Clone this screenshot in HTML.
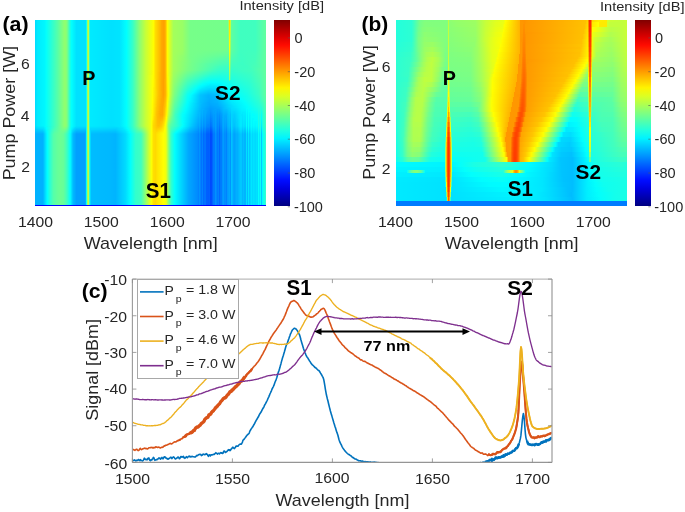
<!DOCTYPE html>
<html><head><meta charset="utf-8"><style>
html,body{margin:0;padding:0;background:#fff;}
body{width:685px;height:512px;position:relative;overflow:hidden;font-family:"Liberation Sans",sans-serif;}
.hm{position:absolute;overflow:hidden;}
.hm div{position:absolute;left:0;width:100%;}
.cb{position:absolute;background:linear-gradient(180deg,#800000 0.00%,#ae0000 4.55%,#dc0000 9.09%,#ff0c00 13.64%,#ff3a00 18.18%,#ff6800 22.73%,#ff9700 27.27%,#ffc500 31.82%,#fff300 36.36%,#dcff23 40.91%,#aeff51 45.45%,#80ff80 50.00%,#51ffae 54.55%,#23ffdc 59.09%,#00f3ff 63.64%,#00c5ff 68.18%,#0097ff 72.73%,#0068ff 77.27%,#003aff 81.82%,#000cff 86.36%,#0000dc 90.91%,#0000ae 95.45%,#000080 100.00%);}
svg{position:absolute;left:0;top:0;}
</style></head><body>
<div style="position:absolute;left:0;top:0;width:685px;height:512px;filter:blur(0.35px)">
<div class="hm" style="left:35px;top:20px;width:231px;height:186px">
<div style="top:0px;height:1px;background:linear-gradient(90deg,#00dcff 0px,#00ebff 2.5px,#00f7ff 9.5px,#06fff9 11.5px,#56ffa9 22.5px,#89ff76 28.5px,#8fff70 29.5px,#8dff72 30.5px,#84ff7b 31.5px,#6fff90 32.5px,#15ffea 35.5px,#03fffc 36.5px,#00e1ff 41.5px,#00e1ff 50.5px,#0bfff4 51.5px,#9dff62 52.5px,#c1ff3e 53.5px,#2effd1 54.5px,#00eaff 55.5px,#00e1ff 76.5px,#00e4ff 84.5px,#01fffe 91.5px,#35ffca 97.5px,#8bff74 104.5px,#c5ff3a 110.5px,#fffd00 118.5px,#ffdc00 120.5px,#ffb400 125.5px,#ffa900 126.5px,#ffa100 128.5px,#ffa500 129.5px,#ffb500 130.5px,#fffd00 132.5px,#ccff33 135.5px,#a4ff5b 138.5px,#99ff66 147.5px,#76ff89 155.5px,#74ff8b 191.5px,#6fff90 192.5px,#9fff60 193.5px,#ffd900 194.5px,#ccff33 195.5px,#5dffa2 196.5px,#3fffc0 205.5px,#40ffbf 220.5px,#62ff9d 231px)"></div>
<div style="top:1px;height:1px;background:linear-gradient(90deg,#00dcff 0px,#00ebff 2.5px,#00f7ff 9.5px,#06fff9 11.5px,#56ffa9 22.5px,#89ff76 28.5px,#8fff70 29.5px,#8dff72 30.5px,#84ff7b 31.5px,#6fff90 32.5px,#15ffea 35.5px,#03fffc 36.5px,#00e1ff 41.5px,#00e1ff 50.5px,#0bfff4 51.5px,#9dff62 52.5px,#c1ff3e 53.5px,#2effd1 54.5px,#00eaff 55.5px,#00e1ff 76.5px,#00e4ff 84.5px,#01fffe 91.5px,#35ffca 97.5px,#8bff74 104.5px,#c5ff3a 110.5px,#fffd00 118.5px,#ffdc00 120.5px,#ffb400 125.5px,#ffa900 126.5px,#ffa100 128.5px,#ffa500 129.5px,#ffb500 130.5px,#fffd00 132.5px,#ccff33 135.5px,#a4ff5b 138.5px,#99ff66 147.5px,#76ff89 155.5px,#74ff8b 191.5px,#6fff90 192.5px,#9dff62 193.5px,#ffdb00 194.5px,#caff35 195.5px,#5dffa2 196.5px,#3fffc0 205.5px,#40ffbf 220.5px,#62ff9d 231px)"></div>
<div style="top:2px;height:1px;background:linear-gradient(90deg,#00dcff 0px,#00ebff 2.5px,#00f7ff 9.5px,#06fff9 11.5px,#56ffa9 22.5px,#89ff76 28.5px,#8fff70 29.5px,#8dff72 30.5px,#84ff7b 31.5px,#6fff90 32.5px,#15ffea 35.5px,#03fffc 36.5px,#00e1ff 41.5px,#00e1ff 50.5px,#0bfff4 51.5px,#9dff62 52.5px,#c1ff3e 53.5px,#2effd1 54.5px,#00eaff 55.5px,#00e1ff 76.5px,#00e4ff 84.5px,#01fffe 91.5px,#35ffca 97.5px,#8bff74 104.5px,#c5ff3a 110.5px,#fffd00 118.5px,#ffdc00 120.5px,#ffb400 125.5px,#ffa900 126.5px,#ffa100 128.5px,#ffa500 129.5px,#ffb500 130.5px,#fffd00 132.5px,#ccff33 135.5px,#a4ff5b 138.5px,#99ff66 147.5px,#76ff89 155.5px,#74ff8b 191.5px,#6fff90 192.5px,#9cff63 193.5px,#ffdd00 194.5px,#c8ff37 195.5px,#5dffa2 196.5px,#3fffc0 205.5px,#40ffbf 220.5px,#62ff9d 231px)"></div>
<div style="top:3px;height:1px;background:linear-gradient(90deg,#00dcff 0px,#00ebff 2.5px,#00f7ff 9.5px,#06fff9 11.5px,#56ffa9 22.5px,#89ff76 28.5px,#8fff70 29.5px,#8dff72 30.5px,#84ff7b 31.5px,#6fff90 32.5px,#15ffea 35.5px,#03fffc 36.5px,#00e1ff 41.5px,#00e1ff 50.5px,#0bfff4 51.5px,#9dff62 52.5px,#c1ff3e 53.5px,#2effd1 54.5px,#00eaff 55.5px,#00e1ff 76.5px,#00e4ff 84.5px,#01fffe 91.5px,#35ffca 97.5px,#8bff74 104.5px,#c5ff3a 110.5px,#fffd00 118.5px,#ffdc00 120.5px,#ffb400 125.5px,#ffa900 126.5px,#ffa100 128.5px,#ffa500 129.5px,#ffb500 130.5px,#fffd00 132.5px,#ccff33 135.5px,#a4ff5b 138.5px,#99ff66 147.5px,#76ff89 155.5px,#74ff8b 191.5px,#6fff90 192.5px,#9aff65 193.5px,#ffde00 194.5px,#c7ff38 195.5px,#5dffa2 196.5px,#3fffc0 205.5px,#40ffbf 220.5px,#62ff9d 231px)"></div>
<div style="top:4px;height:1px;background:linear-gradient(90deg,#00dcff 0px,#00ebff 2.5px,#00f7ff 9.5px,#06fff9 11.5px,#56ffa9 22.5px,#89ff76 28.5px,#8fff70 29.5px,#8dff72 30.5px,#84ff7b 31.5px,#6fff90 32.5px,#15ffea 35.5px,#03fffc 36.5px,#00e1ff 41.5px,#00e1ff 50.5px,#0bfff4 51.5px,#9dff62 52.5px,#c1ff3e 53.5px,#2effd1 54.5px,#00eaff 55.5px,#00e1ff 76.5px,#00e4ff 84.5px,#01fffe 91.5px,#35ffca 97.5px,#8bff74 104.5px,#c5ff3a 110.5px,#fffd00 118.5px,#ffdc00 120.5px,#ffb400 125.5px,#ffa900 126.5px,#ffa100 128.5px,#ffa500 129.5px,#ffb500 130.5px,#fffd00 132.5px,#ccff33 135.5px,#a4ff5b 138.5px,#99ff66 147.5px,#76ff89 155.5px,#74ff8b 191.5px,#6fff90 192.5px,#99ff66 193.5px,#ffe000 194.5px,#c5ff3a 195.5px,#5dffa2 196.5px,#3fffc0 205.5px,#40ffbf 220.5px,#62ff9d 231px)"></div>
<div style="top:5px;height:1px;background:linear-gradient(90deg,#00dcff 0px,#00ebff 2.5px,#00f7ff 9.5px,#06fff9 11.5px,#56ffa9 22.5px,#89ff76 28.5px,#8fff70 29.5px,#8dff72 30.5px,#84ff7b 31.5px,#6fff90 32.5px,#15ffea 35.5px,#03fffc 36.5px,#00e1ff 41.5px,#00e1ff 50.5px,#0bfff4 51.5px,#9dff62 52.5px,#c1ff3e 53.5px,#2effd1 54.5px,#00eaff 55.5px,#00e1ff 76.5px,#00e4ff 84.5px,#01fffe 91.5px,#35ffca 97.5px,#8bff74 104.5px,#c5ff3a 110.5px,#fffd00 118.5px,#ffdc00 120.5px,#ffb400 125.5px,#ffa900 126.5px,#ffa100 128.5px,#ffa500 129.5px,#ffb500 130.5px,#fffd00 132.5px,#ccff33 135.5px,#a4ff5b 138.5px,#99ff66 147.5px,#76ff89 155.5px,#74ff8b 191.5px,#6fff90 192.5px,#97ff68 193.5px,#ffe100 194.5px,#c4ff3b 195.5px,#5dffa2 196.5px,#3fffc0 205.5px,#40ffbf 220.5px,#62ff9d 231px)"></div>
<div style="top:6px;height:1px;background:linear-gradient(90deg,#00dcff 0px,#00ebff 2.5px,#00f7ff 9.5px,#06fff9 11.5px,#56ffa9 22.5px,#89ff76 28.5px,#8fff70 29.5px,#8dff72 30.5px,#84ff7b 31.5px,#6fff90 32.5px,#15ffea 35.5px,#03fffc 36.5px,#00e1ff 41.5px,#00e1ff 50.5px,#0bfff4 51.5px,#9dff62 52.5px,#c1ff3e 53.5px,#2effd1 54.5px,#00eaff 55.5px,#00e1ff 76.5px,#00e4ff 84.5px,#01fffe 91.5px,#35ffca 97.5px,#8bff74 104.5px,#c5ff3a 110.5px,#fffd00 118.5px,#ffdc00 120.5px,#ffb400 125.5px,#ffa900 126.5px,#ffa100 128.5px,#ffa500 129.5px,#ffb500 130.5px,#fffd00 132.5px,#ccff33 135.5px,#a4ff5b 138.5px,#99ff66 147.5px,#76ff89 155.5px,#74ff8b 191.5px,#6fff90 192.5px,#96ff69 193.5px,#ffe300 194.5px,#c2ff3d 195.5px,#5dffa2 196.5px,#3fffc0 205.5px,#40ffbf 220.5px,#62ff9d 231px)"></div>
<div style="top:7px;height:1px;background:linear-gradient(90deg,#00dcff 0px,#00ebff 2.5px,#00f7ff 9.5px,#06fff9 11.5px,#56ffa9 22.5px,#89ff76 28.5px,#8fff70 29.5px,#8dff72 30.5px,#84ff7b 31.5px,#6fff90 32.5px,#15ffea 35.5px,#03fffc 36.5px,#00e1ff 41.5px,#00e1ff 50.5px,#0bfff4 51.5px,#9dff62 52.5px,#c1ff3e 53.5px,#2effd1 54.5px,#00eaff 55.5px,#00e1ff 76.5px,#00e4ff 84.5px,#01fffe 91.5px,#35ffca 97.5px,#8bff74 104.5px,#c5ff3a 110.5px,#fffd00 118.5px,#ffdc00 120.5px,#ffb400 125.5px,#ffa900 126.5px,#ffa100 128.5px,#ffa500 129.5px,#ffb500 130.5px,#fffd00 132.5px,#ccff33 135.5px,#a4ff5b 138.5px,#99ff66 147.5px,#76ff89 155.5px,#74ff8b 191.5px,#6fff90 192.5px,#94ff6b 193.5px,#ffe400 194.5px,#c1ff3e 195.5px,#5dffa2 196.5px,#3fffc0 205.5px,#40ffbf 220.5px,#62ff9d 231px)"></div>
<div style="top:8px;height:1px;background:linear-gradient(90deg,#00dcff 0px,#00ebff 2.5px,#00f7ff 9.5px,#06fff9 11.5px,#56ffa9 22.5px,#89ff76 28.5px,#8fff70 29.5px,#8dff72 30.5px,#84ff7b 31.5px,#6fff90 32.5px,#15ffea 35.5px,#03fffc 36.5px,#00e1ff 41.5px,#00e1ff 50.5px,#0bfff4 51.5px,#9dff62 52.5px,#c1ff3e 53.5px,#2effd1 54.5px,#00eaff 55.5px,#00e1ff 76.5px,#00e4ff 84.5px,#01fffe 91.5px,#35ffca 97.5px,#8bff74 104.5px,#c5ff3a 110.5px,#fffd00 118.5px,#ffdc00 120.5px,#ffb400 125.5px,#ffa900 126.5px,#ffa100 128.5px,#ffa500 129.5px,#ffb500 130.5px,#fffd00 132.5px,#ccff33 135.5px,#a4ff5b 138.5px,#99ff66 147.5px,#76ff89 155.5px,#74ff8b 191.5px,#6fff90 192.5px,#93ff6c 193.5px,#ffe600 194.5px,#bfff40 195.5px,#5dffa2 196.5px,#3fffc0 205.5px,#40ffbf 220.5px,#62ff9d 231px)"></div>
<div style="top:9px;height:1px;background:linear-gradient(90deg,#00dcff 0px,#00ebff 2.5px,#00f7ff 9.5px,#06fff9 11.5px,#56ffa9 22.5px,#89ff76 28.5px,#8fff70 29.5px,#8dff72 30.5px,#84ff7b 31.5px,#6fff90 32.5px,#15ffea 35.5px,#03fffc 36.5px,#00e1ff 41.5px,#00e1ff 50.5px,#0bfff4 51.5px,#9dff62 52.5px,#c1ff3e 53.5px,#2effd1 54.5px,#00eaff 55.5px,#00e1ff 76.5px,#00e4ff 84.5px,#01fffe 91.5px,#35ffca 97.5px,#8bff74 104.5px,#c5ff3a 110.5px,#fffd00 118.5px,#ffdc00 120.5px,#ffb400 125.5px,#ffa900 126.5px,#ffa100 128.5px,#ffa500 129.5px,#ffb500 130.5px,#fffd00 132.5px,#ccff33 135.5px,#a4ff5b 138.5px,#99ff66 147.5px,#76ff89 155.5px,#74ff8b 191.5px,#6fff90 192.5px,#91ff6e 193.5px,#ffe700 194.5px,#beff41 195.5px,#5dffa2 196.5px,#3fffc0 205.5px,#40ffbf 220.5px,#62ff9d 231px)"></div>
<div style="top:10px;height:1px;background:linear-gradient(90deg,#00dcff 0px,#00ebff 2.5px,#00f7ff 9.5px,#06fff9 11.5px,#56ffa9 22.5px,#89ff76 28.5px,#8fff70 29.5px,#8dff72 30.5px,#84ff7b 31.5px,#6fff90 32.5px,#15ffea 35.5px,#03fffc 36.5px,#00e1ff 41.5px,#00e1ff 50.5px,#0bfff4 51.5px,#9dff62 52.5px,#c1ff3e 53.5px,#2effd1 54.5px,#00eaff 55.5px,#00e1ff 76.5px,#00e4ff 84.5px,#01fffe 91.5px,#35ffca 97.5px,#8bff74 104.5px,#c5ff3a 110.5px,#fffd00 118.5px,#ffdc00 120.5px,#ffb400 125.5px,#ffa900 126.5px,#ffa100 128.5px,#ffa500 129.5px,#ffb500 130.5px,#fffd00 132.5px,#ccff33 135.5px,#a4ff5b 138.5px,#99ff66 147.5px,#76ff89 155.5px,#74ff8b 191.5px,#6fff90 192.5px,#90ff6f 193.5px,#ffe900 194.5px,#bcff43 195.5px,#5dffa2 196.5px,#3fffc0 205.5px,#40ffbf 220.5px,#62ff9d 231px)"></div>
<div style="top:11px;height:1px;background:linear-gradient(90deg,#00dcff 0px,#00ebff 2.5px,#00f7ff 9.5px,#06fff9 11.5px,#56ffa9 22.5px,#89ff76 28.5px,#8fff70 29.5px,#8dff72 30.5px,#84ff7b 31.5px,#6fff90 32.5px,#15ffea 35.5px,#03fffc 36.5px,#00e1ff 41.5px,#00e1ff 50.5px,#0bfff4 51.5px,#9dff62 52.5px,#c1ff3e 53.5px,#2effd1 54.5px,#00eaff 55.5px,#00e1ff 76.5px,#00e4ff 84.5px,#01fffe 91.5px,#35ffca 97.5px,#8bff74 104.5px,#c5ff3a 110.5px,#fffd00 118.5px,#ffdc00 120.5px,#ffb400 125.5px,#ffa900 126.5px,#ffa100 128.5px,#ffa500 129.5px,#ffb500 130.5px,#fffd00 132.5px,#ccff33 135.5px,#a4ff5b 138.5px,#99ff66 147.5px,#76ff89 155.5px,#74ff8b 191.5px,#6fff90 192.5px,#8eff71 193.5px,#ffea00 194.5px,#bbff44 195.5px,#5dffa2 196.5px,#3fffc0 205.5px,#40ffbf 220.5px,#62ff9d 231px)"></div>
<div style="top:12px;height:1px;background:linear-gradient(90deg,#00dcff 0px,#00ebff 2.5px,#00f7ff 9.5px,#06fff9 11.5px,#56ffa9 22.5px,#89ff76 28.5px,#8fff70 29.5px,#8dff72 30.5px,#84ff7b 31.5px,#6fff90 32.5px,#15ffea 35.5px,#03fffc 36.5px,#00e1ff 41.5px,#00e1ff 50.5px,#0bfff4 51.5px,#9dff62 52.5px,#c1ff3e 53.5px,#2effd1 54.5px,#00eaff 55.5px,#00e1ff 76.5px,#00e4ff 84.5px,#01fffe 91.5px,#35ffca 97.5px,#8bff74 104.5px,#c5ff3a 110.5px,#fffd00 118.5px,#ffdc00 120.5px,#ffb400 125.5px,#ffa900 126.5px,#ffa100 128.5px,#ffa500 129.5px,#ffb500 130.5px,#fffd00 132.5px,#ccff33 135.5px,#a4ff5b 138.5px,#99ff66 147.5px,#76ff89 155.5px,#74ff8b 191.5px,#6fff90 192.5px,#8cff73 193.5px,#ffec00 194.5px,#b9ff46 195.5px,#5dffa2 196.5px,#3fffc0 205.5px,#40ffbf 220.5px,#62ff9d 231px)"></div>
<div style="top:13px;height:1px;background:linear-gradient(90deg,#00dcff 0px,#00ebff 2.5px,#00f7ff 9.5px,#06fff9 11.5px,#56ffa9 22.5px,#89ff76 28.5px,#8fff70 29.5px,#8dff72 30.5px,#84ff7b 31.5px,#6fff90 32.5px,#15ffea 35.5px,#03fffc 36.5px,#00e1ff 41.5px,#00e1ff 50.5px,#0bfff4 51.5px,#9dff62 52.5px,#c1ff3e 53.5px,#2effd1 54.5px,#00eaff 55.5px,#00e1ff 76.5px,#00e4ff 84.5px,#01fffe 91.5px,#35ffca 97.5px,#8bff74 104.5px,#c5ff3a 110.5px,#fffd00 118.5px,#ffdc00 120.5px,#ffb400 125.5px,#ffa900 126.5px,#ffa100 128.5px,#ffa500 129.5px,#ffb500 130.5px,#fffd00 132.5px,#ccff33 135.5px,#a4ff5b 138.5px,#99ff66 147.5px,#76ff89 155.5px,#74ff8b 191.5px,#6fff90 192.5px,#8bff74 193.5px,#ffee00 194.5px,#b7ff48 195.5px,#5dffa2 196.5px,#3fffc0 205.5px,#40ffbf 220.5px,#62ff9d 231px)"></div>
<div style="top:14px;height:1px;background:linear-gradient(90deg,#00dcff 0px,#00ebff 2.5px,#00f7ff 9.5px,#06fff9 11.5px,#56ffa9 22.5px,#89ff76 28.5px,#8fff70 29.5px,#8dff72 30.5px,#84ff7b 31.5px,#6fff90 32.5px,#15ffea 35.5px,#03fffc 36.5px,#00e1ff 41.5px,#00e1ff 50.5px,#0bfff4 51.5px,#9dff62 52.5px,#c1ff3e 53.5px,#2effd1 54.5px,#00eaff 55.5px,#00e1ff 76.5px,#00e4ff 84.5px,#01fffe 91.5px,#35ffca 97.5px,#8bff74 104.5px,#c5ff3a 110.5px,#fffd00 118.5px,#ffdc00 120.5px,#ffb400 125.5px,#ffa900 126.5px,#ffa100 128.5px,#ffa500 129.5px,#ffb500 130.5px,#fffd00 132.5px,#ccff33 135.5px,#a4ff5b 138.5px,#99ff66 147.5px,#76ff89 155.5px,#74ff8b 191.5px,#6fff90 192.5px,#89ff76 193.5px,#ffef00 194.5px,#b6ff49 195.5px,#5dffa2 196.5px,#3fffc0 205.5px,#40ffbf 220.5px,#62ff9d 231px)"></div>
<div style="top:15px;height:1px;background:linear-gradient(90deg,#00dcff 0px,#00ebff 2.5px,#00f7ff 9.5px,#06fff9 11.5px,#56ffa9 22.5px,#89ff76 28.5px,#8fff70 29.5px,#8dff72 30.5px,#84ff7b 31.5px,#6fff90 32.5px,#15ffea 35.5px,#03fffc 36.5px,#00e1ff 41.5px,#00e1ff 50.5px,#0bfff4 51.5px,#9dff62 52.5px,#c1ff3e 53.5px,#2effd1 54.5px,#00eaff 55.5px,#00e1ff 76.5px,#00e4ff 84.5px,#01fffe 91.5px,#35ffca 97.5px,#8bff74 104.5px,#c5ff3a 110.5px,#fffd00 118.5px,#ffdc00 120.5px,#ffb400 125.5px,#ffa900 126.5px,#ffa100 128.5px,#ffa500 129.5px,#ffb500 130.5px,#fffd00 132.5px,#ccff33 135.5px,#a4ff5b 138.5px,#99ff66 147.5px,#76ff89 155.5px,#74ff8b 191.5px,#6fff90 192.5px,#88ff77 193.5px,#fff100 194.5px,#b4ff4b 195.5px,#5dffa2 196.5px,#3fffc0 205.5px,#40ffbf 220.5px,#62ff9d 231px)"></div>
<div style="top:16px;height:1px;background:linear-gradient(90deg,#00dcff 0px,#00ebff 2.5px,#00f7ff 9.5px,#06fff9 11.5px,#56ffa9 22.5px,#89ff76 28.5px,#8fff70 29.5px,#8dff72 30.5px,#84ff7b 31.5px,#6fff90 32.5px,#15ffea 35.5px,#03fffc 36.5px,#00e1ff 41.5px,#00e1ff 50.5px,#0bfff4 51.5px,#9dff62 52.5px,#c1ff3e 53.5px,#2effd1 54.5px,#00eaff 55.5px,#00e1ff 76.5px,#00e4ff 84.5px,#01fffe 91.5px,#35ffca 97.5px,#8bff74 104.5px,#c5ff3a 110.5px,#fffd00 118.5px,#ffdc00 120.5px,#ffb400 125.5px,#ffa900 126.5px,#ffa100 128.5px,#ffa500 129.5px,#ffb500 130.5px,#fffd00 132.5px,#ccff33 135.5px,#a4ff5b 138.5px,#99ff66 147.5px,#76ff89 155.5px,#74ff8b 191.5px,#6fff90 192.5px,#86ff79 193.5px,#fff200 194.5px,#b3ff4c 195.5px,#5dffa2 196.5px,#3fffc0 205.5px,#40ffbf 220.5px,#62ff9d 231px)"></div>
<div style="top:17px;height:1px;background:linear-gradient(90deg,#00dcff 0px,#00ebff 2.5px,#00f7ff 9.5px,#06fff9 11.5px,#56ffa9 22.5px,#89ff76 28.5px,#8fff70 29.5px,#8dff72 30.5px,#84ff7b 31.5px,#6fff90 32.5px,#15ffea 35.5px,#03fffc 36.5px,#00e1ff 41.5px,#00e1ff 50.5px,#0bfff4 51.5px,#9dff62 52.5px,#c1ff3e 53.5px,#2effd1 54.5px,#00eaff 55.5px,#00e1ff 76.5px,#00e4ff 84.5px,#01fffe 91.5px,#35ffca 97.5px,#8bff74 104.5px,#c5ff3a 110.5px,#fffd00 118.5px,#ffdc00 120.5px,#ffb400 125.5px,#ffa900 126.5px,#ffa100 128.5px,#ffa500 129.5px,#ffb500 130.5px,#fffd00 132.5px,#ccff33 135.5px,#a4ff5b 138.5px,#99ff66 147.5px,#76ff89 155.5px,#74ff8b 191.5px,#6fff90 192.5px,#85ff7a 193.5px,#fff400 194.5px,#b1ff4e 195.5px,#5dffa2 196.5px,#3fffc0 205.5px,#40ffbf 220.5px,#62ff9d 231px)"></div>
<div style="top:18px;height:1px;background:linear-gradient(90deg,#00dcff 0px,#00ebff 2.5px,#00f7ff 9.5px,#06fff9 11.5px,#56ffa9 22.5px,#89ff76 28.5px,#8fff70 29.5px,#8dff72 30.5px,#84ff7b 31.5px,#6fff90 32.5px,#15ffea 35.5px,#03fffc 36.5px,#00e1ff 41.5px,#00e1ff 50.5px,#0bfff4 51.5px,#9dff62 52.5px,#c1ff3e 53.5px,#2effd1 54.5px,#00eaff 55.5px,#00e1ff 76.5px,#00e4ff 84.5px,#01fffe 91.5px,#35ffca 97.5px,#8bff74 104.5px,#c5ff3a 110.5px,#fffd00 118.5px,#ffdc00 120.5px,#ffb400 125.5px,#ffa900 126.5px,#ffa100 128.5px,#ffa500 129.5px,#ffb500 130.5px,#fffd00 132.5px,#ccff33 135.5px,#a4ff5b 138.5px,#99ff66 147.5px,#76ff89 155.5px,#74ff8b 191.5px,#6fff90 192.5px,#83ff7c 193.5px,#fff500 194.5px,#b0ff4f 195.5px,#5dffa2 196.5px,#3fffc0 205.5px,#40ffbf 220.5px,#62ff9d 231px)"></div>
<div style="top:19px;height:1px;background:linear-gradient(90deg,#00dcff 0px,#00ebff 2.5px,#00f7ff 9.5px,#06fff9 11.5px,#56ffa9 22.5px,#89ff76 28.5px,#8fff70 29.5px,#8dff72 30.5px,#84ff7b 31.5px,#6fff90 32.5px,#15ffea 35.5px,#03fffc 36.5px,#00e1ff 41.5px,#00e1ff 50.5px,#0bfff4 51.5px,#9dff62 52.5px,#c1ff3e 53.5px,#2effd1 54.5px,#00eaff 55.5px,#00e1ff 76.5px,#00e4ff 84.5px,#01fffe 91.5px,#35ffca 97.5px,#8bff74 104.5px,#c5ff3a 110.5px,#fffd00 118.5px,#ffdc00 120.5px,#ffb400 125.5px,#ffa900 126.5px,#ffa100 128.5px,#ffa500 129.5px,#ffb500 130.5px,#fffd00 132.5px,#ccff33 135.5px,#a4ff5b 138.5px,#99ff66 147.5px,#76ff89 155.5px,#74ff8b 191.5px,#6fff90 192.5px,#82ff7d 193.5px,#fff700 194.5px,#aeff51 195.5px,#5dffa2 196.5px,#3fffc0 205.5px,#40ffbf 220.5px,#62ff9d 231px)"></div>
<div style="top:20px;height:1px;background:linear-gradient(90deg,#00dcff 0px,#00ebff 2.5px,#00f7ff 9.5px,#06fff9 11.5px,#56ffa9 22.5px,#89ff76 28.5px,#8fff70 29.5px,#8dff72 30.5px,#84ff7b 31.5px,#6fff90 32.5px,#15ffea 35.5px,#03fffc 36.5px,#00e1ff 41.5px,#00e1ff 50.5px,#0bfff4 51.5px,#9dff62 52.5px,#c1ff3e 53.5px,#2effd1 54.5px,#00eaff 55.5px,#00e1ff 76.5px,#00e4ff 84.5px,#01fffe 91.5px,#35ffca 97.5px,#8bff74 104.5px,#c5ff3a 110.5px,#fffd00 118.5px,#ffdc00 120.5px,#ffb400 125.5px,#ffa900 126.5px,#ffa100 128.5px,#ffa500 129.5px,#ffb500 130.5px,#fffd00 132.5px,#ccff33 135.5px,#a4ff5b 138.5px,#99ff66 147.5px,#76ff89 155.5px,#74ff8b 191.5px,#6fff90 192.5px,#80ff7f 193.5px,#fff800 194.5px,#adff52 195.5px,#5dffa2 196.5px,#3fffc0 205.5px,#40ffbf 220.5px,#62ff9d 231px)"></div>
<div style="top:21px;height:1px;background:linear-gradient(90deg,#00dcff 0px,#00ebff 2.5px,#00f7ff 9.5px,#06fff9 11.5px,#56ffa9 22.5px,#89ff76 28.5px,#8fff70 29.5px,#8dff72 30.5px,#84ff7b 31.5px,#6fff90 32.5px,#15ffea 35.5px,#03fffc 36.5px,#00e1ff 41.5px,#00e1ff 50.5px,#0bfff4 51.5px,#9dff62 52.5px,#c1ff3e 53.5px,#2effd1 54.5px,#00eaff 55.5px,#00e1ff 76.5px,#00e4ff 84.5px,#01fffe 91.5px,#35ffca 97.5px,#8bff74 104.5px,#c5ff3a 110.5px,#fffd00 118.5px,#ffdc00 120.5px,#ffb400 125.5px,#ffa900 126.5px,#ffa100 128.5px,#ffa500 129.5px,#ffb500 130.5px,#fffd00 132.5px,#ccff33 135.5px,#a4ff5b 138.5px,#99ff66 147.5px,#76ff89 155.5px,#74ff8b 191.5px,#6fff90 192.5px,#7fff80 193.5px,#fffa00 194.5px,#5dffa2 196.5px,#3fffc0 205.5px,#40ffbf 220.5px,#62ff9d 231px)"></div>
<div style="top:22px;height:1px;background:linear-gradient(90deg,#00dcff 0px,#00ebff 2.5px,#00f7ff 9.5px,#06fff9 11.5px,#56ffa9 22.5px,#89ff76 28.5px,#8fff70 29.5px,#8dff72 30.5px,#84ff7b 31.5px,#6fff90 32.5px,#15ffea 35.5px,#03fffc 36.5px,#00e1ff 41.5px,#00e1ff 50.5px,#0bfff4 51.5px,#9dff62 52.5px,#c1ff3e 53.5px,#2effd1 54.5px,#00eaff 55.5px,#00e1ff 76.5px,#00e4ff 84.5px,#01fffe 91.5px,#35ffca 97.5px,#8bff74 104.5px,#c5ff3a 110.5px,#fffd00 118.5px,#ffdc00 120.5px,#ffb400 125.5px,#ffa900 126.5px,#ffa100 128.5px,#ffa500 129.5px,#ffb500 130.5px,#fffd00 132.5px,#ccff33 135.5px,#a4ff5b 138.5px,#99ff66 147.5px,#76ff89 155.5px,#74ff8b 191.5px,#6fff90 192.5px,#7dff82 193.5px,#fffb00 194.5px,#aaff55 195.5px,#5dffa2 196.5px,#3fffc0 205.5px,#40ffbf 220.5px,#62ff9d 231px)"></div>
<div style="top:23px;height:1px;background:linear-gradient(90deg,#00dcff 0px,#00ebff 2.5px,#00f7ff 9.5px,#06fff9 11.5px,#56ffa9 22.5px,#89ff76 28.5px,#8fff70 29.5px,#8dff72 30.5px,#84ff7b 31.5px,#6fff90 32.5px,#15ffea 35.5px,#03fffc 36.5px,#00e1ff 41.5px,#00e1ff 50.5px,#0bfff4 51.5px,#9dff62 52.5px,#c1ff3e 53.5px,#2effd1 54.5px,#00eaff 55.5px,#00e1ff 76.5px,#00e4ff 84.5px,#01fffe 91.5px,#35ffca 97.5px,#8bff74 104.5px,#c5ff3a 110.5px,#fffd00 118.5px,#ffdc00 120.5px,#ffb400 125.5px,#ffa900 126.5px,#ffa100 128.5px,#ffa500 129.5px,#ffb500 130.5px,#fffd00 132.5px,#ccff33 135.5px,#a4ff5b 138.5px,#99ff66 147.5px,#76ff89 155.5px,#74ff8b 191.5px,#6fff90 192.5px,#7bff84 193.5px,#fffd00 194.5px,#a8ff57 195.5px,#5dffa2 196.5px,#3fffc0 205.5px,#40ffbf 220.5px,#62ff9d 231px)"></div>
<div style="top:24px;height:1px;background:linear-gradient(90deg,#00dcff 0px,#00ebff 2.5px,#00f7ff 9.5px,#06fff9 11.5px,#56ffa9 22.5px,#89ff76 28.5px,#8fff70 29.5px,#8dff72 30.5px,#84ff7b 31.5px,#6fff90 32.5px,#15ffea 35.5px,#03fffc 36.5px,#00e1ff 41.5px,#00e1ff 50.5px,#0bfff4 51.5px,#9dff62 52.5px,#c1ff3e 53.5px,#2effd1 54.5px,#00eaff 55.5px,#00e1ff 76.5px,#00e4ff 84.5px,#01fffe 91.5px,#35ffca 97.5px,#8bff74 104.5px,#c5ff3a 110.5px,#fffd00 118.5px,#ffdc00 120.5px,#ffb400 125.5px,#ffa900 126.5px,#ffa100 128.5px,#ffa500 129.5px,#ffb500 130.5px,#fffd00 132.5px,#ccff33 135.5px,#a4ff5b 138.5px,#99ff66 147.5px,#76ff89 155.5px,#74ff8b 191.5px,#6fff90 192.5px,#7aff85 193.5px,#ffff00 194.5px,#a6ff59 195.5px,#5dffa2 196.5px,#3fffc0 205.5px,#40ffbf 220.5px,#62ff9d 231px)"></div>
<div style="top:25px;height:1px;background:linear-gradient(90deg,#00dcff 0px,#00ebff 2.5px,#00f7ff 9.5px,#06fff9 11.5px,#56ffa9 22.5px,#89ff76 28.5px,#8fff70 29.5px,#8dff72 30.5px,#84ff7b 31.5px,#6fff90 32.5px,#15ffea 35.5px,#03fffc 36.5px,#00e1ff 41.5px,#00e1ff 50.5px,#0bfff4 51.5px,#9dff62 52.5px,#c1ff3e 53.5px,#2effd1 54.5px,#00eaff 55.5px,#00e1ff 76.5px,#00e4ff 84.5px,#01fffe 91.5px,#35ffca 97.5px,#8bff74 104.5px,#c5ff3a 110.5px,#fffd00 118.5px,#ffdc00 120.5px,#ffb400 125.5px,#ffa900 126.5px,#ffa100 128.5px,#ffa500 129.5px,#ffb500 130.5px,#fffd00 132.5px,#ccff33 135.5px,#a4ff5b 138.5px,#99ff66 147.5px,#76ff89 155.5px,#74ff8b 191.5px,#6fff90 192.5px,#78ff87 193.5px,#feff01 194.5px,#a5ff5a 195.5px,#5dffa2 196.5px,#3fffc0 205.5px,#40ffbf 220.5px,#62ff9d 231px)"></div>
<div style="top:26px;height:1px;background:linear-gradient(90deg,#00dcff 0px,#00ebff 2.5px,#00f7ff 9.5px,#06fff9 11.5px,#56ffa9 22.5px,#89ff76 28.5px,#8fff70 29.5px,#8dff72 30.5px,#84ff7b 31.5px,#6fff90 32.5px,#15ffea 35.5px,#03fffc 36.5px,#00e1ff 41.5px,#00e1ff 50.5px,#0bfff4 51.5px,#9dff62 52.5px,#c1ff3e 53.5px,#2effd1 54.5px,#00eaff 55.5px,#00e1ff 76.5px,#00e4ff 84.5px,#01fffe 91.5px,#35ffca 97.5px,#8bff74 104.5px,#c5ff3a 110.5px,#fffd00 118.5px,#ffdc00 120.5px,#ffb400 125.5px,#ffa900 126.5px,#ffa100 128.5px,#ffa500 129.5px,#ffb500 130.5px,#fffd00 132.5px,#ccff33 135.5px,#a4ff5b 138.5px,#99ff66 147.5px,#76ff89 155.5px,#74ff8b 191.5px,#6fff90 192.5px,#77ff88 193.5px,#fcff03 194.5px,#a3ff5c 195.5px,#5dffa2 196.5px,#3fffc0 205.5px,#40ffbf 220.5px,#62ff9d 231px)"></div>
<div style="top:27px;height:1px;background:linear-gradient(90deg,#00dcff 0px,#00ebff 2.5px,#00f7ff 9.5px,#06fff9 11.5px,#56ffa9 22.5px,#89ff76 28.5px,#8fff70 29.5px,#8dff72 30.5px,#84ff7b 31.5px,#6fff90 32.5px,#15ffea 35.5px,#03fffc 36.5px,#00e1ff 41.5px,#00e1ff 50.5px,#0bfff4 51.5px,#9dff62 52.5px,#c1ff3e 53.5px,#2effd1 54.5px,#00eaff 55.5px,#00e1ff 76.5px,#00e4ff 84.5px,#01fffe 91.5px,#35ffca 97.5px,#8bff74 104.5px,#c5ff3a 110.5px,#fffd00 118.5px,#ffdc00 120.5px,#ffb400 125.5px,#ffa900 126.5px,#ffa100 128.5px,#ffa500 129.5px,#ffb500 130.5px,#fffd00 132.5px,#ccff33 135.5px,#a4ff5b 138.5px,#99ff66 147.5px,#76ff89 155.5px,#74ff8b 191.5px,#6fff90 192.5px,#75ff8a 193.5px,#fbff04 194.5px,#a2ff5d 195.5px,#5dffa2 196.5px,#3fffc0 205.5px,#40ffbf 220.5px,#62ff9d 231px)"></div>
<div style="top:28px;height:1px;background:linear-gradient(90deg,#00dcff 0px,#00ebff 2.5px,#00f7ff 9.5px,#06fff9 11.5px,#56ffa9 22.5px,#89ff76 28.5px,#8fff70 29.5px,#8dff72 30.5px,#84ff7b 31.5px,#6fff90 32.5px,#15ffea 35.5px,#03fffc 36.5px,#00e1ff 41.5px,#00e1ff 50.5px,#0bfff4 51.5px,#9dff62 52.5px,#c1ff3e 53.5px,#2effd1 54.5px,#00eaff 55.5px,#00e1ff 76.5px,#00e4ff 84.5px,#01fffe 91.5px,#35ffca 97.5px,#8bff74 104.5px,#c5ff3a 110.5px,#fffd00 118.5px,#ffdc00 120.5px,#ffb400 125.5px,#ffa900 126.5px,#ffa100 128.5px,#ffa500 129.5px,#ffb500 130.5px,#fffd00 132.5px,#ccff33 135.5px,#a4ff5b 138.5px,#99ff66 147.5px,#76ff89 155.5px,#74ff8b 191.5px,#6fff90 192.5px,#74ff8b 193.5px,#f9ff06 194.5px,#a0ff5f 195.5px,#5dffa2 196.5px,#3fffc0 205.5px,#40ffbf 220.5px,#62ff9d 231px)"></div>
<div style="top:29px;height:1px;background:linear-gradient(90deg,#00dcff 0px,#00ebff 2.5px,#00f7ff 9.5px,#06fff9 11.5px,#56ffa9 22.5px,#89ff76 28.5px,#8fff70 29.5px,#8dff72 30.5px,#84ff7b 31.5px,#6fff90 32.5px,#15ffea 35.5px,#03fffc 36.5px,#00e1ff 41.5px,#00e1ff 50.5px,#0bfff4 51.5px,#9dff62 52.5px,#c1ff3e 53.5px,#2effd1 54.5px,#00eaff 55.5px,#00e1ff 76.5px,#00e4ff 84.5px,#01fffe 91.5px,#35ffca 97.5px,#8bff74 104.5px,#c5ff3a 110.5px,#fffd00 118.5px,#ffdc00 120.5px,#ffb400 125.5px,#ffa900 126.5px,#ffa100 128.5px,#ffa500 129.5px,#ffb500 130.5px,#fffd00 132.5px,#ccff33 135.5px,#a4ff5b 138.5px,#99ff66 147.5px,#76ff89 155.5px,#74ff8b 191.5px,#6fff90 192.5px,#72ff8d 193.5px,#f8ff07 194.5px,#9fff60 195.5px,#5dffa2 196.5px,#3fffc0 205.5px,#40ffbf 220.5px,#62ff9d 231px)"></div>
<div style="top:30px;height:1px;background:linear-gradient(90deg,#00dcff 0px,#00ebff 2.5px,#00f7ff 9.5px,#06fff9 11.5px,#56ffa9 22.5px,#89ff76 28.5px,#8fff70 29.5px,#8dff72 30.5px,#84ff7b 31.5px,#6fff90 32.5px,#15ffea 35.5px,#03fffc 36.5px,#00e1ff 41.5px,#00e1ff 50.5px,#0bfff4 51.5px,#9dff62 52.5px,#c1ff3e 53.5px,#2effd1 54.5px,#00eaff 55.5px,#00e1ff 76.5px,#00e4ff 84.5px,#01fffe 91.5px,#35ffca 97.5px,#8bff74 104.5px,#c5ff3a 110.5px,#fffd00 118.5px,#ffdc00 120.5px,#ffb400 125.5px,#ffa900 126.5px,#ffa100 128.5px,#ffa500 129.5px,#ffb500 130.5px,#fffd00 132.5px,#ccff33 135.5px,#a4ff5b 138.5px,#99ff66 147.5px,#76ff89 155.5px,#72ff8d 191.5px,#70ff8f 193.5px,#f5ff0a 194.5px,#9cff63 195.5px,#5cffa3 196.5px,#3effc1 205.5px,#40ffbf 220.5px,#62ff9d 231px)"></div>
<div style="top:31px;height:1px;background:linear-gradient(90deg,#00dcff 0px,#00ebff 2.5px,#00f7ff 9.5px,#06fff9 11.5px,#56ffa9 22.5px,#89ff76 28.5px,#8fff70 29.5px,#8dff72 30.5px,#84ff7b 31.5px,#6fff90 32.5px,#15ffea 35.5px,#03fffc 36.5px,#00e1ff 41.5px,#00e1ff 50.5px,#0bfff4 51.5px,#9dff62 52.5px,#c1ff3e 53.5px,#2effd1 54.5px,#00eaff 55.5px,#00e1ff 76.5px,#00e4ff 84.5px,#01fffe 91.5px,#35ffca 97.5px,#8bff74 104.5px,#c5ff3a 110.5px,#fffd00 118.5px,#ffdc00 120.5px,#ffb400 125.5px,#ffa900 126.5px,#ffa100 128.5px,#ffa500 129.5px,#ffb500 130.5px,#fffd00 132.5px,#ccff33 135.5px,#a4ff5b 138.5px,#98ff67 147.5px,#76ff89 155.5px,#6fff90 191.5px,#6dff92 193.5px,#f2ff0d 194.5px,#99ff66 195.5px,#5affa5 196.5px,#3effc1 205.5px,#41ffbe 220.5px,#62ff9d 231px)"></div>
<div style="top:32px;height:1px;background:linear-gradient(90deg,#00dcff 0px,#00ebff 2.5px,#00f7ff 9.5px,#06fff9 11.5px,#56ffa9 22.5px,#89ff76 28.5px,#8fff70 29.5px,#8dff72 30.5px,#84ff7b 31.5px,#6fff90 32.5px,#15ffea 35.5px,#03fffc 36.5px,#00e1ff 41.5px,#00e1ff 50.5px,#0bfff4 51.5px,#9dff62 52.5px,#c1ff3e 53.5px,#2effd1 54.5px,#00eaff 55.5px,#00e1ff 76.5px,#00e4ff 84.5px,#01fffe 91.5px,#35ffca 97.5px,#8bff74 104.5px,#c5ff3a 110.5px,#fffd00 118.5px,#ffdc00 120.5px,#ffb400 125.5px,#ffa900 126.5px,#ffa100 128.5px,#ffa500 129.5px,#ffb500 130.5px,#fffd00 132.5px,#ccff33 135.5px,#a4ff5b 138.5px,#97ff68 147.5px,#76ff89 155.5px,#6cff93 191.5px,#6aff95 193.5px,#efff10 194.5px,#96ff69 195.5px,#58ffa7 196.5px,#3effc1 205.5px,#41ffbe 220.5px,#62ff9d 231px)"></div>
<div style="top:33px;height:1px;background:linear-gradient(90deg,#00dcff 0px,#00ebff 2.5px,#00f7ff 9.5px,#06fff9 11.5px,#56ffa9 22.5px,#89ff76 28.5px,#8fff70 29.5px,#8dff72 30.5px,#84ff7b 31.5px,#6fff90 32.5px,#15ffea 35.5px,#03fffc 36.5px,#00e1ff 41.5px,#00e1ff 50.5px,#0bfff4 51.5px,#9dff62 52.5px,#c1ff3e 53.5px,#2effd1 54.5px,#00eaff 55.5px,#00e1ff 76.5px,#00e4ff 84.5px,#01fffe 91.5px,#35ffca 97.5px,#8bff74 104.5px,#c5ff3a 110.5px,#fffd00 118.5px,#ffdc00 120.5px,#ffb400 125.5px,#ffa900 126.5px,#ffa100 128.5px,#ffa500 129.5px,#ffb500 130.5px,#fffd00 132.5px,#ccff33 135.5px,#a4ff5b 138.5px,#96ff69 147.5px,#76ff89 155.5px,#69ff96 191.5px,#67ff98 193.5px,#ecff13 194.5px,#93ff6c 195.5px,#56ffa9 196.5px,#3effc1 205.5px,#42ffbd 220.5px,#62ff9d 231px)"></div>
<div style="top:34px;height:1px;background:linear-gradient(90deg,#00dcff 0px,#00ebff 2.5px,#00f7ff 9.5px,#06fff9 11.5px,#56ffa9 22.5px,#89ff76 28.5px,#8fff70 29.5px,#8dff72 30.5px,#84ff7b 31.5px,#6fff90 32.5px,#15ffea 35.5px,#03fffc 36.5px,#00e1ff 41.5px,#00e1ff 50.5px,#0bfff4 51.5px,#9dff62 52.5px,#c1ff3e 53.5px,#2effd1 54.5px,#00eaff 55.5px,#00e1ff 76.5px,#00e4ff 84.5px,#01fffe 91.5px,#35ffca 97.5px,#8bff74 104.5px,#c5ff3a 110.5px,#fffd00 118.5px,#ffdc00 120.5px,#ffb400 125.5px,#ffa900 126.5px,#ffa100 128.5px,#ffa500 129.5px,#ffb500 130.5px,#fffd00 132.5px,#ccff33 135.5px,#a4ff5b 138.5px,#95ff6a 147.5px,#76ff89 155.5px,#66ff99 191.5px,#63ff9c 193.5px,#e9ff16 194.5px,#90ff6f 195.5px,#54ffab 196.5px,#3dffc2 205.5px,#42ffbd 220.5px,#62ff9d 231px)"></div>
<div style="top:35px;height:1px;background:linear-gradient(90deg,#00dcff 0px,#00ebff 2.5px,#00f7ff 9.5px,#06fff9 11.5px,#56ffa9 22.5px,#89ff76 28.5px,#8fff70 29.5px,#8dff72 30.5px,#84ff7b 31.5px,#6fff90 32.5px,#15ffea 35.5px,#03fffc 36.5px,#00e1ff 41.5px,#00e1ff 50.5px,#0bfff4 51.5px,#9dff62 52.5px,#c1ff3e 53.5px,#2effd1 54.5px,#00eaff 55.5px,#00e1ff 76.5px,#00e4ff 84.5px,#01fffe 91.5px,#35ffca 97.5px,#8bff74 104.5px,#c5ff3a 110.5px,#fffd00 118.5px,#ffdc00 120.5px,#ffb400 125.5px,#ffa900 126.5px,#ffa100 128.5px,#ffa500 129.5px,#ffb500 130.5px,#fffd00 132.5px,#ccff33 135.5px,#a4ff5b 138.5px,#90ff6f 148.5px,#76ff89 155.5px,#63ff9c 191.5px,#60ff9f 193.5px,#e6ff19 194.5px,#8dff72 195.5px,#52ffad 196.5px,#3dffc2 205.5px,#43ffbc 220.5px,#62ff9d 231px)"></div>
<div style="top:36px;height:1px;background:linear-gradient(90deg,#00dcff 0px,#00ebff 2.5px,#00f7ff 9.5px,#06fff9 11.5px,#56ffa9 22.5px,#89ff76 28.5px,#8fff70 29.5px,#8dff72 30.5px,#84ff7b 31.5px,#6fff90 32.5px,#15ffea 35.5px,#03fffc 36.5px,#00e1ff 41.5px,#00e1ff 50.5px,#0bfff4 51.5px,#9dff62 52.5px,#c1ff3e 53.5px,#2effd1 54.5px,#00eaff 55.5px,#00e1ff 76.5px,#00e4ff 84.5px,#01fffe 91.5px,#35ffca 97.5px,#8bff74 104.5px,#c5ff3a 110.5px,#fffd00 118.5px,#ffdc00 120.5px,#ffb400 125.5px,#ffa900 126.5px,#ffa100 128.5px,#ffa500 129.5px,#ffb500 130.5px,#fffd00 132.5px,#ccff33 135.5px,#a4ff5b 138.5px,#8fff70 148.5px,#76ff89 155.5px,#61ff9e 188.5px,#5dffa2 193.5px,#e3ff1c 194.5px,#8aff75 195.5px,#50ffaf 196.5px,#3dffc2 206.5px,#43ffbc 220.5px,#62ff9d 231px)"></div>
<div style="top:37px;height:1px;background:linear-gradient(90deg,#00dcff 0px,#00ebff 2.5px,#00f7ff 9.5px,#06fff9 11.5px,#56ffa9 22.5px,#89ff76 28.5px,#8fff70 29.5px,#8dff72 30.5px,#84ff7b 31.5px,#6fff90 32.5px,#15ffea 35.5px,#03fffc 36.5px,#00e1ff 41.5px,#00e1ff 50.5px,#0bfff4 51.5px,#9dff62 52.5px,#c1ff3e 53.5px,#2effd1 54.5px,#00eaff 55.5px,#00e1ff 76.5px,#00e4ff 84.5px,#01fffe 91.5px,#35ffca 97.5px,#8bff74 104.5px,#c5ff3a 110.5px,#fffd00 118.5px,#ffdc00 120.5px,#ffb400 125.5px,#ffa900 126.5px,#ffa100 128.5px,#ffa500 129.5px,#ffb500 130.5px,#fffd00 132.5px,#ccff33 135.5px,#a4ff5b 138.5px,#8eff71 148.5px,#76ff89 155.5px,#5effa1 187.5px,#5affa5 193.5px,#e0ff1f 194.5px,#87ff78 195.5px,#4effb1 196.5px,#3cffc3 205.5px,#43ffbc 220.5px,#62ff9d 231px)"></div>
<div style="top:38px;height:1px;background:linear-gradient(90deg,#00dcff 0px,#00ebff 2.5px,#00f7ff 9.5px,#06fff9 11.5px,#56ffa9 22.5px,#89ff76 28.5px,#8fff70 29.5px,#8dff72 30.5px,#84ff7b 31.5px,#6fff90 32.5px,#15ffea 35.5px,#03fffc 36.5px,#00e1ff 41.5px,#00e1ff 50.5px,#0bfff4 51.5px,#9dff62 52.5px,#c1ff3e 53.5px,#2effd1 54.5px,#00eaff 55.5px,#00e1ff 76.5px,#00e4ff 84.5px,#01fffe 91.5px,#35ffca 97.5px,#8bff74 104.5px,#c5ff3a 110.5px,#fffd00 118.5px,#ffdc00 120.5px,#ffb400 125.5px,#ffa900 126.5px,#ffa100 128.5px,#ffa500 129.5px,#ffb500 130.5px,#fffd00 132.5px,#ccff33 135.5px,#a4ff5b 138.5px,#8eff71 148.5px,#76ff89 155.5px,#5bffa4 186.5px,#57ffa8 193.5px,#ddff22 194.5px,#84ff7b 195.5px,#4cffb3 196.5px,#3cffc3 206.5px,#44ffbb 220.5px,#62ff9d 231px)"></div>
<div style="top:39px;height:1px;background:linear-gradient(90deg,#00dcff 0px,#00ebff 2.5px,#00f7ff 9.5px,#06fff9 11.5px,#56ffa9 22.5px,#89ff76 28.5px,#8fff70 29.5px,#8dff72 30.5px,#84ff7b 31.5px,#6fff90 32.5px,#15ffea 35.5px,#03fffc 36.5px,#00e1ff 41.5px,#00e1ff 50.5px,#0bfff4 51.5px,#9dff62 52.5px,#c1ff3e 53.5px,#2effd1 54.5px,#00eaff 55.5px,#00e1ff 76.5px,#00e4ff 84.5px,#01fffe 91.5px,#35ffca 97.5px,#8bff74 104.5px,#c5ff3a 110.5px,#fffd00 118.5px,#ffdc00 120.5px,#ffb400 125.5px,#ffa900 126.5px,#ffa100 128.5px,#ffa500 129.5px,#ffb500 130.5px,#fffd00 132.5px,#ccff33 135.5px,#a4ff5b 138.5px,#8dff72 148.5px,#75ff8a 156.5px,#57ffa8 187.5px,#54ffab 193.5px,#daff25 194.5px,#81ff7e 195.5px,#4affb5 196.5px,#3cffc3 206.5px,#44ffbb 220.5px,#62ff9d 231px)"></div>
<div style="top:40px;height:1px;background:linear-gradient(90deg,#00dcff 0px,#00ebff 2.5px,#00f7ff 9.5px,#06fff9 11.5px,#56ffa9 22.5px,#89ff76 28.5px,#8fff70 29.5px,#8dff72 30.5px,#84ff7b 31.5px,#6fff90 32.5px,#15ffea 35.5px,#03fffc 36.5px,#00e1ff 41.5px,#00e1ff 50.5px,#0bfff4 51.5px,#9dff62 52.5px,#c1ff3e 53.5px,#2effd1 54.5px,#00eaff 55.5px,#00e1ff 76.5px,#00e4ff 84.5px,#01fffe 91.5px,#35ffca 97.5px,#8bff74 104.5px,#c5ff3a 110.5px,#fffd00 118.5px,#ffdc00 120.5px,#ffb400 125.5px,#ffa900 126.5px,#ffa100 128.5px,#ffa500 129.5px,#ffb500 130.5px,#fffd00 132.5px,#ccff33 135.5px,#a4ff5b 138.5px,#8cff73 148.5px,#75ff8a 156.5px,#54ffab 185.5px,#51ffae 193.5px,#d6ff29 194.5px,#7dff82 195.5px,#48ffb7 196.5px,#3cffc3 206.5px,#43ffbc 219.5px,#5fffa0 229.5px,#62ff9d 231px)"></div>
<div style="top:41px;height:1px;background:linear-gradient(90deg,#00dcff 0px,#00ebff 2.5px,#00f7ff 9.5px,#06fff9 11.5px,#56ffa9 22.5px,#89ff76 28.5px,#8fff70 29.5px,#8dff72 30.5px,#84ff7b 31.5px,#6fff90 32.5px,#15ffea 35.5px,#03fffc 36.5px,#00e1ff 41.5px,#00e1ff 50.5px,#0bfff4 51.5px,#9dff62 52.5px,#c1ff3e 53.5px,#2effd1 54.5px,#00eaff 55.5px,#00e1ff 76.5px,#00e4ff 84.5px,#01fffe 91.5px,#35ffca 97.5px,#8bff74 104.5px,#c5ff3a 110.5px,#fffd00 118.5px,#ffdc00 120.5px,#ffb400 125.5px,#ffa900 126.5px,#ffa100 128.5px,#ffa500 129.5px,#ffb500 130.5px,#fffd00 132.5px,#ccff33 135.5px,#a4ff5b 138.5px,#8bff74 148.5px,#75ff8a 156.5px,#51ffae 185.5px,#4effb1 193.5px,#d3ff2c 194.5px,#7aff85 195.5px,#46ffb9 196.5px,#3cffc3 207.5px,#45ffba 220.5px,#62ff9d 231px)"></div>
<div style="top:42px;height:1px;background:linear-gradient(90deg,#00dcff 0px,#00ebff 2.5px,#00f7ff 9.5px,#06fff9 11.5px,#56ffa9 22.5px,#89ff76 28.5px,#8fff70 29.5px,#8dff72 30.5px,#84ff7b 31.5px,#6fff90 32.5px,#15ffea 35.5px,#03fffc 36.5px,#00e1ff 41.5px,#00e1ff 50.5px,#0bfff4 51.5px,#9dff62 52.5px,#c1ff3e 53.5px,#2effd1 54.5px,#00eaff 55.5px,#00e1ff 76.5px,#00e4ff 84.5px,#01fffe 91.5px,#35ffca 97.5px,#8bff74 104.5px,#c5ff3a 110.5px,#fffd00 118.5px,#ffdc00 120.5px,#ffb400 125.5px,#ffa900 126.5px,#ffa100 128.5px,#ffa500 129.5px,#ffb500 130.5px,#fffd00 132.5px,#ccff33 135.5px,#a4ff5b 138.5px,#87ff78 149.5px,#73ff8c 157.5px,#4effb1 185.5px,#4bffb4 193.5px,#d0ff2f 194.5px,#77ff88 195.5px,#44ffbb 196.5px,#3bffc4 206.5px,#44ffbb 219.5px,#62ff9d 231px)"></div>
<div style="top:43px;height:1px;background:linear-gradient(90deg,#00dcff 0px,#00ebff 2.5px,#00f7ff 9.5px,#06fff9 11.5px,#56ffa9 22.5px,#89ff76 28.5px,#8fff70 29.5px,#8dff72 30.5px,#84ff7b 31.5px,#6fff90 32.5px,#15ffea 35.5px,#03fffc 36.5px,#00e1ff 41.5px,#00e1ff 50.5px,#0bfff4 51.5px,#9dff62 52.5px,#c1ff3e 53.5px,#2effd1 54.5px,#00eaff 55.5px,#00e1ff 76.5px,#00e4ff 84.5px,#01fffe 91.5px,#35ffca 97.5px,#8bff74 104.5px,#c5ff3a 110.5px,#fffd00 118.5px,#ffdc00 120.5px,#ffb400 125.5px,#ffa900 126.5px,#ffa100 128.5px,#ffa500 129.5px,#ffb500 130.5px,#fffd00 132.5px,#ccff33 135.5px,#a4ff5b 138.5px,#74ff8b 156.5px,#58ffa7 174.5px,#4affb5 188.5px,#48ffb7 193.5px,#cdff32 194.5px,#74ff8b 195.5px,#42ffbd 196.5px,#3bffc4 207.5px,#46ffb9 220.5px,#62ff9d 231px)"></div>
<div style="top:44px;height:1px;background:linear-gradient(90deg,#00dcff 0px,#00ebff 2.5px,#00f7ff 9.5px,#06fff9 11.5px,#56ffa9 22.5px,#89ff76 28.5px,#8fff70 29.5px,#8dff72 30.5px,#84ff7b 31.5px,#6fff90 32.5px,#15ffea 35.5px,#03fffc 36.5px,#00e1ff 41.5px,#00e1ff 50.5px,#0bfff4 51.5px,#9dff62 52.5px,#c1ff3e 53.5px,#2effd1 54.5px,#00eaff 55.5px,#00e1ff 76.5px,#00e4ff 84.5px,#01fffe 91.5px,#35ffca 97.5px,#8bff74 104.5px,#c5ff3a 110.5px,#fffd00 118.5px,#ffdc00 120.5px,#ffb400 125.5px,#ffa900 126.5px,#ffa100 128.5px,#ffa500 129.5px,#ffb500 130.5px,#fffd00 132.5px,#ccff33 135.5px,#a4ff5b 138.5px,#74ff8b 156.5px,#56ffa9 174.5px,#47ffb8 187.5px,#45ffba 193.5px,#caff35 194.5px,#71ff8e 195.5px,#40ffbf 196.5px,#3bffc4 207.5px,#46ffb9 220.5px,#62ff9d 231px)"></div>
<div style="top:45px;height:1px;background:linear-gradient(90deg,#00dcff 0px,#00ebff 2.5px,#00f7ff 9.5px,#06fff9 11.5px,#56ffa9 22.5px,#89ff76 28.5px,#8fff70 29.5px,#8dff72 30.5px,#84ff7b 31.5px,#6fff90 32.5px,#15ffea 35.5px,#03fffc 36.5px,#00e1ff 41.5px,#00e1ff 50.5px,#0bfff4 51.5px,#9dff62 52.5px,#c1ff3e 53.5px,#2effd1 54.5px,#00eaff 55.5px,#00e1ff 76.5px,#00e4ff 84.5px,#01fffe 91.5px,#35ffca 97.5px,#8bff74 104.5px,#c5ff3a 110.5px,#fffd00 118.5px,#ffdc00 120.5px,#ffb400 125.5px,#ffa900 126.5px,#ffa100 128.5px,#ffa500 129.5px,#ffb500 130.5px,#fffd00 132.5px,#ccff33 135.5px,#a4ff5b 138.5px,#74ff8b 156.5px,#58ffa7 172.5px,#44ffbb 186.5px,#41ffbe 193.5px,#c7ff38 194.5px,#6eff91 195.5px,#3effc1 196.5px,#3cffc3 210.5px,#49ffb6 221.5px,#62ff9d 231px)"></div>
<div style="top:46px;height:1px;background:linear-gradient(90deg,#00dcff 0px,#00ebff 2.5px,#00f7ff 9.5px,#06fff9 11.5px,#56ffa9 22.5px,#89ff76 28.5px,#8fff70 29.5px,#8dff72 30.5px,#84ff7b 31.5px,#6fff90 32.5px,#15ffea 35.5px,#03fffc 36.5px,#00e1ff 41.5px,#00e1ff 50.5px,#0bfff4 51.5px,#9dff62 52.5px,#c1ff3e 53.5px,#2effd1 54.5px,#00eaff 55.5px,#00e1ff 76.5px,#00e4ff 84.5px,#01fffe 91.5px,#35ffca 97.5px,#8bff74 104.5px,#c5ff3a 110.5px,#fffd00 118.5px,#ffdc00 120.5px,#ffb400 125.5px,#ffa900 126.5px,#ffa100 128.5px,#ffa500 129.5px,#ffb500 130.5px,#fffd00 132.5px,#ccff33 135.5px,#a4ff5b 138.5px,#75ff8a 155.5px,#5dffa2 169.5px,#41ffbe 184.5px,#3fffc0 193.5px,#c4ff3b 194.5px,#6bff94 195.5px,#3cffc3 196.5px,#3dffc2 212.5px,#4dffb2 223.5px,#62ff9d 231px)"></div>
<div style="top:47px;height:1px;background:linear-gradient(90deg,#00dcff 0px,#00ebff 2.5px,#00f7ff 9.5px,#06fff9 11.5px,#56ffa9 22.5px,#89ff76 28.5px,#8fff70 29.5px,#8dff72 30.5px,#84ff7b 31.5px,#6fff90 32.5px,#15ffea 35.5px,#03fffc 36.5px,#00e1ff 41.5px,#00e1ff 50.5px,#0bfff4 51.5px,#9dff62 52.5px,#c1ff3e 53.5px,#2effd1 54.5px,#00eaff 55.5px,#00e1ff 76.5px,#00e4ff 84.5px,#01fffe 91.5px,#35ffca 97.5px,#8bff74 104.5px,#c5ff3a 110.5px,#fffd00 118.5px,#ffdc00 120.5px,#ffb400 125.5px,#ffa900 126.5px,#ffa100 128.5px,#ffa500 129.5px,#ffb500 130.5px,#fffd00 132.5px,#ccff33 135.5px,#a4ff5b 138.5px,#75ff8a 155.5px,#59ffa6 170.5px,#3dffc2 185.5px,#3cffc3 193.5px,#c1ff3e 194.5px,#68ff97 195.5px,#3affc5 196.5px,#3dffc2 212.5px,#52ffad 225.5px,#62ff9d 231px)"></div>
<div style="top:48px;height:1px;background:linear-gradient(90deg,#00dcff 0px,#00ebff 2.5px,#00f7ff 9.5px,#06fff9 11.5px,#56ffa9 22.5px,#89ff76 28.5px,#8fff70 29.5px,#8dff72 30.5px,#84ff7b 31.5px,#6fff90 32.5px,#15ffea 35.5px,#03fffc 36.5px,#00e1ff 41.5px,#00e1ff 50.5px,#0bfff4 51.5px,#9dff62 52.5px,#c1ff3e 53.5px,#2effd1 54.5px,#00eaff 55.5px,#00e1ff 76.5px,#00e4ff 84.5px,#01fffe 91.5px,#35ffca 97.5px,#8bff74 104.5px,#c5ff3a 110.5px,#fffd00 118.5px,#ffdc00 120.5px,#ffb400 125.5px,#ffa900 126.5px,#ffa100 128.5px,#ffa500 129.5px,#ffb500 130.5px,#fffd00 132.5px,#ccff33 135.5px,#a4ff5b 138.5px,#79ff86 153.5px,#57ffa8 170.5px,#3bffc4 184.5px,#39ffc6 193.5px,#beff41 194.5px,#65ff9a 195.5px,#38ffc7 196.5px,#3fffc0 215.5px,#59ffa6 227.5px,#62ff9d 231px)"></div>
<div style="top:49px;height:1px;background:linear-gradient(90deg,#00dcff 0px,#00ebff 2.5px,#00f7ff 9.5px,#06fff9 11.5px,#56ffa9 22.5px,#89ff76 28.5px,#8fff70 29.5px,#8dff72 30.5px,#84ff7b 31.5px,#6fff90 32.5px,#15ffea 35.5px,#03fffc 36.5px,#00e1ff 41.5px,#00e1ff 50.5px,#0bfff4 51.5px,#9dff62 52.5px,#c1ff3e 53.5px,#2effd1 54.5px,#00eaff 55.5px,#00e1ff 76.5px,#00e4ff 84.5px,#01fffe 91.5px,#35ffca 97.5px,#8bff74 104.5px,#c5ff3a 110.5px,#fffd00 118.5px,#ffdc00 120.5px,#ffb400 125.5px,#ffa900 126.5px,#ffa100 128.5px,#ffa500 129.5px,#ffb500 130.5px,#fffd00 132.5px,#ccff33 135.5px,#a4ff5b 138.5px,#7bff84 152.5px,#58ffa7 169.5px,#3bffc4 182.5px,#37ffc8 193.5px,#bbff44 194.5px,#62ff9d 195.5px,#36ffc9 196.5px,#41ffbe 216.5px,#5cffa3 228.5px,#62ff9d 231px)"></div>
<div style="top:50px;height:1px;background:linear-gradient(90deg,#00dcff 0px,#00ebff 2.5px,#00f7ff 9.5px,#06fff9 11.5px,#56ffa9 22.5px,#89ff76 28.5px,#8fff70 29.5px,#8dff72 30.5px,#84ff7b 31.5px,#6fff90 32.5px,#15ffea 35.5px,#03fffc 36.5px,#00e1ff 41.5px,#00e1ff 50.5px,#0bfff4 51.5px,#9dff62 52.5px,#c1ff3e 53.5px,#2effd1 54.5px,#00eaff 55.5px,#00e1ff 76.5px,#00e4ff 84.5px,#01fffe 91.5px,#35ffca 97.5px,#8bff74 104.5px,#c5ff3a 110.5px,#fffd00 118.5px,#ffdc00 120.5px,#ffbe00 124.5px,#ffa900 126.5px,#ffa100 128.5px,#ffa500 129.5px,#ffb500 130.5px,#fffc00 132.5px,#ccff33 135.5px,#a4ff5b 138.5px,#7bff84 151.5px,#57ffa8 168.5px,#3bffc4 180.5px,#34ffcb 187.5px,#34ffcb 193.5px,#b8ff47 194.5px,#5fffa0 195.5px,#34ffcb 196.5px,#41ffbe 216.5px,#59ffa6 227.5px,#62ff9d 231px)"></div>
<div style="top:51px;height:1px;background:linear-gradient(90deg,#00dcff 0px,#00ebff 2.5px,#00f7ff 9.5px,#06fff9 11.5px,#56ffa9 22.5px,#89ff76 28.5px,#8fff70 29.5px,#8dff72 30.5px,#84ff7b 31.5px,#6fff90 32.5px,#15ffea 35.5px,#03fffc 36.5px,#00e1ff 41.5px,#00e1ff 50.5px,#0bfff4 51.5px,#9dff62 52.5px,#c1ff3e 53.5px,#2effd1 54.5px,#00eaff 55.5px,#00e1ff 76.5px,#00e4ff 84.5px,#01fffe 91.5px,#35ffca 97.5px,#8bff74 104.5px,#c5ff3a 110.5px,#fffc00 118.5px,#ffdd00 120.5px,#ffbd00 124.5px,#ffa900 126.5px,#ffa100 128.5px,#ffa500 129.5px,#ffb500 130.5px,#fffc00 132.5px,#cbff34 135.5px,#a3ff5c 138.5px,#74ff8b 152.5px,#4bffb4 170.5px,#31ffce 183.5px,#31ffce 193.5px,#b4ff4b 194.5px,#5bffa4 195.5px,#32ffcd 196.5px,#41ffbe 217.5px,#58ffa7 227.5px,#62ff9d 231px)"></div>
<div style="top:52px;height:1px;background:linear-gradient(90deg,#00dcff 0px,#00ebff 2.5px,#00f7ff 9.5px,#06fff9 11.5px,#56ffa9 22.5px,#89ff76 28.5px,#8fff70 29.5px,#8dff72 30.5px,#84ff7b 31.5px,#6fff90 32.5px,#15ffea 35.5px,#03fffc 36.5px,#00e1ff 41.5px,#00e1ff 50.5px,#0bfff4 51.5px,#9dff62 52.5px,#c1ff3e 53.5px,#2effd1 54.5px,#00eaff 55.5px,#00e1ff 76.5px,#00e4ff 84.5px,#01fffe 91.5px,#35ffca 97.5px,#8bff74 104.5px,#c5ff3a 110.5px,#fffc00 118.5px,#ffdd00 120.5px,#ffa900 126.5px,#ffa100 128.5px,#ffa500 129.5px,#ffb500 130.5px,#fffb00 132.5px,#caff35 135.5px,#a1ff5e 138.5px,#70ff8f 152.5px,#35ffca 177.5px,#2cffd3 187.5px,#2fffd0 193.5px,#b1ff4e 194.5px,#58ffa7 195.5px,#30ffcf 196.5px,#3effc1 216.5px,#58ffa7 227.5px,#62ff9d 231px)"></div>
<div style="top:53px;height:1px;background:linear-gradient(90deg,#00dcff 0px,#00ebff 2.5px,#00f7ff 9.5px,#06fff9 11.5px,#56ffa9 22.5px,#89ff76 28.5px,#8fff70 29.5px,#8dff72 30.5px,#84ff7b 31.5px,#6fff90 32.5px,#15ffea 35.5px,#03fffc 36.5px,#00e1ff 41.5px,#00e1ff 50.5px,#0bfff4 51.5px,#9dff62 52.5px,#c1ff3e 53.5px,#2effd1 54.5px,#00eaff 55.5px,#00e1ff 76.5px,#00e4ff 84.5px,#01fffe 91.5px,#35ffca 97.5px,#8bff74 104.5px,#c5ff3a 110.5px,#fffc00 118.5px,#ffdd00 120.5px,#ffa900 126.5px,#ffa100 128.5px,#ffa600 129.5px,#ffb400 130.5px,#fffb00 132.5px,#bbff44 136.5px,#a0ff5f 138.5px,#69ff96 153.5px,#30ffcf 177.5px,#28ffd7 186.5px,#2cffd3 193.5px,#aeff51 194.5px,#55ffaa 195.5px,#2dffd2 196.5px,#3dffc2 216.5px,#54ffab 226.5px,#62ff9d 231px)"></div>
<div style="top:54px;height:1px;background:linear-gradient(90deg,#00dcff 0px,#00ebff 2.5px,#00f7ff 9.5px,#06fff9 11.5px,#56ffa9 22.5px,#89ff76 28.5px,#8fff70 29.5px,#8dff72 30.5px,#84ff7b 31.5px,#6fff90 32.5px,#15ffea 35.5px,#03fffc 36.5px,#00e1ff 41.5px,#00e1ff 50.5px,#0bfff4 51.5px,#9dff62 52.5px,#c1ff3e 53.5px,#2effd1 54.5px,#00eaff 55.5px,#00e1ff 76.5px,#00e4ff 84.5px,#01fffe 91.5px,#35ffca 97.5px,#8bff74 104.5px,#c5ff3a 110.5px,#fffc00 118.5px,#ffdd00 120.5px,#ffa900 126.5px,#ffa100 128.5px,#ffa600 129.5px,#ffb400 130.5px,#fffa00 132.5px,#daff25 134.5px,#9fff60 138.5px,#67ff98 152.5px,#2cffd3 176.5px,#24ffdb 186.5px,#29ffd6 193.5px,#abff54 194.5px,#52ffad 195.5px,#2bffd4 196.5px,#3affc5 215.5px,#54ffab 226.5px,#62ff9d 231px)"></div>
<div style="top:55px;height:1px;background:linear-gradient(90deg,#00dcff 0px,#00ebff 2.5px,#00f7ff 9.5px,#06fff9 11.5px,#56ffa9 22.5px,#89ff76 28.5px,#8fff70 29.5px,#8dff72 30.5px,#84ff7b 31.5px,#6fff90 32.5px,#15ffea 35.5px,#03fffc 36.5px,#00e1ff 41.5px,#00e1ff 50.5px,#0bfff4 51.5px,#9dff62 52.5px,#c1ff3e 53.5px,#2effd1 54.5px,#00eaff 55.5px,#00e1ff 76.5px,#00e4ff 84.5px,#01fffe 91.5px,#35ffca 97.5px,#8bff74 104.5px,#c5ff3a 110.5px,#faff05 117.5px,#fffb00 118.5px,#ffdd00 120.5px,#ffa900 126.5px,#ffa100 128.5px,#ffa600 129.5px,#ffb400 130.5px,#fff900 132.5px,#daff25 134.5px,#9eff61 138.5px,#63ff9c 152.5px,#27ffd8 175.5px,#1fffe0 185.5px,#26ffd9 193.5px,#a8ff57 194.5px,#4fffb0 195.5px,#29ffd6 196.5px,#39ffc6 215.5px,#53ffac 226.5px,#62ff9d 231px)"></div>
<div style="top:56px;height:1px;background:linear-gradient(90deg,#00dcff 0px,#00ebff 2.5px,#00f7ff 9.5px,#06fff9 11.5px,#56ffa9 22.5px,#89ff76 28.5px,#8fff70 29.5px,#8dff72 30.5px,#84ff7b 31.5px,#6fff90 32.5px,#15ffea 35.5px,#03fffc 36.5px,#00e1ff 41.5px,#00e1ff 50.5px,#0bfff4 51.5px,#9dff62 52.5px,#c1ff3e 53.5px,#2effd1 54.5px,#00eaff 55.5px,#00e1ff 76.5px,#00e4ff 84.5px,#01fffe 91.5px,#35ffca 97.5px,#8bff74 104.5px,#c5ff3a 110.5px,#faff05 117.5px,#fffb00 118.5px,#ffdd00 120.5px,#ffa900 126.5px,#ffa100 128.5px,#ffa600 129.5px,#ffb400 130.5px,#fff900 132.5px,#f0ff0f 133.5px,#c8ff37 135.5px,#9dff62 138.5px,#5fffa0 152.5px,#21ffde 175.5px,#1bffe4 185.5px,#24ffdb 193.5px,#a5ff5a 194.5px,#4cffb3 195.5px,#26ffd9 196.5px,#39ffc6 216.5px,#53ffac 226.5px,#62ff9d 231px)"></div>
<div style="top:57px;height:1px;background:linear-gradient(90deg,#00dcff 0px,#00ebff 2.5px,#00f7ff 9.5px,#06fff9 11.5px,#56ffa9 22.5px,#89ff76 28.5px,#8fff70 29.5px,#8dff72 30.5px,#84ff7b 31.5px,#6fff90 32.5px,#15ffea 35.5px,#03fffc 36.5px,#00e1ff 41.5px,#00e1ff 50.5px,#0bfff4 51.5px,#9dff62 52.5px,#c1ff3e 53.5px,#2effd1 54.5px,#00eaff 55.5px,#00e1ff 76.5px,#00e4ff 84.5px,#01fffe 91.5px,#35ffca 97.5px,#8bff74 104.5px,#c5ff3a 110.5px,#faff05 117.5px,#fffb00 118.5px,#ffdd00 120.5px,#ffa900 126.5px,#ffa100 128.5px,#ffa600 129.5px,#ffb400 130.5px,#fff800 132.5px,#f0ff0f 133.5px,#c7ff38 135.5px,#9cff63 138.5px,#5affa5 152.5px,#1effe1 173.5px,#17ffe8 184.5px,#21ffde 193.5px,#a2ff5d 194.5px,#49ffb6 195.5px,#24ffdb 196.5px,#38ffc7 216.5px,#52ffad 226.5px,#62ff9d 231px)"></div>
<div style="top:58px;height:1px;background:linear-gradient(90deg,#00dcff 0px,#00ebff 2.5px,#00f7ff 9.5px,#06fff9 11.5px,#56ffa9 22.5px,#89ff76 28.5px,#8fff70 29.5px,#8dff72 30.5px,#84ff7b 31.5px,#6fff90 32.5px,#15ffea 35.5px,#03fffc 36.5px,#00e1ff 41.5px,#00e1ff 50.5px,#0bfff4 51.5px,#9dff62 52.5px,#c1ff3e 53.5px,#2effd1 54.5px,#00eaff 55.5px,#00e1ff 76.5px,#00e4ff 84.5px,#01fffe 91.5px,#35ffca 97.5px,#8bff74 104.5px,#c5ff3a 110.5px,#faff05 117.5px,#fffb00 118.5px,#ffdd00 120.5px,#ffa900 126.5px,#ffa100 128.5px,#ffa600 129.5px,#ffb400 130.5px,#fff700 132.5px,#f1ff0e 133.5px,#c7ff38 135.5px,#9aff65 138.5px,#56ffa9 152.5px,#18ffe7 173.5px,#12ffed 184.5px,#1effe1 193.5px,#9fff60 194.5px,#46ffb9 195.5px,#22ffdd 196.5px,#35ffca 215.5px,#4effb1 225.5px,#62ff9d 231px)"></div>
<div style="top:59px;height:1px;background:linear-gradient(90deg,#00dcff 0px,#00ebff 2.5px,#00f7ff 9.5px,#06fff9 11.5px,#56ffa9 22.5px,#89ff76 28.5px,#8fff70 29.5px,#8dff72 30.5px,#84ff7b 31.5px,#6fff90 32.5px,#15ffea 35.5px,#03fffc 36.5px,#00e1ff 41.5px,#00e1ff 50.5px,#0bfff4 51.5px,#9dff62 52.5px,#c1ff3e 53.5px,#2effd1 54.5px,#00eaff 55.5px,#00e1ff 76.5px,#00e4ff 84.5px,#01fffe 91.5px,#35ffca 97.5px,#8bff74 104.5px,#c5ff3a 110.5px,#fbff04 117.5px,#fffa00 118.5px,#ffd300 121.5px,#ffa900 126.5px,#ffa000 128.5px,#ffb400 130.5px,#fff700 132.5px,#f1ff0e 133.5px,#c6ff39 135.5px,#99ff66 138.5px,#51ffae 152.5px,#19ffe6 170.5px,#0dfff2 179.5px,#13ffec 187.5px,#1cffe3 193.5px,#9cff63 194.5px,#43ffbc 195.5px,#20ffdf 196.5px,#34ffcb 215.5px,#4dffb2 225.5px,#62ff9d 231px)"></div>
<div style="top:60px;height:1px;background:linear-gradient(90deg,#00dcff 0px,#00ebff 2.5px,#00f7ff 9.5px,#06fff9 11.5px,#56ffa9 22.5px,#89ff76 28.5px,#8fff70 29.5px,#8dff72 30.5px,#84ff7b 31.5px,#6fff90 32.5px,#15ffea 35.5px,#03fffc 36.5px,#00e1ff 41.5px,#00e1ff 50.5px,#0bfff4 51.5px,#9dff62 52.5px,#c1ff3e 53.5px,#2effd1 54.5px,#00eaff 55.5px,#00e1ff 76.5px,#00e4ff 84.5px,#01fffe 91.5px,#35ffca 97.5px,#8bff74 104.5px,#c5ff3a 110.5px,#fbff04 117.5px,#fffa00 118.5px,#ffd300 121.5px,#ffa900 126.5px,#ffa000 128.5px,#ffb400 130.5px,#fff600 132.5px,#f1ff0e 133.5px,#b4ff4b 136.5px,#98ff67 138.5px,#4dffb2 152.5px,#18ffe7 168.5px,#0afff5 175.5px,#0afff5 184.5px,#19ffe6 193.5px,#51ffae 194.5px,#1cffe3 195.5px,#32ffcd 215.5px,#4cffb3 225.5px,#62ff9d 231px)"></div>
<div style="top:61px;height:1px;background:linear-gradient(90deg,#00dcff 0px,#00ebff 2.5px,#00f7ff 9.5px,#06fff9 11.5px,#56ffa9 22.5px,#89ff76 28.5px,#8fff70 29.5px,#8dff72 30.5px,#84ff7b 31.5px,#6fff90 32.5px,#15ffea 35.5px,#03fffc 36.5px,#00e1ff 41.5px,#00e1ff 50.5px,#0bfff4 51.5px,#9dff62 52.5px,#c1ff3e 53.5px,#2effd1 54.5px,#00eaff 55.5px,#00e1ff 76.5px,#00e4ff 84.5px,#01fffe 91.5px,#35ffca 97.5px,#8bff74 104.5px,#c5ff3a 110.5px,#fbff04 117.5px,#fffa00 118.5px,#ffd300 121.5px,#ffa900 126.5px,#ffa000 128.5px,#ffb400 130.5px,#fff600 132.5px,#f2ff0d 133.5px,#b3ff4c 136.5px,#97ff68 138.5px,#49ffb6 152.5px,#12ffed 168.5px,#04fffb 175.5px,#05fffa 183.5px,#1effe1 200.5px,#31ffce 215.5px,#4cffb3 225.5px,#62ff9d 231px)"></div>
<div style="top:62px;height:1px;background:linear-gradient(90deg,#00dcff 0px,#00ebff 2.5px,#00f7ff 9.5px,#06fff9 11.5px,#56ffa9 22.5px,#89ff76 28.5px,#8fff70 29.5px,#8dff72 30.5px,#84ff7b 31.5px,#6fff90 32.5px,#15ffea 35.5px,#03fffc 36.5px,#00e1ff 41.5px,#00e1ff 50.5px,#0bfff4 51.5px,#9dff62 52.5px,#c1ff3e 53.5px,#2effd1 54.5px,#00eaff 55.5px,#00e1ff 76.5px,#00e4ff 84.5px,#01fffe 91.5px,#35ffca 97.5px,#8bff74 104.5px,#c5ff3a 110.5px,#fbff04 117.5px,#fffa00 118.5px,#ffd300 121.5px,#ffa900 126.5px,#ffa000 128.5px,#ffb400 130.5px,#fff500 132.5px,#f2ff0d 133.5px,#c4ff3b 135.5px,#96ff69 138.5px,#44ffbb 152.5px,#0cfff3 168.5px,#00feff 174.5px,#03fffc 185.5px,#1bffe4 198.5px,#2cffd3 213.5px,#47ffb8 224.5px,#61ff9e 231px)"></div>
<div style="top:63px;height:1px;background:linear-gradient(90deg,#00dcff 0px,#00ebff 2.5px,#00f7ff 9.5px,#06fff9 11.5px,#56ffa9 22.5px,#89ff76 28.5px,#8fff70 29.5px,#8dff72 30.5px,#84ff7b 31.5px,#6fff90 32.5px,#15ffea 35.5px,#03fffc 36.5px,#00e1ff 41.5px,#00e1ff 50.5px,#0bfff4 51.5px,#9dff62 52.5px,#c1ff3e 53.5px,#2effd1 54.5px,#00eaff 55.5px,#00e1ff 76.5px,#00e4ff 84.5px,#01fffe 91.5px,#35ffca 97.5px,#8bff74 104.5px,#c5ff3a 110.5px,#fbff04 117.5px,#fff900 118.5px,#ffd300 121.5px,#ffa900 126.5px,#ffa000 128.5px,#ffb400 130.5px,#fff400 132.5px,#f3ff0c 133.5px,#c4ff3b 135.5px,#a3ff5c 137.5px,#8dff72 139.5px,#40ffbf 152.5px,#08fff7 167.5px,#00f9ff 173.5px,#00f9ff 182.5px,#04fffb 187.5px,#19ffe6 199.5px,#2effd1 215.5px,#46ffb9 224.5px,#61ff9e 231px)"></div>
<div style="top:64px;height:1px;background:linear-gradient(90deg,#00dcff 0px,#00ebff 2.5px,#00f7ff 9.5px,#06fff9 11.5px,#56ffa9 22.5px,#89ff76 28.5px,#8fff70 29.5px,#8dff72 30.5px,#84ff7b 31.5px,#6fff90 32.5px,#15ffea 35.5px,#03fffc 36.5px,#00e1ff 41.5px,#00e1ff 50.5px,#0bfff4 51.5px,#9dff62 52.5px,#c1ff3e 53.5px,#2effd1 54.5px,#00eaff 55.5px,#00e1ff 76.5px,#00e4ff 84.5px,#01fffe 91.5px,#35ffca 97.5px,#8bff74 104.5px,#c5ff3a 110.5px,#fbff04 117.5px,#fff900 118.5px,#ffd300 121.5px,#ffa900 126.5px,#ffa000 128.5px,#ffb300 130.5px,#fff400 132.5px,#f3ff0c 133.5px,#c3ff3c 135.5px,#a2ff5d 137.5px,#93ff6c 138.5px,#3cffc3 152.5px,#02fffd 167.5px,#00f2ff 175.5px,#00f6ff 183.5px,#06fff9 189.5px,#19ffe6 201.5px,#2dffd2 215.5px,#46ffb9 224.5px,#61ff9e 231px)"></div>
<div style="top:65px;height:1px;background:linear-gradient(90deg,#00dcff 0px,#00ebff 2.5px,#00f7ff 9.5px,#06fff9 11.5px,#56ffa9 22.5px,#89ff76 28.5px,#8fff70 29.5px,#8dff72 30.5px,#84ff7b 31.5px,#6fff90 32.5px,#15ffea 35.5px,#03fffc 36.5px,#00e1ff 41.5px,#00e1ff 50.5px,#0bfff4 51.5px,#9dff62 52.5px,#c1ff3e 53.5px,#2effd1 54.5px,#00eaff 55.5px,#00e1ff 76.5px,#00e4ff 84.5px,#01fffe 91.5px,#35ffca 97.5px,#8bff74 104.5px,#c5ff3a 110.5px,#fbff04 117.5px,#fff900 118.5px,#ffd300 121.5px,#ffa900 126.5px,#ffa000 128.5px,#ffb300 130.5px,#fff300 132.5px,#f4ff0b 133.5px,#c2ff3d 135.5px,#92ff6d 138.5px,#37ffc8 152.5px,#0efff1 162.5px,#00fdff 166.5px,#00ecff 174.5px,#00f0ff 182.5px,#03fffc 189.5px,#16ffe9 200.5px,#2affd5 214.5px,#45ffba 224.5px,#61ff9e 231px)"></div>
<div style="top:66px;height:1px;background:linear-gradient(90deg,#00dcff 0px,#00ebff 2.5px,#00f7ff 9.5px,#06fff9 11.5px,#56ffa9 22.5px,#89ff76 28.5px,#8fff70 29.5px,#8dff72 30.5px,#84ff7b 31.5px,#6fff90 32.5px,#15ffea 35.5px,#03fffc 36.5px,#00e1ff 41.5px,#00e1ff 50.5px,#0bfff4 51.5px,#9dff62 52.5px,#c1ff3e 53.5px,#2effd1 54.5px,#00eaff 55.5px,#00e1ff 76.5px,#00e4ff 84.5px,#01fffe 91.5px,#35ffca 97.5px,#8bff74 104.5px,#c5ff3a 110.5px,#fcff03 117.5px,#fff900 118.5px,#ffd300 121.5px,#ffa900 126.5px,#ffa000 128.5px,#ffb300 130.5px,#fff200 132.5px,#f4ff0b 133.5px,#c2ff3d 135.5px,#a0ff5f 137.5px,#88ff77 139.5px,#33ffcc 152.5px,#12ffed 160.5px,#00fdff 164.5px,#00e7ff 173.5px,#00e8ff 181.5px,#02fffd 190.5px,#15ffea 201.5px,#28ffd7 214.5px,#44ffbb 224.5px,#61ff9e 231px)"></div>
<div style="top:67px;height:1px;background:linear-gradient(90deg,#00dcff 0px,#00ebff 2.5px,#00f7ff 9.5px,#06fff9 11.5px,#56ffa9 22.5px,#89ff76 28.5px,#8fff70 29.5px,#8dff72 30.5px,#84ff7b 31.5px,#6fff90 32.5px,#15ffea 35.5px,#03fffc 36.5px,#00e1ff 41.5px,#00e1ff 50.5px,#0bfff4 51.5px,#9dff62 52.5px,#c1ff3e 53.5px,#2effd1 54.5px,#00eaff 55.5px,#00e1ff 76.5px,#00e4ff 84.5px,#01fffe 91.5px,#35ffca 97.5px,#8bff74 104.5px,#c5ff3a 110.5px,#fcff03 117.5px,#ffeb00 119.5px,#ffd300 121.5px,#ffa900 126.5px,#ffa000 128.5px,#ffb300 130.5px,#fff200 132.5px,#f5ff0a 133.5px,#c1ff3e 135.5px,#9fff60 137.5px,#87ff78 139.5px,#2fffd0 152.5px,#08fff7 161.5px,#00fcff 163.5px,#00e4ff 171.5px,#00e4ff 181.5px,#01fffe 191.5px,#12ffed 200.5px,#27ffd8 214.5px,#43ffbc 224.5px,#61ff9e 231px)"></div>
<div style="top:68px;height:1px;background:linear-gradient(90deg,#00dcff 0px,#00ebff 2.5px,#00f7ff 9.5px,#06fff9 11.5px,#56ffa9 22.5px,#89ff76 28.5px,#8fff70 29.5px,#8dff72 30.5px,#84ff7b 31.5px,#6fff90 32.5px,#15ffea 35.5px,#03fffc 36.5px,#00e1ff 41.5px,#00e1ff 50.5px,#0bfff4 51.5px,#9dff62 52.5px,#c1ff3e 53.5px,#2effd1 54.5px,#00eaff 55.5px,#00e1ff 76.5px,#00e4ff 84.5px,#01fffe 91.5px,#35ffca 97.5px,#8bff74 104.5px,#c5ff3a 110.5px,#fcff03 117.5px,#ffeb00 119.5px,#ffd300 121.5px,#ffa900 126.5px,#ffa000 128.5px,#ffb300 130.5px,#fff100 132.5px,#f5ff0a 133.5px,#c1ff3e 135.5px,#9dff62 137.5px,#85ff7a 139.5px,#3fffc0 149.5px,#26ffd9 153.5px,#02fffd 161.5px,#00e8ff 167.5px,#00dbff 174.5px,#00e1ff 182.5px,#01fffe 192.5px,#10ffef 200.5px,#23ffdc 213.5px,#3effc1 223.5px,#61ff9e 231px)"></div>
<div style="top:69px;height:1px;background:linear-gradient(90deg,#00dcff 0px,#00ebff 2.5px,#00f7ff 9.5px,#06fff9 11.5px,#56ffa9 22.5px,#89ff76 28.5px,#8fff70 29.5px,#8dff72 30.5px,#84ff7b 31.5px,#6fff90 32.5px,#15ffea 35.5px,#03fffc 36.5px,#00e1ff 41.5px,#00e1ff 50.5px,#0bfff4 51.5px,#9dff62 52.5px,#c1ff3e 53.5px,#2effd1 54.5px,#00eaff 55.5px,#00e1ff 76.5px,#00e4ff 84.5px,#01fffe 91.5px,#35ffca 97.5px,#8bff74 104.5px,#c5ff3a 110.5px,#fcff03 117.5px,#ffeb00 119.5px,#ffca00 122.5px,#ffa900 126.5px,#ffa000 128.5px,#ffb300 130.5px,#fff100 132.5px,#f6ff09 133.5px,#c0ff3f 135.5px,#9cff63 137.5px,#84ff7b 139.5px,#3bffc4 149.5px,#22ffdd 153.5px,#02fffd 160.5px,#00e4ff 166.5px,#00d5ff 174.5px,#00ddff 182.5px,#00ffff 193.5px,#0efff1 200.5px,#22ffdd 213.5px,#3dffc2 223.5px,#61ff9e 231px)"></div>
<div style="top:70px;height:1px;background:linear-gradient(90deg,#00dcff 0px,#00ebff 2.5px,#00f7ff 9.5px,#06fff9 11.5px,#56ffa9 22.5px,#89ff76 28.5px,#8fff70 29.5px,#8dff72 30.5px,#84ff7b 31.5px,#6fff90 32.5px,#15ffea 35.5px,#03fffc 36.5px,#00e1ff 41.5px,#00e1ff 50.5px,#0bfff4 51.5px,#9dff62 52.5px,#c1ff3e 53.5px,#2effd1 54.5px,#00eaff 55.5px,#00e1ff 76.5px,#00e4ff 84.5px,#01fffe 91.5px,#35ffca 97.5px,#8bff74 104.5px,#c5ff3a 110.5px,#fcff03 117.5px,#ffeb00 119.5px,#ffca00 122.5px,#ffa900 126.5px,#ffa000 128.5px,#ffb300 130.5px,#fff000 132.5px,#f6ff09 133.5px,#bfff40 135.5px,#9bff64 137.5px,#82ff7d 139.5px,#38ffc7 149.5px,#1dffe2 153.5px,#02fffd 159.5px,#00e0ff 165.5px,#00ceff 173.5px,#00d5ff 181.5px,#01fffe 194.5px,#1effe1 212.5px,#3cffc3 223.5px,#61ff9e 231px)"></div>
<div style="top:71px;height:1px;background:linear-gradient(90deg,#00dcff 0px,#00ebff 2.5px,#00f7ff 9.5px,#06fff9 11.5px,#56ffa9 22.5px,#89ff76 28.5px,#8fff70 29.5px,#8dff72 30.5px,#84ff7b 31.5px,#6fff90 32.5px,#15ffea 35.5px,#03fffc 36.5px,#00e1ff 41.5px,#00e1ff 50.5px,#0bfff4 51.5px,#9dff62 52.5px,#c1ff3e 53.5px,#2effd1 54.5px,#00eaff 55.5px,#00e1ff 76.5px,#00e4ff 84.5px,#01fffe 91.5px,#35ffca 97.5px,#8bff74 104.5px,#c5ff3a 110.5px,#fcff03 117.5px,#ffc100 123.5px,#ffa500 127.5px,#ffa000 128.5px,#ffb300 130.5px,#ffef00 132.5px,#f6ff09 133.5px,#bfff40 135.5px,#9aff65 137.5px,#81ff7e 139.5px,#3cffc3 148.5px,#1dffe2 152.5px,#00fcff 159.5px,#00daff 165.5px,#00c8ff 173.5px,#00d0ff 181.5px,#00fdff 194.5px,#1fffe0 213.5px,#3bffc4 223.5px,#61ff9e 231px)"></div>
<div style="top:72px;height:1px;background:linear-gradient(90deg,#00dcff 0px,#00ebff 2.5px,#00f7ff 9.5px,#06fff9 11.5px,#56ffa9 22.5px,#89ff76 28.5px,#8fff70 29.5px,#8dff72 30.5px,#84ff7b 31.5px,#6fff90 32.5px,#15ffea 35.5px,#03fffc 36.5px,#00e1ff 41.5px,#00e1ff 50.5px,#0bfff4 51.5px,#9dff62 52.5px,#c1ff3e 53.5px,#2effd1 54.5px,#00eaff 55.5px,#00e1ff 76.5px,#00e4ff 84.5px,#01fffe 91.5px,#35ffca 97.5px,#8bff74 104.5px,#c5ff3a 110.5px,#fcff03 117.5px,#ffc100 123.5px,#ffa500 127.5px,#ffa000 128.5px,#ffb300 130.5px,#ffef00 132.5px,#f7ff08 133.5px,#beff41 135.5px,#99ff66 137.5px,#7fff80 139.5px,#39ffc6 148.5px,#19ffe6 152.5px,#00fdff 158.5px,#00d4ff 165.5px,#00c2ff 173.5px,#00cbff 181.5px,#00f7ff 193.5px,#04fffb 197.5px,#1bffe4 212.5px,#3affc5 223.5px,#61ff9e 231px)"></div>
<div style="top:73px;height:1px;background:linear-gradient(90deg,#00dcff 0px,#00ebff 2.5px,#00f7ff 9.5px,#06fff9 11.5px,#56ffa9 22.5px,#89ff76 28.5px,#8fff70 29.5px,#8dff72 30.5px,#84ff7b 31.5px,#6fff90 32.5px,#15ffea 35.5px,#03fffc 36.5px,#00e1ff 41.5px,#00e1ff 50.5px,#0bfff4 51.5px,#9dff62 52.5px,#c1ff3e 53.5px,#2effd1 54.5px,#00eaff 55.5px,#00e1ff 76.5px,#00e4ff 84.5px,#01fffe 91.5px,#35ffca 97.5px,#8bff74 104.5px,#c5ff3a 110.5px,#fcff03 117.5px,#ffc100 123.5px,#ffa500 127.5px,#ffa000 128.5px,#ffb300 130.5px,#ffee00 132.5px,#f7ff08 133.5px,#beff41 135.5px,#98ff67 137.5px,#7eff81 139.5px,#36ffc9 148.5px,#14ffeb 152.5px,#00fdff 157.5px,#00cdff 165.5px,#00bcff 173.5px,#00c6ff 181.5px,#00f5ff 193.5px,#03fffc 198.5px,#17ffe8 211.5px,#3affc5 223.5px,#61ff9e 231px)"></div>
<div style="top:74px;height:1px;background:linear-gradient(90deg,#00dcff 0px,#00ebff 2.5px,#00f7ff 9.5px,#06fff9 11.5px,#56ffa9 22.5px,#89ff76 28.5px,#8fff70 29.5px,#8dff72 30.5px,#84ff7b 31.5px,#6fff90 32.5px,#15ffea 35.5px,#03fffc 36.5px,#00e1ff 41.5px,#00e1ff 50.5px,#0bfff4 51.5px,#9dff62 52.5px,#c1ff3e 53.5px,#2effd1 54.5px,#00eaff 55.5px,#00e1ff 76.5px,#00e4ff 84.5px,#01fffe 91.5px,#35ffca 97.5px,#8bff74 104.5px,#c5ff3a 110.5px,#f3ff0c 116.5px,#fdff02 117.5px,#ffc100 123.5px,#ffa500 127.5px,#ffa000 128.5px,#ffb300 130.5px,#ffee00 132.5px,#f8ff07 133.5px,#bdff42 135.5px,#97ff68 137.5px,#7cff83 139.5px,#3cffc3 147.5px,#10ffef 152.5px,#00fdff 156.5px,#00c7ff 165.5px,#00b6ff 173.5px,#00c1ff 181.5px,#00f9ff 195.5px,#05fffa 201.5px,#18ffe7 212.5px,#39ffc6 223.5px,#61ff9e 231px)"></div>
<div style="top:75px;height:1px;background:linear-gradient(90deg,#00dcff 0px,#00ebff 2.5px,#00f7ff 9.5px,#06fff9 11.5px,#56ffa9 22.5px,#89ff76 28.5px,#8fff70 29.5px,#8dff72 30.5px,#84ff7b 31.5px,#6fff90 32.5px,#15ffea 35.5px,#03fffc 36.5px,#00e1ff 41.5px,#00e1ff 50.5px,#0bfff4 51.5px,#9dff62 52.5px,#c1ff3e 53.5px,#2effd1 54.5px,#00eaff 55.5px,#00e1ff 76.5px,#00e4ff 84.5px,#01fffe 91.5px,#35ffca 97.5px,#8bff74 104.5px,#c5ff3a 110.5px,#f3ff0c 116.5px,#fdff02 117.5px,#ffc000 123.5px,#ffa500 127.5px,#ffa100 128.5px,#ffb400 130.5px,#ffee00 132.5px,#f7ff08 133.5px,#bbff44 135.5px,#95ff6a 137.5px,#7aff85 139.5px,#39ffc6 147.5px,#0dfff2 152.5px,#00feff 155.5px,#00c3ff 165.5px,#00b2ff 173.5px,#00bdff 181.5px,#00efff 193.5px,#00ffff 199.5px,#16ffe9 212.5px,#37ffc8 223.5px,#60ff9f 231px)"></div>
<div style="top:76px;height:1px;background:linear-gradient(90deg,#00dcff 0px,#00ebff 2.5px,#00f7ff 9.5px,#06fff9 11.5px,#56ffa9 22.5px,#89ff76 28.5px,#8fff70 29.5px,#8dff72 30.5px,#84ff7b 31.5px,#6fff90 32.5px,#15ffea 35.5px,#03fffc 36.5px,#00e1ff 41.5px,#00e1ff 50.5px,#0bfff4 51.5px,#9dff62 52.5px,#c1ff3e 53.5px,#2effd1 54.5px,#00eaff 55.5px,#00e1ff 76.5px,#00e4ff 84.5px,#01fffe 91.5px,#35ffca 97.5px,#8bff74 104.5px,#c5ff3a 110.5px,#f4ff0b 116.5px,#fdff02 117.5px,#ffbf00 123.5px,#ffa500 127.5px,#ffa200 128.5px,#ffb600 130.5px,#fff000 132.5px,#f4ff0b 133.5px,#b9ff46 135.5px,#93ff6c 137.5px,#78ff87 139.5px,#24ffdb 149.5px,#0bfff4 152.5px,#00fdff 155.5px,#00c2ff 165.5px,#00b1ff 173.5px,#00bbff 181.5px,#00edff 193.5px,#00fdff 199.5px,#12ffed 211.5px,#35ffca 223.5px,#5fffa0 231px)"></div>
<div style="top:77px;height:1px;background:linear-gradient(90deg,#00dcff 0px,#00ebff 2.5px,#00f7ff 9.5px,#06fff9 11.5px,#56ffa9 22.5px,#89ff76 28.5px,#8fff70 29.5px,#8dff72 30.5px,#84ff7b 31.5px,#6fff90 32.5px,#15ffea 35.5px,#03fffc 36.5px,#00e1ff 41.5px,#00e1ff 50.5px,#0bfff4 51.5px,#9dff62 52.5px,#c1ff3e 53.5px,#2effd1 54.5px,#00eaff 55.5px,#00e1ff 76.5px,#00e4ff 84.5px,#01fffe 91.5px,#35ffca 97.5px,#8bff74 104.5px,#c5ff3a 110.5px,#f4ff0b 116.5px,#feff01 117.5px,#ffc800 122.5px,#ffa500 127.5px,#ffa300 128.5px,#ffb800 130.5px,#fff300 132.5px,#f1ff0e 133.5px,#b7ff48 135.5px,#a0ff5f 136.5px,#75ff8a 139.5px,#0afff5 152.5px,#00fbff 155.5px,#00c2ff 165.5px,#00b0ff 173.5px,#00b9ff 181.5px,#00f1ff 195.5px,#02fffd 203.5px,#18ffe7 214.5px,#33ffcc 223.5px,#5effa1 231px)"></div>
<div style="top:78px;height:1px;background:linear-gradient(90deg,#00dcff 0px,#00ebff 2.5px,#00f7ff 9.5px,#06fff9 11.5px,#56ffa9 22.5px,#89ff76 28.5px,#8fff70 29.5px,#8dff72 30.5px,#84ff7b 31.5px,#6fff90 32.5px,#15ffea 35.5px,#03fffc 36.5px,#00e1ff 41.5px,#00e1ff 50.5px,#0bfff4 51.5px,#9dff62 52.5px,#c1ff3e 53.5px,#2effd1 54.5px,#00eaff 55.5px,#00e1ff 76.5px,#00e4ff 84.5px,#01fffe 91.5px,#35ffca 97.5px,#8bff74 104.5px,#c5ff3a 110.5px,#f4ff0b 116.5px,#feff01 117.5px,#ffc700 122.5px,#ffa900 126.5px,#ffa400 128.5px,#ffba00 130.5px,#fff500 132.5px,#eeff11 133.5px,#b4ff4b 135.5px,#8eff71 137.5px,#72ff8d 139.5px,#08fff7 152.5px,#00f9ff 155.5px,#00d8ff 161.5px,#00c1ff 165.5px,#00afff 174.5px,#00bbff 182.5px,#00ebff 194.5px,#01fffe 204.5px,#19ffe6 215.5px,#36ffc9 224.5px,#5dffa2 231px)"></div>
<div style="top:79px;height:1px;background:linear-gradient(90deg,#00dcff 0px,#00ebff 2.5px,#00f7ff 9.5px,#06fff9 11.5px,#56ffa9 22.5px,#89ff76 28.5px,#8fff70 29.5px,#8dff72 30.5px,#84ff7b 31.5px,#6fff90 32.5px,#15ffea 35.5px,#03fffc 36.5px,#00e1ff 41.5px,#00e1ff 50.5px,#0bfff4 51.5px,#9dff62 52.5px,#c1ff3e 53.5px,#2effd1 54.5px,#00eaff 55.5px,#00e1ff 76.5px,#00e4ff 84.5px,#01fffe 91.5px,#35ffca 97.5px,#8bff74 104.5px,#c5ff3a 110.5px,#f4ff0b 116.5px,#ffff00 117.5px,#ffc600 122.5px,#ffa900 126.5px,#ffa500 128.5px,#ffbc00 130.5px,#fff700 132.5px,#ecff13 133.5px,#b2ff4d 135.5px,#8cff73 137.5px,#70ff8f 139.5px,#07fff8 152.5px,#00f8ff 155.5px,#00c0ff 165.5px,#00aeff 174.5px,#00b5ff 181.5px,#00ecff 195.5px,#01fffe 205.5px,#20ffdf 218.5px,#34ffcb 224.5px,#54ffab 229.5px,#5cffa3 231px)"></div>
<div style="top:80px;height:1px;background:linear-gradient(90deg,#00dcff 0px,#00ebff 2.5px,#00f7ff 9.5px,#06fff9 11.5px,#56ffa9 22.5px,#89ff76 28.5px,#8fff70 29.5px,#8dff72 30.5px,#84ff7b 31.5px,#6fff90 32.5px,#15ffea 35.5px,#03fffc 36.5px,#00e1ff 41.5px,#00e1ff 50.5px,#0bfff4 51.5px,#9dff62 52.5px,#c1ff3e 53.5px,#2effd1 54.5px,#00eaff 55.5px,#00e1ff 76.5px,#00e4ff 84.5px,#01fffe 91.5px,#35ffca 97.5px,#8bff74 104.5px,#c5ff3a 110.5px,#f4ff0b 116.5px,#ffff00 117.5px,#ffc500 122.5px,#ffa900 126.5px,#ffa600 128.5px,#ffbe00 130.5px,#fff900 132.5px,#e9ff16 133.5px,#afff50 135.5px,#99ff66 136.5px,#6dff92 139.5px,#05fffa 152.5px,#00fbff 154.5px,#00bfff 165.5px,#00acff 174.5px,#00b3ff 181.5px,#00edff 196.5px,#02fffd 207.5px,#2dffd2 223.5px,#4bffb4 228.5px,#5bffa4 231px)"></div>
<div style="top:81px;height:1px;background:linear-gradient(90deg,#00dcff 0px,#00ebff 2.5px,#00f7ff 9.5px,#06fff9 11.5px,#56ffa9 22.5px,#89ff76 28.5px,#8fff70 29.5px,#8dff72 30.5px,#84ff7b 31.5px,#6fff90 32.5px,#15ffea 35.5px,#03fffc 36.5px,#00e1ff 41.5px,#00e1ff 50.5px,#0bfff4 51.5px,#9dff62 52.5px,#c1ff3e 53.5px,#2effd1 54.5px,#00eaff 55.5px,#00e1ff 76.5px,#00e4ff 84.5px,#01fffe 91.5px,#35ffca 97.5px,#8bff74 104.5px,#c5ff3a 110.5px,#f4ff0b 116.5px,#fffe00 117.5px,#ffc400 122.5px,#ffa900 126.5px,#ffa700 128.5px,#ffc000 130.5px,#fffb00 132.5px,#adff52 135.5px,#87ff78 137.5px,#6aff95 139.5px,#03fffc 152.5px,#00ebff 157.5px,#00beff 165.5px,#00abff 174.5px,#00b4ff 182.5px,#00eaff 196.5px,#02fffd 208.5px,#2bffd4 223.5px,#49ffb6 228.5px,#59ffa6 231px)"></div>
<div style="top:82px;height:1px;background:linear-gradient(90deg,#00dcff 0px,#00ebff 2.5px,#00f7ff 9.5px,#06fff9 11.5px,#56ffa9 22.5px,#89ff76 28.5px,#8fff70 29.5px,#8dff72 30.5px,#84ff7b 31.5px,#6fff90 32.5px,#15ffea 35.5px,#03fffc 36.5px,#00e1ff 41.5px,#00e1ff 50.5px,#0bfff4 51.5px,#9dff62 52.5px,#c1ff3e 53.5px,#2effd1 54.5px,#00eaff 55.5px,#00e1ff 76.5px,#00e4ff 84.5px,#01fffe 91.5px,#35ffca 97.5px,#8bff74 104.5px,#c5ff3a 110.5px,#f5ff0a 116.5px,#fffe00 117.5px,#ffc300 122.5px,#ffa900 126.5px,#ffa900 128.5px,#ffc200 130.5px,#fffd00 132.5px,#abff54 135.5px,#85ff7a 137.5px,#5effa1 140.5px,#02fffd 152.5px,#00d9ff 160.5px,#00bdff 165.5px,#00aaff 173.5px,#00b2ff 182.5px,#00e7ff 196.5px,#02fffd 209.5px,#29ffd6 223.5px,#3effc1 227.5px,#58ffa7 231px)"></div>
<div style="top:83px;height:1px;background:linear-gradient(90deg,#00dcff 0px,#00ebff 2.5px,#00f7ff 9.5px,#06fff9 11.5px,#56ffa9 22.5px,#89ff76 28.5px,#8fff70 29.5px,#8dff72 30.5px,#84ff7b 31.5px,#6fff90 32.5px,#15ffea 35.5px,#03fffc 36.5px,#00e1ff 41.5px,#00e1ff 50.5px,#0bfff4 51.5px,#9dff62 52.5px,#c1ff3e 53.5px,#2effd1 54.5px,#00eaff 55.5px,#00e1ff 76.5px,#00e4ff 84.5px,#01fffe 91.5px,#35ffca 97.5px,#8bff74 104.5px,#c5ff3a 110.5px,#f5ff0a 116.5px,#fffd00 117.5px,#ffc200 122.5px,#ffa900 126.5px,#ffaa00 128.5px,#ffc400 130.5px,#feff01 132.5px,#a8ff57 135.5px,#82ff7d 137.5px,#65ff9a 139.5px,#06fff9 151.5px,#00faff 153.5px,#00c6ff 163.5px,#00b4ff 168.5px,#00a8ff 174.5px,#00b0ff 182.5px,#00e5ff 196.5px,#03fffc 210.5px,#27ffd8 223.5px,#3bffc4 227.5px,#57ffa8 231px)"></div>
<div style="top:84px;height:1px;background:linear-gradient(90deg,#00dcff 0px,#00ebff 2.5px,#00f7ff 9.5px,#06fff9 11.5px,#56ffa9 22.5px,#89ff76 28.5px,#8fff70 29.5px,#8dff72 30.5px,#84ff7b 31.5px,#6fff90 32.5px,#15ffea 35.5px,#03fffc 36.5px,#00e1ff 41.5px,#00e1ff 50.5px,#0bfff4 51.5px,#9dff62 52.5px,#c1ff3e 53.5px,#2effd1 54.5px,#00eaff 55.5px,#00e1ff 76.5px,#00e4ff 84.5px,#01fffe 91.5px,#35ffca 97.5px,#8bff74 104.5px,#c5ff3a 110.5px,#f5ff0a 116.5px,#fffd00 117.5px,#ffcb00 121.5px,#ffad00 125.5px,#ffa700 127.5px,#ffab00 128.5px,#ffc600 130.5px,#fcff03 132.5px,#a6ff59 135.5px,#80ff7f 137.5px,#62ff9d 139.5px,#0bfff4 150.5px,#00fdff 152.5px,#00b8ff 166.5px,#00a7ff 174.5px,#00aeff 182.5px,#00e5ff 197.5px,#01fffe 210.5px,#29ffd6 224.5px,#39ffc6 227.5px,#56ffa9 231px)"></div>
<div style="top:85px;height:1px;background:linear-gradient(90deg,#00dcff 0px,#00ebff 2.5px,#00f7ff 9.5px,#06fff9 11.5px,#56ffa9 22.5px,#89ff76 28.5px,#8fff70 29.5px,#8dff72 30.5px,#84ff7b 31.5px,#6fff90 32.5px,#15ffea 35.5px,#03fffc 36.5px,#00e1ff 41.5px,#00e1ff 50.5px,#0bfff4 51.5px,#9dff62 52.5px,#c1ff3e 53.5px,#2effd1 54.5px,#00eaff 55.5px,#00e1ff 76.5px,#00e4ff 84.5px,#01fffe 91.5px,#35ffca 97.5px,#8bff74 104.5px,#c5ff3a 110.5px,#f5ff0a 116.5px,#fffc00 117.5px,#ffc100 122.5px,#ffa900 126.5px,#ffa700 127.5px,#ffac00 128.5px,#ffc800 130.5px,#faff05 132.5px,#a3ff5c 135.5px,#7eff81 137.5px,#60ff9f 139.5px,#09fff6 150.5px,#00fcff 152.5px,#00b7ff 166.5px,#00a5ff 175.5px,#00afff 183.5px,#00e5ff 198.5px,#02fffd 211.5px,#27ffd8 224.5px,#37ffc8 227.5px,#55ffaa 231px)"></div>
<div style="top:86px;height:1px;background:linear-gradient(90deg,#00dcff 0px,#00ebff 2.5px,#00f7ff 9.5px,#06fff9 11.5px,#56ffa9 22.5px,#89ff76 28.5px,#8fff70 29.5px,#8dff72 30.5px,#84ff7b 31.5px,#6fff90 32.5px,#15ffea 35.5px,#03fffc 36.5px,#00e1ff 41.5px,#00e1ff 50.5px,#0bfff4 51.5px,#9dff62 52.5px,#c1ff3e 53.5px,#2effd1 54.5px,#00eaff 55.5px,#00e1ff 76.5px,#00e4ff 84.5px,#01fffe 91.5px,#35ffca 97.5px,#8bff74 104.5px,#c5ff3a 110.5px,#f5ff0a 116.5px,#fffc00 117.5px,#ffc000 122.5px,#ffac00 125.5px,#ffa700 127.5px,#ffb900 129.5px,#ffca00 130.5px,#ffe500 131.5px,#f8ff07 132.5px,#a1ff5e 135.5px,#7bff84 137.5px,#5dffa2 139.5px,#0efff1 149.5px,#01fffe 151.5px,#00b6ff 166.5px,#00a2ff 175.5px,#00acff 183.5px,#00d7ff 194.5px,#00f5ff 206.5px,#02fffd 212.5px,#25ffda 224.5px,#2bffd4 226.5px,#55ffaa 231px)"></div>
<div style="top:87px;height:1px;background:linear-gradient(90deg,#00dcff 0px,#00ebff 2.5px,#00f7ff 9.5px,#06fff9 11.5px,#56ffa9 22.5px,#89ff76 28.5px,#8fff70 29.5px,#8dff72 30.5px,#84ff7b 31.5px,#6fff90 32.5px,#15ffea 35.5px,#03fffc 36.5px,#00e1ff 41.5px,#00e1ff 50.5px,#0bfff4 51.5px,#9dff62 52.5px,#c1ff3e 53.5px,#2effd1 54.5px,#00eaff 55.5px,#00e1ff 76.5px,#00e4ff 84.5px,#01fffe 91.5px,#35ffca 97.5px,#8bff74 104.5px,#c5ff3a 110.5px,#f5ff0a 116.5px,#fffc00 117.5px,#ffc800 121.5px,#ffac00 125.5px,#ffa700 127.5px,#ffbb00 129.5px,#ffcd00 130.5px,#ffe700 131.5px,#f6ff09 132.5px,#baff45 134.5px,#89ff76 136.5px,#5bffa4 139.5px,#12ffed 148.5px,#00feff 151.5px,#00b5ff 166.5px,#00a0ff 175.5px,#00abff 184.5px,#00c5ff 190.5px,#00dfff 197.5px,#00f4ff 206.5px,#00ffff 212.5px,#06fff9 213.5px,#0efff1 217.5px,#23ffdc 224.5px,#29ffd6 225.5px,#27ffd8 226.5px,#54ffab 231px)"></div>
<div style="top:88px;height:1px;background:linear-gradient(90deg,#00dcff 0px,#00ebff 2.5px,#00f7ff 9.5px,#06fff9 11.5px,#56ffa9 22.5px,#89ff76 28.5px,#8fff70 29.5px,#8dff72 30.5px,#84ff7b 31.5px,#6fff90 32.5px,#15ffea 35.5px,#03fffc 36.5px,#00e1ff 41.5px,#00e1ff 50.5px,#0bfff4 51.5px,#9dff62 52.5px,#c1ff3e 53.5px,#2effd1 54.5px,#00eaff 55.5px,#00e1ff 76.5px,#00e4ff 84.5px,#01fffe 91.5px,#35ffca 97.5px,#8bff74 104.5px,#c5ff3a 110.5px,#f5ff0a 116.5px,#fffb00 117.5px,#ffc700 121.5px,#ffac00 125.5px,#ffa800 127.5px,#ffbc00 129.5px,#ffe800 131.5px,#f4ff0b 132.5px,#d2ff2d 133.5px,#9cff63 135.5px,#77ff88 137.5px,#4dffb2 140.5px,#10ffef 148.5px,#00fcff 151.5px,#00b3ff 166.5px,#009dff 175.5px,#00a5ff 181.5px,#00a8ff 184.5px,#00bdff 188.5px,#00caff 192.5px,#00d3ff 195.5px,#00dcff 196.5px,#00e1ff 200.5px,#00f3ff 206.5px,#00f8ff 210.5px,#00ffff 211.5px,#06fff9 213.5px,#03fffc 214.5px,#18ffe7 222.5px,#20ffdf 223.5px,#20ffdf 224.5px,#28ffd7 225.5px,#23ffdc 226.5px,#54ffab 231px)"></div>
<div style="top:89px;height:1px;background:linear-gradient(90deg,#00dcff 0px,#00ebff 2.5px,#00f7ff 9.5px,#06fff9 11.5px,#56ffa9 22.5px,#89ff76 28.5px,#8fff70 29.5px,#8dff72 30.5px,#84ff7b 31.5px,#6fff90 32.5px,#15ffea 35.5px,#03fffc 36.5px,#00e1ff 41.5px,#00e1ff 50.5px,#0bfff4 51.5px,#9dff62 52.5px,#c1ff3e 53.5px,#2effd1 54.5px,#00eaff 55.5px,#00e1ff 76.5px,#00e4ff 84.5px,#01fffe 91.5px,#35ffca 97.5px,#8bff74 104.5px,#c5ff3a 110.5px,#eaff15 115.5px,#fffb00 117.5px,#ffc700 121.5px,#ffab00 125.5px,#ffa800 127.5px,#ffbd00 129.5px,#ffea00 131.5px,#f1ff0e 132.5px,#b5ff4a 134.5px,#84ff7b 136.5px,#55ffaa 139.5px,#0dfff2 148.5px,#00fbff 151.5px,#00b2ff 166.5px,#00b3ff 167.5px,#00acff 169.5px,#009bff 175.5px,#00a5ff 180.5px,#00a1ff 182.5px,#00a4ff 184.5px,#00bbff 188.5px,#00c0ff 191.5px,#00d0ff 194.5px,#00d0ff 195.5px,#00daff 196.5px,#00dfff 200.5px,#00f2ff 206.5px,#00f6ff 210.5px,#00ffff 211.5px,#00fbff 212.5px,#05fffa 213.5px,#01fffe 214.5px,#0afff5 216.5px,#16ffe9 222.5px,#1fffe0 223.5px,#1effe1 224.5px,#27ffd8 225.5px,#1fffe0 226.5px,#3bffc4 228.5px,#53ffac 231px)"></div>
<div style="top:90px;height:1px;background:linear-gradient(90deg,#00dcff 0px,#00ebff 2.5px,#00f7ff 9.5px,#06fff9 11.5px,#56ffa9 22.5px,#89ff76 28.5px,#8fff70 29.5px,#8dff72 30.5px,#84ff7b 31.5px,#6fff90 32.5px,#15ffea 35.5px,#03fffc 36.5px,#00e1ff 41.5px,#00e1ff 50.5px,#0bfff4 51.5px,#9dff62 52.5px,#c1ff3e 53.5px,#2effd1 54.5px,#00eaff 55.5px,#00e1ff 76.5px,#00e4ff 84.5px,#01fffe 91.5px,#35ffca 97.5px,#8bff74 104.5px,#c5ff3a 110.5px,#eaff15 115.5px,#fffa00 117.5px,#ffc600 121.5px,#ffab00 125.5px,#ffa800 127.5px,#ffbf00 129.5px,#ffec00 131.5px,#efff10 132.5px,#cdff32 133.5px,#97ff68 135.5px,#72ff8d 137.5px,#48ffb7 140.5px,#0bfff4 148.5px,#00ffff 150.5px,#00bdff 163.5px,#00b1ff 166.5px,#00b2ff 167.5px,#00abff 168.5px,#00aaff 170.5px,#0098ff 175.5px,#00a2ff 178.5px,#00a2ff 181.5px,#009fff 182.5px,#00a3ff 183.5px,#00a0ff 184.5px,#00b9ff 188.5px,#00bdff 191.5px,#00cdff 194.5px,#00cdff 195.5px,#00d9ff 196.5px,#00dcff 200.5px,#00f1ff 206.5px,#00f4ff 210.5px,#00feff 211.5px,#00f9ff 212.5px,#04fffb 213.5px,#00feff 214.5px,#09fff6 216.5px,#14ffeb 222.5px,#1effe1 223.5px,#1cffe3 224.5px,#25ffda 225.5px,#1affe5 226.5px,#39ffc6 228.5px,#42ffbd 229.5px,#53ffac 231px)"></div>
<div style="top:91px;height:1px;background:linear-gradient(90deg,#00dcff 0px,#00ebff 2.5px,#00f7ff 9.5px,#06fff9 11.5px,#56ffa9 22.5px,#89ff76 28.5px,#8fff70 29.5px,#8dff72 30.5px,#84ff7b 31.5px,#6fff90 32.5px,#15ffea 35.5px,#03fffc 36.5px,#00e1ff 41.5px,#00e1ff 50.5px,#0bfff4 51.5px,#9dff62 52.5px,#c1ff3e 53.5px,#2effd1 54.5px,#00eaff 55.5px,#00e1ff 76.5px,#00e4ff 84.5px,#01fffe 91.5px,#35ffca 97.5px,#8bff74 104.5px,#c5ff3a 110.5px,#eaff15 115.5px,#fffa00 117.5px,#ffc500 121.5px,#ffae00 124.5px,#ffa800 127.5px,#ffc000 129.5px,#ffed00 131.5px,#edff12 132.5px,#caff35 133.5px,#95ff6a 135.5px,#5fffa0 138.5px,#45ffba 140.5px,#09fff6 148.5px,#00fdff 150.5px,#00bcff 163.5px,#00b4ff 165.5px,#00afff 166.5px,#00b2ff 167.5px,#00aaff 168.5px,#00a9ff 170.5px,#009dff 173.5px,#009dff 174.5px,#0096ff 175.5px,#00a1ff 178.5px,#009fff 179.5px,#00a4ff 180.5px,#009cff 182.5px,#00a0ff 183.5px,#009dff 184.5px,#00b7ff 188.5px,#00b9ff 191.5px,#00cbff 194.5px,#00caff 195.5px,#00d7ff 196.5px,#00d6ff 199.5px,#00efff 206.5px,#00f1ff 210.5px,#00feff 211.5px,#00f7ff 212.5px,#04fffb 213.5px,#02fffd 215.5px,#11ffee 222.5px,#1dffe2 223.5px,#1affe5 224.5px,#24ffdb 225.5px,#16ffe9 226.5px,#37ffc8 228.5px,#41ffbe 229.5px,#52ffad 231px)"></div>
<div style="top:92px;height:1px;background:linear-gradient(90deg,#00dcff 0px,#00ebff 2.5px,#00f7ff 9.5px,#06fff9 11.5px,#56ffa9 22.5px,#89ff76 28.5px,#8fff70 29.5px,#8dff72 30.5px,#84ff7b 31.5px,#6fff90 32.5px,#15ffea 35.5px,#03fffc 36.5px,#00e1ff 41.5px,#00e1ff 50.5px,#0bfff4 51.5px,#9dff62 52.5px,#c1ff3e 53.5px,#2effd1 54.5px,#00eaff 55.5px,#00e1ff 76.5px,#00e4ff 84.5px,#01fffe 91.5px,#35ffca 97.5px,#8bff74 104.5px,#c5ff3a 110.5px,#eaff15 115.5px,#fff900 117.5px,#ffc400 121.5px,#ffaa00 125.5px,#ffa900 127.5px,#ffc200 129.5px,#ffef00 131.5px,#ebff14 132.5px,#c7ff38 133.5px,#7dff82 136.5px,#4dffb2 139.5px,#0bfff4 147.5px,#00fbff 150.5px,#00bbff 163.5px,#00bbff 164.5px,#00aeff 166.5px,#00b1ff 167.5px,#00a9ff 168.5px,#00a9ff 170.5px,#009fff 172.5px,#009bff 174.5px,#0093ff 175.5px,#00a0ff 178.5px,#009eff 179.5px,#00a3ff 180.5px,#009aff 182.5px,#009eff 183.5px,#0099ff 184.5px,#00b4ff 188.5px,#00b6ff 191.5px,#00c5ff 193.5px,#00c7ff 195.5px,#00d6ff 196.5px,#00d4ff 199.5px,#00eeff 206.5px,#00ebff 207.5px,#00efff 210.5px,#00fdff 211.5px,#00f5ff 212.5px,#03fffc 213.5px,#00faff 214.5px,#06fff9 216.5px,#0afff5 220.5px,#0ffff0 222.5px,#1cffe3 223.5px,#17ffe8 224.5px,#23ffdc 225.5px,#12ffed 226.5px,#36ffc9 228.5px,#3fffc0 229.5px,#52ffad 231px)"></div>
<div style="top:93px;height:1px;background:linear-gradient(90deg,#00dcff 0px,#00ebff 2.5px,#00f7ff 9.5px,#06fff9 11.5px,#56ffa9 22.5px,#89ff76 28.5px,#8fff70 29.5px,#8dff72 30.5px,#84ff7b 31.5px,#6fff90 32.5px,#15ffea 35.5px,#03fffc 36.5px,#00e1ff 41.5px,#00e1ff 50.5px,#0bfff4 51.5px,#9dff62 52.5px,#c1ff3e 53.5px,#2effd1 54.5px,#00eaff 55.5px,#00e1ff 76.5px,#00e4ff 84.5px,#01fffe 91.5px,#35ffca 97.5px,#8bff74 104.5px,#c5ff3a 110.5px,#eaff15 115.5px,#fff900 117.5px,#ffc300 121.5px,#ffad00 124.5px,#ffa900 127.5px,#ffc300 129.5px,#fff100 131.5px,#e9ff16 132.5px,#c5ff3a 133.5px,#90ff6f 135.5px,#6bff94 137.5px,#3fffc0 140.5px,#09fff6 147.5px,#00feff 149.5px,#00baff 163.5px,#00baff 164.5px,#00adff 166.5px,#00b1ff 167.5px,#00a7ff 168.5px,#00a8ff 170.5px,#009dff 172.5px,#009aff 174.5px,#0091ff 175.5px,#009eff 178.5px,#00a2ff 180.5px,#0097ff 182.5px,#009bff 183.5px,#0096ff 184.5px,#00a2ff 186.5px,#00b2ff 188.5px,#00b2ff 191.5px,#00c2ff 193.5px,#00c7ff 194.5px,#00c3ff 195.5px,#00d5ff 196.5px,#00d1ff 199.5px,#00edff 206.5px,#00e9ff 207.5px,#00eeff 208.5px,#00edff 210.5px,#00fcff 211.5px,#00f3ff 212.5px,#02fffd 213.5px,#00f8ff 214.5px,#05fffa 216.5px,#02fffd 217.5px,#0dfff2 222.5px,#1bffe4 223.5px,#15ffea 224.5px,#22ffdd 225.5px,#0efff1 226.5px,#34ffcb 228.5px,#3dffc2 229.5px,#51ffae 231px)"></div>
<div style="top:94px;height:1px;background:linear-gradient(90deg,#00dcff 0px,#00ebff 2.5px,#00f7ff 9.5px,#06fff9 11.5px,#56ffa9 22.5px,#89ff76 28.5px,#8fff70 29.5px,#8dff72 30.5px,#84ff7b 31.5px,#6fff90 32.5px,#15ffea 35.5px,#03fffc 36.5px,#00e1ff 41.5px,#00e1ff 50.5px,#0bfff4 51.5px,#9dff62 52.5px,#c1ff3e 53.5px,#2effd1 54.5px,#00eaff 55.5px,#00e1ff 76.5px,#00e4ff 84.5px,#01fffe 91.5px,#35ffca 97.5px,#8bff74 104.5px,#c5ff3a 110.5px,#eaff15 115.5px,#f6ff09 116.5px,#fff800 117.5px,#ffc200 121.5px,#ffa900 125.5px,#ffa900 127.5px,#ffc400 129.5px,#fff300 131.5px,#e7ff18 132.5px,#c2ff3d 133.5px,#8eff71 135.5px,#58ffa7 138.5px,#3cffc3 140.5px,#06fff9 147.5px,#00f7ff 150.5px,#00b8ff 163.5px,#00baff 164.5px,#00abff 166.5px,#00b0ff 167.5px,#00a6ff 168.5px,#00a7ff 170.5px,#009eff 171.5px,#0098ff 174.5px,#008eff 175.5px,#009dff 178.5px,#009bff 179.5px,#00a1ff 180.5px,#0095ff 182.5px,#0099ff 183.5px,#0092ff 184.5px,#009cff 185.5px,#009fff 186.5px,#00b0ff 188.5px,#00afff 191.5px,#00c0ff 193.5px,#00c4ff 194.5px,#00c0ff 195.5px,#00d3ff 196.5px,#00ceff 199.5px,#00ebff 205.5px,#00e7ff 207.5px,#00ecff 208.5px,#00ebff 210.5px,#00fcff 211.5px,#00f1ff 212.5px,#02fffd 213.5px,#00f6ff 214.5px,#04fffb 216.5px,#00ffff 217.5px,#04fffb 219.5px,#0afff5 222.5px,#1affe5 223.5px,#13ffec 224.5px,#20ffdf 225.5px,#0afff5 226.5px,#22ffdd 227.5px,#33ffcc 228.5px,#3bffc4 229.5px,#51ffae 231px)"></div>
<div style="top:95px;height:1px;background:linear-gradient(90deg,#00dcff 0px,#00ebff 2.5px,#00f7ff 9.5px,#06fff9 11.5px,#56ffa9 22.5px,#89ff76 28.5px,#8fff70 29.5px,#8dff72 30.5px,#84ff7b 31.5px,#6fff90 32.5px,#15ffea 35.5px,#03fffc 36.5px,#00e1ff 41.5px,#00e1ff 50.5px,#0bfff4 51.5px,#9dff62 52.5px,#c1ff3e 53.5px,#2effd1 54.5px,#00eaff 55.5px,#00e1ff 76.5px,#00e4ff 84.5px,#01fffe 91.5px,#35ffca 97.5px,#8bff74 104.5px,#c5ff3a 110.5px,#eaff15 115.5px,#f7ff08 116.5px,#fff800 117.5px,#ffc200 121.5px,#ffaa00 125.5px,#ffab00 127.5px,#ffc700 129.5px,#fff600 131.5px,#e3ff1c 132.5px,#bdff42 133.5px,#8aff75 135.5px,#46ffb9 139.5px,#05fffa 147.5px,#00faff 149.5px,#00b7ff 163.5px,#00b9ff 164.5px,#00a9ff 166.5px,#00afff 167.5px,#00a4ff 168.5px,#00a6ff 170.5px,#009cff 171.5px,#0096ff 174.5px,#008cff 175.5px,#0095ff 177.5px,#009cff 178.5px,#009aff 179.5px,#00a1ff 180.5px,#0093ff 182.5px,#0097ff 183.5px,#008fff 184.5px,#009aff 185.5px,#009dff 186.5px,#00afff 188.5px,#00abff 189.5px,#00acff 191.5px,#00b9ff 192.5px,#00c3ff 194.5px,#00beff 195.5px,#00d3ff 196.5px,#00ccff 199.5px,#00eaff 205.5px,#00e6ff 207.5px,#00ebff 208.5px,#00eaff 210.5px,#00fbff 211.5px,#00efff 212.5px,#02fffd 213.5px,#00f4ff 214.5px,#03fffc 216.5px,#00feff 217.5px,#09fff6 222.5px,#1affe5 223.5px,#11ffee 224.5px,#20ffdf 225.5px,#07fff8 226.5px,#20ffdf 227.5px,#31ffce 228.5px,#3affc5 229.5px,#51ffae 231px)"></div>
<div style="top:96px;height:1px;background:linear-gradient(90deg,#00dcff 0px,#00ebff 2.5px,#00f7ff 9.5px,#06fff9 11.5px,#56ffa9 22.5px,#89ff76 28.5px,#8fff70 29.5px,#8dff72 30.5px,#84ff7b 31.5px,#6fff90 32.5px,#15ffea 35.5px,#03fffc 36.5px,#00e1ff 41.5px,#00e1ff 50.5px,#0bfff4 51.5px,#9dff62 52.5px,#c1ff3e 53.5px,#2effd1 54.5px,#00eaff 55.5px,#00e1ff 76.5px,#00e4ff 84.5px,#01fffe 91.5px,#35ffca 97.5px,#8bff74 104.5px,#c5ff3a 110.5px,#eaff15 115.5px,#f7ff08 116.5px,#fff700 117.5px,#ffd900 119.5px,#ffba00 122.5px,#ffad00 125.5px,#ffaf00 127.5px,#ffcb00 129.5px,#fffa00 131.5px,#b8ff47 133.5px,#86ff79 135.5px,#63ff9c 137.5px,#3bffc4 140.5px,#04fffb 147.5px,#00faff 149.5px,#00b5ff 163.5px,#00b8ff 164.5px,#00a7ff 166.5px,#00aeff 167.5px,#00a2ff 168.5px,#00a5ff 170.5px,#009aff 171.5px,#0095ff 174.5px,#0089ff 175.5px,#0094ff 177.5px,#009cff 178.5px,#0099ff 179.5px,#00a1ff 180.5px,#0092ff 182.5px,#0096ff 183.5px,#008dff 184.5px,#0098ff 185.5px,#009bff 186.5px,#00a8ff 187.5px,#00aeff 188.5px,#00aaff 189.5px,#00aaff 191.5px,#00b8ff 192.5px,#00c2ff 194.5px,#00bdff 195.5px,#00d3ff 196.5px,#00cbff 199.5px,#00eaff 205.5px,#00ebff 206.5px,#00e5ff 207.5px,#00eaff 208.5px,#00e8ff 210.5px,#00fcff 211.5px,#00eeff 212.5px,#02fffd 213.5px,#00f3ff 214.5px,#03fffc 216.5px,#03fffc 220.5px,#07fff8 222.5px,#1affe5 223.5px,#10ffef 224.5px,#20ffdf 225.5px,#05fffa 226.5px,#1fffe0 227.5px,#31ffce 228.5px,#39ffc6 229.5px,#50ffaf 231px)"></div>
<div style="top:97px;height:1px;background:linear-gradient(90deg,#00dcff 0px,#00ebff 2.5px,#00f7ff 9.5px,#06fff9 11.5px,#56ffa9 22.5px,#89ff76 28.5px,#8fff70 29.5px,#8dff72 30.5px,#84ff7b 31.5px,#6fff90 32.5px,#15ffea 35.5px,#03fffc 36.5px,#00e1ff 41.5px,#00e1ff 50.5px,#0bfff4 51.5px,#9dff62 52.5px,#c1ff3e 53.5px,#2effd1 54.5px,#00eaff 55.5px,#00e1ff 76.5px,#00e4ff 84.5px,#01fffe 91.5px,#35ffca 97.5px,#8bff74 104.5px,#c5ff3a 110.5px,#eaff15 115.5px,#f7ff08 116.5px,#fff600 117.5px,#ffd800 119.5px,#ffba00 122.5px,#ffaf00 125.5px,#ffb300 127.5px,#ffd000 129.5px,#ffff00 131.5px,#b2ff4d 133.5px,#81ff7e 135.5px,#61ff9e 137.5px,#3bffc4 140.5px,#04fffb 147.5px,#00efff 151.5px,#00b3ff 163.5px,#00b7ff 164.5px,#00a5ff 166.5px,#00adff 167.5px,#00a0ff 168.5px,#00a3ff 170.5px,#0099ff 171.5px,#0093ff 174.5px,#0087ff 175.5px,#0092ff 177.5px,#009bff 178.5px,#0098ff 179.5px,#00a1ff 180.5px,#0091ff 182.5px,#0096ff 183.5px,#008bff 184.5px,#0097ff 185.5px,#009aff 186.5px,#00aeff 188.5px,#00a9ff 189.5px,#00a9ff 191.5px,#00b7ff 192.5px,#00c2ff 194.5px,#00bcff 195.5px,#00d3ff 196.5px,#00caff 199.5px,#00eaff 205.5px,#00ebff 206.5px,#00e4ff 207.5px,#00eaff 208.5px,#00e7ff 210.5px,#00fcff 211.5px,#00edff 212.5px,#02fffd 213.5px,#00f2ff 214.5px,#02fffd 216.5px,#03fffc 218.5px,#02fffd 220.5px,#06fff9 222.5px,#1affe5 223.5px,#0ffff0 224.5px,#20ffdf 225.5px,#02fffd 226.5px,#1effe1 227.5px,#30ffcf 228.5px,#38ffc7 229.5px,#50ffaf 231px)"></div>
<div style="top:98px;height:1px;background:linear-gradient(90deg,#00dcff 0px,#00ebff 2.5px,#00f7ff 9.5px,#06fff9 11.5px,#56ffa9 22.5px,#89ff76 28.5px,#8fff70 29.5px,#8dff72 30.5px,#84ff7b 31.5px,#6fff90 32.5px,#15ffea 35.5px,#03fffc 36.5px,#00e1ff 41.5px,#00e1ff 50.5px,#0bfff4 51.5px,#9dff62 52.5px,#c1ff3e 53.5px,#2effd1 54.5px,#00eaff 55.5px,#00e1ff 76.5px,#00e4ff 84.5px,#01fffe 91.5px,#35ffca 97.5px,#8bff74 104.5px,#c5ff3a 110.5px,#eaff15 115.5px,#f8ff07 116.5px,#fff500 117.5px,#ffd700 119.5px,#ffbb00 122.5px,#ffb100 125.5px,#ffb700 127.5px,#ffd400 129.5px,#fbff04 131.5px,#acff53 133.5px,#6aff95 136.5px,#3bffc4 140.5px,#04fffb 147.5px,#00f3ff 150.5px,#00b1ff 163.5px,#00b5ff 164.5px,#00a3ff 166.5px,#00abff 167.5px,#009eff 168.5px,#00a2ff 170.5px,#0097ff 171.5px,#0091ff 174.5px,#0084ff 175.5px,#0087ff 176.5px,#009aff 178.5px,#0098ff 179.5px,#00a1ff 180.5px,#008fff 182.5px,#0095ff 183.5px,#0089ff 184.5px,#0095ff 185.5px,#0099ff 186.5px,#00a7ff 187.5px,#00adff 188.5px,#00a7ff 189.5px,#00abff 190.5px,#00a7ff 191.5px,#00b6ff 192.5px,#00c1ff 194.5px,#00baff 195.5px,#00d4ff 196.5px,#00c9ff 198.5px,#00cdff 200.5px,#00eaff 205.5px,#00ebff 206.5px,#00e3ff 207.5px,#00e9ff 208.5px,#00e6ff 210.5px,#00fcff 211.5px,#00ecff 212.5px,#03fffc 213.5px,#00f1ff 214.5px,#02fffd 216.5px,#00fbff 217.5px,#01fffe 220.5px,#05fffa 222.5px,#1affe5 223.5px,#0efff1 224.5px,#20ffdf 225.5px,#00ffff 226.5px,#1effe1 227.5px,#30ffcf 228.5px,#37ffc8 229.5px,#50ffaf 231px)"></div>
<div style="top:99px;height:1px;background:linear-gradient(90deg,#00dcff 0px,#00ebff 2.5px,#00f7ff 9.5px,#06fff9 11.5px,#56ffa9 22.5px,#89ff76 28.5px,#8fff70 29.5px,#8dff72 30.5px,#84ff7b 31.5px,#6fff90 32.5px,#15ffea 35.5px,#03fffc 36.5px,#00e1ff 41.5px,#00e1ff 50.5px,#0bfff4 51.5px,#9dff62 52.5px,#c1ff3e 53.5px,#2effd1 54.5px,#00eaff 55.5px,#00e1ff 76.5px,#00e4ff 84.5px,#01fffe 91.5px,#35ffca 97.5px,#8bff74 104.5px,#c5ff3a 110.5px,#eaff15 115.5px,#f8ff07 116.5px,#fff400 117.5px,#ffd600 119.5px,#ffbb00 122.5px,#ffb400 125.5px,#ffbb00 127.5px,#ffd800 129.5px,#ffed00 130.5px,#f6ff09 131.5px,#a6ff59 133.5px,#78ff87 135.5px,#5bffa4 137.5px,#33ffcc 141.5px,#04fffb 147.5px,#00f8ff 149.5px,#00afff 163.5px,#00b4ff 164.5px,#00a1ff 166.5px,#00aaff 167.5px,#009cff 168.5px,#00a1ff 170.5px,#0095ff 171.5px,#008fff 174.5px,#0081ff 175.5px,#008fff 177.5px,#009aff 178.5px,#0097ff 179.5px,#00a1ff 180.5px,#008eff 182.5px,#0094ff 183.5px,#0087ff 184.5px,#0094ff 185.5px,#0097ff 186.5px,#00a6ff 187.5px,#00adff 188.5px,#00a6ff 189.5px,#00aaff 190.5px,#00a5ff 191.5px,#00b5ff 192.5px,#00c0ff 194.5px,#00b9ff 195.5px,#00d4ff 196.5px,#00c8ff 198.5px,#00ccff 200.5px,#00d4ff 201.5px,#00d5ff 202.5px,#00eaff 205.5px,#00eaff 206.5px,#00e2ff 207.5px,#00e9ff 208.5px,#00e5ff 210.5px,#00fdff 211.5px,#00eaff 212.5px,#03fffc 213.5px,#00f0ff 214.5px,#02fffd 216.5px,#00faff 217.5px,#00feff 219.5px,#04fffb 222.5px,#1affe5 223.5px,#0dfff2 224.5px,#20ffdf 225.5px,#00fcff 226.5px,#1dffe2 227.5px,#2fffd0 228.5px,#36ffc9 229.5px,#50ffaf 231px)"></div>
<div style="top:100px;height:1px;background:linear-gradient(90deg,#00dcff 0px,#00ebff 2.5px,#00f7ff 9.5px,#06fff9 11.5px,#56ffa9 22.5px,#89ff76 28.5px,#8fff70 29.5px,#8dff72 30.5px,#84ff7b 31.5px,#6fff90 32.5px,#15ffea 35.5px,#03fffc 36.5px,#00e1ff 41.5px,#00e1ff 50.5px,#0bfff4 51.5px,#9dff62 52.5px,#c1ff3e 53.5px,#2effd1 54.5px,#00eaff 55.5px,#00e1ff 76.5px,#00e4ff 84.5px,#01fffe 91.5px,#35ffca 97.5px,#8bff74 104.5px,#c5ff3a 110.5px,#eaff15 115.5px,#f8ff07 116.5px,#fff300 117.5px,#ffe000 118.5px,#ffbc00 122.5px,#ffb600 125.5px,#ffbf00 127.5px,#ffdc00 129.5px,#fff100 130.5px,#f2ff0d 131.5px,#a0ff5f 133.5px,#73ff8c 135.5px,#59ffa6 137.5px,#2bffd4 142.5px,#04fffb 147.5px,#00ecff 151.5px,#00adff 163.5px,#00b3ff 164.5px,#009fff 166.5px,#00a9ff 167.5px,#009aff 168.5px,#009fff 170.5px,#0093ff 171.5px,#008eff 174.5px,#007fff 175.5px,#0083ff 176.5px,#0099ff 178.5px,#0096ff 179.5px,#00a1ff 180.5px,#008dff 182.5px,#0093ff 183.5px,#0085ff 184.5px,#0092ff 185.5px,#0096ff 186.5px,#00a5ff 187.5px,#00acff 188.5px,#00a5ff 189.5px,#00a8ff 190.5px,#00a3ff 191.5px,#00b4ff 192.5px,#00c0ff 194.5px,#00b8ff 195.5px,#00d4ff 196.5px,#00c7ff 198.5px,#00cbff 200.5px,#00d3ff 201.5px,#00d4ff 202.5px,#00eaff 205.5px,#00eaff 206.5px,#00e1ff 207.5px,#00e8ff 208.5px,#00e4ff 210.5px,#00fdff 211.5px,#00e9ff 212.5px,#03fffc 213.5px,#00efff 214.5px,#02fffd 216.5px,#00faff 217.5px,#01fffe 218.5px,#02fffd 222.5px,#1affe5 223.5px,#0cfff3 224.5px,#21ffde 225.5px,#00faff 226.5px,#1cffe3 227.5px,#2fffd0 228.5px,#35ffca 229.5px,#50ffaf 231px)"></div>
<div style="top:101px;height:1px;background:linear-gradient(90deg,#00dcff 0px,#00ebff 2.5px,#00f7ff 9.5px,#06fff9 11.5px,#56ffa9 22.5px,#89ff76 28.5px,#8fff70 29.5px,#8dff72 30.5px,#84ff7b 31.5px,#6fff90 32.5px,#15ffea 35.5px,#03fffc 36.5px,#00e1ff 41.5px,#00e1ff 50.5px,#0bfff4 51.5px,#9dff62 52.5px,#c1ff3e 53.5px,#2effd1 54.5px,#00eaff 55.5px,#00e1ff 76.5px,#00e4ff 84.5px,#01fffe 91.5px,#35ffca 97.5px,#8bff74 104.5px,#c5ff3a 110.5px,#eaff15 115.5px,#f9ff06 116.5px,#ffdf00 118.5px,#ffbd00 122.5px,#ffb800 124.5px,#ffc400 127.5px,#ffe000 129.5px,#fff500 130.5px,#edff12 131.5px,#9aff65 133.5px,#6fff90 135.5px,#5fffa0 136.5px,#0bfff4 146.5px,#00fdff 148.5px,#00c6ff 158.5px,#00acff 163.5px,#00b2ff 164.5px,#009dff 166.5px,#00a7ff 167.5px,#0098ff 168.5px,#009eff 170.5px,#0091ff 171.5px,#008cff 174.5px,#007cff 175.5px,#008cff 177.5px,#0098ff 178.5px,#0095ff 179.5px,#00a0ff 180.5px,#008cff 182.5px,#0092ff 183.5px,#0083ff 184.5px,#0091ff 185.5px,#0094ff 186.5px,#00a5ff 187.5px,#00acff 188.5px,#00a4ff 189.5px,#00a7ff 190.5px,#00a2ff 191.5px,#00b3ff 192.5px,#00bfff 194.5px,#00b6ff 195.5px,#00d5ff 196.5px,#00c6ff 198.5px,#00caff 200.5px,#00d2ff 201.5px,#00d3ff 202.5px,#00eaff 205.5px,#00eaff 206.5px,#00e0ff 207.5px,#00e7ff 208.5px,#00e2ff 210.5px,#00fdff 211.5px,#00e8ff 212.5px,#04fffb 213.5px,#00eeff 214.5px,#02fffd 216.5px,#00f9ff 217.5px,#00ffff 218.5px,#00fcff 220.5px,#01fffe 222.5px,#1affe5 223.5px,#0bfff4 224.5px,#21ffde 225.5px,#00f7ff 226.5px,#1bffe4 227.5px,#2effd1 228.5px,#34ffcb 229.5px,#4fffb0 231px)"></div>
<div style="top:102px;height:1px;background:linear-gradient(90deg,#00dcff 0px,#00ebff 2.5px,#00f7ff 9.5px,#06fff9 11.5px,#56ffa9 22.5px,#89ff76 28.5px,#8fff70 29.5px,#8dff72 30.5px,#84ff7b 31.5px,#6fff90 32.5px,#15ffea 35.5px,#03fffc 36.5px,#00e1ff 41.5px,#00e1ff 50.5px,#0bfff4 51.5px,#9dff62 52.5px,#c1ff3e 53.5px,#2effd1 54.5px,#00eaff 55.5px,#00e1ff 76.5px,#00e4ff 84.5px,#01fffe 91.5px,#35ffca 97.5px,#8bff74 104.5px,#c5ff3a 110.5px,#eaff15 115.5px,#f9ff06 116.5px,#ffdd00 118.5px,#ffbd00 122.5px,#ffb900 124.5px,#ffc800 127.5px,#ffe500 129.5px,#fff900 130.5px,#e8ff17 131.5px,#94ff6b 133.5px,#6aff95 135.5px,#53ffac 137.5px,#04fffb 147.5px,#00f0ff 150.5px,#00c4ff 158.5px,#00aaff 163.5px,#00b1ff 164.5px,#009bff 166.5px,#00a6ff 167.5px,#0096ff 168.5px,#009dff 170.5px,#008fff 171.5px,#008aff 174.5px,#007aff 175.5px,#007eff 176.5px,#0098ff 178.5px,#0094ff 179.5px,#00a0ff 180.5px,#008bff 182.5px,#0091ff 183.5px,#0081ff 184.5px,#0090ff 185.5px,#0093ff 186.5px,#00a4ff 187.5px,#00abff 188.5px,#00a3ff 189.5px,#00a6ff 190.5px,#00a0ff 191.5px,#00b2ff 192.5px,#00bfff 194.5px,#00b5ff 195.5px,#00d5ff 196.5px,#00c5ff 198.5px,#00c9ff 200.5px,#00e1ff 204.5px,#00eaff 205.5px,#00eaff 206.5px,#00dfff 207.5px,#00e7ff 208.5px,#00e1ff 210.5px,#00fdff 211.5px,#00e7ff 212.5px,#04fffb 213.5px,#00edff 214.5px,#02fffd 216.5px,#00f8ff 217.5px,#00ffff 218.5px,#00fbff 220.5px,#00ffff 222.5px,#1affe5 223.5px,#0afff5 224.5px,#21ffde 225.5px,#00f5ff 226.5px,#1affe5 227.5px,#2effd1 228.5px,#33ffcc 229.5px,#4fffb0 231px)"></div>
<div style="top:103px;height:1px;background:linear-gradient(90deg,#00dcff 0px,#00ebff 2.5px,#00f7ff 9.5px,#06fff9 11.5px,#56ffa9 22.5px,#89ff76 28.5px,#8fff70 29.5px,#8dff72 30.5px,#84ff7b 31.5px,#6fff90 32.5px,#15ffea 35.5px,#03fffc 36.5px,#00e1ff 41.5px,#00e1ff 50.5px,#0bfff4 51.5px,#9dff62 52.5px,#c1ff3e 53.5px,#2effd1 54.5px,#00eaff 55.5px,#00e1ff 76.5px,#00e4ff 84.5px,#01fffe 91.5px,#35ffca 97.5px,#8bff74 104.5px,#c5ff3a 110.5px,#eaff15 115.5px,#f9ff06 116.5px,#ffdb00 118.5px,#ffbe00 122.5px,#ffbb00 124.5px,#ffc300 126.5px,#ffd700 128.5px,#fffc00 130.5px,#e4ff1b 131.5px,#8eff71 133.5px,#66ff99 135.5px,#58ffa7 136.5px,#04fffb 147.5px,#00e9ff 151.5px,#00c2ff 158.5px,#00a8ff 163.5px,#00afff 164.5px,#0099ff 166.5px,#00a5ff 167.5px,#0094ff 168.5px,#009cff 170.5px,#008dff 171.5px,#0088ff 174.5px,#0077ff 175.5px,#007cff 176.5px,#0097ff 178.5px,#0093ff 179.5px,#00a0ff 180.5px,#0089ff 182.5px,#0090ff 183.5px,#007fff 184.5px,#008eff 185.5px,#0091ff 186.5px,#00a3ff 187.5px,#00abff 188.5px,#00a1ff 189.5px,#00a5ff 190.5px,#009eff 191.5px,#00b1ff 192.5px,#00beff 194.5px,#00b4ff 195.5px,#00d5ff 196.5px,#00c5ff 198.5px,#00c3ff 199.5px,#00d1ff 201.5px,#00d2ff 202.5px,#00eaff 205.5px,#00eaff 206.5px,#00deff 207.5px,#00e6ff 208.5px,#00e0ff 210.5px,#00feff 211.5px,#00e6ff 212.5px,#04fffb 213.5px,#00ecff 214.5px,#01fffe 216.5px,#00f7ff 217.5px,#00feff 218.5px,#00faff 220.5px,#00feff 222.5px,#1bffe4 223.5px,#0afff5 224.5px,#21ffde 225.5px,#00f2ff 226.5px,#19ffe6 227.5px,#2dffd2 228.5px,#32ffcd 229.5px,#4fffb0 231px)"></div>
<div style="top:104px;height:1px;background:linear-gradient(90deg,#00dcff 0px,#00ebff 2.5px,#00f7ff 9.5px,#06fff9 11.5px,#56ffa9 22.5px,#89ff76 28.5px,#8fff70 29.5px,#8dff72 30.5px,#84ff7b 31.5px,#6fff90 32.5px,#15ffea 35.5px,#03fffc 36.5px,#00e1ff 41.5px,#00e1ff 50.5px,#0bfff4 51.5px,#9dff62 52.5px,#c1ff3e 53.5px,#2effd1 54.5px,#00eaff 55.5px,#00e1ff 76.5px,#00e4ff 84.5px,#01fffe 91.5px,#35ffca 97.5px,#8bff74 104.5px,#c5ff3a 110.5px,#eaff15 115.5px,#f9ff06 116.5px,#ffda00 118.5px,#ffbf00 122.5px,#ffbd00 124.5px,#ffc600 126.5px,#ffdb00 128.5px,#feff01 130.5px,#dfff20 131.5px,#88ff77 133.5px,#61ff9e 135.5px,#54ffab 136.5px,#23ffdc 143.5px,#00fcff 148.5px,#00caff 156.5px,#00a6ff 163.5px,#00aeff 164.5px,#0097ff 166.5px,#00a4ff 167.5px,#0092ff 168.5px,#009aff 170.5px,#008bff 171.5px,#0085ff 173.5px,#0087ff 174.5px,#0074ff 175.5px,#007aff 176.5px,#0096ff 178.5px,#0092ff 179.5px,#00a0ff 180.5px,#0088ff 182.5px,#008fff 183.5px,#007dff 184.5px,#008dff 185.5px,#0090ff 186.5px,#00a2ff 187.5px,#00abff 188.5px,#00a0ff 189.5px,#00a4ff 190.5px,#009cff 191.5px,#00b0ff 192.5px,#00beff 194.5px,#00b2ff 195.5px,#00d6ff 196.5px,#00c4ff 198.5px,#00c2ff 199.5px,#00d0ff 201.5px,#00d1ff 202.5px,#00eaff 205.5px,#00eaff 206.5px,#00ddff 207.5px,#00e5ff 208.5px,#00dfff 210.5px,#00feff 211.5px,#00e5ff 212.5px,#05fffa 213.5px,#00ebff 214.5px,#01fffe 216.5px,#00f6ff 217.5px,#00fdff 218.5px,#00f9ff 220.5px,#00ffff 221.5px,#00fcff 222.5px,#1bffe4 223.5px,#09fff6 224.5px,#21ffde 225.5px,#00f0ff 226.5px,#19ffe6 227.5px,#2dffd2 228.5px,#31ffce 229.5px,#4fffb0 231px)"></div>
<div style="top:105px;height:1px;background:linear-gradient(90deg,#00dcff 0px,#00ebff 2.5px,#00f7ff 9.5px,#06fff9 11.5px,#56ffa9 22.5px,#89ff76 28.5px,#8fff70 29.5px,#8dff72 30.5px,#84ff7b 31.5px,#6fff90 32.5px,#15ffea 35.5px,#03fffc 36.5px,#00e1ff 41.5px,#00e1ff 50.5px,#0bfff4 51.5px,#9dff62 52.5px,#c1ff3e 53.5px,#2effd1 54.5px,#00eaff 55.5px,#00e1ff 76.5px,#00e4ff 84.5px,#01fffe 91.5px,#35ffca 97.5px,#8bff74 104.5px,#c5ff3a 110.5px,#eaff15 115.5px,#faff05 116.5px,#ffd800 118.5px,#ffbf00 122.5px,#ffbb00 123.5px,#ffc900 126.5px,#ffdf00 128.5px,#faff05 130.5px,#dbff24 131.5px,#82ff7d 133.5px,#5dffa2 135.5px,#4bffb4 137.5px,#33ffcc 141.5px,#04fffb 147.5px,#00e7ff 151.5px,#00c4ff 157.5px,#00a4ff 163.5px,#00adff 164.5px,#0095ff 166.5px,#00a2ff 167.5px,#0090ff 168.5px,#0099ff 170.5px,#0089ff 171.5px,#0083ff 173.5px,#0085ff 174.5px,#0072ff 175.5px,#0078ff 176.5px,#0095ff 178.5px,#0092ff 179.5px,#00a0ff 180.5px,#0087ff 182.5px,#008eff 183.5px,#007bff 184.5px,#008bff 185.5px,#008eff 186.5px,#00a2ff 187.5px,#00aaff 188.5px,#009fff 189.5px,#00a2ff 190.5px,#009bff 191.5px,#00b0ff 192.5px,#00bdff 194.5px,#00b1ff 195.5px,#00d6ff 196.5px,#00c3ff 198.5px,#00c1ff 199.5px,#00cfff 201.5px,#00d0ff 202.5px,#00eaff 205.5px,#00e9ff 206.5px,#00dcff 207.5px,#00e5ff 208.5px,#00deff 209.5px,#00deff 210.5px,#00feff 211.5px,#00e4ff 212.5px,#05fffa 213.5px,#00eaff 214.5px,#01fffe 216.5px,#00f6ff 217.5px,#00fdff 218.5px,#00f8ff 220.5px,#00feff 221.5px,#00fbff 222.5px,#1bffe4 223.5px,#08fff7 224.5px,#21ffde 225.5px,#00eeff 226.5px,#18ffe7 227.5px,#2cffd3 228.5px,#30ffcf 229.5px,#4fffb0 231px)"></div>
<div style="top:106px;height:1px;background:linear-gradient(90deg,#00daff 0px,#00e9ff 3.5px,#00efff 8.5px,#00fcff 10.5px,#60ff9f 23.5px,#87ff78 28.5px,#8cff73 29.5px,#8aff75 30.5px,#80ff7f 31.5px,#6cff93 32.5px,#13ffec 35.5px,#01fffe 36.5px,#00ddff 41.5px,#00ddff 50.5px,#0bfff4 51.5px,#9dff62 52.5px,#c1ff3e 53.5px,#2effd1 54.5px,#00e7ff 55.5px,#00deff 78.5px,#00e5ff 85.5px,#00feff 91.5px,#33ffcc 97.5px,#86ff79 104.5px,#c2ff3d 110.5px,#eaff15 115.5px,#faff05 116.5px,#ffd800 118.5px,#ffc200 122.5px,#ffc200 124.5px,#ffcd00 126.5px,#ffe300 128.5px,#fff500 129.5px,#f8ff07 130.5px,#d9ff26 131.5px,#80ff7f 133.5px,#59ffa6 135.5px,#4dffb2 136.5px,#2fffd0 141.5px,#00ffff 147.5px,#00c5ff 156.5px,#00a1ff 163.5px,#00abff 164.5px,#0092ff 166.5px,#00a0ff 167.5px,#008cff 168.5px,#0096ff 170.5px,#0085ff 171.5px,#0082ff 174.5px,#006eff 175.5px,#0074ff 176.5px,#0094ff 178.5px,#0090ff 179.5px,#009fff 180.5px,#0085ff 182.5px,#008dff 183.5px,#0078ff 184.5px,#008aff 185.5px,#008cff 186.5px,#00a1ff 187.5px,#00a9ff 188.5px,#009dff 189.5px,#00a1ff 190.5px,#0098ff 191.5px,#00aeff 192.5px,#00bbff 194.5px,#00afff 195.5px,#00d5ff 196.5px,#00c1ff 198.5px,#00beff 199.5px,#00cdff 201.5px,#00ceff 202.5px,#00e8ff 205.5px,#00e7ff 206.5px,#00daff 207.5px,#00e2ff 208.5px,#00daff 210.5px,#00fdff 211.5px,#00e1ff 212.5px,#04fffb 213.5px,#00e7ff 214.5px,#00feff 216.5px,#00f3ff 217.5px,#00fbff 218.5px,#00f5ff 220.5px,#00fcff 221.5px,#00f9ff 222.5px,#1affe5 223.5px,#05fffa 224.5px,#20ffdf 225.5px,#00eaff 226.5px,#16ffe9 227.5px,#2bffd4 228.5px,#2effd1 229.5px,#4effb1 231px)"></div>
<div style="top:107px;height:1px;background:linear-gradient(90deg,#00d4ff 0px,#00e0ff 2.5px,#00e8ff 8.5px,#02fffd 11.5px,#4bffb4 20.5px,#7dff82 27.5px,#86ff79 29.5px,#78ff87 31.5px,#64ff9b 32.5px,#10ffef 35.5px,#00fcff 36.5px,#00d9ff 40.5px,#00d5ff 44.5px,#00d5ff 50.5px,#0bfff4 51.5px,#9dff62 52.5px,#c1ff3e 53.5px,#2effd1 54.5px,#00e1ff 55.5px,#00d9ff 81.5px,#00e7ff 87.5px,#00fbff 91.5px,#15ffea 94.5px,#3bffc4 98.5px,#7cff83 104.5px,#ceff31 112.5px,#eaff15 115.5px,#faff05 116.5px,#ffd900 118.5px,#ffc800 121.5px,#ffc500 123.5px,#ffd300 126.5px,#ffe700 128.5px,#fff700 129.5px,#f7ff08 130.5px,#d9ff26 131.5px,#82ff7d 133.5px,#57ffa8 135.5px,#49ffb6 136.5px,#01fffe 146.5px,#00c4ff 155.5px,#00a5ff 162.5px,#009dff 163.5px,#00a8ff 164.5px,#008dff 166.5px,#009cff 167.5px,#0088ff 168.5px,#0092ff 170.5px,#0080ff 171.5px,#007dff 174.5px,#0068ff 175.5px,#006eff 176.5px,#0090ff 178.5px,#008dff 179.5px,#009eff 180.5px,#0084ff 182.5px,#008bff 183.5px,#0075ff 184.5px,#0087ff 185.5px,#008aff 186.5px,#009fff 187.5px,#00a8ff 188.5px,#009bff 189.5px,#009eff 190.5px,#0095ff 191.5px,#00abff 192.5px,#00b9ff 194.5px,#00abff 195.5px,#00d3ff 196.5px,#00bdff 198.5px,#00baff 199.5px,#00c9ff 201.5px,#00c9ff 202.5px,#00e4ff 205.5px,#00e3ff 206.5px,#00d5ff 207.5px,#00deff 208.5px,#00d6ff 209.5px,#00d5ff 210.5px,#00f9ff 211.5px,#00dcff 212.5px,#01fffe 213.5px,#00e3ff 214.5px,#00fbff 216.5px,#00f0ff 217.5px,#00f8ff 218.5px,#00f2ff 220.5px,#00f8ff 221.5px,#00f5ff 222.5px,#17ffe8 223.5px,#02fffd 224.5px,#1effe1 225.5px,#00e5ff 226.5px,#12ffed 227.5px,#28ffd7 228.5px,#2bffd4 229.5px,#4cffb3 231px)"></div>
<div style="top:108px;height:1px;background:linear-gradient(90deg,#00cfff 0px,#00d9ff 2.5px,#00e2ff 8.5px,#00ffff 11.5px,#48ffb7 19.5px,#7aff85 27.5px,#80ff80 29.5px,#7bff84 30.5px,#70ff8f 31.5px,#5dffa2 32.5px,#0dfff2 35.5px,#00f8ff 36.5px,#00d9ff 39.5px,#00cdff 41.5px,#00cdff 50.5px,#0bfff4 51.5px,#9dff62 52.5px,#c1ff3e 53.5px,#2effd1 54.5px,#00dbff 55.5px,#00d4ff 81.5px,#00e3ff 87.5px,#00ffff 92.5px,#37ffc8 98.5px,#6aff95 103.5px,#84ff7b 106.5px,#cbff34 112.5px,#e9ff16 115.5px,#faff05 116.5px,#ffda00 118.5px,#ffcb00 121.5px,#ffcf00 124.5px,#ffd900 126.5px,#ffeb00 128.5px,#fff900 129.5px,#f6ff09 130.5px,#d9ff26 131.5px,#83ff7c 133.5px,#54ffab 135.5px,#45ffba 136.5px,#02fffd 145.5px,#00bfff 155.5px,#00a1ff 162.5px,#0099ff 163.5px,#00a5ff 164.5px,#0089ff 166.5px,#0099ff 167.5px,#0083ff 168.5px,#008dff 170.5px,#007bff 171.5px,#0076ff 173.5px,#0079ff 174.5px,#0063ff 175.5px,#0069ff 176.5px,#008dff 178.5px,#008aff 179.5px,#009dff 180.5px,#0082ff 182.5px,#008aff 183.5px,#0073ff 184.5px,#0085ff 185.5px,#0088ff 186.5px,#009dff 187.5px,#00a6ff 188.5px,#0099ff 189.5px,#009cff 190.5px,#0091ff 191.5px,#00a8ff 192.5px,#00b6ff 194.5px,#00a8ff 195.5px,#00d1ff 196.5px,#00c9ff 197.5px,#00baff 198.5px,#00b6ff 199.5px,#00c5ff 201.5px,#00c5ff 202.5px,#00e0ff 205.5px,#00dfff 206.5px,#00d0ff 207.5px,#00d9ff 208.5px,#00d0ff 209.5px,#00d0ff 210.5px,#00f6ff 211.5px,#00d8ff 212.5px,#00fdff 213.5px,#00dfff 214.5px,#00f8ff 216.5px,#00ecff 217.5px,#00f4ff 218.5px,#00eeff 220.5px,#00f5ff 221.5px,#00f1ff 222.5px,#15ffea 223.5px,#00fdff 224.5px,#1bffe4 225.5px,#00e0ff 226.5px,#0ffff0 227.5px,#25ffda 228.5px,#28ffd7 229.5px,#4affb5 231px)"></div>
<div style="top:109px;height:1px;background:linear-gradient(90deg,#00caff 0px,#00d4ff 4.5px,#00d6ff 7.5px,#00e5ff 9.5px,#00fdff 11.5px,#44ffbb 18.5px,#73ff8c 26.5px,#79ff86 29.5px,#68ff97 31.5px,#56ffa9 32.5px,#09fff6 35.5px,#00f4ff 36.5px,#00d9ff 38.5px,#00c4ff 41.5px,#00c4ff 50.5px,#0bfff4 51.5px,#9dff62 52.5px,#c1ff3e 53.5px,#2effd1 54.5px,#00d8ff 55.5px,#00cdff 80.5px,#00e8ff 89.5px,#04fffb 93.5px,#3dffc2 99.5px,#62ff9d 103.5px,#79ff86 106.5px,#c7ff38 112.5px,#e9ff16 115.5px,#faff05 116.5px,#ffdb00 118.5px,#ffce00 121.5px,#ffd800 125.5px,#ffee00 128.5px,#fffc00 129.5px,#f5ff0a 130.5px,#d9ff26 131.5px,#84ff7b 133.5px,#52ffad 135.5px,#41ffbe 136.5px,#02fffd 144.5px,#00beff 154.5px,#009dff 162.5px,#0095ff 163.5px,#00a1ff 164.5px,#0085ff 166.5px,#0095ff 167.5px,#007eff 168.5px,#0087ff 169.5px,#0089ff 170.5px,#0076ff 171.5px,#0072ff 173.5px,#0075ff 174.5px,#005eff 175.5px,#0063ff 176.5px,#008aff 178.5px,#0088ff 179.5px,#009bff 180.5px,#0080ff 182.5px,#0088ff 183.5px,#0070ff 184.5px,#0083ff 185.5px,#0085ff 186.5px,#009bff 187.5px,#00a4ff 188.5px,#0096ff 189.5px,#0099ff 190.5px,#008eff 191.5px,#00a6ff 192.5px,#00b3ff 194.5px,#00a4ff 195.5px,#00cfff 196.5px,#00c6ff 197.5px,#00b6ff 198.5px,#00b2ff 199.5px,#00c1ff 201.5px,#00c1ff 202.5px,#00ddff 205.5px,#00dbff 206.5px,#00cbff 207.5px,#00d5ff 208.5px,#00cbff 209.5px,#00cbff 210.5px,#00f2ff 211.5px,#00d3ff 212.5px,#00faff 213.5px,#00dbff 214.5px,#00f6ff 216.5px,#00e9ff 217.5px,#00f1ff 218.5px,#00eaff 220.5px,#00f1ff 221.5px,#00edff 222.5px,#12ffed 223.5px,#00faff 224.5px,#19ffe6 225.5px,#00dbff 226.5px,#0cfff3 227.5px,#23ffdc 228.5px,#25ffda 229.5px,#48ffb7 231px)"></div>
<div style="top:110px;height:1px;background:linear-gradient(90deg,#00c5ff 0px,#00cdff 5.5px,#00ceff 7.5px,#00e0ff 9.5px,#00faff 11.5px,#14ffeb 13.5px,#48ffb7 18.5px,#6eff91 25.5px,#75ff8a 28.5px,#6cff93 30.5px,#4fffb0 32.5px,#06fff9 35.5px,#00deff 37.5px,#00c1ff 40.5px,#00bcff 42.5px,#00bcff 50.5px,#0bfff4 51.5px,#9dff62 52.5px,#c1ff3e 53.5px,#2effd1 54.5px,#00d8ff 55.5px,#00d0ff 56.5px,#00c8ff 80.5px,#00e4ff 89.5px,#00ffff 93.5px,#38ffc7 99.5px,#52ffad 102.5px,#6eff91 106.5px,#d0ff2f 113.5px,#e8ff17 115.5px,#faff05 116.5px,#ffdc00 118.5px,#ffd100 121.5px,#ffe400 126.5px,#fff200 128.5px,#fffe00 129.5px,#f5ff0a 130.5px,#d9ff26 131.5px,#86ff79 133.5px,#4fffb0 135.5px,#3dffc2 136.5px,#10ffef 141.5px,#02fffd 143.5px,#00b8ff 154.5px,#0099ff 162.5px,#0091ff 163.5px,#009eff 164.5px,#0081ff 166.5px,#0091ff 167.5px,#007aff 168.5px,#0083ff 169.5px,#0084ff 170.5px,#0071ff 171.5px,#006dff 173.5px,#0070ff 174.5px,#0059ff 175.5px,#005eff 176.5px,#0086ff 178.5px,#0085ff 179.5px,#0099ff 180.5px,#007eff 182.5px,#0086ff 183.5px,#006dff 184.5px,#0081ff 185.5px,#0083ff 186.5px,#009aff 187.5px,#00a3ff 188.5px,#0094ff 189.5px,#0097ff 190.5px,#008bff 191.5px,#00a3ff 192.5px,#00b1ff 194.5px,#00a1ff 195.5px,#00cdff 196.5px,#00b3ff 198.5px,#00afff 199.5px,#00bdff 201.5px,#00bdff 202.5px,#00d8ff 205.5px,#00d7ff 206.5px,#00c6ff 207.5px,#00d0ff 208.5px,#00c6ff 209.5px,#00c6ff 210.5px,#00eeff 211.5px,#00ceff 212.5px,#00f6ff 213.5px,#00d6ff 214.5px,#00f2ff 216.5px,#00e6ff 217.5px,#00eeff 218.5px,#00e6ff 220.5px,#00eeff 221.5px,#00e9ff 222.5px,#0ffff0 223.5px,#00f6ff 224.5px,#16ffe9 225.5px,#00d6ff 226.5px,#08fff7 227.5px,#20ffdf 228.5px,#22ffdd 229.5px,#46ffb9 231px)"></div>
<div style="top:111px;height:1px;background:linear-gradient(90deg,#00c0ff 0px,#00c6ff 7.5px,#00cdff 8.5px,#00f8ff 11.5px,#06fff9 12.5px,#37ffc8 16.5px,#53ffac 19.5px,#6fff90 26.5px,#6dff92 29.5px,#59ffa6 31.5px,#1affe5 34.5px,#03fffc 35.5px,#00d8ff 37.5px,#00c1ff 39.5px,#00b4ff 41.5px,#00b4ff 50.5px,#0bfff4 51.5px,#9dff62 52.5px,#c1ff3e 53.5px,#2effd1 54.5px,#00d8ff 55.5px,#00caff 56.5px,#00c2ff 80.5px,#00e5ff 90.5px,#04fffb 94.5px,#46ffb9 101.5px,#59ffa6 105.5px,#73ff8c 107.5px,#dbff24 114.5px,#faff05 116.5px,#ffdd00 118.5px,#ffd400 121.5px,#ffef00 127.5px,#feff01 129.5px,#f4ff0b 130.5px,#d9ff26 131.5px,#87ff78 133.5px,#4dffb2 135.5px,#39ffc6 136.5px,#0ffff0 140.5px,#01fffe 142.5px,#00b3ff 154.5px,#008eff 163.5px,#009bff 164.5px,#007dff 166.5px,#008dff 167.5px,#0076ff 168.5px,#007eff 169.5px,#007fff 170.5px,#006cff 171.5px,#0068ff 173.5px,#006cff 174.5px,#0054ff 175.5px,#0059ff 176.5px,#0082ff 178.5px,#0082ff 179.5px,#0097ff 180.5px,#007cff 182.5px,#0085ff 183.5px,#006cff 184.5px,#007fff 185.5px,#0081ff 186.5px,#0098ff 187.5px,#00a1ff 188.5px,#0092ff 189.5px,#0094ff 190.5px,#0089ff 191.5px,#00a0ff 192.5px,#00aeff 194.5px,#009eff 195.5px,#00c9ff 196.5px,#00c0ff 197.5px,#00afff 198.5px,#00abff 199.5px,#00b9ff 201.5px,#00b9ff 202.5px,#00d4ff 205.5px,#00d3ff 206.5px,#00c2ff 207.5px,#00cbff 208.5px,#00c1ff 209.5px,#00c1ff 210.5px,#00eaff 211.5px,#00caff 212.5px,#00f2ff 213.5px,#00d2ff 214.5px,#00efff 216.5px,#00e2ff 217.5px,#00eaff 218.5px,#00e3ff 220.5px,#00eaff 221.5px,#00e6ff 222.5px,#0cfff3 223.5px,#00f3ff 224.5px,#12ffed 225.5px,#00d3ff 226.5px,#05fffa 227.5px,#1dffe2 228.5px,#20ffdf 229.5px,#44ffbb 231px)"></div>
<div style="top:112px;height:1px;background:linear-gradient(90deg,#00baff 0px,#00beff 7.5px,#00c6ff 8.5px,#00f6ff 11.5px,#05fffa 12.5px,#3affc5 16.5px,#56ffa9 19.5px,#6dff92 25.5px,#6cff93 28.5px,#5cffa3 30.5px,#40ffbf 32.5px,#00ffff 35.5px,#00d2ff 37.5px,#00c2ff 38.5px,#00acff 41.5px,#00aeff 50.5px,#0bfff4 51.5px,#9dff62 52.5px,#c1ff3e 53.5px,#2effd1 54.5px,#00d8ff 55.5px,#00c4ff 56.5px,#00beff 76.5px,#00bdff 80.5px,#00e1ff 90.5px,#00ffff 94.5px,#40ffbf 101.5px,#4effb1 105.5px,#58ffa7 106.5px,#daff25 114.5px,#faff05 116.5px,#ffde00 118.5px,#ffd600 120.5px,#fcff03 129.5px,#f3ff0c 130.5px,#daff25 131.5px,#88ff77 133.5px,#4affb5 135.5px,#34ffcb 136.5px,#07fff8 140.5px,#00ffff 141.5px,#00b1ff 153.5px,#0091ff 162.5px,#008aff 163.5px,#0097ff 164.5px,#0079ff 166.5px,#0089ff 167.5px,#0071ff 168.5px,#007aff 169.5px,#007bff 170.5px,#0067ff 171.5px,#0064ff 173.5px,#0068ff 174.5px,#0050ff 175.5px,#0055ff 176.5px,#007fff 178.5px,#007eff 179.5px,#0095ff 180.5px,#007aff 182.5px,#0083ff 183.5px,#006aff 184.5px,#007dff 185.5px,#007fff 186.5px,#0096ff 187.5px,#009fff 188.5px,#0090ff 189.5px,#0092ff 190.5px,#0086ff 191.5px,#009eff 192.5px,#00abff 194.5px,#009bff 195.5px,#00c6ff 196.5px,#00bdff 197.5px,#00acff 198.5px,#00a8ff 199.5px,#00b6ff 201.5px,#00b5ff 202.5px,#00cfff 205.5px,#00ceff 206.5px,#00bdff 207.5px,#00c6ff 208.5px,#00bdff 209.5px,#00bcff 210.5px,#00e5ff 211.5px,#00c5ff 212.5px,#00eeff 213.5px,#00ceff 214.5px,#00ebff 216.5px,#00dfff 217.5px,#00e7ff 218.5px,#00dfff 220.5px,#00e7ff 221.5px,#00e2ff 222.5px,#08fff7 223.5px,#00efff 224.5px,#0ffff0 225.5px,#00cfff 226.5px,#02fffd 227.5px,#1affe5 228.5px,#1dffe2 229.5px,#41ffbe 231px)"></div>
<div style="top:113px;height:1px;background:linear-gradient(90deg,#00b5ff 0px,#00b6ff 7.5px,#00bfff 8.5px,#00f3ff 11.5px,#04fffb 12.5px,#3cffc3 16.5px,#5affa5 19.5px,#6cff93 25.5px,#67ff98 28.5px,#55ffaa 30.5px,#39ffc6 32.5px,#00fbff 35.5px,#00cbff 37.5px,#00bbff 38.5px,#00a4ff 41.5px,#00a4ff 49.5px,#00aeff 50.5px,#0bfff4 51.5px,#9dff62 52.5px,#c1ff3e 53.5px,#2effd1 54.5px,#00d8ff 55.5px,#00bfff 56.5px,#00baff 74.5px,#00b7ff 80.5px,#00ddff 90.5px,#00fbff 94.5px,#0efff1 96.5px,#39ffc6 101.5px,#43ffbc 105.5px,#4dffb2 106.5px,#c9ff36 113.5px,#faff05 116.5px,#ffdf00 118.5px,#ffd800 120.5px,#fffe00 128.5px,#f2ff0d 130.5px,#daff25 131.5px,#8aff75 133.5px,#48ffb7 135.5px,#30ffcf 136.5px,#08fff7 139.5px,#00feff 140.5px,#00abff 153.5px,#008dff 162.5px,#0086ff 163.5px,#0093ff 164.5px,#0076ff 166.5px,#0085ff 167.5px,#006dff 168.5px,#0075ff 169.5px,#0076ff 170.5px,#0063ff 171.5px,#005fff 173.5px,#0063ff 174.5px,#004cff 175.5px,#0050ff 176.5px,#007bff 178.5px,#007bff 179.5px,#0092ff 180.5px,#0079ff 182.5px,#0082ff 183.5px,#0068ff 184.5px,#007bff 185.5px,#007eff 186.5px,#0094ff 187.5px,#009dff 188.5px,#008eff 189.5px,#0090ff 190.5px,#0084ff 191.5px,#009bff 192.5px,#00a8ff 194.5px,#0098ff 195.5px,#00c3ff 196.5px,#00baff 197.5px,#00a8ff 198.5px,#00a4ff 199.5px,#00b2ff 201.5px,#00b1ff 202.5px,#00cbff 205.5px,#00c9ff 206.5px,#00b8ff 207.5px,#00c1ff 208.5px,#00b8ff 209.5px,#00b7ff 210.5px,#00e0ff 211.5px,#00c1ff 212.5px,#00e9ff 213.5px,#00caff 214.5px,#00e8ff 216.5px,#00dbff 217.5px,#00e3ff 218.5px,#00dcff 220.5px,#00e3ff 221.5px,#00dfff 222.5px,#05fffa 223.5px,#00ecff 224.5px,#0cfff3 225.5px,#00ccff 226.5px,#00fdff 227.5px,#17ffe8 228.5px,#1affe5 229.5px,#3fffc0 231px)"></div>
<div style="top:114px;height:1px;background:linear-gradient(90deg,#00b2ff 0px,#00b2ff 7.5px,#00bcff 8.5px,#00f2ff 11.5px,#03fffc 12.5px,#32ffcd 15.5px,#55ffaa 18.5px,#65ff9a 22.5px,#6cff93 25.5px,#65ff9a 28.5px,#51ffae 30.5px,#35ffca 32.5px,#10ffef 34.5px,#00faff 35.5px,#00c8ff 37.5px,#00b7ff 38.5px,#00a0ff 41.5px,#00a0ff 49.5px,#00aeff 50.5px,#0bfff4 51.5px,#9dff62 52.5px,#c1ff3e 53.5px,#2effd1 54.5px,#00d8ff 55.5px,#00bcff 56.5px,#00b8ff 74.5px,#00b4ff 80.5px,#00dbff 90.5px,#02fffd 95.5px,#31ffce 100.5px,#3effc1 105.5px,#48ffb7 106.5px,#d8ff27 114.5px,#faff05 116.5px,#ffdf00 118.5px,#ffd900 120.5px,#ffe500 122.5px,#feff01 128.5px,#f2ff0d 130.5px,#daff25 131.5px,#8aff75 133.5px,#46ffb9 135.5px,#2effd1 136.5px,#05fffa 139.5px,#00f3ff 141.5px,#00a8ff 153.5px,#008bff 162.5px,#0084ff 163.5px,#0092ff 164.5px,#0074ff 166.5px,#0083ff 167.5px,#006bff 168.5px,#0073ff 169.5px,#0074ff 170.5px,#0060ff 171.5px,#005dff 173.5px,#0061ff 174.5px,#0049ff 175.5px,#004dff 176.5px,#0079ff 178.5px,#007aff 179.5px,#0091ff 180.5px,#0078ff 182.5px,#0081ff 183.5px,#0068ff 184.5px,#007bff 185.5px,#007dff 186.5px,#0093ff 187.5px,#009cff 188.5px,#008dff 189.5px,#008fff 190.5px,#0083ff 191.5px,#009aff 192.5px,#00a7ff 194.5px,#0096ff 195.5px,#00c2ff 196.5px,#00b8ff 197.5px,#00a7ff 198.5px,#00a2ff 199.5px,#00b0ff 201.5px,#00afff 202.5px,#00c8ff 205.5px,#00c7ff 206.5px,#00b6ff 207.5px,#00bfff 208.5px,#00b5ff 209.5px,#00b5ff 210.5px,#00deff 211.5px,#00bfff 212.5px,#00e7ff 213.5px,#00c8ff 214.5px,#00e6ff 216.5px,#00d9ff 217.5px,#00e2ff 218.5px,#00daff 220.5px,#00e2ff 221.5px,#00ddff 222.5px,#03fffc 223.5px,#00eaff 224.5px,#0afff5 225.5px,#00caff 226.5px,#00fcff 227.5px,#15ffea 228.5px,#19ffe6 229.5px,#3dffc2 231px)"></div>
<div style="top:115px;height:1px;background:linear-gradient(90deg,#00b3ff 0px,#00b3ff 7.5px,#00bcff 8.5px,#00f2ff 11.5px,#03fffc 12.5px,#32ffcd 15.5px,#55ffaa 18.5px,#65ff9a 22.5px,#6cff93 25.5px,#65ff9a 28.5px,#51ffae 30.5px,#35ffca 32.5px,#10ffef 34.5px,#00faff 35.5px,#00c8ff 37.5px,#00b7ff 38.5px,#00a0ff 41.5px,#00a0ff 49.5px,#00aeff 50.5px,#0bfff4 51.5px,#9dff62 52.5px,#c1ff3e 53.5px,#2effd1 54.5px,#00d8ff 55.5px,#00bcff 56.5px,#00b8ff 74.5px,#00b4ff 80.5px,#00dbff 90.5px,#02fffd 95.5px,#31ffce 100.5px,#3effc1 105.5px,#48ffb7 106.5px,#d8ff27 114.5px,#faff05 116.5px,#ffdf00 118.5px,#ffd900 120.5px,#ffe500 122.5px,#feff01 128.5px,#f2ff0d 130.5px,#daff25 131.5px,#8aff75 133.5px,#46ffb9 135.5px,#2effd1 136.5px,#05fffa 139.5px,#00f3ff 141.5px,#00a8ff 153.5px,#008bff 162.5px,#0084ff 163.5px,#0092ff 164.5px,#0074ff 166.5px,#0083ff 167.5px,#006bff 168.5px,#0073ff 169.5px,#0074ff 170.5px,#0060ff 171.5px,#005dff 173.5px,#0061ff 174.5px,#0049ff 175.5px,#004dff 176.5px,#0079ff 178.5px,#007aff 179.5px,#0091ff 180.5px,#0078ff 182.5px,#0081ff 183.5px,#0068ff 184.5px,#007bff 185.5px,#007dff 186.5px,#0093ff 187.5px,#009cff 188.5px,#008dff 189.5px,#008fff 190.5px,#0083ff 191.5px,#009aff 192.5px,#00a7ff 194.5px,#0096ff 195.5px,#00c2ff 196.5px,#00b8ff 197.5px,#00a7ff 198.5px,#00a2ff 199.5px,#00b0ff 201.5px,#00afff 202.5px,#00c8ff 205.5px,#00c7ff 206.5px,#00b6ff 207.5px,#00bfff 208.5px,#00b5ff 209.5px,#00b5ff 210.5px,#00deff 211.5px,#00bfff 212.5px,#00e7ff 213.5px,#00c8ff 214.5px,#00e6ff 216.5px,#00d9ff 217.5px,#00e2ff 218.5px,#00daff 220.5px,#00e2ff 221.5px,#00ddff 222.5px,#03fffc 223.5px,#00eaff 224.5px,#0afff5 225.5px,#00caff 226.5px,#00fcff 227.5px,#15ffea 228.5px,#19ffe6 229.5px,#3dffc2 231px)"></div>
<div style="top:116px;height:3px;background:linear-gradient(90deg,#00b2ff 0px,#00b2ff 7.5px,#00bcff 8.5px,#00f2ff 11.5px,#03fffc 12.5px,#32ffcd 15.5px,#55ffaa 18.5px,#65ff9a 22.5px,#6cff93 25.5px,#65ff9a 28.5px,#51ffae 30.5px,#35ffca 32.5px,#10ffef 34.5px,#00faff 35.5px,#00c8ff 37.5px,#00b7ff 38.5px,#00a0ff 41.5px,#00a0ff 49.5px,#00aeff 50.5px,#0bfff4 51.5px,#9dff62 52.5px,#c1ff3e 53.5px,#2effd1 54.5px,#00d8ff 55.5px,#00bcff 56.5px,#00b8ff 74.5px,#00b4ff 80.5px,#00dbff 90.5px,#02fffd 95.5px,#31ffce 100.5px,#3effc1 105.5px,#48ffb7 106.5px,#d8ff27 114.5px,#faff05 116.5px,#ffdf00 118.5px,#ffd900 120.5px,#ffe500 122.5px,#feff01 128.5px,#f2ff0d 130.5px,#daff25 131.5px,#8aff75 133.5px,#46ffb9 135.5px,#2effd1 136.5px,#05fffa 139.5px,#00f3ff 141.5px,#00a8ff 153.5px,#008bff 162.5px,#0084ff 163.5px,#0092ff 164.5px,#0074ff 166.5px,#0083ff 167.5px,#006bff 168.5px,#0073ff 169.5px,#0074ff 170.5px,#0060ff 171.5px,#005dff 173.5px,#0061ff 174.5px,#0049ff 175.5px,#004dff 176.5px,#0079ff 178.5px,#007aff 179.5px,#0091ff 180.5px,#0078ff 182.5px,#0081ff 183.5px,#0068ff 184.5px,#007bff 185.5px,#007dff 186.5px,#0093ff 187.5px,#009cff 188.5px,#008dff 189.5px,#008fff 190.5px,#0083ff 191.5px,#009aff 192.5px,#00a7ff 194.5px,#0096ff 195.5px,#00c2ff 196.5px,#00b8ff 197.5px,#00a7ff 198.5px,#00a2ff 199.5px,#00b0ff 201.5px,#00afff 202.5px,#00c8ff 205.5px,#00c7ff 206.5px,#00b6ff 207.5px,#00bfff 208.5px,#00b5ff 209.5px,#00b5ff 210.5px,#00deff 211.5px,#00bfff 212.5px,#00e7ff 213.5px,#00c8ff 214.5px,#00e6ff 216.5px,#00d9ff 217.5px,#00e2ff 218.5px,#00daff 220.5px,#00e2ff 221.5px,#00ddff 222.5px,#03fffc 223.5px,#00eaff 224.5px,#0afff5 225.5px,#00caff 226.5px,#00fcff 227.5px,#15ffea 228.5px,#19ffe6 229.5px,#3dffc2 231px)"></div>
<div style="top:119px;height:1px;background:linear-gradient(90deg,#00b2ff 0px,#00b2ff 7.5px,#00bcff 8.5px,#00f2ff 11.5px,#03fffc 12.5px,#32ffcd 15.5px,#55ffaa 18.5px,#65ff9a 22.5px,#6cff93 25.5px,#65ff9a 28.5px,#45ffba 31.5px,#10ffef 34.5px,#00faff 35.5px,#00c8ff 37.5px,#00b7ff 38.5px,#00a0ff 41.5px,#00a0ff 49.5px,#00aeff 50.5px,#0bfff4 51.5px,#9dff62 52.5px,#c1ff3e 53.5px,#2effd1 54.5px,#00d8ff 55.5px,#00bcff 56.5px,#00b8ff 74.5px,#00b4ff 80.5px,#00dbff 90.5px,#02fffd 95.5px,#31ffce 100.5px,#3effc1 105.5px,#48ffb7 106.5px,#d8ff27 114.5px,#faff05 116.5px,#ffdf00 118.5px,#ffd900 120.5px,#ffe500 122.5px,#feff01 128.5px,#f2ff0d 130.5px,#daff25 131.5px,#8aff75 133.5px,#46ffb9 135.5px,#2effd1 136.5px,#05fffa 139.5px,#00f3ff 141.5px,#00a8ff 153.5px,#008bff 162.5px,#0084ff 163.5px,#0092ff 164.5px,#0074ff 166.5px,#0083ff 167.5px,#006bff 168.5px,#0073ff 169.5px,#0074ff 170.5px,#0060ff 171.5px,#005dff 173.5px,#0061ff 174.5px,#0049ff 175.5px,#004dff 176.5px,#0079ff 178.5px,#007aff 179.5px,#0091ff 180.5px,#0078ff 182.5px,#0081ff 183.5px,#0068ff 184.5px,#007bff 185.5px,#007dff 186.5px,#0093ff 187.5px,#009cff 188.5px,#008dff 189.5px,#008fff 190.5px,#0083ff 191.5px,#009aff 192.5px,#00a7ff 194.5px,#0096ff 195.5px,#00c2ff 196.5px,#00b8ff 197.5px,#00a7ff 198.5px,#00a2ff 199.5px,#00b0ff 201.5px,#00afff 202.5px,#00c8ff 205.5px,#00c7ff 206.5px,#00b6ff 207.5px,#00bfff 208.5px,#00b5ff 209.5px,#00b5ff 210.5px,#00deff 211.5px,#00bfff 212.5px,#00e7ff 213.5px,#00c8ff 214.5px,#00e6ff 216.5px,#00d9ff 217.5px,#00e2ff 218.5px,#00daff 220.5px,#00e2ff 221.5px,#00ddff 222.5px,#03fffc 223.5px,#00eaff 224.5px,#0afff5 225.5px,#00caff 226.5px,#00fcff 227.5px,#15ffea 228.5px,#19ffe6 229.5px,#3dffc2 231px)"></div>
<div style="top:120px;height:2px;background:linear-gradient(90deg,#00b2ff 0px,#00b2ff 7.5px,#00bcff 8.5px,#00f2ff 11.5px,#03fffc 12.5px,#32ffcd 15.5px,#55ffaa 18.5px,#65ff9a 22.5px,#6cff93 25.5px,#65ff9a 28.5px,#51ffae 30.5px,#35ffca 32.5px,#10ffef 34.5px,#00faff 35.5px,#00c8ff 37.5px,#00b7ff 38.5px,#00a0ff 41.5px,#00a0ff 49.5px,#00aeff 50.5px,#0bfff4 51.5px,#9dff62 52.5px,#c1ff3e 53.5px,#2effd1 54.5px,#00d8ff 55.5px,#00bcff 56.5px,#00b8ff 74.5px,#00b4ff 80.5px,#00dbff 90.5px,#02fffd 95.5px,#31ffce 100.5px,#3effc1 105.5px,#48ffb7 106.5px,#d8ff27 114.5px,#faff05 116.5px,#ffdf00 118.5px,#ffd900 120.5px,#ffe500 122.5px,#feff01 128.5px,#f2ff0d 130.5px,#daff25 131.5px,#8aff75 133.5px,#46ffb9 135.5px,#2effd1 136.5px,#05fffa 139.5px,#00f3ff 141.5px,#00a8ff 153.5px,#008bff 162.5px,#0084ff 163.5px,#0092ff 164.5px,#0074ff 166.5px,#0083ff 167.5px,#006bff 168.5px,#0073ff 169.5px,#0074ff 170.5px,#0060ff 171.5px,#005dff 173.5px,#0061ff 174.5px,#0049ff 175.5px,#004dff 176.5px,#0079ff 178.5px,#007aff 179.5px,#0091ff 180.5px,#0078ff 182.5px,#0081ff 183.5px,#0068ff 184.5px,#007bff 185.5px,#007dff 186.5px,#0093ff 187.5px,#009cff 188.5px,#008dff 189.5px,#008fff 190.5px,#0083ff 191.5px,#009aff 192.5px,#00a7ff 194.5px,#0096ff 195.5px,#00c2ff 196.5px,#00b8ff 197.5px,#00a7ff 198.5px,#00a2ff 199.5px,#00b0ff 201.5px,#00afff 202.5px,#00c8ff 205.5px,#00c7ff 206.5px,#00b6ff 207.5px,#00bfff 208.5px,#00b5ff 209.5px,#00b5ff 210.5px,#00deff 211.5px,#00bfff 212.5px,#00e7ff 213.5px,#00c8ff 214.5px,#00e6ff 216.5px,#00d9ff 217.5px,#00e2ff 218.5px,#00daff 220.5px,#00e2ff 221.5px,#00ddff 222.5px,#03fffc 223.5px,#00eaff 224.5px,#0afff5 225.5px,#00caff 226.5px,#00fcff 227.5px,#15ffea 228.5px,#19ffe6 229.5px,#3dffc2 231px)"></div>
<div style="top:122px;height:1px;background:linear-gradient(90deg,#00b2ff 0px,#00b2ff 7.5px,#00bcff 8.5px,#00f2ff 11.5px,#03fffc 12.5px,#32ffcd 15.5px,#55ffaa 18.5px,#65ff9a 22.5px,#6cff93 25.5px,#65ff9a 28.5px,#51ffae 30.5px,#35ffca 32.5px,#10ffef 34.5px,#00faff 35.5px,#00c8ff 37.5px,#00b7ff 38.5px,#00a0ff 41.5px,#00a0ff 49.5px,#00aeff 50.5px,#0bfff4 51.5px,#9dff62 52.5px,#c1ff3e 53.5px,#2effd1 54.5px,#00d8ff 55.5px,#00bcff 56.5px,#00b8ff 74.5px,#00b4ff 80.5px,#00dbff 90.5px,#02fffd 95.5px,#31ffce 100.5px,#3effc1 105.5px,#48ffb7 106.5px,#d8ff27 114.5px,#faff05 116.5px,#ffdf00 118.5px,#ffd900 120.5px,#ffe500 122.5px,#feff01 128.5px,#f2ff0d 130.5px,#daff25 131.5px,#8aff75 133.5px,#46ffb9 135.5px,#2effd1 136.5px,#05fffa 139.5px,#00f3ff 141.5px,#00a8ff 153.5px,#008bff 162.5px,#0084ff 163.5px,#0092ff 164.5px,#0074ff 166.5px,#0083ff 167.5px,#006bff 168.5px,#0073ff 169.5px,#0074ff 170.5px,#0060ff 171.5px,#005dff 173.5px,#0061ff 174.5px,#0049ff 175.5px,#004dff 176.5px,#0079ff 178.5px,#007aff 179.5px,#0091ff 180.5px,#0078ff 182.5px,#0081ff 183.5px,#0068ff 184.5px,#007bff 185.5px,#007dff 186.5px,#0093ff 187.5px,#009cff 188.5px,#008dff 189.5px,#008fff 190.5px,#0083ff 191.5px,#009aff 192.5px,#00a7ff 194.5px,#0096ff 195.5px,#00c2ff 196.5px,#00b8ff 197.5px,#00a7ff 198.5px,#00a2ff 199.5px,#00b0ff 201.5px,#00afff 202.5px,#00c8ff 205.5px,#00c7ff 206.5px,#00b6ff 207.5px,#00bfff 208.5px,#00b5ff 209.5px,#00b5ff 210.5px,#00deff 211.5px,#00bfff 212.5px,#00e7ff 213.5px,#00c8ff 214.5px,#00e6ff 216.5px,#00d9ff 217.5px,#00e2ff 218.5px,#00daff 220.5px,#00e2ff 221.5px,#00ddff 222.5px,#03fffc 223.5px,#00eaff 224.5px,#0afff5 225.5px,#00caff 226.5px,#00fcff 227.5px,#15ffea 228.5px,#19ffe6 229.5px,#3dffc2 231px)"></div>
<div style="top:123px;height:3px;background:linear-gradient(90deg,#00b2ff 0px,#00b2ff 7.5px,#00bcff 8.5px,#00f2ff 11.5px,#03fffc 12.5px,#32ffcd 15.5px,#55ffaa 18.5px,#65ff9a 22.5px,#6cff93 25.5px,#65ff9a 28.5px,#51ffae 30.5px,#35ffca 32.5px,#10ffef 34.5px,#00faff 35.5px,#00c8ff 37.5px,#00b7ff 38.5px,#00a0ff 41.5px,#00a0ff 49.5px,#00aeff 50.5px,#0bfff4 51.5px,#9dff62 52.5px,#c1ff3e 53.5px,#2effd1 54.5px,#00d8ff 55.5px,#00bcff 56.5px,#00b8ff 74.5px,#00b4ff 80.5px,#00dbff 90.5px,#02fffd 95.5px,#31ffce 100.5px,#3effc1 105.5px,#48ffb7 106.5px,#d8ff27 114.5px,#faff05 116.5px,#ffdf00 118.5px,#ffd900 120.5px,#ffe500 122.5px,#feff01 128.5px,#f2ff0d 130.5px,#daff25 131.5px,#8aff75 133.5px,#46ffb9 135.5px,#2effd1 136.5px,#05fffa 139.5px,#00f3ff 141.5px,#00a8ff 153.5px,#008bff 162.5px,#0084ff 163.5px,#0092ff 164.5px,#0074ff 166.5px,#0083ff 167.5px,#006bff 168.5px,#0073ff 169.5px,#0074ff 170.5px,#0060ff 171.5px,#005dff 173.5px,#0061ff 174.5px,#0049ff 175.5px,#004dff 176.5px,#0079ff 178.5px,#007aff 179.5px,#0091ff 180.5px,#0078ff 182.5px,#0081ff 183.5px,#0068ff 184.5px,#007bff 185.5px,#007dff 186.5px,#0093ff 187.5px,#009cff 188.5px,#008dff 189.5px,#008fff 190.5px,#0083ff 191.5px,#009aff 192.5px,#00a7ff 194.5px,#0096ff 195.5px,#00c2ff 196.5px,#00b8ff 197.5px,#00a7ff 198.5px,#00a2ff 199.5px,#00b0ff 201.5px,#00afff 202.5px,#00c8ff 205.5px,#00c7ff 206.5px,#00b6ff 207.5px,#00bfff 208.5px,#00b5ff 209.5px,#00b5ff 210.5px,#00deff 211.5px,#00bfff 212.5px,#00e7ff 213.5px,#00c8ff 214.5px,#00e6ff 216.5px,#00d9ff 217.5px,#00e2ff 218.5px,#00daff 220.5px,#00e2ff 221.5px,#00ddff 222.5px,#03fffc 223.5px,#00eaff 224.5px,#0afff5 225.5px,#00caff 226.5px,#00fcff 227.5px,#15ffea 228.5px,#19ffe6 229.5px,#3dffc2 231px)"></div>
<div style="top:126px;height:1px;background:linear-gradient(90deg,#00b2ff 0px,#00b2ff 7.5px,#00bcff 8.5px,#00f2ff 11.5px,#03fffc 12.5px,#32ffcd 15.5px,#55ffaa 18.5px,#65ff9a 22.5px,#6cff93 25.5px,#65ff9a 28.5px,#51ffae 30.5px,#35ffca 32.5px,#10ffef 34.5px,#00faff 35.5px,#00c8ff 37.5px,#00b7ff 38.5px,#00a0ff 41.5px,#00a0ff 49.5px,#00aeff 50.5px,#0bfff4 51.5px,#9dff62 52.5px,#c1ff3e 53.5px,#2effd1 54.5px,#00d8ff 55.5px,#00bcff 56.5px,#00b8ff 74.5px,#00b4ff 80.5px,#00dbff 90.5px,#02fffd 95.5px,#31ffce 100.5px,#3effc1 105.5px,#48ffb7 106.5px,#d8ff27 114.5px,#faff05 116.5px,#ffdf00 118.5px,#ffd900 120.5px,#ffe500 122.5px,#feff01 128.5px,#f2ff0d 130.5px,#daff25 131.5px,#8aff75 133.5px,#46ffb9 135.5px,#2effd1 136.5px,#05fffa 139.5px,#00f3ff 141.5px,#00a8ff 153.5px,#008bff 162.5px,#0084ff 163.5px,#0092ff 164.5px,#0074ff 166.5px,#0083ff 167.5px,#006bff 168.5px,#0073ff 169.5px,#0074ff 170.5px,#0060ff 171.5px,#005dff 173.5px,#0061ff 174.5px,#0049ff 175.5px,#004dff 176.5px,#0079ff 178.5px,#007aff 179.5px,#0091ff 180.5px,#0078ff 182.5px,#0081ff 183.5px,#0068ff 184.5px,#007bff 185.5px,#007dff 186.5px,#0093ff 187.5px,#009cff 188.5px,#008dff 189.5px,#008fff 190.5px,#0083ff 191.5px,#009aff 192.5px,#00a7ff 194.5px,#0096ff 195.5px,#00c2ff 196.5px,#00b8ff 197.5px,#00a7ff 198.5px,#00a2ff 199.5px,#00b0ff 201.5px,#00afff 202.5px,#00c8ff 205.5px,#00c7ff 206.5px,#00b6ff 207.5px,#00bfff 208.5px,#00b5ff 209.5px,#00b5ff 210.5px,#00deff 211.5px,#00bfff 212.5px,#00e7ff 213.5px,#00c8ff 214.5px,#00e6ff 216.5px,#00d9ff 217.5px,#00e2ff 218.5px,#00daff 220.5px,#00e2ff 221.5px,#00ddff 222.5px,#03fffc 223.5px,#00eaff 224.5px,#0afff5 225.5px,#00caff 226.5px,#00fcff 227.5px,#15ffea 228.5px,#19ffe6 229.5px,#3dffc2 231px)"></div>
<div style="top:127px;height:2px;background:linear-gradient(90deg,#00b2ff 0px,#00b2ff 7.5px,#00bcff 8.5px,#00f2ff 11.5px,#03fffc 12.5px,#32ffcd 15.5px,#55ffaa 18.5px,#65ff9a 22.5px,#6cff93 25.5px,#65ff9a 28.5px,#51ffae 30.5px,#35ffca 32.5px,#10ffef 34.5px,#00faff 35.5px,#00c8ff 37.5px,#00b7ff 38.5px,#00a0ff 41.5px,#00a0ff 49.5px,#00aeff 50.5px,#0bfff4 51.5px,#9dff62 52.5px,#c1ff3e 53.5px,#2effd1 54.5px,#00d8ff 55.5px,#00bcff 56.5px,#00b8ff 74.5px,#00b4ff 80.5px,#00dbff 90.5px,#02fffd 95.5px,#31ffce 100.5px,#3effc1 105.5px,#48ffb7 106.5px,#d8ff27 114.5px,#faff05 116.5px,#ffdf00 118.5px,#ffd900 120.5px,#ffe500 122.5px,#feff01 128.5px,#f2ff0d 130.5px,#daff25 131.5px,#8aff75 133.5px,#46ffb9 135.5px,#2effd1 136.5px,#05fffa 139.5px,#00f3ff 141.5px,#00a8ff 153.5px,#008bff 162.5px,#0084ff 163.5px,#0092ff 164.5px,#0074ff 166.5px,#0083ff 167.5px,#006bff 168.5px,#0073ff 169.5px,#0074ff 170.5px,#0060ff 171.5px,#005dff 173.5px,#0061ff 174.5px,#0049ff 175.5px,#004dff 176.5px,#0079ff 178.5px,#007aff 179.5px,#0091ff 180.5px,#0078ff 182.5px,#0081ff 183.5px,#0068ff 184.5px,#007bff 185.5px,#007dff 186.5px,#0093ff 187.5px,#009cff 188.5px,#008dff 189.5px,#008fff 190.5px,#0083ff 191.5px,#009aff 192.5px,#00a7ff 194.5px,#0096ff 195.5px,#00c2ff 196.5px,#00b8ff 197.5px,#00a7ff 198.5px,#00a2ff 199.5px,#00b0ff 201.5px,#00afff 202.5px,#00c8ff 205.5px,#00c7ff 206.5px,#00b6ff 207.5px,#00bfff 208.5px,#00b5ff 209.5px,#00b5ff 210.5px,#00deff 211.5px,#00bfff 212.5px,#00e7ff 213.5px,#00c8ff 214.5px,#00e6ff 216.5px,#00d9ff 217.5px,#00e2ff 218.5px,#00daff 220.5px,#00e2ff 221.5px,#00ddff 222.5px,#03fffc 223.5px,#00eaff 224.5px,#0afff5 225.5px,#00caff 226.5px,#00fcff 227.5px,#15ffea 228.5px,#19ffe6 229.5px,#3dffc2 231px)"></div>
<div style="top:129px;height:1px;background:linear-gradient(90deg,#00b2ff 0px,#00b2ff 7.5px,#00bcff 8.5px,#00f2ff 11.5px,#03fffc 12.5px,#32ffcd 15.5px,#55ffaa 18.5px,#65ff9a 22.5px,#6cff93 25.5px,#65ff9a 28.5px,#51ffae 30.5px,#35ffca 32.5px,#10ffef 34.5px,#00faff 35.5px,#00c8ff 37.5px,#00b7ff 38.5px,#00a0ff 41.5px,#00a0ff 49.5px,#00aeff 50.5px,#0bfff4 51.5px,#9dff62 52.5px,#c1ff3e 53.5px,#2effd1 54.5px,#00d8ff 55.5px,#00bcff 56.5px,#00b8ff 74.5px,#00b4ff 80.5px,#00dbff 90.5px,#02fffd 95.5px,#31ffce 100.5px,#3effc1 105.5px,#48ffb7 106.5px,#d8ff27 114.5px,#faff05 116.5px,#ffdf00 118.5px,#ffd900 120.5px,#ffe500 122.5px,#feff01 128.5px,#f2ff0d 130.5px,#daff25 131.5px,#8aff75 133.5px,#46ffb9 135.5px,#2effd1 136.5px,#05fffa 139.5px,#00f3ff 141.5px,#00a8ff 153.5px,#008bff 162.5px,#0084ff 163.5px,#0092ff 164.5px,#0074ff 166.5px,#0083ff 167.5px,#006bff 168.5px,#0073ff 169.5px,#0074ff 170.5px,#0060ff 171.5px,#005dff 173.5px,#0061ff 174.5px,#0049ff 175.5px,#004dff 176.5px,#0079ff 178.5px,#007aff 179.5px,#0091ff 180.5px,#0078ff 182.5px,#0081ff 183.5px,#0068ff 184.5px,#007bff 185.5px,#007dff 186.5px,#0093ff 187.5px,#009cff 188.5px,#008dff 189.5px,#008fff 190.5px,#0083ff 191.5px,#009aff 192.5px,#00a7ff 194.5px,#0096ff 195.5px,#00c2ff 196.5px,#00b8ff 197.5px,#00a7ff 198.5px,#00a2ff 199.5px,#00b0ff 201.5px,#00afff 202.5px,#00c8ff 205.5px,#00c7ff 206.5px,#00b6ff 207.5px,#00bfff 208.5px,#00b5ff 209.5px,#00b5ff 210.5px,#00deff 211.5px,#00bfff 212.5px,#00e7ff 213.5px,#00c8ff 214.5px,#00e6ff 216.5px,#00d9ff 217.5px,#00e2ff 218.5px,#00daff 220.5px,#00e2ff 221.5px,#00ddff 222.5px,#03fffc 223.5px,#00eaff 224.5px,#0afff5 225.5px,#00caff 226.5px,#00fcff 227.5px,#15ffea 228.5px,#19ffe6 229.5px,#3dffc2 231px)"></div>
<div style="top:130px;height:3px;background:linear-gradient(90deg,#00b2ff 0px,#00b2ff 7.5px,#00bcff 8.5px,#00f2ff 11.5px,#03fffc 12.5px,#32ffcd 15.5px,#55ffaa 18.5px,#65ff9a 22.5px,#6cff93 25.5px,#65ff9a 28.5px,#51ffae 30.5px,#35ffca 32.5px,#10ffef 34.5px,#00faff 35.5px,#00c8ff 37.5px,#00b7ff 38.5px,#00a0ff 41.5px,#00a0ff 49.5px,#00aeff 50.5px,#0bfff4 51.5px,#9dff62 52.5px,#c1ff3e 53.5px,#2effd1 54.5px,#00d8ff 55.5px,#00bcff 56.5px,#00b8ff 74.5px,#00b4ff 80.5px,#00dbff 90.5px,#02fffd 95.5px,#31ffce 100.5px,#3effc1 105.5px,#48ffb7 106.5px,#d8ff27 114.5px,#faff05 116.5px,#ffdf00 118.5px,#ffd900 120.5px,#ffe500 122.5px,#feff01 128.5px,#f2ff0d 130.5px,#daff25 131.5px,#8aff75 133.5px,#46ffb9 135.5px,#2effd1 136.5px,#05fffa 139.5px,#00f3ff 141.5px,#00a8ff 153.5px,#008bff 162.5px,#0084ff 163.5px,#0092ff 164.5px,#0074ff 166.5px,#0083ff 167.5px,#006bff 168.5px,#0073ff 169.5px,#0074ff 170.5px,#0060ff 171.5px,#005dff 173.5px,#0061ff 174.5px,#0049ff 175.5px,#004dff 176.5px,#0079ff 178.5px,#007aff 179.5px,#0091ff 180.5px,#0078ff 182.5px,#0081ff 183.5px,#0068ff 184.5px,#007bff 185.5px,#007dff 186.5px,#0093ff 187.5px,#009cff 188.5px,#008dff 189.5px,#008fff 190.5px,#0083ff 191.5px,#009aff 192.5px,#00a7ff 194.5px,#0096ff 195.5px,#00c2ff 196.5px,#00b8ff 197.5px,#00a7ff 198.5px,#00a2ff 199.5px,#00b0ff 201.5px,#00afff 202.5px,#00c8ff 205.5px,#00c7ff 206.5px,#00b6ff 207.5px,#00bfff 208.5px,#00b5ff 209.5px,#00b5ff 210.5px,#00deff 211.5px,#00bfff 212.5px,#00e7ff 213.5px,#00c8ff 214.5px,#00e6ff 216.5px,#00d9ff 217.5px,#00e2ff 218.5px,#00daff 220.5px,#00e2ff 221.5px,#00ddff 222.5px,#03fffc 223.5px,#00eaff 224.5px,#0afff5 225.5px,#00caff 226.5px,#00fcff 227.5px,#15ffea 228.5px,#19ffe6 229.5px,#3dffc2 231px)"></div>
<div style="top:133px;height:1px;background:linear-gradient(90deg,#00b2ff 0px,#00b2ff 7.5px,#00bcff 8.5px,#00f2ff 11.5px,#03fffc 12.5px,#32ffcd 15.5px,#55ffaa 18.5px,#65ff9a 22.5px,#6cff93 25.5px,#65ff9a 28.5px,#45ffba 31.5px,#10ffef 34.5px,#00faff 35.5px,#00c8ff 37.5px,#00b7ff 38.5px,#00a0ff 41.5px,#00a0ff 49.5px,#00aeff 50.5px,#0bfff4 51.5px,#9dff62 52.5px,#c1ff3e 53.5px,#2effd1 54.5px,#00d8ff 55.5px,#00bcff 56.5px,#00b8ff 74.5px,#00b4ff 80.5px,#00dbff 90.5px,#02fffd 95.5px,#31ffce 100.5px,#3effc1 105.5px,#48ffb7 106.5px,#d8ff27 114.5px,#faff05 116.5px,#ffdf00 118.5px,#ffd900 120.5px,#ffe500 122.5px,#feff01 128.5px,#f2ff0d 130.5px,#daff25 131.5px,#8aff75 133.5px,#46ffb9 135.5px,#2effd1 136.5px,#05fffa 139.5px,#00f3ff 141.5px,#00a8ff 153.5px,#008bff 162.5px,#0084ff 163.5px,#0092ff 164.5px,#0074ff 166.5px,#0083ff 167.5px,#006bff 168.5px,#0073ff 169.5px,#0074ff 170.5px,#0060ff 171.5px,#005dff 173.5px,#0061ff 174.5px,#0049ff 175.5px,#004dff 176.5px,#0079ff 178.5px,#007aff 179.5px,#0091ff 180.5px,#0078ff 182.5px,#0081ff 183.5px,#0068ff 184.5px,#007bff 185.5px,#007dff 186.5px,#0093ff 187.5px,#009cff 188.5px,#008dff 189.5px,#008fff 190.5px,#0083ff 191.5px,#009aff 192.5px,#00a7ff 194.5px,#0096ff 195.5px,#00c2ff 196.5px,#00b8ff 197.5px,#00a7ff 198.5px,#00a2ff 199.5px,#00b0ff 201.5px,#00afff 202.5px,#00c8ff 205.5px,#00c7ff 206.5px,#00b6ff 207.5px,#00bfff 208.5px,#00b5ff 209.5px,#00b5ff 210.5px,#00deff 211.5px,#00bfff 212.5px,#00e7ff 213.5px,#00c8ff 214.5px,#00e6ff 216.5px,#00d9ff 217.5px,#00e2ff 218.5px,#00daff 220.5px,#00e2ff 221.5px,#00ddff 222.5px,#03fffc 223.5px,#00eaff 224.5px,#0afff5 225.5px,#00caff 226.5px,#00fcff 227.5px,#15ffea 228.5px,#19ffe6 229.5px,#3dffc2 231px)"></div>
<div style="top:134px;height:1px;background:linear-gradient(90deg,#00b2ff 0px,#00b2ff 7.5px,#00bcff 8.5px,#00f2ff 11.5px,#03fffc 12.5px,#32ffcd 15.5px,#55ffaa 18.5px,#65ff9a 22.5px,#6cff93 25.5px,#65ff9a 28.5px,#51ffae 30.5px,#35ffca 32.5px,#10ffef 34.5px,#00faff 35.5px,#00c8ff 37.5px,#00b7ff 38.5px,#00a0ff 41.5px,#00a0ff 49.5px,#00aeff 50.5px,#0bfff4 51.5px,#9dff62 52.5px,#c1ff3e 53.5px,#2effd1 54.5px,#00d8ff 55.5px,#00bcff 56.5px,#00b8ff 74.5px,#00b4ff 80.5px,#00dbff 90.5px,#02fffd 95.5px,#31ffce 100.5px,#3effc1 105.5px,#48ffb7 106.5px,#d8ff27 114.5px,#faff05 116.5px,#ffdf00 118.5px,#ffd900 120.5px,#ffe500 122.5px,#feff01 128.5px,#f2ff0d 130.5px,#daff25 131.5px,#8aff75 133.5px,#46ffb9 135.5px,#2effd1 136.5px,#05fffa 139.5px,#00f3ff 141.5px,#00a8ff 153.5px,#008bff 162.5px,#0084ff 163.5px,#0092ff 164.5px,#0074ff 166.5px,#0083ff 167.5px,#006bff 168.5px,#0073ff 169.5px,#0074ff 170.5px,#0060ff 171.5px,#005dff 173.5px,#0061ff 174.5px,#0049ff 175.5px,#004dff 176.5px,#0079ff 178.5px,#007aff 179.5px,#0091ff 180.5px,#0078ff 182.5px,#0081ff 183.5px,#0068ff 184.5px,#007bff 185.5px,#007dff 186.5px,#0093ff 187.5px,#009cff 188.5px,#008dff 189.5px,#008fff 190.5px,#0083ff 191.5px,#009aff 192.5px,#00a7ff 194.5px,#0096ff 195.5px,#00c2ff 196.5px,#00b8ff 197.5px,#00a7ff 198.5px,#00a2ff 199.5px,#00b0ff 201.5px,#00afff 202.5px,#00c8ff 205.5px,#00c7ff 206.5px,#00b6ff 207.5px,#00bfff 208.5px,#00b5ff 209.5px,#00b5ff 210.5px,#00deff 211.5px,#00bfff 212.5px,#00e7ff 213.5px,#00c8ff 214.5px,#00e6ff 216.5px,#00d9ff 217.5px,#00e2ff 218.5px,#00daff 220.5px,#00e2ff 221.5px,#00ddff 222.5px,#03fffc 223.5px,#00eaff 224.5px,#0afff5 225.5px,#00caff 226.5px,#00fcff 227.5px,#15ffea 228.5px,#19ffe6 229.5px,#3dffc2 231px)"></div>
<div style="top:135px;height:2px;background:linear-gradient(90deg,#00b2ff 0px,#00b2ff 7.5px,#00bcff 8.5px,#00f2ff 11.5px,#03fffc 12.5px,#32ffcd 15.5px,#55ffaa 18.5px,#65ff9a 22.5px,#6cff93 25.5px,#65ff9a 28.5px,#51ffae 30.5px,#35ffca 32.5px,#10ffef 34.5px,#00faff 35.5px,#00c8ff 37.5px,#00b7ff 38.5px,#00a0ff 41.5px,#00a0ff 49.5px,#00aeff 50.5px,#0bfff4 51.5px,#9dff62 52.5px,#c1ff3e 53.5px,#2effd1 54.5px,#00d8ff 55.5px,#00bcff 56.5px,#00b8ff 74.5px,#00b4ff 80.5px,#00dbff 90.5px,#02fffd 95.5px,#31ffce 100.5px,#3effc1 105.5px,#48ffb7 106.5px,#d8ff27 114.5px,#faff05 116.5px,#ffdf00 118.5px,#ffd900 120.5px,#ffe500 122.5px,#feff01 128.5px,#f2ff0d 130.5px,#daff25 131.5px,#8aff75 133.5px,#46ffb9 135.5px,#2effd1 136.5px,#05fffa 139.5px,#00f3ff 141.5px,#00a8ff 153.5px,#008bff 162.5px,#0084ff 163.5px,#0092ff 164.5px,#0074ff 166.5px,#0083ff 167.5px,#006bff 168.5px,#0073ff 169.5px,#0074ff 170.5px,#0060ff 171.5px,#005dff 173.5px,#0061ff 174.5px,#0049ff 175.5px,#004dff 176.5px,#0079ff 178.5px,#007aff 179.5px,#0091ff 180.5px,#0078ff 182.5px,#0081ff 183.5px,#0068ff 184.5px,#007bff 185.5px,#007dff 186.5px,#0093ff 187.5px,#009cff 188.5px,#008dff 189.5px,#008fff 190.5px,#0083ff 191.5px,#009aff 192.5px,#00a7ff 194.5px,#0096ff 195.5px,#00c2ff 196.5px,#00b8ff 197.5px,#00a7ff 198.5px,#00a2ff 199.5px,#00b0ff 201.5px,#00afff 202.5px,#00c8ff 205.5px,#00c7ff 206.5px,#00b6ff 207.5px,#00bfff 208.5px,#00b5ff 209.5px,#00b5ff 210.5px,#00deff 211.5px,#00bfff 212.5px,#00e7ff 213.5px,#00c8ff 214.5px,#00e6ff 216.5px,#00d9ff 217.5px,#00e2ff 218.5px,#00daff 220.5px,#00e2ff 221.5px,#00ddff 222.5px,#03fffc 223.5px,#00eaff 224.5px,#0afff5 225.5px,#00caff 226.5px,#00fcff 227.5px,#15ffea 228.5px,#19ffe6 229.5px,#3dffc2 231px)"></div>
<div style="top:137px;height:2px;background:linear-gradient(90deg,#00b2ff 0px,#00b2ff 7.5px,#00bcff 8.5px,#00f2ff 11.5px,#03fffc 12.5px,#32ffcd 15.5px,#55ffaa 18.5px,#65ff9a 22.5px,#6cff93 25.5px,#65ff9a 28.5px,#51ffae 30.5px,#35ffca 32.5px,#10ffef 34.5px,#00faff 35.5px,#00c8ff 37.5px,#00b7ff 38.5px,#00a0ff 41.5px,#00a0ff 49.5px,#00aeff 50.5px,#0bfff4 51.5px,#9dff62 52.5px,#c1ff3e 53.5px,#2effd1 54.5px,#00d8ff 55.5px,#00bcff 56.5px,#00b8ff 74.5px,#00b4ff 80.5px,#00dbff 90.5px,#02fffd 95.5px,#31ffce 100.5px,#3effc1 105.5px,#48ffb7 106.5px,#d8ff27 114.5px,#faff05 116.5px,#ffdf00 118.5px,#ffd900 120.5px,#ffe500 122.5px,#feff01 128.5px,#f2ff0d 130.5px,#daff25 131.5px,#8aff75 133.5px,#46ffb9 135.5px,#2effd1 136.5px,#05fffa 139.5px,#00f3ff 141.5px,#00a8ff 153.5px,#008bff 162.5px,#0084ff 163.5px,#0092ff 164.5px,#0074ff 166.5px,#0083ff 167.5px,#006bff 168.5px,#0073ff 169.5px,#0074ff 170.5px,#0060ff 171.5px,#005dff 173.5px,#0061ff 174.5px,#0049ff 175.5px,#004dff 176.5px,#0079ff 178.5px,#007aff 179.5px,#0091ff 180.5px,#0078ff 182.5px,#0081ff 183.5px,#0068ff 184.5px,#007bff 185.5px,#007dff 186.5px,#0093ff 187.5px,#009cff 188.5px,#008dff 189.5px,#008fff 190.5px,#0083ff 191.5px,#009aff 192.5px,#00a7ff 194.5px,#0096ff 195.5px,#00c2ff 196.5px,#00b8ff 197.5px,#00a7ff 198.5px,#00a2ff 199.5px,#00b0ff 201.5px,#00afff 202.5px,#00c8ff 205.5px,#00c7ff 206.5px,#00b6ff 207.5px,#00bfff 208.5px,#00b5ff 209.5px,#00b5ff 210.5px,#00deff 211.5px,#00bfff 212.5px,#00e7ff 213.5px,#00c8ff 214.5px,#00e6ff 216.5px,#00d9ff 217.5px,#00e2ff 218.5px,#00daff 220.5px,#00e2ff 221.5px,#00ddff 222.5px,#03fffc 223.5px,#00eaff 224.5px,#0afff5 225.5px,#00caff 226.5px,#00fcff 227.5px,#15ffea 228.5px,#19ffe6 229.5px,#3dffc2 231px)"></div>
<div style="top:139px;height:1px;background:linear-gradient(90deg,#00b2ff 0px,#00b2ff 7.5px,#00bcff 8.5px,#00f2ff 11.5px,#03fffc 12.5px,#32ffcd 15.5px,#55ffaa 18.5px,#65ff9a 22.5px,#6cff93 25.5px,#65ff9a 28.5px,#51ffae 30.5px,#35ffca 32.5px,#10ffef 34.5px,#00faff 35.5px,#00c8ff 37.5px,#00b7ff 38.5px,#00a0ff 41.5px,#00a0ff 49.5px,#00aeff 50.5px,#0bfff4 51.5px,#9dff62 52.5px,#c1ff3e 53.5px,#2effd1 54.5px,#00d8ff 55.5px,#00bcff 56.5px,#00b8ff 74.5px,#00b4ff 80.5px,#00dbff 90.5px,#02fffd 95.5px,#31ffce 100.5px,#3effc1 105.5px,#48ffb7 106.5px,#d8ff27 114.5px,#faff05 116.5px,#ffdf00 118.5px,#ffd900 120.5px,#ffe500 122.5px,#feff01 128.5px,#f2ff0d 130.5px,#daff25 131.5px,#8aff75 133.5px,#46ffb9 135.5px,#2effd1 136.5px,#05fffa 139.5px,#00f3ff 141.5px,#00a8ff 153.5px,#008bff 162.5px,#0084ff 163.5px,#0092ff 164.5px,#0074ff 166.5px,#0083ff 167.5px,#006bff 168.5px,#0073ff 169.5px,#0074ff 170.5px,#0060ff 171.5px,#005dff 173.5px,#0061ff 174.5px,#0049ff 175.5px,#004dff 176.5px,#0079ff 178.5px,#007aff 179.5px,#0091ff 180.5px,#0078ff 182.5px,#0081ff 183.5px,#0068ff 184.5px,#007bff 185.5px,#007dff 186.5px,#0093ff 187.5px,#009cff 188.5px,#008dff 189.5px,#008fff 190.5px,#0083ff 191.5px,#009aff 192.5px,#00a7ff 194.5px,#0096ff 195.5px,#00c2ff 196.5px,#00b8ff 197.5px,#00a7ff 198.5px,#00a2ff 199.5px,#00b0ff 201.5px,#00afff 202.5px,#00c8ff 205.5px,#00c7ff 206.5px,#00b6ff 207.5px,#00bfff 208.5px,#00b5ff 209.5px,#00b5ff 210.5px,#00deff 211.5px,#00bfff 212.5px,#00e7ff 213.5px,#00c8ff 214.5px,#00e6ff 216.5px,#00d9ff 217.5px,#00e2ff 218.5px,#00daff 220.5px,#00e2ff 221.5px,#00ddff 222.5px,#03fffc 223.5px,#00eaff 224.5px,#0afff5 225.5px,#00caff 226.5px,#00fcff 227.5px,#15ffea 228.5px,#19ffe6 229.5px,#3dffc2 231px)"></div>
<div style="top:140px;height:6px;background:linear-gradient(90deg,#00b2ff 0px,#00b2ff 7.5px,#00bcff 8.5px,#00f2ff 11.5px,#03fffc 12.5px,#32ffcd 15.5px,#55ffaa 18.5px,#65ff9a 22.5px,#6cff93 25.5px,#65ff9a 28.5px,#51ffae 30.5px,#35ffca 32.5px,#10ffef 34.5px,#00faff 35.5px,#00c8ff 37.5px,#00b7ff 38.5px,#00a0ff 41.5px,#00a0ff 49.5px,#00aeff 50.5px,#0bfff4 51.5px,#9dff62 52.5px,#c1ff3e 53.5px,#2effd1 54.5px,#00d8ff 55.5px,#00bcff 56.5px,#00b8ff 74.5px,#00b4ff 80.5px,#00dbff 90.5px,#02fffd 95.5px,#31ffce 100.5px,#3effc1 105.5px,#48ffb7 106.5px,#d8ff27 114.5px,#faff05 116.5px,#ffdf00 118.5px,#ffd900 120.5px,#ffe500 122.5px,#feff01 128.5px,#f2ff0d 130.5px,#daff25 131.5px,#8aff75 133.5px,#46ffb9 135.5px,#2effd1 136.5px,#05fffa 139.5px,#00f3ff 141.5px,#00a8ff 153.5px,#008bff 162.5px,#0084ff 163.5px,#0092ff 164.5px,#0074ff 166.5px,#0083ff 167.5px,#006bff 168.5px,#0073ff 169.5px,#0074ff 170.5px,#0060ff 171.5px,#005dff 173.5px,#0061ff 174.5px,#0049ff 175.5px,#004dff 176.5px,#0079ff 178.5px,#007aff 179.5px,#0091ff 180.5px,#0078ff 182.5px,#0081ff 183.5px,#0068ff 184.5px,#007bff 185.5px,#007dff 186.5px,#0093ff 187.5px,#009cff 188.5px,#008dff 189.5px,#008fff 190.5px,#0083ff 191.5px,#009aff 192.5px,#00a7ff 194.5px,#0096ff 195.5px,#00c2ff 196.5px,#00b8ff 197.5px,#00a7ff 198.5px,#00a2ff 199.5px,#00b0ff 201.5px,#00afff 202.5px,#00c8ff 205.5px,#00c7ff 206.5px,#00b6ff 207.5px,#00bfff 208.5px,#00b5ff 209.5px,#00b5ff 210.5px,#00deff 211.5px,#00bfff 212.5px,#00e7ff 213.5px,#00c8ff 214.5px,#00e6ff 216.5px,#00d9ff 217.5px,#00e2ff 218.5px,#00daff 220.5px,#00e2ff 221.5px,#00ddff 222.5px,#03fffc 223.5px,#00eaff 224.5px,#0afff5 225.5px,#00caff 226.5px,#00fcff 227.5px,#15ffea 228.5px,#19ffe6 229.5px,#3dffc2 231px)"></div>
<div style="top:146px;height:1px;background:linear-gradient(90deg,#00b2ff 0px,#00b2ff 7.5px,#00bcff 8.5px,#00f2ff 11.5px,#03fffc 12.5px,#32ffcd 15.5px,#55ffaa 18.5px,#65ff9a 22.5px,#6cff93 25.5px,#65ff9a 28.5px,#45ffba 31.5px,#10ffef 34.5px,#00faff 35.5px,#00c8ff 37.5px,#00b7ff 38.5px,#00a0ff 41.5px,#00a0ff 49.5px,#00aeff 50.5px,#0bfff4 51.5px,#9dff62 52.5px,#c1ff3e 53.5px,#2effd1 54.5px,#00d8ff 55.5px,#00bcff 56.5px,#00b8ff 74.5px,#00b4ff 80.5px,#00dbff 90.5px,#02fffd 95.5px,#31ffce 100.5px,#3effc1 105.5px,#48ffb7 106.5px,#d8ff27 114.5px,#faff05 116.5px,#ffdf00 118.5px,#ffd900 120.5px,#ffe500 122.5px,#feff01 128.5px,#f2ff0d 130.5px,#daff25 131.5px,#8aff75 133.5px,#46ffb9 135.5px,#2effd1 136.5px,#05fffa 139.5px,#00f3ff 141.5px,#00a8ff 153.5px,#008bff 162.5px,#0084ff 163.5px,#0092ff 164.5px,#0074ff 166.5px,#0083ff 167.5px,#006bff 168.5px,#0073ff 169.5px,#0074ff 170.5px,#0060ff 171.5px,#005dff 173.5px,#0061ff 174.5px,#0049ff 175.5px,#004dff 176.5px,#0079ff 178.5px,#007aff 179.5px,#0091ff 180.5px,#0078ff 182.5px,#0081ff 183.5px,#0068ff 184.5px,#007bff 185.5px,#007dff 186.5px,#0093ff 187.5px,#009cff 188.5px,#008dff 189.5px,#008fff 190.5px,#0083ff 191.5px,#009aff 192.5px,#00a7ff 194.5px,#0096ff 195.5px,#00c2ff 196.5px,#00b8ff 197.5px,#00a7ff 198.5px,#00a2ff 199.5px,#00b0ff 201.5px,#00afff 202.5px,#00c8ff 205.5px,#00c7ff 206.5px,#00b6ff 207.5px,#00bfff 208.5px,#00b5ff 209.5px,#00b5ff 210.5px,#00deff 211.5px,#00bfff 212.5px,#00e7ff 213.5px,#00c8ff 214.5px,#00e6ff 216.5px,#00d9ff 217.5px,#00e2ff 218.5px,#00daff 220.5px,#00e2ff 221.5px,#00ddff 222.5px,#03fffc 223.5px,#00eaff 224.5px,#0afff5 225.5px,#00caff 226.5px,#00fcff 227.5px,#15ffea 228.5px,#19ffe6 229.5px,#3dffc2 231px)"></div>
<div style="top:147px;height:1px;background:linear-gradient(90deg,#00b2ff 0px,#00b2ff 7.5px,#00bcff 8.5px,#00f2ff 11.5px,#03fffc 12.5px,#32ffcd 15.5px,#55ffaa 18.5px,#65ff9a 22.5px,#6cff93 25.5px,#65ff9a 28.5px,#51ffae 30.5px,#35ffca 32.5px,#10ffef 34.5px,#00faff 35.5px,#00c8ff 37.5px,#00b7ff 38.5px,#00a0ff 41.5px,#00a0ff 49.5px,#00aeff 50.5px,#0bfff4 51.5px,#9dff62 52.5px,#c1ff3e 53.5px,#2effd1 54.5px,#00d8ff 55.5px,#00bcff 56.5px,#00b8ff 74.5px,#00b4ff 80.5px,#00dbff 90.5px,#02fffd 95.5px,#31ffce 100.5px,#3effc1 105.5px,#48ffb7 106.5px,#d8ff27 114.5px,#faff05 116.5px,#ffdf00 118.5px,#ffd900 120.5px,#ffe500 122.5px,#feff01 128.5px,#f2ff0d 130.5px,#daff25 131.5px,#8aff75 133.5px,#46ffb9 135.5px,#2effd1 136.5px,#05fffa 139.5px,#00f3ff 141.5px,#00a8ff 153.5px,#008bff 162.5px,#0084ff 163.5px,#0092ff 164.5px,#0074ff 166.5px,#0083ff 167.5px,#006bff 168.5px,#0073ff 169.5px,#0074ff 170.5px,#0060ff 171.5px,#005dff 173.5px,#0061ff 174.5px,#0049ff 175.5px,#004dff 176.5px,#0079ff 178.5px,#007aff 179.5px,#0091ff 180.5px,#0078ff 182.5px,#0081ff 183.5px,#0068ff 184.5px,#007bff 185.5px,#007dff 186.5px,#0093ff 187.5px,#009cff 188.5px,#008dff 189.5px,#008fff 190.5px,#0083ff 191.5px,#009aff 192.5px,#00a7ff 194.5px,#0096ff 195.5px,#00c2ff 196.5px,#00b8ff 197.5px,#00a7ff 198.5px,#00a2ff 199.5px,#00b0ff 201.5px,#00afff 202.5px,#00c8ff 205.5px,#00c7ff 206.5px,#00b6ff 207.5px,#00bfff 208.5px,#00b5ff 209.5px,#00b5ff 210.5px,#00deff 211.5px,#00bfff 212.5px,#00e7ff 213.5px,#00c8ff 214.5px,#00e6ff 216.5px,#00d9ff 217.5px,#00e2ff 218.5px,#00daff 220.5px,#00e2ff 221.5px,#00ddff 222.5px,#03fffc 223.5px,#00eaff 224.5px,#0afff5 225.5px,#00caff 226.5px,#00fcff 227.5px,#15ffea 228.5px,#19ffe6 229.5px,#3dffc2 231px)"></div>
<div style="top:148px;height:1px;background:linear-gradient(90deg,#00b2ff 0px,#00b2ff 7.5px,#00bcff 8.5px,#00f2ff 11.5px,#03fffc 12.5px,#32ffcd 15.5px,#55ffaa 18.5px,#65ff9a 22.5px,#6cff93 25.5px,#65ff9a 28.5px,#51ffae 30.5px,#35ffca 32.5px,#10ffef 34.5px,#00faff 35.5px,#00c8ff 37.5px,#00b7ff 38.5px,#00a0ff 41.5px,#00a0ff 49.5px,#00aeff 50.5px,#0bfff4 51.5px,#9dff62 52.5px,#c1ff3e 53.5px,#2effd1 54.5px,#00d8ff 55.5px,#00bcff 56.5px,#00b8ff 74.5px,#00b4ff 80.5px,#00dbff 90.5px,#02fffd 95.5px,#31ffce 100.5px,#3effc1 105.5px,#48ffb7 106.5px,#d8ff27 114.5px,#faff05 116.5px,#ffdf00 118.5px,#ffd900 120.5px,#ffe500 122.5px,#feff01 128.5px,#f2ff0d 130.5px,#daff25 131.5px,#8aff75 133.5px,#46ffb9 135.5px,#2effd1 136.5px,#05fffa 139.5px,#00f3ff 141.5px,#00a8ff 153.5px,#008bff 162.5px,#0084ff 163.5px,#0092ff 164.5px,#0074ff 166.5px,#0083ff 167.5px,#006bff 168.5px,#0073ff 169.5px,#0074ff 170.5px,#0060ff 171.5px,#005dff 173.5px,#0061ff 174.5px,#0049ff 175.5px,#004dff 176.5px,#0079ff 178.5px,#007aff 179.5px,#0091ff 180.5px,#0078ff 182.5px,#0081ff 183.5px,#0068ff 184.5px,#007bff 185.5px,#007dff 186.5px,#0093ff 187.5px,#009cff 188.5px,#008dff 189.5px,#008fff 190.5px,#0083ff 191.5px,#009aff 192.5px,#00a7ff 194.5px,#0096ff 195.5px,#00c2ff 196.5px,#00b8ff 197.5px,#00a7ff 198.5px,#00a2ff 199.5px,#00b0ff 201.5px,#00afff 202.5px,#00c8ff 205.5px,#00c7ff 206.5px,#00b6ff 207.5px,#00bfff 208.5px,#00b5ff 209.5px,#00b5ff 210.5px,#00deff 211.5px,#00bfff 212.5px,#00e7ff 213.5px,#00c8ff 214.5px,#00e6ff 216.5px,#00d9ff 217.5px,#00e2ff 218.5px,#00daff 220.5px,#00e2ff 221.5px,#00ddff 222.5px,#03fffc 223.5px,#00eaff 224.5px,#0afff5 225.5px,#00caff 226.5px,#00fcff 227.5px,#15ffea 228.5px,#19ffe6 229.5px,#3dffc2 231px)"></div>
<div style="top:149px;height:13px;background:linear-gradient(90deg,#00b2ff 0px,#00b2ff 7.5px,#00bcff 8.5px,#00f2ff 11.5px,#03fffc 12.5px,#32ffcd 15.5px,#55ffaa 18.5px,#65ff9a 22.5px,#6cff93 25.5px,#65ff9a 28.5px,#51ffae 30.5px,#35ffca 32.5px,#10ffef 34.5px,#00faff 35.5px,#00c8ff 37.5px,#00b7ff 38.5px,#00a0ff 41.5px,#00a0ff 49.5px,#00aeff 50.5px,#0bfff4 51.5px,#9dff62 52.5px,#c1ff3e 53.5px,#2effd1 54.5px,#00d8ff 55.5px,#00bcff 56.5px,#00b8ff 74.5px,#00b4ff 80.5px,#00dbff 90.5px,#02fffd 95.5px,#31ffce 100.5px,#3effc1 105.5px,#48ffb7 106.5px,#d8ff27 114.5px,#faff05 116.5px,#ffdf00 118.5px,#ffd900 120.5px,#ffe500 122.5px,#feff01 128.5px,#f2ff0d 130.5px,#daff25 131.5px,#8aff75 133.5px,#46ffb9 135.5px,#2effd1 136.5px,#05fffa 139.5px,#00f3ff 141.5px,#00a8ff 153.5px,#008bff 162.5px,#0084ff 163.5px,#0092ff 164.5px,#0074ff 166.5px,#0083ff 167.5px,#006bff 168.5px,#0073ff 169.5px,#0074ff 170.5px,#0060ff 171.5px,#005dff 173.5px,#0061ff 174.5px,#0049ff 175.5px,#004dff 176.5px,#0079ff 178.5px,#007aff 179.5px,#0091ff 180.5px,#0078ff 182.5px,#0081ff 183.5px,#0068ff 184.5px,#007bff 185.5px,#007dff 186.5px,#0093ff 187.5px,#009cff 188.5px,#008dff 189.5px,#008fff 190.5px,#0083ff 191.5px,#009aff 192.5px,#00a7ff 194.5px,#0096ff 195.5px,#00c2ff 196.5px,#00b8ff 197.5px,#00a7ff 198.5px,#00a2ff 199.5px,#00b0ff 201.5px,#00afff 202.5px,#00c8ff 205.5px,#00c7ff 206.5px,#00b6ff 207.5px,#00bfff 208.5px,#00b5ff 209.5px,#00b5ff 210.5px,#00deff 211.5px,#00bfff 212.5px,#00e7ff 213.5px,#00c8ff 214.5px,#00e6ff 216.5px,#00d9ff 217.5px,#00e2ff 218.5px,#00daff 220.5px,#00e2ff 221.5px,#00ddff 222.5px,#03fffc 223.5px,#00eaff 224.5px,#0afff5 225.5px,#00caff 226.5px,#00fcff 227.5px,#15ffea 228.5px,#19ffe6 229.5px,#3dffc2 231px)"></div>
<div style="top:162px;height:3px;background:linear-gradient(90deg,#00b2ff 0px,#00b2ff 7.5px,#00bcff 8.5px,#00f2ff 11.5px,#03fffc 12.5px,#32ffcd 15.5px,#55ffaa 18.5px,#65ff9a 22.5px,#6cff93 25.5px,#65ff9a 28.5px,#51ffae 30.5px,#35ffca 32.5px,#10ffef 34.5px,#00faff 35.5px,#00c8ff 37.5px,#00b7ff 38.5px,#00a0ff 41.5px,#00a0ff 49.5px,#00aeff 50.5px,#0bfff4 51.5px,#9dff62 52.5px,#c1ff3e 53.5px,#2effd1 54.5px,#00d8ff 55.5px,#00bcff 56.5px,#00b8ff 74.5px,#00b4ff 80.5px,#00dbff 90.5px,#02fffd 95.5px,#31ffce 100.5px,#3effc1 105.5px,#48ffb7 106.5px,#d8ff27 114.5px,#faff05 116.5px,#ffdf00 118.5px,#ffd900 120.5px,#ffe500 122.5px,#feff01 128.5px,#f2ff0d 130.5px,#daff25 131.5px,#8aff75 133.5px,#46ffb9 135.5px,#2effd1 136.5px,#05fffa 139.5px,#00f3ff 141.5px,#00a8ff 153.5px,#008bff 162.5px,#0084ff 163.5px,#0092ff 164.5px,#0074ff 166.5px,#0083ff 167.5px,#006bff 168.5px,#0073ff 169.5px,#0074ff 170.5px,#0060ff 171.5px,#005dff 173.5px,#0061ff 174.5px,#0049ff 175.5px,#004dff 176.5px,#0079ff 178.5px,#007aff 179.5px,#0091ff 180.5px,#0078ff 182.5px,#0081ff 183.5px,#0068ff 184.5px,#007bff 185.5px,#007dff 186.5px,#0093ff 187.5px,#009cff 188.5px,#008dff 189.5px,#008fff 190.5px,#0083ff 191.5px,#009aff 192.5px,#00a7ff 194.5px,#0096ff 195.5px,#00c2ff 196.5px,#00b8ff 197.5px,#00a7ff 198.5px,#00a2ff 199.5px,#00b0ff 201.5px,#00afff 202.5px,#00c8ff 205.5px,#00c7ff 206.5px,#00b6ff 207.5px,#00bfff 208.5px,#00b5ff 209.5px,#00b5ff 210.5px,#00deff 211.5px,#00bfff 212.5px,#00e7ff 213.5px,#00c8ff 214.5px,#00e6ff 216.5px,#00d9ff 217.5px,#00e2ff 218.5px,#00daff 220.5px,#00e2ff 221.5px,#00ddff 222.5px,#03fffc 223.5px,#00eaff 224.5px,#0afff5 225.5px,#00caff 226.5px,#00fcff 227.5px,#15ffea 228.5px,#19ffe6 229.5px,#3dffc2 231px)"></div>
<div style="top:165px;height:4px;background:linear-gradient(90deg,#00b2ff 0px,#00b2ff 7.5px,#00bcff 8.5px,#00f2ff 11.5px,#03fffc 12.5px,#32ffcd 15.5px,#55ffaa 18.5px,#65ff9a 22.5px,#6cff93 25.5px,#65ff9a 28.5px,#51ffae 30.5px,#35ffca 32.5px,#10ffef 34.5px,#00faff 35.5px,#00c8ff 37.5px,#00b7ff 38.5px,#00a0ff 41.5px,#00a0ff 49.5px,#00aeff 50.5px,#0bfff4 51.5px,#9dff62 52.5px,#c1ff3e 53.5px,#2effd1 54.5px,#00d8ff 55.5px,#00bcff 56.5px,#00b8ff 74.5px,#00b4ff 80.5px,#00dbff 90.5px,#02fffd 95.5px,#31ffce 100.5px,#3effc1 105.5px,#48ffb7 106.5px,#d8ff27 114.5px,#faff05 116.5px,#ffdf00 118.5px,#ffd900 120.5px,#ffe500 122.5px,#feff01 128.5px,#f2ff0d 130.5px,#daff25 131.5px,#8aff75 133.5px,#46ffb9 135.5px,#2effd1 136.5px,#05fffa 139.5px,#00f3ff 141.5px,#00a8ff 153.5px,#008bff 162.5px,#0084ff 163.5px,#0092ff 164.5px,#0074ff 166.5px,#0083ff 167.5px,#006bff 168.5px,#0073ff 169.5px,#0074ff 170.5px,#0060ff 171.5px,#005dff 173.5px,#0061ff 174.5px,#0049ff 175.5px,#004dff 176.5px,#0079ff 178.5px,#007aff 179.5px,#0091ff 180.5px,#0078ff 182.5px,#0081ff 183.5px,#0068ff 184.5px,#007bff 185.5px,#007dff 186.5px,#0093ff 187.5px,#009cff 188.5px,#008dff 189.5px,#008fff 190.5px,#0083ff 191.5px,#009aff 192.5px,#00a7ff 194.5px,#0096ff 195.5px,#00c2ff 196.5px,#00b8ff 197.5px,#00a7ff 198.5px,#00a2ff 199.5px,#00b0ff 201.5px,#00afff 202.5px,#00c8ff 205.5px,#00c7ff 206.5px,#00b6ff 207.5px,#00bfff 208.5px,#00b5ff 209.5px,#00b5ff 210.5px,#00deff 211.5px,#00bfff 212.5px,#00e7ff 213.5px,#00c8ff 214.5px,#00e6ff 216.5px,#00d9ff 217.5px,#00e2ff 218.5px,#00daff 220.5px,#00e2ff 221.5px,#00ddff 222.5px,#03fffc 223.5px,#00eaff 224.5px,#0afff5 225.5px,#00caff 226.5px,#00fcff 227.5px,#15ffea 228.5px,#19ffe6 229.5px,#3dffc2 231px)"></div>
<div style="top:169px;height:2px;background:linear-gradient(90deg,#00b2ff 0px,#00b2ff 7.5px,#00bcff 8.5px,#00f2ff 11.5px,#03fffc 12.5px,#32ffcd 15.5px,#55ffaa 18.5px,#65ff9a 22.5px,#6cff93 25.5px,#65ff9a 28.5px,#51ffae 30.5px,#35ffca 32.5px,#10ffef 34.5px,#00faff 35.5px,#00c8ff 37.5px,#00b7ff 38.5px,#00a0ff 41.5px,#00a0ff 49.5px,#00aeff 50.5px,#0bfff4 51.5px,#9dff62 52.5px,#c1ff3e 53.5px,#2effd1 54.5px,#00d8ff 55.5px,#00bcff 56.5px,#00b8ff 74.5px,#00b4ff 80.5px,#00dbff 90.5px,#02fffd 95.5px,#31ffce 100.5px,#3effc1 105.5px,#48ffb7 106.5px,#d8ff27 114.5px,#faff05 116.5px,#ffdf00 118.5px,#ffd900 120.5px,#ffe500 122.5px,#feff01 128.5px,#f2ff0d 130.5px,#daff25 131.5px,#8aff75 133.5px,#46ffb9 135.5px,#2effd1 136.5px,#05fffa 139.5px,#00f3ff 141.5px,#00a8ff 153.5px,#008bff 162.5px,#0084ff 163.5px,#0092ff 164.5px,#0074ff 166.5px,#0083ff 167.5px,#006bff 168.5px,#0073ff 169.5px,#0074ff 170.5px,#0060ff 171.5px,#005dff 173.5px,#0061ff 174.5px,#0049ff 175.5px,#004dff 176.5px,#0079ff 178.5px,#007aff 179.5px,#0091ff 180.5px,#0078ff 182.5px,#0081ff 183.5px,#0068ff 184.5px,#007bff 185.5px,#007dff 186.5px,#0093ff 187.5px,#009cff 188.5px,#008dff 189.5px,#008fff 190.5px,#0083ff 191.5px,#009aff 192.5px,#00a7ff 194.5px,#0096ff 195.5px,#00c2ff 196.5px,#00b8ff 197.5px,#00a7ff 198.5px,#00a2ff 199.5px,#00b0ff 201.5px,#00afff 202.5px,#00c8ff 205.5px,#00c7ff 206.5px,#00b6ff 207.5px,#00bfff 208.5px,#00b5ff 209.5px,#00b5ff 210.5px,#00deff 211.5px,#00bfff 212.5px,#00e7ff 213.5px,#00c8ff 214.5px,#00e6ff 216.5px,#00d9ff 217.5px,#00e2ff 218.5px,#00daff 220.5px,#00e2ff 221.5px,#00ddff 222.5px,#03fffc 223.5px,#00eaff 224.5px,#0afff5 225.5px,#00caff 226.5px,#00fcff 227.5px,#15ffea 228.5px,#19ffe6 229.5px,#3dffc2 231px)"></div>
<div style="top:171px;height:14px;background:linear-gradient(90deg,#00b2ff 0px,#00b2ff 7.5px,#00bcff 8.5px,#00f2ff 11.5px,#03fffc 12.5px,#32ffcd 15.5px,#55ffaa 18.5px,#65ff9a 22.5px,#6cff93 25.5px,#65ff9a 28.5px,#51ffae 30.5px,#35ffca 32.5px,#10ffef 34.5px,#00faff 35.5px,#00c8ff 37.5px,#00b7ff 38.5px,#00a0ff 41.5px,#00a0ff 49.5px,#00aeff 50.5px,#0bfff4 51.5px,#9dff62 52.5px,#c1ff3e 53.5px,#2effd1 54.5px,#00d8ff 55.5px,#00bcff 56.5px,#00b8ff 74.5px,#00b4ff 80.5px,#00dbff 90.5px,#02fffd 95.5px,#31ffce 100.5px,#3effc1 105.5px,#48ffb7 106.5px,#d8ff27 114.5px,#faff05 116.5px,#ffdf00 118.5px,#ffd900 120.5px,#ffe500 122.5px,#feff01 128.5px,#f2ff0d 130.5px,#daff25 131.5px,#8aff75 133.5px,#46ffb9 135.5px,#2effd1 136.5px,#05fffa 139.5px,#00f3ff 141.5px,#00a8ff 153.5px,#008bff 162.5px,#0084ff 163.5px,#0092ff 164.5px,#0074ff 166.5px,#0083ff 167.5px,#006bff 168.5px,#0073ff 169.5px,#0074ff 170.5px,#0060ff 171.5px,#005dff 173.5px,#0061ff 174.5px,#0049ff 175.5px,#004dff 176.5px,#0079ff 178.5px,#007aff 179.5px,#0091ff 180.5px,#0078ff 182.5px,#0081ff 183.5px,#0068ff 184.5px,#007bff 185.5px,#007dff 186.5px,#0093ff 187.5px,#009cff 188.5px,#008dff 189.5px,#008fff 190.5px,#0083ff 191.5px,#009aff 192.5px,#00a7ff 194.5px,#0096ff 195.5px,#00c2ff 196.5px,#00b8ff 197.5px,#00a7ff 198.5px,#00a2ff 199.5px,#00b0ff 201.5px,#00afff 202.5px,#00c8ff 205.5px,#00c7ff 206.5px,#00b6ff 207.5px,#00bfff 208.5px,#00b5ff 209.5px,#00b5ff 210.5px,#00deff 211.5px,#00bfff 212.5px,#00e7ff 213.5px,#00c8ff 214.5px,#00e6ff 216.5px,#00d9ff 217.5px,#00e2ff 218.5px,#00daff 220.5px,#00e2ff 221.5px,#00ddff 222.5px,#03fffc 223.5px,#00eaff 224.5px,#0afff5 225.5px,#00caff 226.5px,#00fcff 227.5px,#15ffea 228.5px,#19ffe6 229.5px,#3dffc2 231px)"></div>
<div style="top:185px;height:1px;background:linear-gradient(90deg,#0002ff 0px,#0002ff 231px)"></div>
</div>
<div class="hm" style="left:396px;top:20px;width:231px;height:186px">
<div style="top:0px;height:2px;background:linear-gradient(90deg,#23ffdc 0px,#2cffd3 15.5px,#43ffbc 18.5px,#72ff8d 23.5px,#80ff80 28.5px,#81ff7e 50.5px,#85ff7a 51.5px,#bfff40 52.5px,#8cff73 53.5px,#93ff6c 57.5px,#9eff61 79.5px,#c2ff3d 88.5px,#dbff24 98.5px,#e7ff18 106.5px,#e7ff18 107.5px,#fdff02 109.5px,#ffb500 123.5px,#ff9700 124.5px,#ff9300 128.5px,#ff9900 131.5px,#ffc000 189.5px,#ffd000 191.5px,#ff8000 192.5px,#ff2900 193.5px,#ff2900 194.5px,#ffd900 196.5px,#ffed00 202.5px,#ffea00 210.5px,#d9ff26 211.5px,#c9ff36 214.5px,#c2ff3d 225.5px,#c9ff36 231px)"></div>
<div style="top:2px;height:2px;background:linear-gradient(90deg,#23ffdc 0px,#2cffd3 15.5px,#3bffc4 17.5px,#74ff8b 23.5px,#83ff7c 28.5px,#81ff7e 50.5px,#84ff7b 51.5px,#c0ff3f 52.5px,#8bff74 53.5px,#93ff6c 61.5px,#9cff63 79.5px,#c6ff39 89.5px,#e1ff1e 99.5px,#ecff13 107.5px,#fffc00 109.5px,#ffb500 123.5px,#ff9700 124.5px,#ff9700 126.5px,#ff9200 128.5px,#ff9800 130.5px,#ffc100 189.5px,#ffd400 191.5px,#ff8600 192.5px,#ff2c00 193.5px,#ff2c00 194.5px,#ff8600 195.5px,#ffea00 196.5px,#ffff00 202.5px,#ffea00 203.5px,#ffea00 210.5px,#cfff30 211.5px,#c2ff3d 214.5px,#c2ff3d 226.5px,#c9ff36 231px)"></div>
<div style="top:4px;height:3px;background:linear-gradient(90deg,#23ffdc 0px,#2cffd3 15.5px,#3bffc4 17.5px,#74ff8b 23.5px,#83ff7c 28.5px,#81ff7e 50.5px,#84ff7b 51.5px,#c0ff3f 52.5px,#8bff74 53.5px,#93ff6c 61.5px,#9cff63 79.5px,#c6ff39 89.5px,#e1ff1e 99.5px,#eaff15 106.5px,#fdff02 108.5px,#ffb500 123.5px,#ff9700 124.5px,#ff9700 126.5px,#ff9000 127.5px,#ff9000 128.5px,#ff9800 129.5px,#ffc000 188.5px,#ffd700 191.5px,#ff8600 192.5px,#ff2c00 193.5px,#ff2c00 194.5px,#ff8600 195.5px,#ffea00 196.5px,#ffff00 202.5px,#ffea00 203.5px,#ffea00 210.5px,#cfff30 211.5px,#c2ff3d 214.5px,#c2ff3d 226.5px,#c9ff36 231px)"></div>
<div style="top:7px;height:2px;background:linear-gradient(90deg,#23ffdc 0px,#2cffd3 15.5px,#3cffc3 17.5px,#70ff8f 22.5px,#83ff7c 26.5px,#88ff77 31.5px,#81ff7e 50.5px,#84ff7b 51.5px,#c2ff3d 52.5px,#8aff75 53.5px,#9aff65 79.5px,#c8ff37 89.5px,#e5ff1a 99.5px,#eeff11 106.5px,#fffc00 108.5px,#ffb500 123.5px,#ff9700 124.5px,#ff9700 126.5px,#ff8f00 127.5px,#ff8f00 128.5px,#ff9800 129.5px,#ffc100 188.5px,#ffda00 191.5px,#ff8c00 192.5px,#ff3000 193.5px,#ff3000 194.5px,#ff8c00 195.5px,#ffff00 196.5px,#bfff40 212.5px,#b9ff46 215.5px,#c1ff3e 226.5px,#c9ff36 231px)"></div>
<div style="top:9px;height:3px;background:linear-gradient(90deg,#23ffdc 0px,#2cffd3 15.5px,#3cffc3 17.5px,#70ff8f 22.5px,#83ff7c 26.5px,#88ff77 31.5px,#81ff7e 50.5px,#84ff7b 51.5px,#c2ff3d 52.5px,#8aff75 53.5px,#9aff65 79.5px,#c8ff37 89.5px,#e5ff1a 99.5px,#f2ff0d 106.5px,#fdff02 107.5px,#ffb500 123.5px,#ff9700 124.5px,#ff9700 126.5px,#ff8d00 127.5px,#ff8d00 128.5px,#ff9800 129.5px,#ffc000 187.5px,#ffdd00 191.5px,#ff8c00 192.5px,#ff3000 193.5px,#ff3000 194.5px,#ff8c00 195.5px,#ffff00 196.5px,#bfff40 212.5px,#b9ff46 215.5px,#c1ff3e 226.5px,#c9ff36 231px)"></div>
<div style="top:12px;height:2px;background:linear-gradient(90deg,#23ffdc 0px,#2cffd3 15.5px,#3dffc2 17.5px,#74ff8b 22.5px,#8dff72 28.5px,#88ff77 40.5px,#81ff7e 50.5px,#83ff7c 51.5px,#c3ff3c 52.5px,#88ff77 53.5px,#98ff67 79.5px,#c9ff36 89.5px,#e9ff16 99.5px,#f8ff07 106.5px,#fffc00 107.5px,#ffb500 123.5px,#ff9700 124.5px,#ff9600 126.5px,#ff8b00 127.5px,#ff8b00 128.5px,#ff9600 129.5px,#ffc000 187.5px,#ffdf00 191.5px,#ff9400 192.5px,#ff3400 193.5px,#ff3400 194.5px,#ff9400 195.5px,#f0ff0f 196.5px,#e3ff1c 198.5px,#b0ff4f 214.5px,#c0ff3f 226.5px,#c9ff36 231px)"></div>
<div style="top:14px;height:3px;background:linear-gradient(90deg,#23ffdc 0px,#2cffd3 15.5px,#3dffc2 17.5px,#74ff8b 22.5px,#8dff72 28.5px,#88ff77 40.5px,#81ff7e 50.5px,#83ff7c 51.5px,#c3ff3c 52.5px,#88ff77 53.5px,#98ff67 79.5px,#c9ff36 89.5px,#e9ff16 99.5px,#f3ff0c 105.5px,#feff01 106.5px,#ffb500 123.5px,#ff9700 124.5px,#ff9400 126.5px,#ff8a00 127.5px,#ff8a00 128.5px,#ff9800 130.5px,#ffc000 186.5px,#ffe200 191.5px,#ff9400 192.5px,#ff3400 193.5px,#ff3400 194.5px,#ff9400 195.5px,#efff10 196.5px,#e0ff1f 199.5px,#b0ff4f 214.5px,#c0ff3f 226.5px,#c9ff36 231px)"></div>
<div style="top:17px;height:2px;background:linear-gradient(90deg,#23ffdc 0px,#2cffd3 15.5px,#3effc1 17.5px,#78ff87 22.5px,#91ff6e 28.5px,#8dff72 39.5px,#80ff7f 50.5px,#82ff7d 51.5px,#c4ff3b 52.5px,#86ff79 53.5px,#95ff6a 79.5px,#c6ff39 88.5px,#e8ff17 97.5px,#f8ff07 105.5px,#fffc00 106.5px,#ffb500 123.5px,#ff9700 124.5px,#ff9300 126.5px,#ff8800 127.5px,#ff8800 128.5px,#ff9800 130.5px,#ffc000 186.5px,#ffe400 191.5px,#ff9b00 192.5px,#ff3900 193.5px,#ff3900 194.5px,#ff9b00 195.5px,#edff12 196.5px,#d1ff2e 198.5px,#b8ff47 205.5px,#a7ff58 214.5px,#c8ff37 231px)"></div>
<div style="top:19px;height:3px;background:linear-gradient(90deg,#23ffdc 0px,#2cffd3 15.5px,#3effc1 17.5px,#78ff87 22.5px,#91ff6e 28.5px,#8dff72 39.5px,#80ff7f 50.5px,#82ff7d 51.5px,#c4ff3b 52.5px,#86ff79 53.5px,#95ff6a 79.5px,#c6ff39 88.5px,#e8ff17 97.5px,#f7ff08 104.5px,#fffa00 106.5px,#ffb500 123.5px,#ff9700 124.5px,#ff9100 126.5px,#ff8700 127.5px,#ff8700 128.5px,#ff9800 130.5px,#ffc000 185.5px,#ffe600 191.5px,#ff9b00 192.5px,#ff3900 193.5px,#ff3900 194.5px,#ff9b00 195.5px,#ebff14 196.5px,#cfff30 198.5px,#b4ff4b 207.5px,#a7ff58 214.5px,#c8ff37 231px)"></div>
<div style="top:22px;height:2px;background:linear-gradient(90deg,#25ffda 0px,#30ffcf 15.5px,#41ffbe 17.5px,#77ff88 22.5px,#95ff6a 28.5px,#9bff64 36.5px,#7fff80 50.5px,#80ff7f 51.5px,#c5ff3a 52.5px,#84ff7b 53.5px,#91ff6e 78.5px,#dbff24 93.5px,#edff12 99.5px,#f9ff06 104.5px,#fff800 106.5px,#ffb400 123.5px,#ff9700 124.5px,#ff9700 125.5px,#ff8500 127.5px,#ff8500 128.5px,#ff9800 130.5px,#ffc000 185.5px,#ffe700 191.5px,#ffa200 192.5px,#ff3d00 193.5px,#ff3d00 194.5px,#ffa200 195.5px,#e9ff16 196.5px,#bfff40 199.5px,#a8ff57 209.5px,#a3ff5c 215.5px,#c6ff39 231px)"></div>
<div style="top:24px;height:3px;background:linear-gradient(90deg,#25ffda 0px,#30ffcf 15.5px,#41ffbe 17.5px,#77ff88 22.5px,#95ff6a 28.5px,#9bff64 36.5px,#7fff80 50.5px,#80ff7f 51.5px,#c5ff3a 52.5px,#84ff7b 53.5px,#91ff6e 78.5px,#dbff24 93.5px,#edff12 99.5px,#f5ff0a 103.5px,#feff01 104.5px,#ffb400 123.5px,#ff9700 124.5px,#ff9700 125.5px,#ff8400 127.5px,#ff8400 128.5px,#ff9900 130.5px,#ffc300 185.5px,#ffe900 191.5px,#ffa200 192.5px,#ff3d00 193.5px,#ff3d00 194.5px,#ffa200 195.5px,#e7ff18 196.5px,#bfff40 199.5px,#a8ff57 209.5px,#a3ff5c 215.5px,#c6ff39 231px)"></div>
<div style="top:27px;height:2px;background:linear-gradient(90deg,#27ffd8 0px,#31ffce 14.5px,#3bffc4 16.5px,#75ff8a 22.5px,#9aff65 28.5px,#a6ff59 36.5px,#90ff6f 44.5px,#7cff83 50.5px,#7eff81 51.5px,#c6ff39 52.5px,#82ff7d 53.5px,#8bff74 75.5px,#9dff62 81.5px,#e3ff1c 95.5px,#f1ff0e 102.5px,#fffc00 104.5px,#ffb400 123.5px,#ff9700 124.5px,#ff9700 125.5px,#ff8200 127.5px,#ff8200 128.5px,#ff9900 130.5px,#ffc000 184.5px,#ffeb00 191.5px,#ffac00 192.5px,#ff4300 193.5px,#ff4300 194.5px,#ffac00 195.5px,#e5ff1a 196.5px,#bbff44 199.5px,#b1ff4e 201.5px,#9dff62 214.5px,#c4ff3b 231px)"></div>
<div style="top:29px;height:3px;background:linear-gradient(90deg,#27ffd8 0px,#31ffce 14.5px,#3bffc4 16.5px,#75ff8a 22.5px,#9aff65 28.5px,#a6ff59 36.5px,#90ff6f 44.5px,#7cff83 50.5px,#7eff81 51.5px,#c6ff39 52.5px,#82ff7d 53.5px,#8bff74 75.5px,#9dff62 81.5px,#e3ff1c 95.5px,#f4ff0b 102.5px,#ffff00 103.5px,#ffb400 123.5px,#ff9700 124.5px,#ff9700 125.5px,#ff8100 127.5px,#ff8100 128.5px,#ff9900 130.5px,#ffc300 184.5px,#ffec00 191.5px,#ffac00 192.5px,#ff4300 193.5px,#ff4300 194.5px,#ffac00 195.5px,#e3ff1c 196.5px,#b9ff46 199.5px,#aaff55 204.5px,#9eff61 215.5px,#c4ff3b 231px)"></div>
<div style="top:32px;height:2px;background:linear-gradient(90deg,#2affd5 0px,#35ffca 14.5px,#4fffb0 18.5px,#8bff74 25.5px,#a7ff58 30.5px,#b1ff4e 36.5px,#a1ff5e 42.5px,#7bff84 49.5px,#7cff83 51.5px,#c7ff38 52.5px,#7fff80 53.5px,#86ff79 74.5px,#9cff63 81.5px,#e6ff19 96.5px,#f0ff0f 101.5px,#fbff04 102.5px,#fff000 106.5px,#ffb300 123.5px,#ff9700 124.5px,#ff9700 125.5px,#ff7f00 127.5px,#ff7f00 128.5px,#ff9900 130.5px,#ffc000 183.5px,#ffed00 191.5px,#ffb600 192.5px,#ff4a00 193.5px,#ff4a00 194.5px,#ffb600 195.5px,#e1ff1e 196.5px,#aaff55 200.5px,#99ff66 215.5px,#c2ff3d 231px)"></div>
<div style="top:34px;height:3px;background:linear-gradient(90deg,#2affd5 0px,#35ffca 14.5px,#4fffb0 18.5px,#8bff74 25.5px,#a7ff58 30.5px,#b1ff4e 36.5px,#a1ff5e 42.5px,#7bff84 49.5px,#7cff83 51.5px,#c7ff38 52.5px,#7fff80 53.5px,#86ff79 74.5px,#9cff63 81.5px,#e6ff19 96.5px,#ecff13 100.5px,#fffd00 102.5px,#ffb600 122.5px,#ff9700 123.5px,#ff9700 125.5px,#ff7d00 127.5px,#ff7d00 128.5px,#ff8700 129.5px,#ff9900 130.5px,#ffc200 183.5px,#ffef00 191.5px,#ffb600 192.5px,#ff4a00 193.5px,#ff4a00 194.5px,#ffb600 195.5px,#dfff20 196.5px,#aaff55 200.5px,#99ff66 215.5px,#c2ff3d 231px)"></div>
<div style="top:37px;height:2px;background:linear-gradient(90deg,#2cffd3 0px,#38ffc7 14.5px,#5fffa0 20.5px,#9bff64 27.5px,#b1ff4e 31.5px,#bdff42 36.5px,#a9ff56 42.5px,#7aff85 49.5px,#79ff86 51.5px,#c9ff36 52.5px,#7dff82 53.5px,#82ff7d 74.5px,#a4ff5b 83.5px,#e6ff19 96.5px,#eaff15 99.5px,#fdff02 101.5px,#ffb500 122.5px,#ff9700 123.5px,#ff9700 125.5px,#ff8500 126.5px,#ff7b00 127.5px,#ff7b00 128.5px,#ff8500 129.5px,#ff9900 130.5px,#ffc000 181.5px,#fff500 191.5px,#ffc100 192.5px,#ff5000 193.5px,#ff5000 194.5px,#ffc100 195.5px,#cfff30 196.5px,#a6ff59 199.5px,#9cff63 204.5px,#95ff6a 216.5px,#c0ff3f 231px)"></div>
<div style="top:39px;height:3px;background:linear-gradient(90deg,#2cffd3 0px,#38ffc7 14.5px,#5fffa0 20.5px,#9bff64 27.5px,#b1ff4e 31.5px,#bdff42 36.5px,#a9ff56 42.5px,#7aff85 49.5px,#79ff86 51.5px,#c9ff36 52.5px,#7dff82 53.5px,#82ff7d 74.5px,#a4ff5b 83.5px,#e6ff19 96.5px,#edff12 99.5px,#fffc00 101.5px,#ffb400 122.5px,#ff9700 123.5px,#ff9700 125.5px,#ff8300 126.5px,#ff7900 127.5px,#ff7900 128.5px,#ff8300 129.5px,#ff9700 130.5px,#ffc100 180.5px,#fffe00 191.5px,#ffc100 192.5px,#ff5000 193.5px,#ff5000 194.5px,#ffc100 195.5px,#bbff44 196.5px,#a4ff5b 198.5px,#93ff6c 215.5px,#c0ff3f 231px)"></div>
<div style="top:42px;height:2px;background:linear-gradient(90deg,#2cffd3 0px,#38ffc7 13.5px,#6aff95 20.5px,#a2ff5d 27.5px,#b3ff4c 30.5px,#bfff40 35.5px,#a4ff5b 42.5px,#7bff84 48.5px,#74ff8b 50.5px,#76ff89 51.5px,#ceff31 52.5px,#81ff7e 53.5px,#7cff83 54.5px,#7fff80 74.5px,#a6ff59 84.5px,#e4ff1b 96.5px,#e9ff16 98.5px,#ffff00 100.5px,#ffb300 122.5px,#ff9700 123.5px,#ff9500 125.5px,#ff8100 126.5px,#ff7700 127.5px,#ff7700 128.5px,#ff8100 129.5px,#ff9500 130.5px,#ff9b00 133.5px,#ffc000 178.5px,#fffa00 189.5px,#f9ff06 190.5px,#ebff14 191.5px,#ffce00 192.5px,#ff5700 193.5px,#ff5700 194.5px,#ffce00 195.5px,#a6ff59 196.5px,#9bff64 197.5px,#8eff71 216.5px,#b9ff46 229.5px,#bbff44 231px)"></div>
<div style="top:44px;height:3px;background:linear-gradient(90deg,#2cffd3 0px,#38ffc7 13.5px,#6aff95 20.5px,#a2ff5d 27.5px,#b3ff4c 30.5px,#bfff40 35.5px,#a4ff5b 42.5px,#7bff84 48.5px,#74ff8b 50.5px,#76ff89 51.5px,#ceff31 52.5px,#81ff7e 53.5px,#7cff83 54.5px,#7fff80 74.5px,#a6ff59 84.5px,#e4ff1b 96.5px,#e5ff1a 97.5px,#faff05 99.5px,#fff800 101.5px,#ffb500 121.5px,#ff9700 122.5px,#ff9300 125.5px,#ff7f00 126.5px,#ff7500 127.5px,#ff7500 128.5px,#ff7f00 129.5px,#ff9300 130.5px,#ff9a00 131.5px,#ffc100 177.5px,#fffe00 188.5px,#d7ff28 191.5px,#ffce00 192.5px,#ff5700 193.5px,#ff5700 194.5px,#ffce00 195.5px,#9cff63 196.5px,#8eff71 216.5px,#b9ff46 229.5px,#bbff44 231px)"></div>
<div style="top:47px;height:2px;background:linear-gradient(90deg,#2cffd3 0px,#37ffc8 12.5px,#77ff88 20.5px,#9fff60 25.5px,#b7ff48 30.5px,#beff41 35.5px,#9dff62 42.5px,#7eff81 46.5px,#6fff90 50.5px,#72ff8d 51.5px,#d4ff2b 52.5px,#88ff77 53.5px,#7aff85 54.5px,#7dff82 74.5px,#a4ff5b 84.5px,#e2ff1d 96.5px,#fffd00 99.5px,#ffb400 121.5px,#ff9700 122.5px,#ff9700 124.5px,#ff9100 125.5px,#ff7d00 126.5px,#ff7300 127.5px,#ff7300 128.5px,#ff7d00 129.5px,#ff9100 130.5px,#ff9a00 131.5px,#ffc300 176.5px,#fffa00 186.5px,#faff05 187.5px,#c2ff3d 191.5px,#ffdc00 192.5px,#ff5e00 193.5px,#ff5e00 194.5px,#ffdc00 195.5px,#93ff6c 196.5px,#87ff78 216.5px,#afff50 227.5px,#b7ff48 231px)"></div>
<div style="top:49px;height:3px;background:linear-gradient(90deg,#2cffd3 0px,#37ffc8 12.5px,#77ff88 20.5px,#9fff60 25.5px,#b7ff48 30.5px,#beff41 35.5px,#9dff62 42.5px,#7eff81 46.5px,#6fff90 50.5px,#72ff8d 51.5px,#d4ff2b 52.5px,#88ff77 53.5px,#7aff85 54.5px,#7dff82 74.5px,#a4ff5b 84.5px,#e6ff19 96.5px,#fcff03 98.5px,#ffb400 121.5px,#ff9700 122.5px,#ff9700 124.5px,#ff8e00 125.5px,#ff7b00 126.5px,#ff7100 127.5px,#ff7100 128.5px,#ff7b00 129.5px,#ff8e00 130.5px,#ff9a00 131.5px,#ffc100 174.5px,#fffd00 185.5px,#adff52 191.5px,#ffdc00 192.5px,#ff5e00 193.5px,#ff5e00 194.5px,#ffdc00 195.5px,#93ff6c 196.5px,#87ff78 216.5px,#afff50 227.5px,#b7ff48 231px)"></div>
<div style="top:52px;height:2px;background:linear-gradient(90deg,#2cffd3 0px,#39ffc6 12.5px,#97ff68 22.5px,#b8ff47 28.5px,#beff41 35.5px,#96ff69 42.5px,#75ff8a 46.5px,#6bff94 50.5px,#6eff91 51.5px,#daff25 52.5px,#8eff71 53.5px,#77ff88 54.5px,#7bff84 74.5px,#a7ff58 85.5px,#d8ff27 94.5px,#fffc00 98.5px,#ffb300 121.5px,#ff9700 122.5px,#ff9700 124.5px,#ff8c00 125.5px,#ff7900 126.5px,#ff6f00 127.5px,#ff6f00 128.5px,#ff7900 129.5px,#ff9a00 131.5px,#ffc300 173.5px,#fffa00 183.5px,#faff05 184.5px,#99ff66 191.5px,#ffea00 192.5px,#ff6500 193.5px,#ff6500 194.5px,#ffea00 195.5px,#8aff75 196.5px,#81ff7e 216.5px,#a5ff5a 225.5px,#b2ff4d 231px)"></div>
<div style="top:54px;height:3px;background:linear-gradient(90deg,#2cffd3 0px,#39ffc6 12.5px,#97ff68 22.5px,#b8ff47 28.5px,#beff41 35.5px,#96ff69 42.5px,#75ff8a 46.5px,#6bff94 50.5px,#6eff91 51.5px,#daff25 52.5px,#8eff71 53.5px,#77ff88 54.5px,#7bff84 74.5px,#a7ff58 85.5px,#d3ff2c 93.5px,#feff01 97.5px,#ffb500 120.5px,#ff9700 121.5px,#ff9700 124.5px,#ff7700 126.5px,#ff6d00 127.5px,#ff6d00 128.5px,#ff7700 129.5px,#ff9a00 131.5px,#ffc000 171.5px,#fffd00 182.5px,#92ff6d 190.5px,#90ff6f 191.5px,#ffea00 192.5px,#ff6500 193.5px,#ff6500 194.5px,#ffea00 195.5px,#8aff75 196.5px,#81ff7e 216.5px,#a5ff5a 225.5px,#b2ff4d 231px)"></div>
<div style="top:57px;height:2px;background:linear-gradient(90deg,#2cffd3 0px,#35ffca 11.5px,#50ffaf 14.5px,#a5ff5a 22.5px,#bfff40 28.5px,#bdff42 35.5px,#8fff70 42.5px,#6dff92 46.5px,#66ff99 50.5px,#6fff90 51.5px,#e0ff1f 52.5px,#95ff6a 53.5px,#75ff8a 54.5px,#78ff87 74.5px,#a5ff5a 85.5px,#cdff32 92.5px,#faff05 96.5px,#fff900 98.5px,#ffb400 120.5px,#ff9700 121.5px,#ff9700 124.5px,#ff7500 126.5px,#ff6b00 127.5px,#ff6b00 128.5px,#ff7500 129.5px,#ff9a00 131.5px,#ffc300 170.5px,#fffa00 180.5px,#faff05 181.5px,#8bff74 189.5px,#85ff7a 191.5px,#fffe00 192.5px,#ff7100 193.5px,#ff7100 194.5px,#fffe00 195.5px,#81ff7e 196.5px,#7aff85 216.5px,#a0ff5f 225.5px,#adff52 231px)"></div>
<div style="top:59px;height:3px;background:linear-gradient(90deg,#2cffd3 0px,#35ffca 11.5px,#50ffaf 14.5px,#a5ff5a 22.5px,#bfff40 28.5px,#bdff42 35.5px,#8fff70 42.5px,#6dff92 46.5px,#66ff99 50.5px,#6fff90 51.5px,#e0ff1f 52.5px,#95ff6a 53.5px,#75ff8a 54.5px,#78ff87 74.5px,#a5ff5a 85.5px,#d0ff2f 92.5px,#fcff03 96.5px,#ffb300 120.5px,#ff9700 121.5px,#ff9700 124.5px,#ff7100 126.5px,#ff6900 127.5px,#ff6a00 128.5px,#ff7500 129.5px,#ff9a00 131.5px,#ffc000 168.5px,#fffd00 179.5px,#87ff78 188.5px,#85ff7a 191.5px,#fffe00 192.5px,#ff7100 193.5px,#ff7100 194.5px,#fffe00 195.5px,#81ff7e 196.5px,#7aff85 216.5px,#a0ff5f 225.5px,#adff52 231px)"></div>
<div style="top:62px;height:2px;background:linear-gradient(90deg,#2dffd2 0px,#38ffc7 10.5px,#43ffbc 12.5px,#9bff64 20.5px,#aeff51 23.5px,#bcff43 28.5px,#adff52 35.5px,#66ff99 46.5px,#62ff9d 50.5px,#76ff89 51.5px,#e7ff18 52.5px,#9cff63 53.5px,#71ff8e 54.5px,#74ff8b 74.5px,#99ff66 84.5px,#c6ff39 91.5px,#fdff02 96.5px,#ffb500 119.5px,#ff9700 120.5px,#ff9700 124.5px,#ff7e00 125.5px,#ff6e00 126.5px,#ff6600 127.5px,#ff6900 128.5px,#ff7400 129.5px,#ff9b00 131.5px,#ffc300 167.5px,#fffa00 177.5px,#fbff04 178.5px,#7eff81 187.5px,#78ff87 189.5px,#77ff88 191.5px,#eaff15 192.5px,#ff7e00 193.5px,#ff7e00 194.5px,#eaff15 195.5px,#76ff89 196.5px,#73ff8c 216.5px,#9bff64 225.5px,#a9ff56 231px)"></div>
<div style="top:64px;height:3px;background:linear-gradient(90deg,#2dffd2 0px,#38ffc7 10.5px,#43ffbc 12.5px,#9bff64 20.5px,#aeff51 23.5px,#bcff43 28.5px,#adff52 35.5px,#66ff99 46.5px,#62ff9d 50.5px,#76ff89 51.5px,#e7ff18 52.5px,#9cff63 53.5px,#71ff8e 54.5px,#74ff8b 74.5px,#99ff66 84.5px,#c7ff38 91.5px,#feff01 96.5px,#ffb300 119.5px,#ff9700 120.5px,#ff9700 123.5px,#ff9100 124.5px,#ff7900 125.5px,#ff6a00 126.5px,#ff6400 127.5px,#ff6800 128.5px,#ff7400 129.5px,#ff9b00 131.5px,#ffc000 165.5px,#fffc00 176.5px,#79ff86 186.5px,#77ff88 191.5px,#eaff15 192.5px,#ff7e00 193.5px,#ff7e00 194.5px,#eaff15 195.5px,#76ff89 196.5px,#73ff8c 216.5px,#9bff64 225.5px,#a9ff56 231px)"></div>
<div style="top:67px;height:2px;background:linear-gradient(90deg,#2dffd2 0px,#3cffc3 10.5px,#5affa5 13.5px,#9cff63 19.5px,#aeff51 22.5px,#b9ff46 27.5px,#93ff6c 36.5px,#63ff9c 45.5px,#5dffa2 50.5px,#7dff82 51.5px,#edff12 52.5px,#a2ff5d 53.5px,#6cff93 54.5px,#6fff90 74.5px,#92ff6d 84.5px,#bcff43 90.5px,#ffff00 96.5px,#ffb500 118.5px,#ff9700 119.5px,#ff9700 123.5px,#ff8b00 124.5px,#ff7400 125.5px,#ff6700 126.5px,#ff6200 127.5px,#ff6700 128.5px,#ff7400 129.5px,#ff8b00 130.5px,#ff9b00 131.5px,#ffc300 164.5px,#fffa00 174.5px,#fbff04 175.5px,#70ff8f 185.5px,#67ff98 186.5px,#69ff96 191.5px,#d3ff2c 192.5px,#ff8b00 193.5px,#ff8b00 194.5px,#d3ff2c 195.5px,#6aff95 196.5px,#6cff93 216.5px,#97ff68 225.5px,#a4ff5b 231px)"></div>
<div style="top:69px;height:3px;background:linear-gradient(90deg,#2dffd2 0px,#3cffc3 10.5px,#5affa5 13.5px,#9cff63 19.5px,#aeff51 22.5px,#b9ff46 27.5px,#93ff6c 36.5px,#63ff9c 45.5px,#5dffa2 50.5px,#7dff82 51.5px,#edff12 52.5px,#a2ff5d 53.5px,#6cff93 54.5px,#6fff90 74.5px,#92ff6d 84.5px,#bdff42 90.5px,#fffe00 96.5px,#ffb300 118.5px,#ff9700 119.5px,#ff9700 123.5px,#ff7000 125.5px,#ff6400 126.5px,#ff6000 127.5px,#ff6600 128.5px,#ff7400 129.5px,#ff9c00 131.5px,#ffc000 162.5px,#fffc00 173.5px,#93ff6c 181.5px,#69ff96 184.5px,#69ff96 191.5px,#d3ff2c 192.5px,#ff8b00 193.5px,#ff8b00 194.5px,#d3ff2c 195.5px,#6aff95 196.5px,#6cff93 216.5px,#97ff68 225.5px,#a4ff5b 231px)"></div>
<div style="top:72px;height:2px;background:linear-gradient(90deg,#2dffd2 0px,#3bffc4 9.5px,#4bffb4 11.5px,#89ff76 16.5px,#adff52 20.5px,#b8ff47 26.5px,#aaff55 29.5px,#68ff97 40.5px,#58ffa7 48.5px,#58ffa7 50.5px,#8eff71 51.5px,#fdff02 52.5px,#67ff98 54.5px,#6bff94 74.5px,#8bff74 84.5px,#b3ff4c 89.5px,#fffd00 96.5px,#ffb500 117.5px,#ff9700 118.5px,#ff9700 123.5px,#ff6c00 125.5px,#ff6100 126.5px,#ff5f00 127.5px,#ff6500 128.5px,#ff7400 129.5px,#ff8c00 130.5px,#ff9c00 131.5px,#ffc300 161.5px,#fcff03 172.5px,#55ffaa 184.5px,#5bffa4 191.5px,#bbff44 192.5px,#ff9900 193.5px,#ff9900 194.5px,#bbff44 195.5px,#5fffa0 196.5px,#65ff9a 216.5px,#90ff6f 224.5px,#9fff60 231px)"></div>
<div style="top:74px;height:3px;background:linear-gradient(90deg,#2dffd2 0px,#3bffc4 9.5px,#4bffb4 11.5px,#89ff76 16.5px,#adff52 20.5px,#b8ff47 26.5px,#aaff55 29.5px,#68ff97 40.5px,#58ffa7 48.5px,#58ffa7 50.5px,#8eff71 51.5px,#fdff02 52.5px,#67ff98 54.5px,#6bff94 74.5px,#8bff74 84.5px,#b4ff4b 89.5px,#fffc00 96.5px,#ffb300 117.5px,#ff9700 118.5px,#ff9400 123.5px,#ff7a00 124.5px,#ff6800 125.5px,#ff5e00 126.5px,#ff5d00 127.5px,#ff6400 128.5px,#ff7400 129.5px,#ff8c00 130.5px,#ff9c00 131.5px,#ffc000 159.5px,#fffc00 170.5px,#5bffa4 182.5px,#53ffac 183.5px,#5bffa4 191.5px,#bbff44 192.5px,#ff9900 193.5px,#ff9900 194.5px,#bbff44 195.5px,#5fffa0 196.5px,#65ff9a 216.5px,#90ff6f 224.5px,#9fff60 231px)"></div>
<div style="top:77px;height:2px;background:linear-gradient(90deg,#2dffd2 0px,#3dffc2 9.5px,#53ffac 11.5px,#8bff74 15.5px,#b1ff4e 19.5px,#b6ff49 21.5px,#b7ff48 26.5px,#aaff55 28.5px,#72ff8d 35.5px,#55ffaa 40.5px,#54ffab 50.5px,#a1ff5e 51.5px,#ffee00 52.5px,#c6ff39 53.5px,#63ff9c 54.5px,#66ff99 74.5px,#85ff7a 84.5px,#9fff60 87.5px,#f8ff07 95.5px,#fffc00 96.5px,#ffb500 116.5px,#ff9700 117.5px,#ff9700 122.5px,#ff8d00 123.5px,#ff7500 124.5px,#ff6400 125.5px,#ff5c00 126.5px,#ff5c00 127.5px,#ff6400 128.5px,#ff7400 129.5px,#ff8d00 130.5px,#ff9d00 131.5px,#ffc300 158.5px,#fffa00 168.5px,#fbff04 169.5px,#46ffb9 182.5px,#40ffbf 183.5px,#4cffb3 191.5px,#a2ff5d 192.5px,#ffa600 193.5px,#ffa600 194.5px,#a2ff5d 195.5px,#53ffac 196.5px,#5bffa4 215.5px,#8bff74 224.5px,#9bff64 231px)"></div>
<div style="top:79px;height:3px;background:linear-gradient(90deg,#2dffd2 0px,#3dffc2 9.5px,#53ffac 11.5px,#8bff74 15.5px,#b1ff4e 19.5px,#b6ff49 21.5px,#b7ff48 26.5px,#aaff55 28.5px,#72ff8d 35.5px,#55ffaa 40.5px,#54ffab 50.5px,#a1ff5e 51.5px,#ffee00 52.5px,#c6ff39 53.5px,#63ff9c 54.5px,#66ff99 74.5px,#85ff7a 84.5px,#abff54 88.5px,#f9ff06 95.5px,#fff800 97.5px,#ffb300 116.5px,#ff9700 117.5px,#ff9700 122.5px,#ff8700 123.5px,#ff7000 124.5px,#ff6000 125.5px,#ff5900 126.5px,#ff5a00 127.5px,#ff6300 128.5px,#ff7400 129.5px,#ff8e00 130.5px,#ff9d00 131.5px,#ffc000 156.5px,#fffd00 167.5px,#3fffc0 181.5px,#4cffb3 191.5px,#a2ff5d 192.5px,#ffa600 193.5px,#ffa600 194.5px,#a2ff5d 195.5px,#53ffac 196.5px,#5bffa4 215.5px,#8bff74 224.5px,#9bff64 231px)"></div>
<div style="top:82px;height:2px;background:linear-gradient(90deg,#2bffd4 0px,#42ffbd 9.5px,#5bffa4 11.5px,#91ff6e 15.5px,#b3ff4c 19.5px,#b7ff48 23.5px,#b4ff4b 26.5px,#71ff8e 34.5px,#52ffad 39.5px,#4fffb0 50.5px,#bdff42 51.5px,#ffdc00 52.5px,#dfff20 53.5px,#5bffa4 54.5px,#5cffa3 74.5px,#74ff8b 83.5px,#faff05 95.5px,#fff800 97.5px,#ffb500 115.5px,#ff9700 116.5px,#ff9700 122.5px,#ff6b00 124.5px,#ff5d00 125.5px,#ff5700 126.5px,#ff5900 127.5px,#ff6300 128.5px,#ff7500 129.5px,#ff8e00 130.5px,#ff9e00 131.5px,#ffc300 155.5px,#fffa00 165.5px,#faff05 166.5px,#37ffc8 180.5px,#2fffd0 181.5px,#41ffbe 191.5px,#89ff76 192.5px,#ffb300 193.5px,#ffb300 194.5px,#89ff76 195.5px,#4bffb4 196.5px,#59ffa6 216.5px,#84ff7b 224.5px,#94ff6b 231px)"></div>
<div style="top:84px;height:3px;background:linear-gradient(90deg,#2bffd4 0px,#42ffbd 9.5px,#5bffa4 11.5px,#91ff6e 15.5px,#b3ff4c 19.5px,#b7ff48 23.5px,#b4ff4b 26.5px,#71ff8e 34.5px,#52ffad 39.5px,#4fffb0 50.5px,#bdff42 51.5px,#ffdc00 52.5px,#dfff20 53.5px,#5bffa4 54.5px,#5cffa3 74.5px,#75ff8a 83.5px,#fbff04 95.5px,#fff000 99.5px,#ffb300 115.5px,#ff9700 116.5px,#ff9700 122.5px,#ff7b00 123.5px,#ff6600 124.5px,#ff5a00 125.5px,#ff5500 126.5px,#ff5800 127.5px,#ff6200 128.5px,#ff7500 129.5px,#ff8f00 130.5px,#ff9e00 131.5px,#ffc100 153.5px,#fffd00 164.5px,#30ffcf 179.5px,#2fffd0 181.5px,#41ffbe 191.5px,#89ff76 192.5px,#ffb300 193.5px,#ffb300 194.5px,#89ff76 195.5px,#4bffb4 196.5px,#59ffa6 216.5px,#84ff7b 224.5px,#94ff6b 231px)"></div>
<div style="top:87px;height:5px;background:linear-gradient(90deg,#29ffd6 0px,#40ffbf 8.5px,#54ffab 10.5px,#8bff74 14.5px,#b0ff4f 18.5px,#b7ff48 21.5px,#b5ff4a 25.5px,#9eff61 28.5px,#72ff8d 33.5px,#4effb1 39.5px,#4affb5 50.5px,#e3ff1c 51.5px,#ffc000 52.5px,#fffd00 53.5px,#52ffad 54.5px,#52ffad 75.5px,#61ff9e 81.5px,#89ff76 85.5px,#f8ff07 95.5px,#fffc00 96.5px,#ffb400 114.5px,#ff9700 115.5px,#ff9700 121.5px,#ff8700 122.5px,#ff6e00 123.5px,#ff5d00 124.5px,#ff5400 125.5px,#ff5200 126.5px,#ff5800 127.5px,#ff6500 128.5px,#ff7a00 129.5px,#ff9700 130.5px,#ffa100 132.5px,#ffc200 151.5px,#fdff02 162.5px,#1effe1 178.5px,#37ffc8 191.5px,#6fff90 192.5px,#ffc100 193.5px,#ffc100 194.5px,#6fff90 195.5px,#42ffbd 196.5px,#50ffaf 206.5px,#55ffaa 216.5px,#80ff7f 225.5px,#8dff72 231px)"></div>
<div style="top:92px;height:5px;background:linear-gradient(90deg,#27ffd8 0px,#3cffc3 7.5px,#4effb1 9.5px,#85ff7a 13.5px,#adff52 17.5px,#b7ff48 20.5px,#b7ff48 24.5px,#a3ff5c 27.5px,#73ff8c 32.5px,#4dffb2 38.5px,#45ffba 50.5px,#fff300 51.5px,#ffa300 52.5px,#ffd800 53.5px,#6aff95 54.5px,#49ffb6 55.5px,#44ffbb 74.5px,#58ffa7 82.5px,#ffff00 97.5px,#ffb400 113.5px,#ff9700 114.5px,#ff9700 120.5px,#ff6600 122.5px,#ff5700 123.5px,#ff4f00 124.5px,#ff4f00 125.5px,#ff5600 126.5px,#ff7a00 128.5px,#ff9700 129.5px,#ffa100 130.5px,#ffc400 148.5px,#fcff03 159.5px,#0ffff0 176.5px,#14ffeb 181.5px,#2dffd2 191.5px,#53ffac 192.5px,#ffcf00 193.5px,#ffcf00 194.5px,#53ffac 195.5px,#3affc5 196.5px,#4cffb3 205.5px,#50ffaf 216.5px,#76ff89 224.5px,#86ff79 231px)"></div>
<div style="top:97px;height:5px;background:linear-gradient(90deg,#25ffda 0px,#3dffc2 7.5px,#54ffab 9.5px,#8cff73 13.5px,#b2ff4d 17.5px,#b7ff48 19.5px,#b7ff48 24.5px,#a8ff57 26.5px,#74ff8b 31.5px,#48ffb7 38.5px,#40ffbf 49.5px,#75ff8a 50.5px,#ffcd00 51.5px,#ff8700 52.5px,#ffb500 53.5px,#a4ff5b 54.5px,#40ffbf 55.5px,#38ffc7 74.5px,#4affb5 82.5px,#fbff04 98.5px,#ffea00 102.5px,#ffb400 112.5px,#ff9700 113.5px,#ff9700 118.5px,#ff8c00 119.5px,#ff7100 120.5px,#ff5100 122.5px,#ff4b00 123.5px,#ff4c00 124.5px,#ff6400 126.5px,#ff7a00 127.5px,#ff9700 128.5px,#ffa200 129.5px,#ffc600 145.5px,#fffa00 155.5px,#fbff04 156.5px,#01fffe 174.5px,#04fffb 180.5px,#23ffdc 191.5px,#35ffca 192.5px,#ffde00 193.5px,#ffde00 194.5px,#35ffca 195.5px,#35ffca 197.5px,#48ffb7 204.5px,#4bffb4 216.5px,#72ff8d 225.5px,#7fff80 231px)"></div>
<div style="top:102px;height:5px;background:linear-gradient(90deg,#23ffdc 0px,#3fffc0 7.5px,#58ffa7 9.5px,#8fff70 13.5px,#b2ff4d 17.5px,#b4ff4b 24.5px,#a3ff5c 26.5px,#6fff90 31.5px,#45ffba 38.5px,#39ffc6 49.5px,#afff50 50.5px,#ffaa00 51.5px,#ff6b00 52.5px,#ff9500 53.5px,#d8ff27 54.5px,#39ffc6 55.5px,#31ffce 74.5px,#3fffc0 82.5px,#50ffaf 84.5px,#fffc00 100.5px,#ffb400 111.5px,#ff9700 112.5px,#ff9700 117.5px,#ff5700 120.5px,#ff4700 122.5px,#ff4a00 123.5px,#ff5400 124.5px,#ff6500 125.5px,#ff7d00 126.5px,#ff9c00 127.5px,#ffa600 129.5px,#ffc300 141.5px,#fffa00 152.5px,#faff05 153.5px,#00ffff 171.5px,#00f3ff 172.5px,#00fcff 180.5px,#23ffdc 192.5px,#ffed00 193.5px,#ffed00 194.5px,#2cffd3 195.5px,#43ffbc 205.5px,#48ffb7 216.5px,#6dff92 225.5px,#79ff86 231px)"></div>
<div style="top:107px;height:5px;background:linear-gradient(90deg,#21ffde 0px,#41ffbe 7.5px,#86ff79 12.5px,#b0ff4f 17.5px,#b0ff4f 24.5px,#88ff77 28.5px,#64ff9b 32.5px,#44ffbb 37.5px,#33ffcc 49.5px,#e0ff1f 50.5px,#ff8a00 51.5px,#ff5300 52.5px,#ff7800 53.5px,#fff900 54.5px,#32ffcd 55.5px,#29ffd6 74.5px,#36ffc9 83.5px,#feff01 101.5px,#ffb400 110.5px,#ff9700 111.5px,#ff9700 116.5px,#ff6300 118.5px,#ff5100 119.5px,#ff4700 120.5px,#ff4400 121.5px,#ff4800 122.5px,#ff5400 123.5px,#ff6700 124.5px,#ff8100 125.5px,#ffa200 126.5px,#ffc500 138.5px,#fffb00 149.5px,#faff05 150.5px,#00feff 168.5px,#00f0ff 169.5px,#00e9ff 170.5px,#00ecff 176.5px,#03fffc 184.5px,#20ffdf 192.5px,#fffc00 193.5px,#fffc00 194.5px,#2affd5 195.5px,#3effc1 205.5px,#46ffb9 216.5px,#68ff97 225.5px,#72ff8d 231px)"></div>
<div style="top:112px;height:5px;background:linear-gradient(90deg,#1fffe0 0px,#43ffbc 7.5px,#89ff76 12.5px,#afff50 17.5px,#b1ff4e 23.5px,#a4ff5b 25.5px,#6fff90 30.5px,#44ffbb 36.5px,#2cffd3 49.5px,#fffa00 50.5px,#ff7500 51.5px,#ff4300 52.5px,#ff6500 53.5px,#ffd900 54.5px,#5dffa2 55.5px,#2affd5 56.5px,#23ffdc 75.5px,#2cffd3 83.5px,#3cffc3 85.5px,#faff05 102.5px,#ffee00 104.5px,#ffb400 109.5px,#ff9700 110.5px,#ff9400 115.5px,#ff7500 116.5px,#ff5d00 117.5px,#ff4d00 118.5px,#ff4400 119.5px,#ff4200 120.5px,#ff4800 121.5px,#ff5600 122.5px,#ff6b00 123.5px,#ffa500 125.5px,#ffc500 136.5px,#fffa00 146.5px,#fbff04 147.5px,#00ffff 165.5px,#00e4ff 167.5px,#00ddff 174.5px,#02fffd 185.5px,#1effe1 192.5px,#f5ff0a 193.5px,#f5ff0a 194.5px,#27ffd8 195.5px,#3cffc3 209.5px,#43ffbc 216.5px,#62ff9d 225.5px,#6bff94 231px)"></div>
<div style="top:117px;height:5px;background:linear-gradient(90deg,#1dffe2 0px,#3cffc3 6.5px,#63ff9c 9.5px,#8cff73 12.5px,#aeff51 17.5px,#aeff51 23.5px,#9fff60 25.5px,#6aff95 30.5px,#43ffbc 35.5px,#27ffd8 48.5px,#60ff9f 49.5px,#ffda00 50.5px,#ff6100 51.5px,#ff3400 52.5px,#ff5200 53.5px,#ffbc00 54.5px,#8eff71 55.5px,#23ffdc 56.5px,#1cffe3 76.5px,#22ffdd 84.5px,#fffd00 104.5px,#ffbe00 108.5px,#ff9700 109.5px,#ff9700 114.5px,#ff6200 116.5px,#ff4f00 117.5px,#ff4400 118.5px,#ff4000 119.5px,#ff4500 120.5px,#ff5100 121.5px,#ff6400 122.5px,#ff7f00 123.5px,#ffa200 124.5px,#ffae00 127.5px,#ffc600 134.5px,#fcff03 144.5px,#02fffd 162.5px,#00d8ff 165.5px,#00d2ff 174.5px,#01fffe 186.5px,#1cffe3 192.5px,#e8ff17 193.5px,#e8ff17 194.5px,#25ffda 195.5px,#41ffbe 216.5px,#5fffa0 226.5px,#64ff9b 231px)"></div>
<div style="top:122px;height:5px;background:linear-gradient(90deg,#1affe5 0px,#3affc5 6.5px,#87ff78 12.5px,#a5ff5a 17.5px,#a2ff5d 23.5px,#87ff78 26.5px,#4fffb0 32.5px,#35ffca 36.5px,#20ffdf 48.5px,#84ff7b 49.5px,#ffc800 50.5px,#ff5a00 51.5px,#ff3100 52.5px,#ff4c00 53.5px,#ffac00 54.5px,#adff52 55.5px,#1cffe3 56.5px,#18ffe7 77.5px,#20ffdf 85.5px,#feff01 105.5px,#ffb600 109.5px,#ff9700 110.5px,#ff9700 114.5px,#ff5e00 116.5px,#ff4c00 117.5px,#ff4200 118.5px,#ff3f00 119.5px,#ff4400 120.5px,#ff5200 121.5px,#ff6700 122.5px,#ff8400 123.5px,#ffa800 124.5px,#ffc600 132.5px,#fdff02 141.5px,#03fffc 159.5px,#00d8ff 162.5px,#00cbff 173.5px,#00ddff 179.5px,#03fffc 188.5px,#17ffe8 192.5px,#dbff24 193.5px,#dbff24 194.5px,#21ffde 195.5px,#41ffbe 217.5px,#56ffa9 225.5px,#5bffa4 231px)"></div>
<div style="top:127px;height:5px;background:linear-gradient(90deg,#17ffe8 0px,#37ffc8 6.5px,#78ff87 11.5px,#99ff66 16.5px,#94ff6b 23.5px,#43ffbc 32.5px,#2bffd4 36.5px,#19ffe6 48.5px,#a0ff5f 49.5px,#ffbb00 50.5px,#ff5700 51.5px,#ff3100 52.5px,#ff4a00 53.5px,#ffa200 54.5px,#c6ff39 55.5px,#15ffea 56.5px,#15ffea 81.5px,#17ffe8 85.5px,#28ffd7 87.5px,#fbff04 106.5px,#fff200 107.5px,#ffc300 109.5px,#ff9700 110.5px,#ff9700 114.5px,#ff7500 115.5px,#ff5b00 116.5px,#ff4900 117.5px,#ff3f00 118.5px,#ff3e00 119.5px,#ff4400 120.5px,#ff5300 121.5px,#ff6900 122.5px,#ffab00 124.5px,#ffc500 130.5px,#fffe00 138.5px,#05fffa 156.5px,#00e8ff 158.5px,#00ddff 159.5px,#00cdff 165.5px,#00c8ff 175.5px,#00f6ff 187.5px,#01fffe 189.5px,#11ffee 192.5px,#cfff30 193.5px,#cfff30 194.5px,#1effe1 195.5px,#3fffc0 218.5px,#4effb1 226.5px,#51ffae 231px)"></div>
<div style="top:132px;height:5px;background:linear-gradient(90deg,#15ffea 0px,#35ffca 6.5px,#74ff8b 11.5px,#8fff70 16.5px,#86ff79 23.5px,#3effc1 31.5px,#22ffdd 35.5px,#12ffed 48.5px,#a5ff5a 49.5px,#ffb900 50.5px,#ff5600 51.5px,#ff3100 52.5px,#ff4a00 53.5px,#ffa000 54.5px,#caff35 55.5px,#0dfff2 56.5px,#12ffed 86.5px,#e2ff1d 105.5px,#f9ff06 107.5px,#fff600 108.5px,#ff9700 111.5px,#ff9300 114.5px,#ff7100 115.5px,#ff5700 116.5px,#ff4600 117.5px,#ff3d00 118.5px,#ff3d00 119.5px,#ff4400 120.5px,#ff5400 121.5px,#ff6d00 122.5px,#ffae00 124.5px,#ffc700 129.5px,#fffb00 135.5px,#e8ff17 137.5px,#0afff5 153.5px,#00fbff 154.5px,#00e3ff 156.5px,#00c8ff 165.5px,#00c1ff 175.5px,#00efff 187.5px,#00ffff 190.5px,#0bfff4 192.5px,#9fff60 193.5px,#9fff60 194.5px,#1affe5 195.5px,#45ffba 225.5px,#46ffb9 231px)"></div>
<div style="top:137px;height:5px;background:linear-gradient(90deg,#0efff1 0px,#27ffd8 6.5px,#56ffa9 11.5px,#69ff96 16.5px,#63ff9c 22.5px,#15ffea 34.5px,#08fff7 48.5px,#a5ff5a 49.5px,#ffb900 50.5px,#ff5600 51.5px,#ff3100 52.5px,#ff4a00 53.5px,#ffa000 54.5px,#caff35 55.5px,#04fffb 56.5px,#13ffec 88.5px,#17ffe8 89.5px,#fffe00 110.5px,#ffce00 111.5px,#ff9700 112.5px,#ff9100 114.5px,#ff6f00 115.5px,#ff5500 116.5px,#ff4400 117.5px,#ff3b00 118.5px,#ff3b00 119.5px,#ff4400 120.5px,#ff5500 121.5px,#ff6f00 122.5px,#ffb200 124.5px,#ffc100 127.5px,#fff700 132.5px,#fbff04 133.5px,#00ffff 151.5px,#00e9ff 153.5px,#00c5ff 164.5px,#00beff 176.5px,#00edff 188.5px,#04fffb 192.5px,#67ff98 193.5px,#67ff98 194.5px,#14ffeb 195.5px,#23ffdc 204.5px,#3affc5 225.5px,#39ffc6 231px)"></div>
<div style="top:142px;height:5px;background:linear-gradient(90deg,#00fbff 0px,#00f3ff 48.5px,#a5ff5a 49.5px,#ffb900 50.5px,#ff5600 51.5px,#ff3100 52.5px,#ff4a00 53.5px,#ffa000 54.5px,#caff35 55.5px,#00f7ff 56.5px,#03fffc 63.5px,#1affe5 77.5px,#31ffce 105.5px,#26ffd9 115.5px,#00fdff 133.5px,#00dcff 155.5px,#00c4ff 165.5px,#00beff 176.5px,#00faff 192.5px,#08fff7 195.5px,#19ffe6 199.5px,#29ffd6 225.5px,#23ffdc 231px)"></div>
<div style="top:147px;height:3px;background:linear-gradient(90deg,#00f6ff 0px,#00eeff 48.5px,#a5ff5a 49.5px,#ffb900 50.5px,#ff5600 51.5px,#ff3100 52.5px,#ff4a00 53.5px,#ffa000 54.5px,#caff35 55.5px,#00f7ff 56.5px,#00f1ff 57.5px,#03fffc 68.5px,#11ffee 80.5px,#23ffdc 105.5px,#13ffec 118.5px,#00fcff 131.5px,#00daff 155.5px,#00c4ff 165.5px,#00beff 176.5px,#00ffff 194.5px,#14ffeb 200.5px,#23ffdc 225.5px,#20ffdf 231px)"></div>
<div style="top:150px;height:2px;background:linear-gradient(90deg,#00f6ff 0px,#00f4ff 10.5px,#0bfff4 11.5px,#3fffc0 13.5px,#66ff99 15.5px,#7eff81 17.5px,#88ff77 19.5px,#85ff7a 21.5px,#73ff8c 23.5px,#54ffab 25.5px,#27ffd8 27.5px,#0bfff4 28.5px,#00f1ff 29.5px,#00eeff 48.5px,#a5ff5a 49.5px,#ffb900 50.5px,#ff5600 51.5px,#ff3100 52.5px,#ff4a00 53.5px,#ffa000 54.5px,#caff35 55.5px,#00f7ff 56.5px,#00f1ff 57.5px,#03fffc 68.5px,#11ffee 80.5px,#23ffdc 105.5px,#26ffd9 107.5px,#68ff97 109.5px,#9cff63 111.5px,#c2ff3d 113.5px,#ebff14 116.5px,#ffd100 117.5px,#ffa600 118.5px,#ff9000 119.5px,#ff9000 120.5px,#ffa600 121.5px,#ffd100 122.5px,#ebff14 123.5px,#9cff63 124.5px,#68ff97 126.5px,#26ffd9 128.5px,#00ffff 129.5px,#00daff 155.5px,#00c4ff 165.5px,#00beff 176.5px,#00ffff 194.5px,#14ffeb 200.5px,#23ffdc 225.5px,#20ffdf 231px)"></div>
<div style="top:152px;height:1px;background:linear-gradient(90deg,#00f0ff 0px,#00efff 10.5px,#0bfff4 11.5px,#3fffc0 13.5px,#66ff99 15.5px,#7eff81 17.5px,#88ff77 19.5px,#85ff7a 21.5px,#73ff8c 23.5px,#54ffab 25.5px,#27ffd8 27.5px,#0bfff4 28.5px,#00ecff 29.5px,#00e8ff 48.5px,#82ff7d 49.5px,#ffc900 50.5px,#ff5a00 51.5px,#ff3100 52.5px,#ff4d00 53.5px,#ffad00 54.5px,#acff53 55.5px,#00e9ff 56.5px,#02fffd 75.5px,#16ffe9 105.5px,#15ffea 106.5px,#26ffd9 107.5px,#68ff97 109.5px,#9cff63 111.5px,#c2ff3d 113.5px,#ebff14 116.5px,#ffd100 117.5px,#ffa600 118.5px,#ff9000 119.5px,#ff9000 120.5px,#ffa600 121.5px,#ffd100 122.5px,#ebff14 123.5px,#9cff63 124.5px,#68ff97 126.5px,#26ffd9 128.5px,#00ffff 129.5px,#00f7ff 130.5px,#00e4ff 148.5px,#00c3ff 166.5px,#00beff 176.5px,#00ffff 195.5px,#14ffeb 203.5px,#1effe1 227.5px,#1dffe2 231px)"></div>
<div style="top:153px;height:4px;background:linear-gradient(90deg,#00f0ff 0px,#00e8ff 48.5px,#82ff7d 49.5px,#ffc900 50.5px,#ff5a00 51.5px,#ff3100 52.5px,#ff4d00 53.5px,#ffad00 54.5px,#acff53 55.5px,#00e9ff 56.5px,#02fffd 75.5px,#16ffe9 105.5px,#00fdff 125.5px,#00e4ff 148.5px,#00c3ff 166.5px,#00beff 176.5px,#00ffff 195.5px,#14ffeb 203.5px,#1effe1 227.5px,#1dffe2 231px)"></div>
<div style="top:157px;height:5px;background:linear-gradient(90deg,#00ebff 0px,#00e3ff 48.5px,#4fffb0 49.5px,#ffe000 50.5px,#ff6100 51.5px,#ff3100 52.5px,#ff5100 53.5px,#ffc000 54.5px,#7fff80 55.5px,#00e3ff 56.5px,#00fdff 85.5px,#07fff8 106.5px,#00fbff 118.5px,#00e6ff 146.5px,#00c2ff 167.5px,#00beff 176.5px,#00f6ff 193.5px,#04fffb 198.5px,#11ffee 205.5px,#1affe5 231px)"></div>
<div style="top:162px;height:5px;background:linear-gradient(90deg,#00eaff 0px,#00e2ff 48.5px,#0ffff0 49.5px,#fffe00 50.5px,#ff6900 51.5px,#ff3100 52.5px,#ff5600 53.5px,#ffd800 54.5px,#47ffb8 55.5px,#00e2ff 56.5px,#00fbff 93.5px,#00fdff 109.5px,#00e6ff 146.5px,#00c4ff 167.5px,#00beff 176.5px,#00f0ff 191.5px,#03fffc 199.5px,#0ffff0 207.5px,#19ffe6 231px)"></div>
<div style="top:167px;height:5px;background:linear-gradient(90deg,#00eaff 0px,#00e2ff 49.5px,#cfff30 50.5px,#ff7f00 51.5px,#ff3d00 52.5px,#ff6900 53.5px,#fbff04 54.5px,#00f2ff 55.5px,#00e2ff 56.5px,#00f9ff 106.5px,#00e8ff 145.5px,#00c1ff 171.5px,#00beff 176.5px,#00edff 190.5px,#02fffd 200.5px,#11ffee 212.5px,#19ffe6 231px)"></div>
<div style="top:172px;height:5px;background:linear-gradient(90deg,#00eaff 0px,#00e2ff 49.5px,#79ff86 50.5px,#ffa100 51.5px,#ff4c00 52.5px,#ff8500 53.5px,#b2ff4d 54.5px,#00e1ff 55.5px,#00f3ff 114.5px,#00edff 138.5px,#00dcff 153.5px,#00bcff 175.5px,#00efff 191.5px,#03fffc 202.5px,#14ffeb 219.5px,#19ffe6 231px)"></div>
<div style="top:177px;height:4px;background:linear-gradient(90deg,#00eaff 0px,#00e2ff 49.5px,#00f6ff 50.5px,#ffcf00 51.5px,#ff5b00 52.5px,#ffa800 53.5px,#45ffba 54.5px,#00e1ff 55.5px,#00f2ff 127.5px,#00e4ff 148.5px,#00beff 176.5px,#00ecff 190.5px,#03fffc 204.5px,#13ffec 218.5px,#19ffe6 231px)"></div>
<div style="top:181px;height:5px;background:linear-gradient(90deg,#007bff 0px,#007bff 231px)"></div>
</div>
<div class="cb" style="left:274px;top:20px;width:16px;height:186px"></div>
<div class="cb" style="left:635px;top:20px;width:15.5px;height:186px"></div>
<svg width="685" height="512" font-family="Liberation Sans, sans-serif">
<defs><clipPath id="cc"><rect x="132.4" y="279.1" width="419.6" height="183.3"/></clipPath></defs>
<polyline points="132.4,460.8 132.9,460.6 133.4,460.5 133.9,460.3 134.4,459.9 134.9,460.3 135.4,460.5 135.9,461.0 136.4,460.4 136.9,460.3 137.4,460.5 137.9,460.4 138.4,459.5 138.9,459.8 139.4,460.0 139.9,460.7 140.4,459.7 140.9,460.4 141.4,460.3 141.9,460.7 142.4,460.9 142.9,460.7 143.4,460.2 143.9,459.1 144.4,458.1 144.9,459.2 145.4,459.1 145.9,459.8 146.4,459.7 146.9,459.2 147.4,459.7 147.9,458.3 148.4,458.7 148.9,457.9 149.4,459.4 149.9,460.4 150.4,460.7 150.9,460.4 151.4,459.5 151.9,459.9 152.4,459.1 152.9,458.4 153.4,457.4 153.9,457.8 154.4,459.5 154.9,460.3 155.4,459.9 155.9,459.7 156.4,459.6 156.9,459.9 157.4,459.1 157.9,458.9 158.4,458.7 158.9,457.9 159.4,458.1 159.9,458.1 160.4,459.2 160.9,458.8 161.4,458.0 161.9,457.4 162.4,458.2 162.9,458.8 163.4,458.5 163.9,457.2 164.4,456.8 164.9,457.1 165.4,457.0 165.9,458.1 166.4,458.1 166.9,458.6 167.4,458.5 167.9,459.3 168.4,459.1 168.9,458.6 169.4,458.2 169.9,458.2 170.4,457.3 170.9,457.2 171.4,457.6 171.9,458.6 172.4,457.8 172.9,457.3 173.4,456.9 173.9,457.1 174.4,457.8 174.9,458.6 175.4,459.0 175.9,458.7 176.4,458.3 176.9,458.0 177.4,457.7 177.9,457.1 178.4,457.0 178.9,458.0 179.4,458.7 179.9,458.5 180.4,457.3 180.9,456.5 181.4,456.8 181.9,457.2 182.4,456.9 182.9,456.9 183.4,456.4 183.9,457.7 184.4,457.5 184.9,458.4 185.4,457.6 185.9,457.4 186.4,456.7 186.9,457.3 187.4,457.7 187.9,457.0 188.4,456.5 188.9,456.3 189.4,456.6 189.9,456.2 190.4,456.9 190.9,456.9 191.4,456.7 191.9,456.2 192.4,456.4 192.9,456.7 193.4,456.7 193.9,456.8 194.4,457.0 194.9,457.0 195.4,456.9 195.9,456.4 196.4,455.8 196.9,455.4 197.4,455.7 197.9,455.3 198.4,454.7 198.9,454.6 199.4,454.5 199.9,454.3 200.4,454.4 200.9,454.6 201.4,455.6 201.9,455.2 202.4,455.0 202.9,454.2 203.4,454.1 203.9,454.4 204.4,454.6 204.9,454.6 205.4,454.0 205.9,454.3 206.4,453.6 206.9,454.1 207.4,454.4 207.9,455.6 208.4,456.3 208.9,455.3 209.4,455.1 209.9,454.8 210.4,455.9 210.9,455.1 211.4,454.7 211.9,455.0 212.4,454.7 212.9,454.6 213.4,454.3 213.9,454.5 214.4,454.5 214.9,453.5 215.4,453.4 215.9,452.7 216.4,453.2 216.9,453.4 217.4,454.1 217.9,453.5 218.4,453.4 218.9,453.3 219.4,453.9 219.9,453.3 220.4,453.1 220.9,452.5 221.4,453.1 221.9,452.9 222.4,453.5 222.9,453.3 223.4,452.2 223.9,451.0 224.4,451.1 224.9,451.6 225.4,452.5 225.9,452.2 226.4,451.8 226.9,451.5 227.4,450.9 227.9,450.1 228.4,450.3 228.9,449.6 229.4,450.5 229.9,449.8 230.4,450.5 230.9,449.2 231.4,449.0 231.9,448.1 232.4,448.0 232.9,447.1 233.4,447.8 233.9,448.3 234.4,448.6 234.9,447.8 235.4,447.4 235.9,446.3 236.4,446.1 236.9,446.1 237.4,446.2 237.9,446.3 238.4,445.5 238.9,445.0 239.4,444.5 239.9,444.3 240.4,444.3 240.9,443.9 241.4,444.2 241.9,443.2 242.4,442.4 242.9,440.4 243.4,439.8 243.9,439.5 244.4,438.8 244.9,438.1 245.4,437.3 245.9,436.9 246.4,436.0 246.9,435.4 247.4,434.8 247.9,434.5 248.4,433.9 248.9,433.6 249.4,432.6 249.9,431.1 250.4,430.2 250.9,429.5 251.4,428.5 251.9,427.9 252.4,427.1 252.9,426.6 253.4,425.5 253.9,424.8 254.4,423.8 254.9,423.0 255.4,421.8 255.9,421.0 256.4,420.0 256.9,419.3 257.4,418.4 257.9,417.5 258.4,416.8 258.9,415.7 259.4,414.7 259.9,413.7 260.4,413.0 260.9,412.3 261.4,411.5 261.9,410.4 262.4,409.4 262.9,408.5 263.4,407.8 263.9,406.8 264.4,405.7 264.9,404.7 265.4,403.9 265.9,402.8 266.4,402.0 266.9,401.0 267.4,399.9 267.9,398.7 268.4,397.7 268.9,396.6 269.4,395.4 269.9,394.0 270.4,393.0 270.9,391.9 271.4,390.8 271.9,389.4 272.4,388.3 272.9,387.5 273.4,386.5 273.9,385.4 274.4,383.9 274.9,382.5 275.4,381.3 275.9,380.1 276.4,378.8 276.9,377.3 277.4,375.5 277.9,373.8 278.4,372.1 278.9,370.8 279.4,369.2 279.9,367.6 280.4,365.6 280.9,363.9 281.4,361.9 281.9,360.1 282.4,358.3 282.9,356.7 283.4,355.2 283.9,353.4 284.4,351.8 284.9,350.0 285.4,348.2 285.9,346.4 286.4,345.0 286.9,343.9 287.4,342.7 287.9,341.4 288.4,339.8 288.9,338.6 289.4,337.1 289.9,335.7 290.4,334.1 290.9,333.1 291.4,332.0 291.9,330.9 292.4,330.0 292.9,329.5 293.4,329.0 293.9,328.5 294.4,328.3 294.9,328.3 295.4,328.7 295.9,328.9 296.4,329.4 296.9,330.1 297.4,330.8 297.9,331.7 298.4,332.5 298.9,333.6 299.4,334.5 299.9,336.1 300.4,337.7 300.9,339.8 301.4,341.5 301.9,343.2 302.4,344.8 302.9,346.5 303.4,348.2 303.9,349.7 304.4,351.1 304.9,352.5 305.4,353.5 305.9,354.8 306.4,355.9 306.9,357.0 307.4,357.4 307.9,358.1 308.4,359.0 308.9,359.8 309.4,360.7 309.9,361.4 310.4,362.2 310.9,363.0 311.4,363.7 311.9,364.4 312.4,364.9 312.9,365.2 313.4,365.7 313.9,366.2 314.4,366.9 314.9,367.4 315.4,367.6 315.9,368.1 316.4,368.3 316.9,369.0 317.4,369.5 317.9,370.1 318.4,370.4 318.9,370.5 319.4,371.2 319.9,372.0 320.4,372.9 320.9,373.7 321.4,374.5 321.9,375.4 322.4,376.3 322.9,377.1 323.4,378.4 323.9,380.3 324.4,383.1 324.9,386.2 325.4,389.3 325.9,392.2 326.4,394.8 326.9,396.9 327.4,399.0 327.9,400.8 328.4,403.0 328.9,405.0 329.4,407.1 329.9,409.0 330.4,411.0 330.9,412.8 331.4,414.6 331.9,416.1 332.4,417.9 332.9,419.6 333.4,421.2 333.9,423.0 334.4,424.5 334.9,426.3 335.4,427.6 335.9,429.3 336.4,430.9 336.9,432.4 337.4,433.7 337.9,435.3 338.4,437.3 338.9,439.2 339.4,440.8 339.9,442.2 340.4,443.1 340.9,444.2 341.4,445.0 341.9,446.3 342.4,447.2 342.9,448.1 343.4,448.8 343.9,449.4 344.4,450.2 344.9,450.8 345.4,451.5 345.9,451.9 346.4,452.5 346.9,453.0 347.4,453.5 347.9,453.9 348.4,454.2 348.9,454.5 349.4,454.8 349.9,455.3 350.4,455.5 350.9,455.8 351.4,456.2 351.9,456.9 352.4,457.2 352.9,457.6 353.4,457.6 353.9,458.2 354.4,458.5 354.9,459.0 355.4,459.0 355.9,459.1 356.4,459.2 356.9,459.8 357.4,460.0 357.9,460.2 358.4,460.5 358.9,460.9 359.4,460.8 359.9,460.8 360.4,460.7 360.9,461.1 361.4,461.2 361.9,461.1 362.4,461.1 362.9,461.3 363.4,461.6 363.9,461.8 364.4,461.7 364.9,461.6 365.4,461.6 365.9,461.9 366.4,461.9 366.9,461.9 367.4,461.9 367.9,461.8 368.4,462.0 368.9,462.1 369.4,462.1 369.9,462.1 370.4,461.9 370.9,462.2 371.4,462.2 371.9,462.3 372.4,462.4 372.9,462.2 373.4,462.2 373.9,462.1 374.4,462.1 374.9,462.2 375.4,462.3 375.9,462.3 376.4,462.5 376.9,462.6 377.4,462.7 377.9,462.6 378.4,462.6 378.9,462.9 379.4,463.2 379.9,463.1 380.4,463.1 380.9,463.4 381.4,463.4 381.9,463.6 382.4,463.5 382.9,463.8 383.4,463.9 383.9,463.9 384.4,464.1 384.9,464.3 385.4,464.6 385.9,464.6 386.4,464.3 386.9,464.2 387.4,464.2 387.9,464.6 388.4,464.8 388.9,465.0 389.4,464.8 389.9,464.8 390.4,464.9 390.9,465.0 391.4,465.4 391.9,465.5 392.4,465.6 392.9,465.5 393.4,465.9 393.9,466.2 394.4,466.2 394.9,466.1 395.4,466.1 395.9,466.3 396.4,466.4 396.9,466.3 397.4,466.2 397.9,466.3 398.4,466.4 398.9,466.7 399.4,466.8 399.9,466.9 400.4,466.8 400.9,466.8 401.4,467.0 401.9,467.2 402.4,467.2 402.9,467.1 403.4,467.1 403.9,467.3 404.4,467.6 404.9,467.7 405.4,467.8 405.9,468.0 406.4,467.9 406.9,468.0 407.4,467.9 407.9,467.9 408.4,468.1 408.9,468.3 409.4,468.3 409.9,468.1 410.4,468.2 410.9,468.6 411.4,468.7 411.9,468.7 412.4,468.5 412.9,468.9 413.4,469.1 413.9,469.4 414.4,469.2 414.9,469.4 415.4,469.4 415.9,469.3 416.4,469.3 416.9,469.3 417.4,469.6 417.9,469.5 418.4,469.4 418.9,469.4 419.4,469.7 419.9,469.8 420.4,469.7 420.9,469.6 421.4,469.5 421.9,469.9 422.4,470.0 422.9,470.2 423.4,470.1 423.9,469.9 424.4,470.0 424.9,470.1 425.4,470.3 425.9,470.2 426.4,470.1 426.9,470.0 427.4,470.1 427.9,469.9 428.4,469.9 428.9,469.9 429.4,470.0 429.9,470.3 430.4,470.2 430.9,470.2 431.4,469.8 431.9,469.6 432.4,469.4 432.9,469.6 433.4,469.7 433.9,470.0 434.4,470.1 434.9,470.2 435.4,470.2 435.9,470.1 436.4,470.2 436.9,470.0 437.4,470.0 437.9,469.8 438.4,469.8 438.9,469.7 439.4,469.7 439.9,469.7 440.4,469.7 440.9,469.7 441.4,469.7 441.9,469.7 442.4,469.5 442.9,469.5 443.4,469.4 443.9,469.4 444.4,469.4 444.9,469.1 445.4,469.3 445.9,469.2 446.4,469.3 446.9,469.2 447.4,469.2 447.9,469.2 448.4,468.9 448.9,468.8 449.4,468.5 449.9,468.6 450.4,468.7 450.9,468.8 451.4,468.9 451.9,468.6 452.4,468.4 452.9,468.2 453.4,468.3 453.9,468.4 454.4,468.4 454.9,468.3 455.4,468.2 455.9,468.1 456.4,468.2 456.9,468.0 457.4,468.0 457.9,468.0 458.4,468.0 458.9,468.0 459.4,467.6 459.9,467.8 460.4,467.4 460.9,467.2 461.4,466.8 461.9,467.2 462.4,467.3 462.9,467.3 463.4,466.9 463.9,466.8 464.4,466.8 464.9,466.8 465.4,466.5 465.9,466.3 466.4,466.3 466.9,466.4 467.4,466.5 467.9,466.4 468.4,466.0 468.9,466.0 469.4,465.8 469.9,465.9 470.4,465.9 470.9,465.8 471.4,465.6 471.9,465.6 472.4,465.6 472.9,465.5 473.4,464.9 473.9,464.7 474.4,464.7 474.9,465.0 475.4,464.8 475.9,464.5 476.4,464.2 476.9,464.2 477.4,464.0 477.9,463.9 478.4,463.5 478.9,463.5 479.4,463.2 479.9,463.2 480.4,462.5 480.9,462.8 481.4,462.7 481.9,463.1 482.4,462.4 482.9,462.5 483.4,462.1 483.9,462.4 484.4,462.4 484.9,462.2 485.4,462.6 485.9,461.7 486.4,461.2 486.9,461.1 487.4,461.9 487.9,462.3 488.4,462.0 488.9,461.0 489.4,460.2 489.9,459.7 490.4,460.2 490.9,459.9 491.4,459.7 491.9,458.3 492.4,458.9 492.9,459.2 493.4,459.3 493.9,459.0 494.4,459.0 494.9,459.3 495.4,458.8 495.9,457.8 496.4,457.0 496.9,457.5 497.4,457.5 497.9,458.4 498.4,458.3 498.9,458.2 499.4,457.5 499.9,457.3 500.4,457.4 500.9,457.5 501.4,456.4 501.9,456.5 502.4,455.9 502.9,455.5 503.4,454.8 503.9,455.0 504.4,456.3 504.9,456.2 505.4,455.4 505.9,455.2 506.4,455.2 506.9,455.3 507.4,454.0 507.9,453.3 508.4,453.7 508.9,453.7 509.4,453.6 509.9,452.6 510.4,453.0 510.9,452.7 511.4,452.7 511.9,452.0 512.4,451.9 512.9,451.1 513.4,450.9 513.9,451.0 514.4,450.9 514.9,449.9 515.4,448.5 515.9,448.1 516.4,447.8 516.9,447.6 517.4,446.8 517.9,445.6 518.4,445.0 518.9,443.7 519.4,442.5 519.9,440.4 520.4,438.4 520.9,435.4 521.4,430.3 521.9,425.0 522.4,419.7 522.9,415.9 523.4,413.5 523.9,415.8 524.4,420.9 524.9,427.8 525.4,433.8 525.9,437.6 526.4,439.6 526.9,440.9 527.4,441.9 527.9,442.5 528.4,443.0 528.9,444.1 529.4,444.7 529.9,444.9 530.4,445.1 530.9,445.1 531.4,445.0 531.9,444.2 532.4,444.3 532.9,444.5 533.4,445.0 533.9,444.7 534.4,444.2 534.9,444.1 535.4,444.3 535.9,444.5 536.4,444.4 536.9,444.1 537.4,444.1 537.9,444.1 538.4,443.9 538.9,443.9 539.4,443.9 539.9,444.2 540.4,443.7 540.9,443.2 541.4,442.3 541.9,442.4 542.4,441.5 542.9,441.6 543.4,441.0 543.9,441.8 544.4,441.7 544.9,441.3 545.4,440.3 545.9,439.8 546.4,439.9 546.9,440.2 547.4,440.1 547.9,439.6 548.4,439.3 548.9,439.4 549.4,439.0 549.9,438.8 550.4,438.7 550.9,439.0 551.4,438.6 551.9,437.9" fill="none" stroke="#0072bd" stroke-width="1.6" stroke-linejoin="round" clip-path="url(#cc)"/>
<polyline points="485.0,462.1 485.5,461.8 486.0,461.7 486.5,461.8 487.0,461.6 487.5,461.3 488.0,461.2 488.5,461.1 489.0,460.6 489.5,460.1 490.0,459.9 490.5,459.7 491.0,460.4 491.5,460.7 492.0,460.8 492.5,460.3 493.0,459.7 493.5,459.5 494.0,459.7 494.5,459.0 495.0,458.5 495.5,457.6 496.0,458.0 496.5,458.1 497.0,458.3 497.5,457.8 498.0,457.5 498.5,457.3 499.0,457.2 499.5,457.1 500.0,457.5 500.5,457.5 501.0,457.2 501.5,456.5 502.0,456.6 502.5,456.7 503.0,456.7 503.5,456.4 504.0,456.5 504.5,455.9 505.0,455.3 505.5,454.3 506.0,454.5 506.5,454.4 507.0,454.4 507.5,453.8 508.0,453.9 508.5,453.8 509.0,453.6 509.5,453.4 510.0,452.9 510.5,452.5 511.0,452.5 511.5,452.4 512.0,452.2 512.5,451.1 513.0,450.8 513.5,450.8 514.0,450.8 514.5,450.6 515.0,449.9 515.5,448.9 516.0,448.3 516.5,448.2 517.0,448.2 517.5,447.4 518.0,446.4 518.5,445.0 519.0,443.7" fill="none" stroke="#0072bd" stroke-width="2.4" stroke-linejoin="round" clip-path="url(#cc)"/>
<polyline points="527.0,440.8 527.5,442.5 528.0,443.8 528.5,444.4 529.0,444.3 529.5,444.2 530.0,444.3 530.5,444.5 531.0,444.8 531.5,445.0 532.0,445.1 532.5,445.0 533.0,444.8 533.5,444.6 534.0,444.9 534.5,445.2 535.0,445.1 535.5,444.4 536.0,443.9 536.5,444.1 537.0,444.5 537.5,444.8 538.0,444.9 538.5,444.7 539.0,444.6 539.5,444.3 540.0,444.0 540.5,443.4 541.0,442.6 541.5,442.2 542.0,442.5 542.5,442.7 543.0,442.3 543.5,441.9 544.0,441.9 544.5,441.7 545.0,441.6 545.5,441.5 546.0,441.6 546.5,440.8 547.0,440.5 547.5,440.2 548.0,440.3 548.5,440.2 549.0,440.1 549.5,439.7 550.0,439.3 550.5,438.4 551.0,438.2 551.5,437.9 552.0,437.8" fill="none" stroke="#0072bd" stroke-width="2.4" stroke-linejoin="round" clip-path="url(#cc)"/>
<polyline points="132.4,449.6 132.9,449.6 133.4,449.5 133.9,449.7 134.4,450.1 134.9,450.4 135.4,450.0 135.9,449.6 136.4,449.2 136.9,449.3 137.4,450.0 137.9,450.4 138.4,450.6 138.9,450.3 139.4,449.4 139.9,448.9 140.4,448.4 140.9,449.1 141.4,449.6 141.9,449.4 142.4,449.1 142.9,448.7 143.4,448.7 143.9,448.5 144.4,448.1 144.9,448.4 145.4,448.3 145.9,448.7 146.4,448.5 146.9,448.8 147.4,448.9 147.9,448.7 148.4,448.2 148.9,447.8 149.4,447.7 149.9,447.7 150.4,447.5 150.9,447.7 151.4,447.5 151.9,447.4 152.4,447.5 152.9,448.1 153.4,447.6 153.9,447.8 154.4,447.6 154.9,447.8 155.4,447.0 155.9,446.9 156.4,447.0 156.9,447.3 157.4,447.4 157.9,447.4 158.4,447.3 158.9,447.1 159.4,447.4 159.9,447.8 160.4,448.0 160.9,447.8 161.4,447.2 161.9,447.3 162.4,447.3 162.9,447.4 163.4,446.4 163.9,446.3 164.4,445.9 164.9,446.0 165.4,445.3 165.9,445.2 166.4,445.2 166.9,445.0 167.4,444.7 167.9,444.5 168.4,444.4 168.9,444.1 169.4,443.7 169.9,443.5 170.4,443.8 170.9,443.5 171.4,443.9 171.9,443.7 172.4,443.4 172.9,443.0 173.4,442.4 173.9,442.2 174.4,441.9 174.9,441.7 175.4,441.9 175.9,442.0 176.4,441.6 176.9,441.0 177.4,440.6 177.9,441.0 178.4,440.2 178.9,440.2 179.4,439.5 179.9,440.3 180.4,439.6 180.9,439.2 181.4,438.5 181.9,438.6 182.4,438.6 182.9,437.6 183.4,437.2 183.9,436.5 184.4,436.5 184.9,435.7 185.4,435.0 185.9,434.6 186.4,434.3 186.9,434.4 187.4,434.5 187.9,434.4 188.4,433.7 188.9,433.3 189.4,433.4 189.9,433.9 190.4,433.6 190.9,433.2 191.4,432.8 191.9,432.8 192.4,432.8 192.9,432.0 193.4,431.0 193.9,430.6 194.4,430.8 194.9,431.1 195.4,429.3 195.9,428.3 196.4,426.2 196.9,426.8 197.4,426.5 197.9,427.2 198.4,426.4 198.9,426.4 199.4,425.8 199.9,425.7 200.4,424.9 200.9,424.6 201.4,423.9 201.9,423.3 202.4,422.2 202.9,421.8 203.4,421.5 203.9,421.3 204.4,420.7 204.9,420.3 205.4,419.3 205.9,418.5 206.4,417.5 206.9,417.1 207.4,416.7 207.9,416.0 208.4,415.7 208.9,415.1 209.4,415.0 209.9,414.7 210.4,414.9 210.9,414.0 211.4,413.5 211.9,411.7 212.4,411.5 212.9,411.3 213.4,411.6 213.9,410.6 214.4,409.6 214.9,409.0 215.4,408.7 215.9,408.5 216.4,407.2 216.9,407.1 217.4,406.6 217.9,406.5 218.4,405.2 218.9,404.2 219.4,403.5 219.9,403.3 220.4,402.8 220.9,402.1 221.4,401.5 221.9,401.5 222.4,400.3 222.9,399.2 223.4,397.6 223.9,397.5 224.4,396.9 224.9,397.1 225.4,396.8 225.9,396.8 226.4,395.8 226.9,395.3 227.4,394.9 227.9,394.8 228.4,394.0 228.9,393.6 229.4,392.5 229.9,392.7 230.4,390.9 230.9,390.7 231.4,389.4 231.9,390.3 232.4,389.5 232.9,390.0 233.4,388.7 233.9,389.5 234.4,388.5 234.9,388.5 235.4,387.5 235.9,387.6 236.4,387.4 236.9,386.0 237.4,385.1 237.9,384.4 238.4,384.1 238.9,383.4 239.4,382.4 239.9,382.5 240.4,381.8 240.9,381.4 241.4,381.0 241.9,380.0 242.4,379.7 242.9,378.8 243.4,378.5 243.9,378.5 244.4,378.2 244.9,377.3 245.4,376.0 245.9,375.1 246.4,374.9 246.9,374.4 247.4,374.1 247.9,373.6 248.4,372.8 248.9,372.3 249.4,371.8 249.9,371.2 250.4,370.6 250.9,369.9 251.4,369.5 251.9,369.1 252.4,368.5 252.9,367.8 253.4,367.1 253.9,366.6 254.4,366.0 254.9,365.6 255.4,365.1 255.9,364.5 256.4,363.8 256.9,363.1 257.4,362.5 257.9,361.9 258.4,361.2 258.9,360.5 259.4,359.7 259.9,359.0 260.4,358.0 260.9,357.2 261.4,356.2 261.9,355.3 262.4,354.5 262.9,353.6 263.4,352.6 263.9,351.6 264.4,350.7 264.9,349.9 265.4,348.8 265.9,347.7 266.4,346.6 266.9,345.5 267.4,344.5 267.9,343.4 268.4,342.4 268.9,341.2 269.4,340.4 269.9,339.5 270.4,338.6 270.9,337.6 271.4,336.8 271.9,336.1 272.4,335.2 272.9,334.5 273.4,333.7 273.9,333.1 274.4,332.3 274.9,331.7 275.4,331.1 275.9,330.4 276.4,329.7 276.9,328.8 277.4,328.1 277.9,327.4 278.4,326.6 278.9,325.9 279.4,325.1 279.9,324.4 280.4,323.7 280.9,323.0 281.4,322.2 281.9,321.4 282.4,320.5 282.9,319.8 283.4,318.8 283.9,317.8 284.4,316.6 284.9,315.6 285.4,314.4 285.9,313.1 286.4,311.8 286.9,310.4 287.4,309.1 287.9,307.9 288.4,306.9 288.9,305.8 289.4,304.6 289.9,303.6 290.4,302.6 290.9,302.0 291.4,301.7 291.9,301.4 292.4,301.3 292.9,301.0 293.4,300.8 293.9,300.5 294.4,300.7 294.9,301.0 295.4,301.4 295.9,301.7 296.4,302.2 296.9,302.7 297.4,303.1 297.9,303.7 298.4,304.4 298.9,305.3 299.4,306.1 299.9,306.9 300.4,307.7 300.9,308.6 301.4,309.4 301.9,310.1 302.4,310.7 302.9,311.3 303.4,312.1 303.9,312.7 304.4,313.5 304.9,313.9 305.4,314.6 305.9,315.1 306.4,315.4 306.9,315.6 307.4,315.6 307.9,316.0 308.4,316.2 308.9,316.4 309.4,316.4 309.9,316.7 310.4,317.0 310.9,317.2 311.4,317.1 311.9,317.0 312.4,317.0 312.9,316.9 313.4,316.6 313.9,316.1 314.4,315.7 314.9,315.4 315.4,315.0 315.9,314.7 316.4,314.1 316.9,313.7 317.4,313.4 317.9,313.0 318.4,312.4 318.9,311.7 319.4,311.3 319.9,310.7 320.4,310.2 320.9,309.6 321.4,309.2 321.9,309.0 322.4,308.8 322.9,308.5 323.4,308.4 323.9,308.5 324.4,309.0 324.9,310.0 325.4,311.1 325.9,312.4 326.4,313.5 326.9,314.5 327.4,315.8 327.9,317.1 328.4,318.7 328.9,320.1 329.4,321.5 329.9,322.8 330.4,324.1 330.9,325.4 331.4,326.8 331.9,328.1 332.4,329.3 332.9,330.4 333.4,331.4 333.9,332.3 334.4,333.3 334.9,334.1 335.4,334.9 335.9,335.7 336.4,336.5 336.9,337.4 337.4,338.0 337.9,338.8 338.4,339.5 338.9,340.4 339.4,341.1 339.9,341.6 340.4,342.2 340.9,342.7 341.4,343.6 341.9,344.2 342.4,344.9 342.9,345.2 343.4,345.7 343.9,346.1 344.4,346.8 344.9,347.5 345.4,348.0 345.9,348.3 346.4,348.8 346.9,349.2 347.4,349.9 347.9,350.3 348.4,350.9 348.9,351.2 349.4,351.4 349.9,351.9 350.4,352.3 350.9,352.8 351.4,352.9 351.9,353.3 352.4,353.5 352.9,353.9 353.4,354.3 353.9,354.8 354.4,355.3 354.9,355.7 355.4,356.0 355.9,356.3 356.4,356.8 356.9,357.1 357.4,357.5 357.9,357.6 358.4,357.9 358.9,358.2 359.4,358.6 359.9,359.2 360.4,359.7 360.9,359.9 361.4,359.9 361.9,360.0 362.4,360.5 362.9,360.9 363.4,361.2 363.9,361.2 364.4,361.4 364.9,361.4 365.4,361.6 365.9,362.0 366.4,362.5 366.9,362.7 367.4,362.9 367.9,363.2 368.4,363.6 368.9,363.8 369.4,364.0 369.9,364.3 370.4,364.5 370.9,364.7 371.4,364.9 371.9,365.1 372.4,365.3 372.9,365.7 373.4,366.0 373.9,366.3 374.4,366.6 374.9,366.9 375.4,367.2 375.9,367.4 376.4,367.5 376.9,367.9 377.4,368.1 377.9,368.4 378.4,368.5 378.9,368.9 379.4,369.3 379.9,369.8 380.4,370.1 380.9,370.3 381.4,370.7 381.9,371.1 382.4,371.6 382.9,371.9 383.4,372.3 383.9,372.7 384.4,373.0 384.9,373.2 385.4,373.4 385.9,373.7 386.4,374.0 386.9,374.4 387.4,374.7 387.9,375.1 388.4,375.4 388.9,375.7 389.4,376.1 389.9,376.3 390.4,376.6 390.9,376.8 391.4,377.2 391.9,377.5 392.4,377.7 392.9,378.0 393.4,378.4 393.9,378.9 394.4,379.1 394.9,379.4 395.4,379.5 395.9,379.7 396.4,380.0 396.9,380.4 397.4,380.7 397.9,381.0 398.4,381.1 398.9,381.6 399.4,381.9 399.9,382.3 400.4,382.5 400.9,382.9 401.4,383.1 401.9,383.3 402.4,383.6 402.9,384.0 403.4,384.3 403.9,384.6 404.4,384.8 404.9,385.2 405.4,385.5 405.9,385.7 406.4,386.1 406.9,386.6 407.4,386.9 407.9,387.2 408.4,387.5 408.9,387.9 409.4,388.2 409.9,388.4 410.4,388.7 410.9,389.0 411.4,389.4 411.9,389.6 412.4,390.0 412.9,390.2 413.4,390.7 413.9,390.8 414.4,391.1 414.9,391.3 415.4,391.6 415.9,391.9 416.4,392.3 416.9,392.8 417.4,393.1 417.9,393.3 418.4,393.5 418.9,393.9 419.4,394.3 419.9,394.6 420.4,394.9 420.9,395.1 421.4,395.4 421.9,395.8 422.4,396.0 422.9,396.3 423.4,396.6 423.9,396.9 424.4,397.3 424.9,397.6 425.4,398.1 425.9,398.4 426.4,398.9 426.9,399.2 427.4,399.6 427.9,399.9 428.4,400.3 428.9,400.8 429.4,401.1 429.9,401.3 430.4,401.7 430.9,402.0 431.4,402.6 431.9,402.9 432.4,403.3 432.9,403.8 433.4,404.2 433.9,404.7 434.4,405.1 434.9,405.4 435.4,405.8 435.9,406.1 436.4,406.7 436.9,407.5 437.4,408.1 437.9,408.5 438.4,408.7 438.9,409.3 439.4,409.8 439.9,410.2 440.4,410.7 440.9,411.2 441.4,411.8 441.9,412.1 442.4,412.5 442.9,413.1 443.4,413.6 443.9,414.3 444.4,414.8 444.9,415.5 445.4,416.0 445.9,416.6 446.4,417.2 446.9,417.7 447.4,418.2 447.9,419.0 448.4,419.6 448.9,420.2 449.4,420.6 449.9,421.1 450.4,421.6 450.9,422.1 451.4,422.8 451.9,423.2 452.4,423.6 452.9,424.1 453.4,424.7 453.9,425.6 454.4,426.2 454.9,426.6 455.4,427.0 455.9,427.4 456.4,428.0 456.9,428.5 457.4,429.0 457.9,429.6 458.4,430.2 458.9,430.8 459.4,431.4 459.9,432.1 460.4,432.7 460.9,433.2 461.4,433.7 461.9,434.2 462.4,434.9 462.9,435.5 463.4,436.2 463.9,436.9 464.4,437.8 464.9,438.5 465.4,439.3 465.9,439.9 466.4,440.6 466.9,441.3 467.4,442.0 467.9,442.7 468.4,443.2 468.9,443.9 469.4,444.6 469.9,445.2 470.4,446.0 470.9,446.5 471.4,446.9 471.9,447.2 472.4,447.6 472.9,447.9 473.4,448.2 473.9,448.5 474.4,449.1 474.9,449.6 475.4,450.0 475.9,450.3 476.4,450.5 476.9,450.8 477.4,451.0 477.9,451.5 478.4,451.8 478.9,452.1 479.4,452.3 479.9,452.6 480.4,453.0 480.9,453.2 481.4,453.1 481.9,452.9 482.4,453.0 482.9,453.6 483.4,454.3 483.9,454.3 484.4,454.3 484.9,454.0 485.4,454.3 485.9,454.1 486.4,454.4 486.9,454.8 487.4,455.2 487.9,455.6 488.4,455.0 488.9,454.7 489.4,454.4 489.9,454.8 490.4,454.9 490.9,455.1 491.4,454.8 491.9,455.1 492.4,455.0 492.9,454.7 493.4,454.4 493.9,454.0 494.4,454.3 494.9,453.8 495.4,453.8 495.9,453.5 496.4,452.7 496.9,452.0 497.4,451.7 497.9,452.1 498.4,452.6 498.9,452.4 499.4,451.9 499.9,451.5 500.4,451.1 500.9,451.0 501.4,450.6 501.9,450.6 502.4,450.0 502.9,449.6 503.4,448.6 503.9,449.1 504.4,448.8 504.9,448.8 505.4,447.6 505.9,447.3 506.4,446.9 506.9,446.9 507.4,446.6 507.9,446.3 508.4,445.4 508.9,444.7 509.4,444.2 509.9,443.6 510.4,442.9 510.9,441.3 511.4,440.6 511.9,439.6 512.4,439.3 512.9,437.5 513.4,436.3 513.9,434.8 514.4,434.1 514.9,432.5 515.4,430.9 515.9,429.1 516.4,427.1 516.9,424.4 517.4,421.3 517.9,417.9 518.4,412.4 518.9,402.3 519.4,390.6 519.9,381.1 520.4,373.6 520.9,367.1 521.4,361.7 521.9,361.5 522.4,365.2 522.9,372.1 523.4,379.3 523.9,385.6 524.4,392.0 524.9,399.5 525.4,406.8 525.9,413.4 526.4,418.6 526.9,422.9 527.4,425.6 527.9,427.6 528.4,429.6 528.9,431.1 529.4,432.9 529.9,433.9 530.4,434.9 530.9,435.8 531.4,436.8 531.9,437.5 532.4,437.5 532.9,437.2 533.4,437.2 533.9,436.9 534.4,437.3 534.9,437.4 535.4,437.8 535.9,437.3 536.4,437.4 536.9,437.2 537.4,437.8 537.9,437.6 538.4,437.2 538.9,436.9 539.4,436.6 539.9,436.7 540.4,436.4 540.9,436.4 541.4,436.4 541.9,436.6 542.4,436.6 542.9,436.3 543.4,435.7 543.9,435.2 544.4,435.3 544.9,435.7 545.4,436.1 545.9,435.5 546.4,435.1 546.9,434.4 547.4,434.4 547.9,434.2 548.4,434.0 548.9,433.8 549.4,433.3 549.9,433.2 550.4,433.2 550.9,433.5 551.4,433.0 551.9,432.2" fill="none" stroke="#d95319" stroke-width="1.6" stroke-linejoin="round" clip-path="url(#cc)"/>
<polyline points="183.0,437.9 183.5,437.1 184.0,436.9 184.5,436.6 185.0,436.9 185.5,436.5 186.0,436.2 186.5,435.1 187.0,434.7 187.5,434.1 188.0,434.1 188.5,434.1 189.0,434.0 189.5,433.4 190.0,433.1 190.5,432.4 191.0,432.7 191.5,432.3 192.0,432.2 192.5,431.4 193.0,430.9" fill="none" stroke="#d95319" stroke-width="2.2" stroke-linejoin="round" clip-path="url(#cc)"/>
<polyline points="190.0,433.5 190.5,433.0 191.0,432.7 191.5,432.1 192.0,432.4 192.5,431.7 193.0,431.4 193.5,430.5 194.0,430.5 194.5,430.0 195.0,429.1 195.5,428.2 196.0,427.7 196.5,427.5 197.0,427.3 197.5,427.2 198.0,427.1 198.5,426.6 199.0,426.0 199.5,425.5 200.0,425.4 200.5,424.8 201.0,423.9 201.5,423.3 202.0,423.1 202.5,422.6 203.0,422.3 203.5,421.9 204.0,421.4 204.5,420.1 205.0,419.1 205.5,418.6 206.0,418.4 206.5,417.7 207.0,417.7 207.5,417.5 208.0,417.2 208.5,415.8 209.0,414.7 209.5,414.5 210.0,414.6 210.5,414.2 211.0,413.6 211.5,412.3 212.0,411.8 212.5,411.4 213.0,411.2 213.5,410.6 214.0,409.9 214.5,409.4 215.0,408.5 215.5,408.0 216.0,407.2 216.5,407.1 217.0,406.3 217.5,406.1 218.0,405.1 218.5,404.8 219.0,404.1 219.5,403.8 220.0,403.0 220.5,402.2 221.0,401.4 221.5,400.9 222.0,400.4 222.5,399.8 223.0,399.0 223.5,398.7 224.0,398.2 224.5,398.0 225.0,398.0 225.5,397.6 226.0,397.1 226.5,396.2 227.0,395.6 227.5,394.9 228.0,394.4 228.5,394.2 229.0,393.2 229.5,392.5 230.0,391.7 230.5,391.7 231.0,391.5 231.5,391.0 232.0,390.8 232.5,389.9 233.0,389.5 233.5,389.0 234.0,388.4 234.5,388.0 235.0,387.1 235.5,386.6 236.0,386.3 236.5,386.1 237.0,385.6 237.5,384.7 238.0,384.6 238.5,384.2 239.0,383.7 239.5,382.7 240.0,382.2 240.5,381.7 241.0,381.3 241.5,381.1 242.0,380.5 242.5,380.1 243.0,379.3 243.5,378.7 244.0,377.8 244.5,377.2 245.0,376.8" fill="none" stroke="#d95319" stroke-width="3.3" stroke-linejoin="round" clip-path="url(#cc)"/>
<polyline points="243.0,378.9 243.5,378.2 244.0,378.0 244.5,377.6 245.0,377.3 245.5,376.8 246.0,376.2 246.5,375.2 247.0,374.2 247.5,373.6 248.0,373.3 248.5,373.2 249.0,372.3 249.5,371.8 250.0,371.1 250.5,371.3 251.0,370.6 251.5,369.8 252.0,368.5" fill="none" stroke="#d95319" stroke-width="2.2" stroke-linejoin="round" clip-path="url(#cc)"/>
<polyline points="488.0,453.9 488.5,454.1 489.0,454.5 489.5,454.9 490.0,455.0 490.5,455.1 491.0,455.1 491.5,454.8 492.0,454.4 492.5,453.9 493.0,453.9 493.5,453.8 494.0,453.9 494.5,454.2 495.0,454.4 495.5,454.3 496.0,453.8 496.5,453.1 497.0,452.8 497.5,452.8 498.0,452.4 498.5,452.3 499.0,452.0 499.5,452.1 500.0,452.0 500.5,452.2 501.0,451.7 501.5,450.9 502.0,449.9 502.5,449.6 503.0,449.3 503.5,449.0 504.0,448.6 504.5,448.3 505.0,448.4 505.5,448.5 506.0,448.3 506.5,447.8 507.0,446.6 507.5,446.2 508.0,445.4 508.5,444.9 509.0,443.9 509.5,443.7 510.0,442.8 510.5,442.1 511.0,441.0 511.5,440.4 512.0,439.8 512.5,438.8 513.0,437.4 513.5,436.4 514.0,435.2 514.5,433.7 515.0,432.4 515.5,430.5 516.0,429.1 516.5,426.2 517.0,423.4 517.5,420.1 518.0,416.9 518.5,410.7 519.0,400.0 519.5,388.9 520.0,379.5 520.5,372.6 521.0,365.9 521.5,361.9 522.0,362.7 522.5,367.3 523.0,374.5 523.5,381.1 524.0,387.3 524.5,393.5 525.0,400.8 525.5,407.7 526.0,414.0 526.5,418.9 527.0,422.9 527.5,425.2 528.0,427.7 528.5,429.7 529.0,432.0 529.5,433.6 530.0,434.9 530.5,435.7 531.0,436.7 531.5,437.3 532.0,437.5 532.5,437.6 533.0,437.5 533.5,437.9 534.0,438.1 534.5,438.4 535.0,437.7 535.5,437.6 536.0,437.3 536.5,437.6 537.0,437.2 537.5,436.7 538.0,436.0 538.5,436.2 539.0,436.9 539.5,437.3 540.0,437.0 540.5,436.5 541.0,436.3 541.5,436.5 542.0,436.3 542.5,436.0 543.0,435.7 543.5,435.8 544.0,436.0 544.5,436.2 545.0,435.7 545.5,435.6 546.0,435.2 546.5,435.3 547.0,435.1 547.5,434.8 548.0,434.6 548.5,434.2 549.0,434.2 549.5,434.0 550.0,433.9 550.5,433.6 551.0,433.1 551.5,433.0 552.0,432.6" fill="none" stroke="#d95319" stroke-width="2.1" stroke-linejoin="round" clip-path="url(#cc)"/>
<polyline points="132.4,422.0 132.9,422.4 133.4,422.6 133.9,422.9 134.4,423.1 134.9,423.3 135.4,423.4 135.9,423.6 136.4,423.7 136.9,423.8 137.4,424.0 137.9,424.1 138.4,424.3 138.9,424.3 139.4,424.4 139.9,424.5 140.4,424.6 140.9,424.8 141.4,424.8 141.9,424.8 142.4,424.9 142.9,425.0 143.4,425.3 143.9,425.4 144.4,425.3 144.9,425.4 145.4,425.5 145.9,425.7 146.4,425.7 146.9,425.7 147.4,425.7 147.9,425.7 148.4,425.9 148.9,425.9 149.4,425.9 149.9,425.7 150.4,425.8 150.9,425.8 151.4,425.7 151.9,425.7 152.4,425.7 152.9,425.8 153.4,425.7 153.9,425.6 154.4,425.5 154.9,425.5 155.4,425.4 155.9,425.5 156.4,425.4 156.9,425.4 157.4,425.3 157.9,425.1 158.4,425.0 158.9,424.8 159.4,424.9 159.9,424.7 160.4,424.7 160.9,424.4 161.4,424.1 161.9,423.8 162.4,423.7 162.9,423.5 163.4,423.3 163.9,423.1 164.4,422.8 164.9,422.6 165.4,422.1 165.9,421.7 166.4,421.1 166.9,420.7 167.4,420.4 167.9,419.9 168.4,419.4 168.9,418.9 169.4,418.5 169.9,418.0 170.4,417.6 170.9,417.2 171.4,416.7 171.9,416.2 172.4,415.5 172.9,415.0 173.4,414.5 173.9,414.0 174.4,413.2 174.9,412.5 175.4,412.0 175.9,411.5 176.4,411.0 176.9,410.4 177.4,409.8 177.9,409.3 178.4,408.7 178.9,408.2 179.4,407.8 179.9,407.4 180.4,406.9 180.9,406.4 181.4,405.9 181.9,405.3 182.4,404.8 182.9,404.3 183.4,403.8 183.9,403.1 184.4,402.5 184.9,401.8 185.4,401.3 185.9,400.6 186.4,400.1 186.9,399.6 187.4,399.2 187.9,398.8 188.4,398.2 188.9,397.6 189.4,397.0 189.9,396.5 190.4,395.9 190.9,395.5 191.4,395.0 191.9,394.5 192.4,393.8 192.9,393.2 193.4,392.7 193.9,392.2 194.4,391.6 194.9,391.1 195.4,390.5 195.9,389.8 196.4,389.3 196.9,388.7 197.4,388.3 197.9,387.7 198.4,387.1 198.9,386.6 199.4,386.0 199.9,385.5 200.4,384.9 200.9,384.5 201.4,384.0 201.9,383.5 202.4,382.9 202.9,382.4 203.4,381.9 203.9,381.4 204.4,380.8 204.9,380.3 205.4,379.7 205.9,379.2 206.4,378.8 206.9,378.4 207.4,377.9 207.9,377.4 208.4,377.0 208.9,376.6 209.4,376.2 209.9,375.7 210.4,375.2 210.9,374.8 211.4,374.5 211.9,374.2 212.4,373.7 212.9,373.2 213.4,372.8 213.9,372.5 214.4,372.0 214.9,371.6 215.4,371.3 215.9,370.9 216.4,370.5 216.9,369.9 217.4,369.5 217.9,369.1 218.4,368.8 218.9,368.5 219.4,368.1 219.9,367.6 220.4,367.1 220.9,366.7 221.4,366.3 221.9,366.1 222.4,365.9 222.9,365.5 223.4,365.1 223.9,364.7 224.4,364.3 224.9,363.9 225.4,363.4 225.9,363.1 226.4,362.8 226.9,362.4 227.4,362.0 227.9,361.6 228.4,361.3 228.9,360.9 229.4,360.4 229.9,360.0 230.4,359.7 230.9,359.4 231.4,359.2 231.9,358.9 232.4,358.5 232.9,358.0 233.4,357.8 233.9,357.5 234.4,357.1 234.9,356.7 235.4,356.4 235.9,356.1 236.4,355.7 236.9,355.1 237.4,354.7 237.9,354.4 238.4,354.1 238.9,353.8 239.4,353.3 239.9,352.9 240.4,352.6 240.9,352.1 241.4,351.6 241.9,351.0 242.4,350.6 242.9,350.0 243.4,349.6 243.9,349.2 244.4,348.8 244.9,348.4 245.4,347.9 245.9,347.5 246.4,347.0 246.9,346.6 247.4,346.2 247.9,345.9 248.4,345.5 248.9,345.2 249.4,345.0 249.9,344.8 250.4,344.4 250.9,344.3 251.4,344.3 251.9,344.4 252.4,344.3 252.9,344.2 253.4,344.1 253.9,343.8 254.4,343.8 254.9,343.7 255.4,343.6 255.9,343.6 256.4,343.4 256.9,343.4 257.4,343.4 257.9,343.3 258.4,343.3 258.9,343.1 259.4,343.0 259.9,342.9 260.4,342.9 260.9,342.9 261.4,342.9 261.9,342.9 262.4,343.0 262.9,343.0 263.4,343.0 263.9,342.8 264.4,342.9 264.9,342.9 265.4,342.8 265.9,342.7 266.4,342.7 266.9,342.8 267.4,342.9 267.9,342.9 268.4,342.9 268.9,342.8 269.4,342.8 269.9,342.9 270.4,343.0 270.9,343.0 271.4,343.0 271.9,343.0 272.4,343.0 272.9,343.2 273.4,343.3 273.9,343.4 274.4,343.5 274.9,343.6 275.4,343.7 275.9,343.8 276.4,344.0 276.9,344.2 277.4,344.4 277.9,344.3 278.4,344.4 278.9,344.5 279.4,344.6 279.9,344.4 280.4,344.4 280.9,344.4 281.4,344.5 281.9,344.4 282.4,344.3 282.9,344.3 283.4,344.3 283.9,344.3 284.4,344.1 284.9,344.0 285.4,344.1 285.9,344.2 286.4,344.3 286.9,344.2 287.4,343.9 287.9,343.6 288.4,343.3 288.9,343.0 289.4,342.7 289.9,342.1 290.4,341.7 290.9,341.1 291.4,340.6 291.9,340.3 292.4,339.7 292.9,339.3 293.4,338.8 293.9,338.4 294.4,337.9 294.9,337.4 295.4,336.8 295.9,336.1 296.4,335.3 296.9,334.6 297.4,333.9 297.9,333.1 298.4,332.4 298.9,331.7 299.4,331.0 299.9,330.2 300.4,329.4 300.9,328.4 301.4,327.5 301.9,326.6 302.4,325.7 302.9,324.8 303.4,323.9 303.9,322.8 304.4,321.9 304.9,320.9 305.4,320.1 305.9,319.3 306.4,318.6 306.9,317.8 307.4,316.7 307.9,315.8 308.4,314.9 308.9,314.1 309.4,313.2 309.9,312.4 310.4,311.6 310.9,310.7 311.4,309.7 311.9,308.7 312.4,307.9 312.9,306.8 313.4,305.9 313.9,304.9 314.4,304.0 314.9,303.1 315.4,302.1 315.9,301.2 316.4,300.3 316.9,299.8 317.4,299.2 317.9,298.7 318.4,298.1 318.9,297.5 319.4,297.0 319.9,296.4 320.4,296.0 320.9,295.7 321.4,295.3 321.9,295.0 322.4,294.6 322.9,294.5 323.4,294.5 323.9,294.6 324.4,294.8 324.9,294.9 325.4,295.1 325.9,295.4 326.4,295.8 326.9,296.2 327.4,296.7 327.9,297.0 328.4,297.4 328.9,297.9 329.4,298.5 329.9,299.1 330.4,299.6 330.9,300.2 331.4,300.8 331.9,301.6 332.4,302.3 332.9,303.0 333.4,303.6 333.9,304.2 334.4,304.8 334.9,305.3 335.4,305.8 335.9,306.4 336.4,306.8 336.9,307.3 337.4,307.7 337.9,308.0 338.4,308.3 338.9,308.8 339.4,309.1 339.9,309.4 340.4,309.6 340.9,310.0 341.4,310.4 341.9,310.7 342.4,311.0 342.9,311.3 343.4,311.6 343.9,311.9 344.4,312.0 344.9,312.2 345.4,312.3 345.9,312.6 346.4,312.9 346.9,313.1 347.4,313.3 347.9,313.5 348.4,313.8 348.9,314.0 349.4,314.3 349.9,314.5 350.4,314.8 350.9,315.1 351.4,315.4 351.9,315.5 352.4,315.7 352.9,315.9 353.4,316.1 353.9,316.3 354.4,316.6 354.9,316.9 355.4,317.1 355.9,317.2 356.4,317.5 356.9,317.8 357.4,318.2 357.9,318.5 358.4,318.9 358.9,319.0 359.4,319.2 359.9,319.4 360.4,319.7 360.9,319.9 361.4,320.1 361.9,320.3 362.4,320.6 362.9,320.8 363.4,321.1 363.9,321.3 364.4,321.7 364.9,321.9 365.4,322.1 365.9,322.4 366.4,322.7 366.9,323.0 367.4,323.2 367.9,323.3 368.4,323.7 368.9,324.0 369.4,324.3 369.9,324.7 370.4,324.9 370.9,325.0 371.4,325.2 371.9,325.3 372.4,325.7 372.9,325.9 373.4,326.3 373.9,326.4 374.4,326.5 374.9,326.7 375.4,326.8 375.9,327.0 376.4,327.2 376.9,327.4 377.4,327.7 377.9,327.8 378.4,328.0 378.9,328.1 379.4,328.2 379.9,328.4 380.4,328.6 380.9,328.8 381.4,329.0 381.9,329.1 382.4,329.3 382.9,329.5 383.4,329.7 383.9,329.9 384.4,330.1 384.9,330.2 385.4,330.4 385.9,330.6 386.4,330.8 386.9,331.1 387.4,331.3 387.9,331.7 388.4,331.8 388.9,332.1 389.4,332.4 389.9,332.8 390.4,332.9 390.9,333.1 391.4,333.5 391.9,333.9 392.4,334.2 392.9,334.3 393.4,334.5 393.9,334.7 394.4,335.1 394.9,335.3 395.4,335.6 395.9,335.7 396.4,336.1 396.9,336.2 397.4,336.6 397.9,336.8 398.4,337.0 398.9,337.2 399.4,337.5 399.9,337.7 400.4,337.9 400.9,338.2 401.4,338.6 401.9,338.9 402.4,339.1 402.9,339.3 403.4,339.4 403.9,339.6 404.4,339.8 404.9,340.1 405.4,340.4 405.9,340.7 406.4,341.0 406.9,341.3 407.4,341.5 407.9,341.8 408.4,341.9 408.9,342.2 409.4,342.5 409.9,342.8 410.4,342.9 410.9,343.2 411.4,343.7 411.9,344.2 412.4,344.6 412.9,344.8 413.4,345.2 413.9,345.7 414.4,346.0 414.9,346.3 415.4,346.6 415.9,346.9 416.4,347.4 416.9,347.8 417.4,348.3 417.9,348.6 418.4,348.8 418.9,349.0 419.4,349.4 419.9,349.9 420.4,350.3 420.9,350.7 421.4,350.9 421.9,351.1 422.4,351.5 422.9,351.9 423.4,352.4 423.9,352.6 424.4,353.0 424.9,353.2 425.4,353.7 425.9,354.2 426.4,354.6 426.9,355.0 427.4,355.3 427.9,355.7 428.4,356.0 428.9,356.5 429.4,356.9 429.9,357.4 430.4,358.1 430.9,358.4 431.4,358.9 431.9,359.1 432.4,359.7 432.9,360.2 433.4,360.6 433.9,361.1 434.4,361.5 434.9,362.1 435.4,362.5 435.9,363.1 436.4,363.5 436.9,363.9 437.4,364.4 437.9,365.0 438.4,365.6 438.9,366.2 439.4,366.6 439.9,367.1 440.4,367.6 440.9,368.1 441.4,368.5 441.9,369.0 442.4,369.6 442.9,370.1 443.4,370.4 443.9,370.9 444.4,371.3 444.9,371.7 445.4,372.0 445.9,372.4 446.4,372.9 446.9,373.3 447.4,373.8 447.9,374.2 448.4,374.7 448.9,375.0 449.4,375.5 449.9,375.9 450.4,376.5 450.9,376.9 451.4,377.6 451.9,378.1 452.4,378.5 452.9,378.9 453.4,379.5 453.9,380.1 454.4,380.7 454.9,381.2 455.4,381.5 455.9,382.1 456.4,382.6 456.9,383.4 457.4,383.9 457.9,384.6 458.4,385.1 458.9,385.7 459.4,386.1 459.9,386.6 460.4,387.2 460.9,387.9 461.4,388.6 461.9,389.2 462.4,390.0 462.9,390.6 463.4,391.2 463.9,391.8 464.4,392.5 464.9,393.2 465.4,393.8 465.9,394.6 466.4,395.2 466.9,396.0 467.4,396.7 467.9,397.6 468.4,398.3 468.9,399.0 469.4,399.8 469.9,400.6 470.4,401.3 470.9,402.0 471.4,402.6 471.9,403.3 472.4,403.9 472.9,404.6 473.4,405.3 473.9,405.9 474.4,406.7 474.9,407.3 475.4,407.9 475.9,408.5 476.4,409.2 476.9,410.0 477.4,410.8 477.9,411.4 478.4,412.1 478.9,412.8 479.4,413.5 479.9,414.3 480.4,415.0 480.9,415.7 481.4,416.4 481.9,417.2 482.4,418.1 482.9,418.9 483.4,419.7 483.9,420.7 484.4,421.5 484.9,422.6 485.4,423.4 485.9,424.4 486.4,425.2 486.9,426.3 487.4,427.1 487.9,428.0 488.4,428.9 488.9,429.7 489.4,430.5 489.9,431.2 490.4,432.0 490.9,432.6 491.4,433.3 491.9,434.0 492.4,434.8 492.9,435.5 493.4,436.2 493.9,436.9 494.4,437.4 494.9,438.0 495.4,438.4 495.9,438.7 496.4,438.9 496.9,439.1 497.4,439.4 497.9,439.7 498.4,439.9 498.9,440.0 499.4,440.1 499.9,440.3 500.4,440.3 500.9,440.3 501.4,440.3 501.9,440.2 502.4,440.0 502.9,439.8 503.4,439.5 503.9,439.2 504.4,438.8 504.9,438.5 505.4,438.1 505.9,437.6 506.4,437.1 506.9,436.6 507.4,436.1 507.9,435.5 508.4,434.8 508.9,433.8 509.4,433.0 509.9,432.0 510.4,431.1 510.9,429.9 511.4,428.8 511.9,427.2 512.4,425.9 512.9,424.4 513.4,422.9 513.9,421.0 514.4,418.9 514.9,416.7 515.4,414.2 515.9,411.4 516.4,408.0 516.9,403.7 517.4,398.9 517.9,393.6 518.4,387.9 518.9,381.8 519.4,373.7 519.9,362.8 520.4,352.6 520.9,347.2 521.4,348.6 521.9,354.0 522.4,361.4 522.9,369.1 523.4,375.6 523.9,380.2 524.4,384.6 524.9,388.7 525.4,392.7 525.9,396.5 526.4,400.0 526.9,403.2 527.4,406.2 527.9,408.8 528.4,411.3 528.9,413.8 529.4,416.2 529.9,418.4 530.4,420.5 530.9,422.4 531.4,424.3 531.9,425.4 532.4,426.3 532.9,426.6 533.4,427.1 533.9,427.5 534.4,427.9 534.9,428.2 535.4,428.5 535.9,428.7 536.4,428.9 536.9,429.1 537.4,429.0 537.9,429.1 538.4,429.0 538.9,429.1 539.4,428.9 539.9,428.9 540.4,428.9 540.9,428.9 541.4,428.9 541.9,428.8 542.4,428.7 542.9,428.7 543.4,428.6 543.9,428.6 544.4,428.5 544.9,428.6 545.4,428.5 545.9,428.4 546.4,428.3 546.9,428.0 547.4,427.8 547.9,427.5 548.4,427.3 548.9,427.1 549.4,426.8 549.9,426.6 550.4,426.4 550.9,426.3 551.4,426.0 551.9,425.5" fill="none" stroke="#edb120" stroke-width="1.35" stroke-linejoin="round" clip-path="url(#cc)"/>
<polyline points="430.0,357.5 430.5,358.0 431.0,358.4 431.5,358.8 432.0,359.2 432.5,359.8 433.0,360.3 433.5,360.7 434.0,361.1 434.5,361.6 435.0,362.3 435.5,362.8 436.0,363.2 436.5,363.5 437.0,364.0 437.5,364.6 438.0,365.2 438.5,365.8 439.0,366.2 439.5,366.7 440.0,367.1 440.5,367.7 441.0,368.3 441.5,368.9 442.0,369.2 442.5,369.7 443.0,370.1 443.5,370.6 444.0,371.0 444.5,371.4 445.0,371.8 445.5,372.1 446.0,372.5 446.5,372.9 447.0,373.4 447.5,373.8 448.0,374.4 448.5,374.8 449.0,375.2 449.5,375.6 450.0,376.1 450.5,376.7 451.0,377.2 451.5,377.7 452.0,378.0 452.5,378.5 453.0,379.1 453.5,379.7 454.0,380.2 454.5,380.6 455.0,381.2 455.5,381.8 456.0,382.4 456.5,383.0 457.0,383.5 457.5,384.0 458.0,384.5 458.5,385.0 459.0,385.6 459.5,386.3 460.0,386.9 460.5,387.6 461.0,388.3 461.5,388.9 462.0,389.4 462.5,390.0 463.0,390.5 463.5,391.3 464.0,391.9 464.5,392.7 465.0,393.4 465.5,394.1 466.0,394.8 466.5,395.4 467.0,396.1 467.5,396.9 468.0,397.6 468.5,398.4 469.0,399.1 469.5,399.9 470.0,400.6 470.5,401.3 471.0,402.1 471.5,402.7 472.0,403.3 472.5,404.0 473.0,404.6 473.5,405.2 474.0,405.9 474.5,406.6 475.0,407.5 475.5,408.2 476.0,408.9 476.5,409.5 477.0,410.2 477.5,410.8 478.0,411.5 478.5,412.2 479.0,413.0 479.5,413.7 480.0,414.4 480.5,415.1 481.0,415.8 481.5,416.6 482.0,417.3 482.5,418.2 483.0,418.9 483.5,419.8 484.0,420.7 484.5,421.7 485.0,422.5 485.5,423.4 486.0,424.4 486.5,425.4 487.0,426.3 487.5,427.2 488.0,428.1 488.5,429.0 489.0,429.8 489.5,430.6 490.0,431.4 490.5,432.1 491.0,432.8 491.5,433.6 492.0,434.2 492.5,435.0 493.0,435.7 493.5,436.4 494.0,437.0 494.5,437.5 495.0,438.1 495.5,438.5 496.0,438.8 496.5,439.1 497.0,439.4 497.5,439.6 498.0,439.9 498.5,439.9 499.0,440.2 499.5,440.3 500.0,440.4 500.5,440.5 501.0,440.3 501.5,440.3 502.0,440.0 502.5,439.8 503.0,439.7 503.5,439.4 504.0,439.0 504.5,438.5 505.0,438.0 505.5,437.8 506.0,437.4 506.5,437.0 507.0,436.5 507.5,436.0 508.0,435.4 508.5,434.5 509.0,433.8 509.5,432.9 510.0,431.9 510.5,430.7 511.0,429.4 511.5,428.3 512.0,427.1 512.5,425.9 513.0,424.2 513.5,422.4 514.0,420.5 514.5,418.5 515.0,416.2 515.5,413.5 516.0,410.6 516.5,407.2 517.0,403.0 517.5,398.1 518.0,392.6 518.5,386.7 519.0,380.3 519.5,371.6 520.0,360.5 520.5,351.2 521.0,347.0 521.5,349.2 522.0,355.1 522.5,362.8 523.0,370.6 523.5,376.6 524.0,381.1 524.5,385.5 525.0,389.7 525.5,393.7 526.0,397.5 526.5,400.8 527.0,404.0 527.5,406.8 528.0,409.4 528.5,412.0 529.0,414.4 529.5,416.7 530.0,419.0 530.5,421.0 531.0,422.8 531.5,424.4 532.0,425.6 532.5,426.5 533.0,426.9 533.5,427.3 534.0,427.8 534.5,428.1 535.0,428.3 535.5,428.4 536.0,428.6 536.5,428.8 537.0,428.9 537.5,429.0 538.0,429.0 538.5,429.1 539.0,429.0 539.5,429.0 540.0,428.9 540.5,428.9 541.0,428.8 541.5,428.8 542.0,428.8 542.5,428.8 543.0,428.8 543.5,428.7 544.0,428.6 544.5,428.5 545.0,428.4 545.5,428.4 546.0,428.2 546.5,428.1 547.0,427.9 547.5,427.8 548.0,427.6 548.5,427.3 549.0,427.0 549.5,426.9 550.0,426.6 550.5,426.4 551.0,426.0 551.5,425.7 552.0,425.3" fill="none" stroke="#edb120" stroke-width="1.9" stroke-linejoin="round" clip-path="url(#cc)"/>
<polyline points="132.4,398.7 132.9,398.8 133.4,398.9 133.9,398.8 134.4,399.1 134.9,399.1 135.4,399.2 135.9,399.0 136.4,399.0 136.9,399.0 137.4,399.1 137.9,399.2 138.4,399.2 138.9,399.3 139.4,399.5 139.9,399.6 140.4,399.6 140.9,399.6 141.4,399.6 141.9,399.6 142.4,399.5 142.9,399.4 143.4,399.6 143.9,399.6 144.4,399.7 144.9,399.7 145.4,399.7 145.9,399.7 146.4,399.7 146.9,399.7 147.4,399.6 147.9,399.5 148.4,399.6 148.9,399.6 149.4,399.8 149.9,399.7 150.4,399.8 150.9,399.8 151.4,399.7 151.9,399.7 152.4,399.6 152.9,399.7 153.4,399.9 153.9,399.9 154.4,399.9 154.9,399.7 155.4,399.7 155.9,399.7 156.4,399.8 156.9,399.9 157.4,400.0 157.9,400.0 158.4,400.0 158.9,399.9 159.4,399.9 159.9,399.9 160.4,399.9 160.9,399.9 161.4,399.8 161.9,400.0 162.4,400.0 162.9,400.0 163.4,400.1 163.9,400.1 164.4,400.0 164.9,399.9 165.4,400.0 165.9,399.9 166.4,399.9 166.9,399.9 167.4,399.9 167.9,399.8 168.4,399.8 168.9,399.9 169.4,400.0 169.9,400.0 170.4,400.0 170.9,399.9 171.4,399.9 171.9,399.7 172.4,399.6 172.9,399.5 173.4,399.4 173.9,399.4 174.4,399.5 174.9,399.5 175.4,399.4 175.9,399.4 176.4,399.4 176.9,399.3 177.4,399.0 177.9,399.0 178.4,398.8 178.9,398.7 179.4,398.4 179.9,398.4 180.4,398.4 180.9,398.4 181.4,398.2 181.9,398.3 182.4,398.1 182.9,398.1 183.4,397.9 183.9,398.0 184.4,397.9 184.9,397.8 185.4,397.6 185.9,397.6 186.4,397.5 186.9,397.4 187.4,397.3 187.9,397.1 188.4,397.0 188.9,396.8 189.4,396.8 189.9,396.8 190.4,396.9 190.9,396.8 191.4,396.6 191.9,396.4 192.4,396.3 192.9,396.1 193.4,396.1 193.9,396.0 194.4,395.9 194.9,395.7 195.4,395.5 195.9,395.3 196.4,395.0 196.9,394.9 197.4,394.9 197.9,394.9 198.4,394.7 198.9,394.2 199.4,393.9 199.9,393.8 200.4,393.8 200.9,393.7 201.4,393.5 201.9,393.3 202.4,393.1 202.9,393.0 203.4,392.7 203.9,392.5 204.4,392.3 204.9,392.2 205.4,391.9 205.9,391.7 206.4,391.5 206.9,391.4 207.4,391.3 207.9,391.2 208.4,391.0 208.9,390.7 209.4,390.6 209.9,390.2 210.4,390.1 210.9,389.9 211.4,389.9 211.9,389.7 212.4,389.4 212.9,389.3 213.4,389.1 213.9,389.0 214.4,388.9 214.9,388.9 215.4,388.5 215.9,388.3 216.4,388.0 216.9,388.0 217.4,387.9 217.9,387.7 218.4,387.5 218.9,387.3 219.4,387.1 219.9,387.2 220.4,387.1 220.9,387.1 221.4,386.9 221.9,386.8 222.4,386.5 222.9,386.4 223.4,386.2 223.9,385.9 224.4,385.8 224.9,385.6 225.4,385.6 225.9,385.5 226.4,385.3 226.9,385.1 227.4,385.0 227.9,385.0 228.4,384.8 228.9,384.7 229.4,384.5 229.9,384.3 230.4,384.2 230.9,384.1 231.4,384.1 231.9,383.9 232.4,383.8 232.9,383.5 233.4,383.3 233.9,383.2 234.4,383.1 234.9,383.0 235.4,382.8 235.9,382.6 236.4,382.6 236.9,382.5 237.4,382.4 237.9,382.3 238.4,382.2 238.9,382.2 239.4,382.1 239.9,381.8 240.4,381.6 240.9,381.5 241.4,381.3 241.9,381.3 242.4,381.3 242.9,381.4 243.4,381.4 243.9,381.4 244.4,381.3 244.9,381.1 245.4,381.0 245.9,380.9 246.4,380.9 246.9,381.0 247.4,380.8 247.9,380.6 248.4,380.6 248.9,380.6 249.4,380.7 249.9,380.5 250.4,380.3 250.9,380.3 251.4,380.2 251.9,380.3 252.4,380.2 252.9,380.0 253.4,379.9 253.9,379.8 254.4,379.7 254.9,379.6 255.4,379.5 255.9,379.4 256.4,379.3 256.9,379.1 257.4,379.1 257.9,379.0 258.4,378.8 258.9,378.6 259.4,378.4 259.9,378.3 260.4,378.2 260.9,378.0 261.4,377.9 261.9,377.8 262.4,377.6 262.9,377.4 263.4,377.2 263.9,377.1 264.4,376.9 264.9,376.8 265.4,376.7 265.9,376.5 266.4,376.2 266.9,376.1 267.4,375.9 267.9,375.8 268.4,375.7 268.9,375.6 269.4,375.6 269.9,375.5 270.4,375.5 270.9,375.4 271.4,375.4 271.9,375.2 272.4,375.1 272.9,374.9 273.4,374.8 273.9,374.8 274.4,374.7 274.9,374.8 275.4,374.8 275.9,374.8 276.4,374.7 276.9,374.5 277.4,374.3 277.9,374.1 278.4,374.1 278.9,374.2 279.4,374.3 279.9,374.2 280.4,374.1 280.9,373.9 281.4,373.8 281.9,373.6 282.4,373.5 282.9,373.4 283.4,373.1 283.9,372.8 284.4,372.5 284.9,372.4 285.4,372.4 285.9,372.1 286.4,371.9 286.9,371.5 287.4,371.2 287.9,370.8 288.4,370.4 288.9,370.0 289.4,369.5 289.9,369.1 290.4,368.6 290.9,368.3 291.4,367.8 291.9,367.3 292.4,366.8 292.9,366.4 293.4,365.8 293.9,365.5 294.4,365.0 294.9,364.5 295.4,363.8 295.9,363.2 296.4,362.5 296.9,361.8 297.4,361.0 297.9,360.3 298.4,359.6 298.9,359.0 299.4,358.4 299.9,357.7 300.4,357.1 300.9,356.5 301.4,356.0 301.9,355.5 302.4,355.0 302.9,354.4 303.4,353.7 303.9,353.0 304.4,352.3 304.9,351.6 305.4,350.7 305.9,350.0 306.4,349.1 306.9,348.3 307.4,347.3 307.9,346.3 308.4,345.3 308.9,344.4 309.4,343.5 309.9,342.5 310.4,341.4 310.9,340.1 311.4,338.8 311.9,337.5 312.4,336.4 312.9,335.2 313.4,334.0 313.9,332.9 314.4,331.9 314.9,330.8 315.4,329.9 315.9,328.9 316.4,328.1 316.9,326.9 317.4,325.9 317.9,324.9 318.4,324.0 318.9,323.2 319.4,322.3 319.9,321.6 320.4,321.0 320.9,320.6 321.4,320.1 321.9,319.6 322.4,318.9 322.9,318.4 323.4,318.0 323.9,317.6 324.4,317.3 324.9,317.0 325.4,316.8 325.9,316.6 326.4,316.5 326.9,316.4 327.4,316.4 327.9,316.4 328.4,316.5 328.9,316.6 329.4,316.6 329.9,316.7 330.4,316.7 330.9,316.8 331.4,316.9 331.9,317.1 332.4,317.2 332.9,317.3 333.4,317.3 333.9,317.5 334.4,317.7 334.9,317.8 335.4,317.9 335.9,317.8 336.4,317.9 336.9,317.9 337.4,318.1 337.9,318.1 338.4,318.1 338.9,318.2 339.4,318.5 339.9,318.5 340.4,318.5 340.9,318.5 341.4,318.5 341.9,318.5 342.4,318.6 342.9,318.7 343.4,318.9 343.9,318.8 344.4,318.8 344.9,318.9 345.4,318.9 345.9,318.9 346.4,318.9 346.9,318.9 347.4,318.9 347.9,318.9 348.4,318.9 348.9,318.9 349.4,318.9 349.9,318.9 350.4,319.0 350.9,319.0 351.4,318.8 351.9,318.7 352.4,318.7 352.9,319.0 353.4,319.1 353.9,319.0 354.4,318.9 354.9,318.8 355.4,318.8 355.9,318.8 356.4,318.8 356.9,318.7 357.4,318.7 357.9,318.6 358.4,318.5 358.9,318.4 359.4,318.6 359.9,318.5 360.4,318.4 360.9,318.3 361.4,318.4 361.9,318.3 362.4,318.2 362.9,318.1 363.4,318.2 363.9,318.1 364.4,318.1 364.9,318.1 365.4,318.0 365.9,317.8 366.4,317.6 366.9,317.6 367.4,317.5 367.9,317.8 368.4,317.8 368.9,317.8 369.4,317.6 369.9,317.6 370.4,317.5 370.9,317.5 371.4,317.5 371.9,317.6 372.4,317.5 372.9,317.4 373.4,317.2 373.9,317.1 374.4,317.1 374.9,317.2 375.4,317.2 375.9,317.1 376.4,317.2 376.9,317.2 377.4,317.3 377.9,317.1 378.4,317.0 378.9,317.0 379.4,317.0 379.9,317.0 380.4,317.0 380.9,317.1 381.4,317.2 381.9,317.1 382.4,317.1 382.9,317.2 383.4,317.3 383.9,317.3 384.4,317.3 384.9,317.3 385.4,317.3 385.9,317.2 386.4,317.2 386.9,317.2 387.4,317.2 387.9,317.2 388.4,317.2 388.9,317.2 389.4,317.3 389.9,317.3 390.4,317.2 390.9,317.3 391.4,317.4 391.9,317.4 392.4,317.4 392.9,317.4 393.4,317.3 393.9,317.3 394.4,317.4 394.9,317.3 395.4,317.2 395.9,317.2 396.4,317.4 396.9,317.5 397.4,317.5 397.9,317.4 398.4,317.4 398.9,317.4 399.4,317.5 399.9,317.6 400.4,317.5 400.9,317.5 401.4,317.6 401.9,317.7 402.4,317.7 402.9,317.7 403.4,317.8 403.9,317.8 404.4,318.0 404.9,318.1 405.4,318.1 405.9,317.9 406.4,317.9 406.9,317.9 407.4,318.1 407.9,318.1 408.4,318.1 408.9,318.1 409.4,318.3 409.9,318.4 410.4,318.4 410.9,318.4 411.4,318.4 411.9,318.4 412.4,318.5 412.9,318.6 413.4,318.7 413.9,318.7 414.4,318.6 414.9,318.7 415.4,318.7 415.9,318.8 416.4,318.7 416.9,318.8 417.4,318.8 417.9,318.9 418.4,318.9 418.9,319.1 419.4,319.1 419.9,319.1 420.4,319.2 420.9,319.3 421.4,319.3 421.9,319.4 422.4,319.4 422.9,319.6 423.4,319.7 423.9,319.8 424.4,319.8 424.9,319.8 425.4,319.9 425.9,319.9 426.4,320.0 426.9,320.0 427.4,319.9 427.9,320.1 428.4,320.2 428.9,320.2 429.4,320.1 429.9,320.1 430.4,320.2 430.9,320.3 431.4,320.5 431.9,320.6 432.4,320.7 432.9,320.6 433.4,320.7 433.9,320.8 434.4,320.8 434.9,320.7 435.4,320.7 435.9,320.8 436.4,321.0 436.9,321.1 437.4,321.2 437.9,321.1 438.4,321.1 438.9,321.1 439.4,321.2 439.9,321.3 440.4,321.4 440.9,321.4 441.4,321.5 441.9,321.8 442.4,321.9 442.9,322.1 443.4,322.2 443.9,322.3 444.4,322.5 444.9,322.6 445.4,322.8 445.9,322.8 446.4,323.0 446.9,323.2 447.4,323.4 447.9,323.5 448.4,323.6 448.9,323.6 449.4,323.7 449.9,323.9 450.4,323.9 450.9,324.1 451.4,324.1 451.9,324.4 452.4,324.3 452.9,324.4 453.4,324.6 453.9,324.7 454.4,324.9 454.9,324.9 455.4,325.1 455.9,325.0 456.4,325.1 456.9,325.1 457.4,325.3 457.9,325.5 458.4,325.6 458.9,325.6 459.4,325.6 459.9,325.6 460.4,325.8 460.9,326.0 461.4,326.1 461.9,326.2 462.4,326.4 462.9,326.7 463.4,326.8 463.9,327.0 464.4,327.1 464.9,327.3 465.4,327.5 465.9,327.7 466.4,327.9 466.9,328.1 467.4,328.2 467.9,328.5 468.4,328.7 468.9,329.0 469.4,329.1 469.9,329.3 470.4,329.6 470.9,329.9 471.4,330.0 471.9,330.2 472.4,330.5 472.9,330.9 473.4,331.1 473.9,331.2 474.4,331.4 474.9,331.7 475.4,332.1 475.9,332.3 476.4,332.5 476.9,332.6 477.4,332.9 477.9,333.0 478.4,333.3 478.9,333.5 479.4,333.8 479.9,334.2 480.4,334.4 480.9,334.6 481.4,334.8 481.9,335.0 482.4,335.3 482.9,335.5 483.4,335.7 483.9,335.8 484.4,336.0 484.9,336.3 485.4,336.5 485.9,336.7 486.4,337.0 486.9,337.2 487.4,337.4 487.9,337.6 488.4,337.8 488.9,338.0 489.4,338.2 489.9,338.4 490.4,338.6 490.9,338.8 491.4,339.1 491.9,339.4 492.4,339.5 492.9,339.8 493.4,340.0 493.9,340.1 494.4,340.2 494.9,340.4 495.4,340.7 495.9,340.8 496.4,341.1 496.9,341.2 497.4,341.4 497.9,341.6 498.4,341.9 498.9,342.0 499.4,342.2 499.9,342.2 500.4,342.5 500.9,342.5 501.4,342.6 501.9,342.8 502.4,343.0 502.9,343.2 503.4,343.4 503.9,343.5 504.4,343.7 504.9,343.7 505.4,343.7 505.9,343.8 506.4,343.8 506.9,343.8 507.4,343.7 507.9,343.9 508.4,344.0 508.9,343.8 509.4,343.1 509.9,342.1 510.4,340.8 510.9,339.6 511.4,338.0 511.9,336.3 512.4,334.4 512.9,332.8 513.4,331.0 513.9,329.2 514.4,327.0 514.9,324.7 515.4,322.3 515.9,319.9 516.4,317.4 516.9,315.0 517.4,312.5 517.9,309.6 518.4,306.0 518.9,302.1 519.4,298.4 519.9,295.1 520.4,292.8 520.9,291.5 521.4,291.7 521.9,293.3 522.4,296.0 522.9,299.3 523.4,303.1 523.9,307.0 524.4,310.8 524.9,313.8 525.4,316.5 525.9,319.2 526.4,322.0 526.9,324.9 527.4,327.6 527.9,330.3 528.4,332.9 528.9,335.2 529.4,337.4 529.9,339.6 530.4,341.6 530.9,343.6 531.4,345.4 531.9,347.3 532.4,349.2 532.9,351.1 533.4,352.8 533.9,354.6 534.4,355.9 534.9,357.2 535.4,358.2 535.9,359.3 536.4,360.1 536.9,360.7 537.4,360.9 537.9,361.4 538.4,361.7 538.9,362.3 539.4,362.7 539.9,363.1 540.4,363.5 540.9,363.7 541.4,364.0 541.9,364.3 542.4,364.6 542.9,364.8 543.4,365.0 543.9,365.1 544.4,365.1 544.9,365.3 545.4,365.4 545.9,365.7 546.4,365.9 546.9,366.0 547.4,366.1 547.9,366.1 548.4,366.2 548.9,366.3 549.4,366.3 549.9,366.3 550.4,366.3 550.9,366.6 551.4,366.6 551.9,366.5" fill="none" stroke="#7e2f8e" stroke-width="1.35" stroke-linejoin="round" clip-path="url(#cc)"/>
<line x1="132.4" y1="462.4" x2="552.0" y2="462.4" stroke="#959595" stroke-width="1.1"/>
<line x1="132.4" y1="279.1" x2="132.4" y2="462.4" stroke="#999" stroke-width="1.1"/>
<line x1="132.4" y1="279.1" x2="552.0" y2="279.1" stroke="#bbb" stroke-width="1.1"/>
<line x1="552.0" y1="279.1" x2="552.0" y2="462.4" stroke="#aaa" stroke-width="1.4"/>
<line x1="132.4" y1="462.4" x2="132.4" y2="458.4" stroke="#8a8a8a" stroke-width="0.8"/>
<line x1="132.4" y1="279.1" x2="132.4" y2="283.1" stroke="#8a8a8a" stroke-width="0.8"/>
<line x1="232.4" y1="462.4" x2="232.4" y2="458.4" stroke="#8a8a8a" stroke-width="0.8"/>
<line x1="232.4" y1="279.1" x2="232.4" y2="283.1" stroke="#8a8a8a" stroke-width="0.8"/>
<line x1="332.4" y1="462.4" x2="332.4" y2="458.4" stroke="#8a8a8a" stroke-width="0.8"/>
<line x1="332.4" y1="279.1" x2="332.4" y2="283.1" stroke="#8a8a8a" stroke-width="0.8"/>
<line x1="432.4" y1="462.4" x2="432.4" y2="458.4" stroke="#8a8a8a" stroke-width="0.8"/>
<line x1="432.4" y1="279.1" x2="432.4" y2="283.1" stroke="#8a8a8a" stroke-width="0.8"/>
<line x1="532.4" y1="462.4" x2="532.4" y2="458.4" stroke="#8a8a8a" stroke-width="0.8"/>
<line x1="532.4" y1="279.1" x2="532.4" y2="283.1" stroke="#8a8a8a" stroke-width="0.8"/>
<line x1="132.4" y1="279.1" x2="136.4" y2="279.1" stroke="#8a8a8a" stroke-width="0.8"/>
<line x1="552.0" y1="279.1" x2="548.0" y2="279.1" stroke="#8a8a8a" stroke-width="0.8"/>
<line x1="132.4" y1="315.76" x2="136.4" y2="315.76" stroke="#8a8a8a" stroke-width="0.8"/>
<line x1="552.0" y1="315.76" x2="548.0" y2="315.76" stroke="#8a8a8a" stroke-width="0.8"/>
<line x1="132.4" y1="352.42" x2="136.4" y2="352.42" stroke="#8a8a8a" stroke-width="0.8"/>
<line x1="552.0" y1="352.42" x2="548.0" y2="352.42" stroke="#8a8a8a" stroke-width="0.8"/>
<line x1="132.4" y1="389.08" x2="136.4" y2="389.08" stroke="#8a8a8a" stroke-width="0.8"/>
<line x1="552.0" y1="389.08" x2="548.0" y2="389.08" stroke="#8a8a8a" stroke-width="0.8"/>
<line x1="132.4" y1="425.74" x2="136.4" y2="425.74" stroke="#8a8a8a" stroke-width="0.8"/>
<line x1="552.0" y1="425.74" x2="548.0" y2="425.74" stroke="#8a8a8a" stroke-width="0.8"/>
<line x1="132.4" y1="462.4" x2="136.4" y2="462.4" stroke="#8a8a8a" stroke-width="0.8"/>
<line x1="552.0" y1="462.4" x2="548.0" y2="462.4" stroke="#8a8a8a" stroke-width="0.8"/>
<line x1="287.8" y1="37.9" x2="290" y2="37.9" stroke="#555" stroke-width="0.6"/>
<line x1="287.8" y1="71.7" x2="290" y2="71.7" stroke="#555" stroke-width="0.6"/>
<line x1="287.8" y1="105.5" x2="290" y2="105.5" stroke="#555" stroke-width="0.6"/>
<line x1="287.8" y1="139.2" x2="290" y2="139.2" stroke="#555" stroke-width="0.6"/>
<line x1="287.8" y1="173.0" x2="290" y2="173.0" stroke="#555" stroke-width="0.6"/>
<line x1="287.8" y1="206.8" x2="290" y2="206.8" stroke="#555" stroke-width="0.6"/>
<line x1="648.3" y1="37.9" x2="650.5" y2="37.9" stroke="#555" stroke-width="0.6"/>
<line x1="648.3" y1="71.7" x2="650.5" y2="71.7" stroke="#555" stroke-width="0.6"/>
<line x1="648.3" y1="105.5" x2="650.5" y2="105.5" stroke="#555" stroke-width="0.6"/>
<line x1="648.3" y1="139.2" x2="650.5" y2="139.2" stroke="#555" stroke-width="0.6"/>
<line x1="648.3" y1="173.0" x2="650.5" y2="173.0" stroke="#555" stroke-width="0.6"/>
<line x1="648.3" y1="206.8" x2="650.5" y2="206.8" stroke="#555" stroke-width="0.6"/>
<rect x="137.5" y="279.5" width="101" height="99" fill="#fff" stroke="#a8a8a8" stroke-width="1"/>
<line x1="140" y1="291.90000000000003" x2="163.6" y2="291.90000000000003" stroke="#0072bd" stroke-width="1.6"/>
<line x1="140" y1="316.50000000000006" x2="163.6" y2="316.50000000000006" stroke="#d95319" stroke-width="1.6"/>
<line x1="140" y1="341.1" x2="163.6" y2="341.1" stroke="#edb120" stroke-width="1.6"/>
<line x1="140" y1="365.70000000000005" x2="163.6" y2="365.70000000000005" stroke="#7e2f8e" stroke-width="1.6"/>
<line x1="319" y1="331.6" x2="465" y2="331.6" stroke="#000" stroke-width="2"/>
<polygon points="314,331.6 321.5,328.3 321.5,334.90000000000003" fill="#000"/>
<polygon points="470,331.6 462.5,328.3 462.5,334.90000000000003" fill="#000"/>
<text transform="translate(2.42,31.28) scale(1.070,1)" font-size="20.03" font-weight="bold" fill="#000">(a)</text>
<text transform="translate(29.85,69.00) scale(1.050,1)" font-size="15.00" text-anchor="end" fill="#262626">6</text>
<text transform="translate(29.61,121.46) scale(1.050,1)" font-size="15.00" text-anchor="end" fill="#262626">4</text>
<text transform="translate(29.93,172.47) scale(1.050,1)" font-size="15.00" text-anchor="end" fill="#262626">2</text>
<text transform="translate(35.49,226.73) scale(1.050,1)" font-size="15.00" text-anchor="middle" fill="#262626">1400</text>
<text transform="translate(101.35,226.73) scale(1.050,1)" font-size="15.00" text-anchor="middle" fill="#262626">1500</text>
<text transform="translate(167.21,226.73) scale(1.050,1)" font-size="15.00" text-anchor="middle" fill="#262626">1600</text>
<text transform="translate(233.07,226.73) scale(1.050,1)" font-size="15.00" text-anchor="middle" fill="#262626">1700</text>
<text transform="translate(150.75,248.54) scale(1.080,1)" font-size="16.60" text-anchor="middle" fill="#262626">Wavelength [nm]</text>
<text transform="translate(14.63,113.16) rotate(-90) scale(1.080,1)" font-size="16.60" text-anchor="middle" fill="#262626">Pump Power [W]</text>
<text transform="translate(239.39,10.37) scale(1.200,1)" font-size="12.20" fill="#262626">Intensity [dB]</text>
<text transform="translate(294.51,42.59)" font-size="14.50" fill="#262626">0</text>
<text transform="translate(294.33,76.67)" font-size="14.50" fill="#262626">-20</text>
<text transform="translate(294.33,110.77)" font-size="14.50" fill="#262626">-40</text>
<text transform="translate(294.33,144.17)" font-size="14.50" fill="#262626">-60</text>
<text transform="translate(294.33,178.28)" font-size="14.50" fill="#262626">-80</text>
<text transform="translate(293.90,211.67)" font-size="14.50" fill="#262626">-100</text>
<text transform="translate(82.37,84.67) scale(0.960,1)" font-size="20.60" font-weight="bold" fill="#000">P</text>
<text transform="translate(145.74,198.45) scale(0.950,1)" font-size="21.60" font-weight="bold" fill="#000">S1</text>
<text transform="translate(215.09,100.32) scale(0.990,1)" font-size="21.00" font-weight="bold" fill="#000">S2</text>
<text transform="translate(361.50,31.28) scale(1.046,1)" font-size="20.03" font-weight="bold" fill="#000">(b)</text>
<text transform="translate(390.62,72.43) scale(1.050,1)" font-size="15.00" text-anchor="end" fill="#262626">6</text>
<text transform="translate(390.73,122.57) scale(1.050,1)" font-size="15.00" text-anchor="end" fill="#262626">4</text>
<text transform="translate(390.58,173.72) scale(1.050,1)" font-size="15.00" text-anchor="end" fill="#262626">2</text>
<text transform="translate(395.61,226.67) scale(1.050,1)" font-size="15.00" text-anchor="middle" fill="#262626">1400</text>
<text transform="translate(461.47,226.67) scale(1.050,1)" font-size="15.00" text-anchor="middle" fill="#262626">1500</text>
<text transform="translate(527.33,226.67) scale(1.050,1)" font-size="15.00" text-anchor="middle" fill="#262626">1600</text>
<text transform="translate(593.19,226.67) scale(1.050,1)" font-size="15.00" text-anchor="middle" fill="#262626">1700</text>
<text transform="translate(511.69,248.54) scale(1.080,1)" font-size="16.60" text-anchor="middle" fill="#262626">Wavelength [nm]</text>
<text transform="translate(374.62,112.49) rotate(-90) scale(1.080,1)" font-size="16.60" text-anchor="middle" fill="#262626">Pump Power [W]</text>
<text transform="translate(599.94,10.93) scale(1.200,1)" font-size="12.20" fill="#262626">Intensity [dB]</text>
<text transform="translate(654.90,42.55)" font-size="14.50" fill="#262626">0</text>
<text transform="translate(654.60,76.70)" font-size="14.50" fill="#262626">-20</text>
<text transform="translate(654.60,110.80)" font-size="14.50" fill="#262626">-40</text>
<text transform="translate(654.60,144.21)" font-size="14.50" fill="#262626">-60</text>
<text transform="translate(654.60,178.31)" font-size="14.50" fill="#262626">-80</text>
<text transform="translate(654.20,211.70)" font-size="14.50" fill="#262626">-100</text>
<text transform="translate(442.82,84.50) scale(0.960,1)" font-size="20.60" font-weight="bold" fill="#000">P</text>
<text transform="translate(507.84,195.95) scale(0.950,1)" font-size="21.60" font-weight="bold" fill="#000">S1</text>
<text transform="translate(575.62,179.46) scale(0.990,1)" font-size="21.00" font-weight="bold" fill="#000">S2</text>
<text transform="translate(81.68,298.26) scale(1.040,1)" font-size="20.43" font-weight="bold" fill="#000">(c)</text>
<text transform="translate(126.93,285.09) scale(1.050,1)" font-size="15.00" text-anchor="end" fill="#262626">-10</text>
<text transform="translate(126.93,321.55) scale(1.050,1)" font-size="15.00" text-anchor="end" fill="#262626">-20</text>
<text transform="translate(126.93,358.01) scale(1.050,1)" font-size="15.00" text-anchor="end" fill="#262626">-30</text>
<text transform="translate(126.93,394.47) scale(1.050,1)" font-size="15.00" text-anchor="end" fill="#262626">-40</text>
<text transform="translate(126.93,430.93) scale(1.050,1)" font-size="15.00" text-anchor="end" fill="#262626">-50</text>
<text transform="translate(127.34,469.41) scale(1.050,1)" font-size="15.00" text-anchor="end" fill="#262626">-60</text>
<text transform="translate(132.48,483.97) scale(1.050,1)" font-size="15.00" text-anchor="middle" fill="#262626">1500</text>
<text transform="translate(232.48,483.97) scale(1.050,1)" font-size="15.00" text-anchor="middle" fill="#262626">1550</text>
<text transform="translate(331.95,483.19) scale(1.050,1)" font-size="15.00" text-anchor="middle" fill="#262626">1600</text>
<text transform="translate(432.48,483.97) scale(1.050,1)" font-size="15.00" text-anchor="middle" fill="#262626">1650</text>
<text transform="translate(532.48,483.97) scale(1.050,1)" font-size="15.00" text-anchor="middle" fill="#262626">1700</text>
<text transform="translate(342.50,505.99) scale(1.080,1)" font-size="16.60" text-anchor="middle" fill="#262626">Wavelength [nm]</text>
<text transform="translate(97.75,369.88) rotate(-90) scale(1.080,1)" font-size="16.60" text-anchor="middle" fill="#262626">Signal [dBm]</text>
<text transform="translate(286.47,294.83) scale(0.950,1)" font-size="21.60" font-weight="bold" fill="#000">S1</text>
<text transform="translate(507.29,295.25) scale(0.990,1)" font-size="21.00" font-weight="bold" fill="#000">S2</text>
<text transform="translate(363.61,350.73) scale(1.126,1)" font-size="14.34" font-weight="bold" fill="#000">77 nm</text>
<text transform="translate(164.41,294.90) scale(1.060,1)" font-size="13.20" fill="#262626">P</text>
<text transform="translate(175.81,301.56) scale(1.100,1)" font-size="9.60" fill="#262626">p</text>
<text transform="translate(185.91,294.34) scale(1.080,1)" font-size="13.20" fill="#262626">= 1.8 W</text>
<text transform="translate(164.41,319.50) scale(1.060,1)" font-size="13.20" fill="#262626">P</text>
<text transform="translate(175.81,326.16) scale(1.100,1)" font-size="9.60" fill="#262626">p</text>
<text transform="translate(185.91,318.94) scale(1.080,1)" font-size="13.20" fill="#262626">= 3.0 W</text>
<text transform="translate(164.41,344.10) scale(1.060,1)" font-size="13.20" fill="#262626">P</text>
<text transform="translate(175.81,350.76) scale(1.100,1)" font-size="9.60" fill="#262626">p</text>
<text transform="translate(185.91,343.54) scale(1.080,1)" font-size="13.20" fill="#262626">= 4.6 W</text>
<text transform="translate(164.41,368.70) scale(1.060,1)" font-size="13.20" fill="#262626">P</text>
<text transform="translate(175.81,375.36) scale(1.100,1)" font-size="9.60" fill="#262626">p</text>
<text transform="translate(185.91,368.14) scale(1.080,1)" font-size="13.20" fill="#262626">= 7.0 W</text>
</svg>
</div>
</body></html>
